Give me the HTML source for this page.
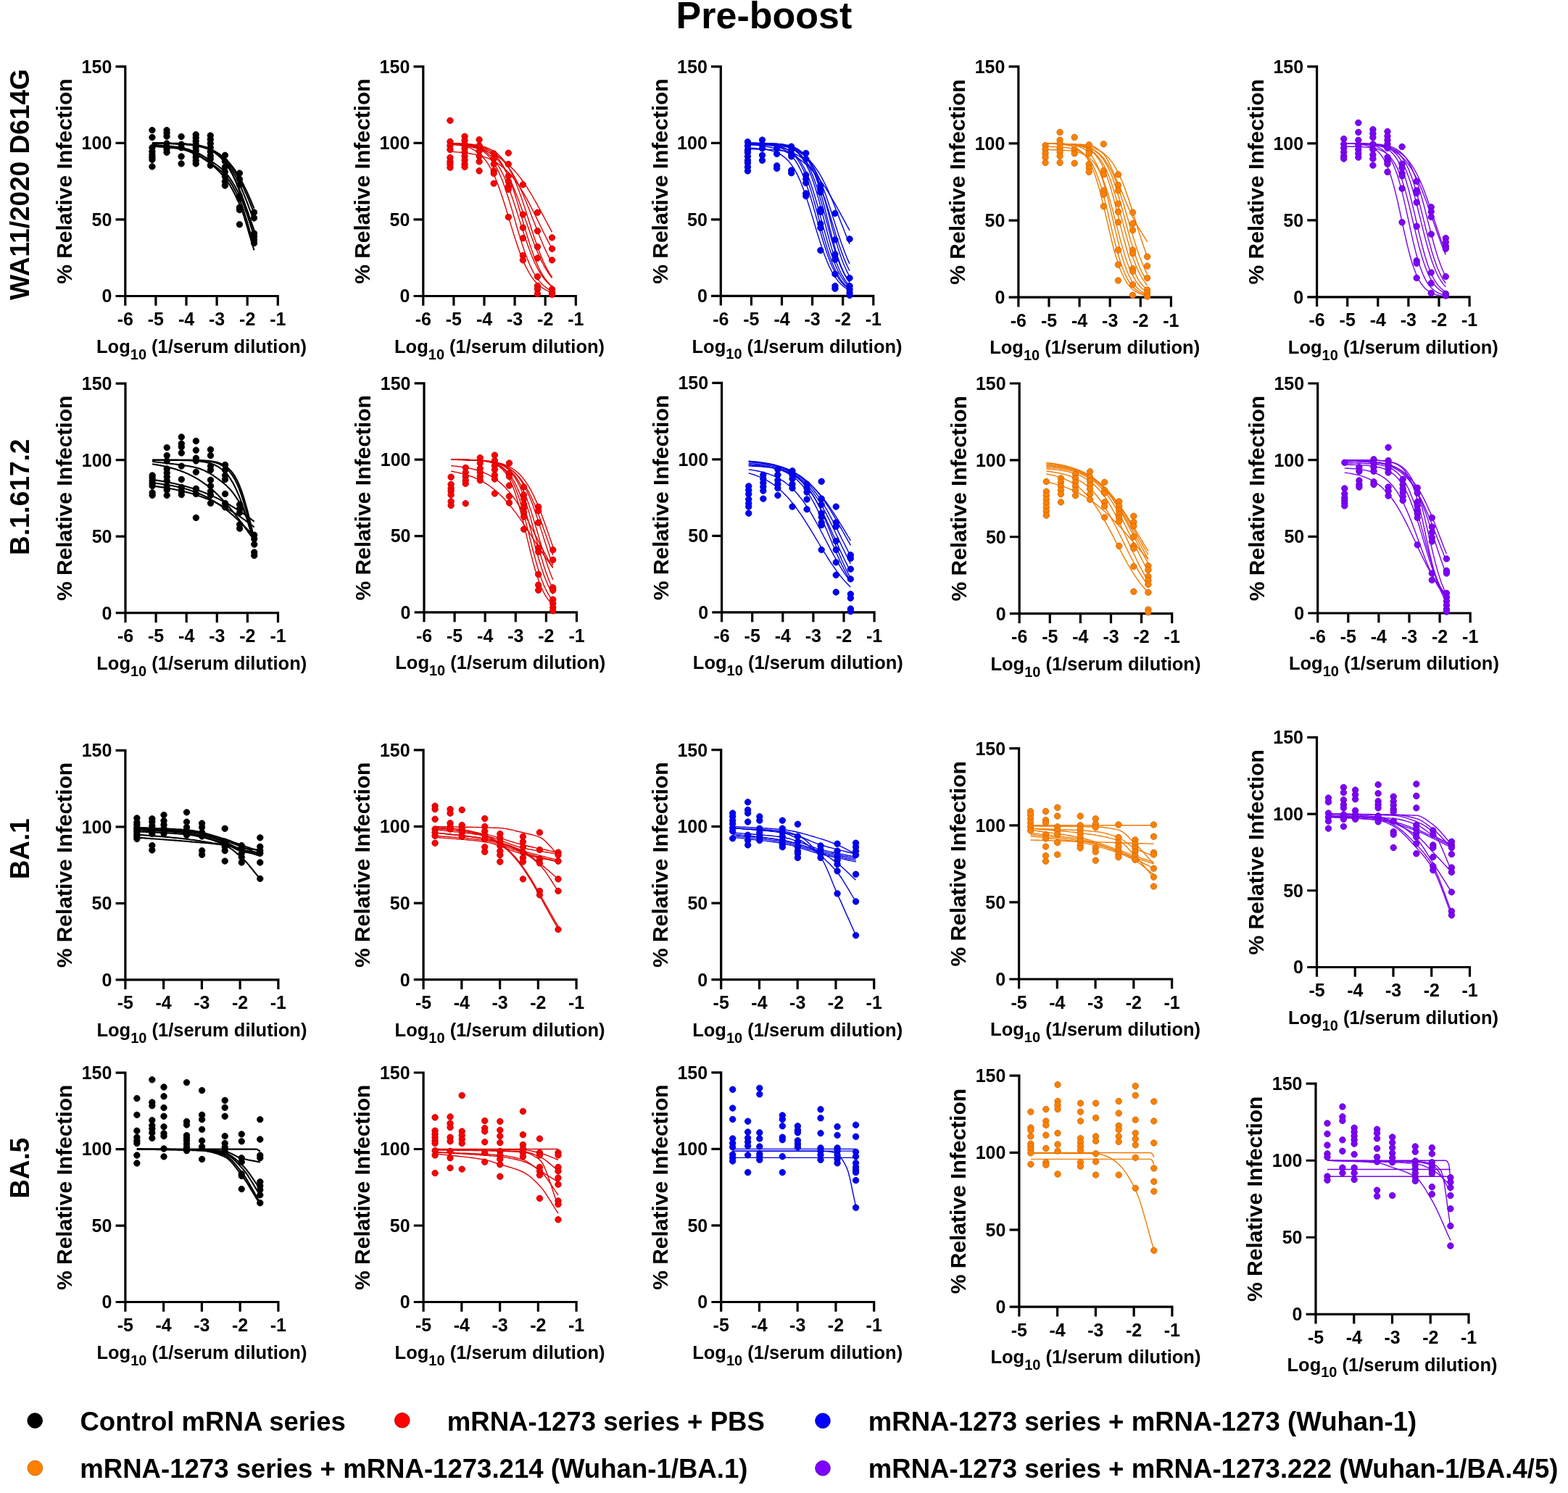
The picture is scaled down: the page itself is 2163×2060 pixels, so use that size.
<!DOCTYPE html><html><head><meta charset="utf-8"><title>Pre-boost</title><style>html,body{margin:0;padding:0;background:#fff;overflow:hidden;}svg{display:block;}text{font-family:'Liberation Sans', Arial, Helvetica, sans-serif;font-weight:bold;fill:#000;}</style></head><body>
<svg width="2163" height="2060" viewBox="0 0 2163 2060">
<rect width="2163" height="2060" fill="#fff"/>
<text x="1053.9" y="39.3" font-size="52" text-anchor="middle" fill="#1a1718">Pre-boost</text>
<text transform="translate(39.6 254.6) rotate(-90)" font-size="37" text-anchor="middle">WA11/2020 D614G</text>
<text transform="translate(39.6 685.8) rotate(-90)" font-size="37" text-anchor="middle">B.1.617.2</text>
<text transform="translate(39.6 1171.2) rotate(-90)" font-size="37" text-anchor="middle">BA.1</text>
<text transform="translate(39.6 1611.7) rotate(-90)" font-size="37" text-anchor="middle">BA.5</text>
<g><path d="M172.8 90.2V421.8M171.2 408.5H384.9M159.5 408.5H172.8M159.5 302.93H172.8M159.5 197.37H172.8M159.5 91.8H172.8M214.9 408.5V421.8M257 408.5V421.8M299.1 408.5V421.8M341.2 408.5V421.8M383.3 408.5V421.8" stroke="#000" stroke-width="3.2" fill="none"/><text x="154.3" y="417.4" font-size="25" text-anchor="end">0</text><text x="154.3" y="311.83" font-size="25" text-anchor="end">50</text><text x="154.3" y="206.27" font-size="25" text-anchor="end">100</text><text x="154.3" y="100.7" font-size="25" text-anchor="end">150</text><text x="172.8" y="449.1" font-size="25" text-anchor="middle">-6</text><text x="214.9" y="449.1" font-size="25" text-anchor="middle">-5</text><text x="257" y="449.1" font-size="25" text-anchor="middle">-4</text><text x="299.1" y="449.1" font-size="25" text-anchor="middle">-3</text><text x="341.2" y="449.1" font-size="25" text-anchor="middle">-2</text><text x="383.3" y="449.1" font-size="25" text-anchor="middle">-1</text><text x="278.05" y="486.7" font-size="25.5" text-anchor="middle">Log<tspan font-size="20" dy="8.8">10</tspan><tspan dy="-8.8"> (1/serum dilution)</tspan></text><text transform="translate(99.1 250.15) rotate(-90)" font-size="30" text-anchor="middle">% Relative Infection</text><path d="M209.9 197.6 211.7 197.6 213.5 197.6 215.2 197.6 217.0 197.7 218.7 197.7 220.5 197.7 222.2 197.7 224.0 197.8 225.8 197.8 227.5 197.8 229.3 197.9 231.0 197.9 232.8 198.0 234.5 198.0 236.3 198.1 238.1 198.2 239.8 198.2 241.6 198.3 243.3 198.4 245.1 198.5 246.8 198.6 248.6 198.7 250.4 198.8 252.1 198.9 253.9 199.0 255.6 199.2 257.4 199.3 259.2 199.5 260.9 199.7 262.7 199.9 264.4 200.1 266.2 200.3 267.9 200.6 269.7 200.8 271.5 201.1 273.2 201.4 275.0 201.8 276.7 202.1 278.5 202.5 280.2 203.0 282.0 203.5 283.8 204.0 285.5 204.5 287.3 205.1 289.0 205.7 290.8 206.4 292.5 207.2 294.3 208.0 296.1 208.8 297.8 209.8 299.6 210.8 301.3 211.9 303.1 213.0 304.8 214.3 306.6 215.6 308.4 217.0 310.1 218.5 311.9 220.2 313.6 221.9 315.4 223.7 317.2 225.7 318.9 227.8 320.7 230.0 322.4 232.4 324.2 234.9 325.9 237.5 327.7 240.2 329.5 243.1 331.2 246.1 333.0 249.3 334.7 252.6 336.5 256.1 338.2 259.6 340.0 263.3 341.8 267.1 343.5 271.0 345.3 275.1 347.0 279.2 348.8 283.3 350.5 287.6" stroke="#000000" stroke-width="2.1" fill="none" stroke-linejoin="round"/><path d="M209.9 197.5 211.7 197.6 213.5 197.6 215.2 197.6 217.0 197.6 218.7 197.6 220.5 197.7 222.2 197.7 224.0 197.7 225.8 197.8 227.5 197.8 229.3 197.8 231.0 197.9 232.8 197.9 234.5 198.0 236.3 198.0 238.1 198.1 239.8 198.1 241.6 198.2 243.3 198.3 245.1 198.4 246.8 198.5 248.6 198.5 250.4 198.7 252.1 198.8 253.9 198.9 255.6 199.0 257.4 199.2 259.2 199.3 260.9 199.5 262.7 199.7 264.4 199.9 266.2 200.2 267.9 200.4 269.7 200.7 271.5 201.0 273.2 201.3 275.0 201.6 276.7 202.0 278.5 202.4 280.2 202.9 282.0 203.3 283.8 203.9 285.5 204.4 287.3 205.1 289.0 205.7 290.8 206.4 292.5 207.2 294.3 208.1 296.1 209.0 297.8 210.0 299.6 211.0 301.3 212.2 303.1 213.4 304.8 214.8 306.6 216.2 308.4 217.7 310.1 219.4 311.9 221.1 313.6 223.0 315.4 225.0 317.2 227.2 318.9 229.5 320.7 231.9 322.4 234.5 324.2 237.2 325.9 240.0 327.7 243.1 329.5 246.2 331.2 249.6 333.0 253.0 334.7 256.7 336.5 260.4 338.2 264.3 340.0 268.3 341.8 272.5 343.5 276.7 345.3 281.0 347.0 285.4 348.8 289.9 350.5 294.4" stroke="#000000" stroke-width="2.1" fill="none" stroke-linejoin="round"/><path d="M209.9 197.5 211.7 197.5 213.5 197.5 215.2 197.6 217.0 197.6 218.7 197.6 220.5 197.6 222.2 197.6 224.0 197.7 225.8 197.7 227.5 197.7 229.3 197.8 231.0 197.8 232.8 197.9 234.5 197.9 236.3 198.0 238.1 198.0 239.8 198.1 241.6 198.1 243.3 198.2 245.1 198.3 246.8 198.4 248.6 198.5 250.4 198.6 252.1 198.7 253.9 198.8 255.6 199.0 257.4 199.1 259.2 199.3 260.9 199.4 262.7 199.6 264.4 199.9 266.2 200.1 267.9 200.4 269.7 200.6 271.5 200.9 273.2 201.3 275.0 201.6 276.7 202.0 278.5 202.5 280.2 203.0 282.0 203.5 283.8 204.0 285.5 204.7 287.3 205.3 289.0 206.1 290.8 206.9 292.5 207.7 294.3 208.7 296.1 209.7 297.8 210.8 299.6 212.0 301.3 213.3 303.1 214.6 304.8 216.2 306.6 217.8 308.4 219.5 310.1 221.4 311.9 223.4 313.6 225.6 315.4 227.9 317.2 230.3 318.9 233.0 320.7 235.7 322.4 238.7 324.2 241.8 325.9 245.1 327.7 248.6 329.5 252.2 331.2 256.0 333.0 259.9 334.7 264.0 336.5 268.2 338.2 272.6 340.0 277.1 341.8 281.7 343.5 286.3 345.3 291.1 347.0 295.8 348.8 300.7 350.5 305.5" stroke="#000000" stroke-width="2.1" fill="none" stroke-linejoin="round"/><path d="M209.9 197.5 211.7 197.5 213.5 197.5 215.2 197.5 217.0 197.6 218.7 197.6 220.5 197.6 222.2 197.6 224.0 197.6 225.8 197.7 227.5 197.7 229.3 197.7 231.0 197.8 232.8 197.8 234.5 197.9 236.3 197.9 238.1 198.0 239.8 198.0 241.6 198.1 243.3 198.2 245.1 198.2 246.8 198.3 248.6 198.4 250.4 198.5 252.1 198.6 253.9 198.8 255.6 198.9 257.4 199.1 259.2 199.2 260.9 199.4 262.7 199.6 264.4 199.9 266.2 200.1 267.9 200.4 269.7 200.7 271.5 201.0 273.2 201.4 275.0 201.8 276.7 202.2 278.5 202.7 280.2 203.2 282.0 203.8 283.8 204.4 285.5 205.1 287.3 205.8 289.0 206.6 290.8 207.5 292.5 208.5 294.3 209.5 296.1 210.7 297.8 211.9 299.6 213.3 301.3 214.8 303.1 216.4 304.8 218.1 306.6 219.9 308.4 222.0 310.1 224.1 311.9 226.5 313.6 229.0 315.4 231.6 317.2 234.5 318.9 237.5 320.7 240.7 322.4 244.1 324.2 247.7 325.9 251.5 327.7 255.5 329.5 259.6 331.2 263.9 333.0 268.3 334.7 272.9 336.5 277.7 338.2 282.5 340.0 287.4 341.8 292.4 343.5 297.5 345.3 302.5 347.0 307.6 348.8 312.7 350.5 317.7" stroke="#000000" stroke-width="2.1" fill="none" stroke-linejoin="round"/><path d="M209.9 197.4 211.7 197.4 213.5 197.5 215.2 197.5 217.0 197.5 218.7 197.5 220.5 197.5 222.2 197.5 224.0 197.5 225.8 197.5 227.5 197.6 229.3 197.6 231.0 197.6 232.8 197.6 234.5 197.7 236.3 197.7 238.1 197.7 239.8 197.8 241.6 197.8 243.3 197.9 245.1 197.9 246.8 198.0 248.6 198.1 250.4 198.2 252.1 198.2 253.9 198.3 255.6 198.4 257.4 198.6 259.2 198.7 260.9 198.8 262.7 199.0 264.4 199.2 266.2 199.4 267.9 199.6 269.7 199.9 271.5 200.1 273.2 200.4 275.0 200.8 276.7 201.1 278.5 201.6 280.2 202.0 282.0 202.5 283.8 203.1 285.5 203.7 287.3 204.4 289.0 205.1 290.8 206.0 292.5 206.9 294.3 207.9 296.1 209.0 297.8 210.2 299.6 211.6 301.3 213.0 303.1 214.6 304.8 216.4 306.6 218.3 308.4 220.4 310.1 222.6 311.9 225.1 313.6 227.7 315.4 230.6 317.2 233.6 318.9 236.9 320.7 240.4 322.4 244.2 324.2 248.1 325.9 252.3 327.7 256.7 329.5 261.3 331.2 266.1 333.0 271.1 334.7 276.3 336.5 281.6 338.2 287.0 340.0 292.5 341.8 298.0 343.5 303.6 345.3 309.2 347.0 314.7 348.8 320.2 350.5 325.6" stroke="#000000" stroke-width="2.1" fill="none" stroke-linejoin="round"/><path d="M209.9 200.5 211.7 200.7 213.5 200.9 215.2 201.0 217.0 201.2 218.7 201.4 220.5 201.5 222.2 201.6 224.0 201.8 225.8 201.9 227.5 202.1 229.3 202.2 231.0 202.4 232.8 202.5 234.5 202.7 236.3 202.9 238.1 203.1 239.8 203.3 241.6 203.5 243.3 203.7 245.1 204.0 246.8 204.2 248.6 204.5 250.4 204.8 252.1 205.2 253.9 205.6 255.6 206.1 257.4 206.7 259.2 207.3 260.9 208.0 262.7 208.7 264.4 209.5 266.2 210.3 267.9 211.1 269.7 211.9 271.5 212.7 273.2 213.7 275.0 214.6 276.7 215.6 278.5 216.7 280.2 217.8 282.0 219.0 283.8 220.2 285.5 221.4 287.3 222.7 289.0 223.9 290.8 225.2 292.5 226.4 294.3 227.7 296.1 229.0 297.8 230.3 299.6 231.7 301.3 233.1 303.1 234.6 304.8 236.1 306.6 237.8 308.4 239.5 310.1 241.4 311.9 243.5 313.6 245.7 315.4 248.1 317.2 250.7 318.9 253.4 320.7 256.3 322.4 259.4 324.2 262.7 325.9 266.1 327.7 269.6 329.5 273.3 331.2 277.2 333.0 281.6 334.7 286.4 336.5 291.7 338.2 297.2 340.0 303.0 341.8 309.0 343.5 315.1 345.3 321.2 347.0 327.3 348.8 333.1 350.5 338.8" stroke="#000000" stroke-width="2.1" fill="none" stroke-linejoin="round"/><path d="M209.9 201.6 211.7 201.8 213.5 201.9 215.2 202.1 217.0 202.3 218.7 202.4 220.5 202.6 222.2 202.7 224.0 202.8 225.8 203.0 227.5 203.1 229.3 203.3 231.0 203.4 232.8 203.6 234.5 203.8 236.3 203.9 238.1 204.1 239.8 204.3 241.6 204.5 243.3 204.8 245.1 205.0 246.8 205.3 248.6 205.6 250.4 205.9 252.1 206.2 253.9 206.7 255.6 207.2 257.4 207.8 259.2 208.4 260.9 209.1 262.7 209.8 264.4 210.6 266.2 211.4 267.9 212.2 269.7 213.0 271.5 213.8 273.2 214.7 275.0 215.6 276.7 216.6 278.5 217.7 280.2 218.8 282.0 219.9 283.8 221.1 285.5 222.3 287.3 223.6 289.0 224.9 290.8 226.3 292.5 227.7 294.3 229.1 296.1 230.6 297.8 232.2 299.6 233.9 301.3 235.6 303.1 237.4 304.8 239.3 306.6 241.3 308.4 243.4 310.1 245.6 311.9 247.9 313.6 250.4 315.4 253.0 317.2 255.8 318.9 258.7 320.7 261.8 322.4 265.1 324.2 268.5 325.9 272.0 327.7 275.7 329.5 279.6 331.2 283.6 333.0 288.1 334.7 293.0 336.5 298.2 338.2 303.8 340.0 309.6 341.8 315.6 343.5 321.6 345.3 327.6 347.0 333.6 348.8 339.5 350.5 345.2" stroke="#000000" stroke-width="2.1" fill="none" stroke-linejoin="round"/><path d="M209.9 199.5 211.7 199.7 213.5 199.8 215.2 200.0 217.0 200.2 218.7 200.3 220.5 200.5 222.2 200.6 224.0 200.8 225.8 200.9 227.5 201.1 229.3 201.2 231.0 201.4 232.8 201.5 234.5 201.7 236.3 201.9 238.1 202.1 239.8 202.3 241.6 202.5 243.3 202.7 245.1 202.9 246.8 203.2 248.6 203.5 250.4 203.7 252.1 204.1 253.9 204.5 255.6 204.9 257.4 205.4 259.2 205.9 260.9 206.5 262.7 207.1 264.4 207.8 266.2 208.4 267.9 209.1 269.7 209.8 271.5 210.6 273.2 211.4 275.0 212.2 276.7 213.2 278.5 214.2 280.2 215.2 282.0 216.3 283.8 217.4 285.5 218.5 287.3 219.6 289.0 220.8 290.8 222.0 292.5 223.2 294.3 224.3 296.1 225.5 297.8 226.8 299.6 228.0 301.3 229.4 303.1 230.8 304.8 232.2 306.6 233.8 308.4 235.4 310.1 237.2 311.9 239.1 313.6 241.2 315.4 243.5 317.2 246.0 318.9 248.6 320.7 251.3 322.4 254.2 324.2 257.3 325.9 260.5 327.7 263.8 329.5 267.2 331.2 270.7 333.0 274.6 334.7 278.9 336.5 283.5 338.2 288.3 340.0 293.3 341.8 298.4 343.5 303.7 345.3 308.9 347.0 314.1 348.8 319.1 350.5 324.0" stroke="#000000" stroke-width="2.1" fill="none" stroke-linejoin="round"/><g fill="#000000" stroke="#000000" stroke-width="0.9"><circle cx="209.94" cy="179.63" r="4.2"/><circle cx="209.94" cy="189.55" r="4.2"/><circle cx="209.94" cy="203.7" r="4.2"/><circle cx="209.94" cy="209.19" r="4.2"/><circle cx="209.94" cy="213.62" r="4.2"/><circle cx="209.94" cy="217" r="4.2"/><circle cx="209.94" cy="220.38" r="4.2"/><circle cx="209.94" cy="229.88" r="4.2"/><circle cx="230.03" cy="179.63" r="4.2"/><circle cx="230.03" cy="183.64" r="4.2"/><circle cx="230.03" cy="188.08" r="4.2"/><circle cx="230.03" cy="198" r="4.2"/><circle cx="230.03" cy="202.65" r="4.2"/><circle cx="230.03" cy="205.81" r="4.2"/><circle cx="230.03" cy="210.25" r="4.2"/><circle cx="250.11" cy="188.5" r="4.2"/><circle cx="250.11" cy="199.27" r="4.2"/><circle cx="250.11" cy="203.7" r="4.2"/><circle cx="250.11" cy="215.95" r="4.2"/><circle cx="250.11" cy="225.87" r="4.2"/><circle cx="270.2" cy="185.75" r="4.2"/><circle cx="270.2" cy="190.19" r="4.2"/><circle cx="270.2" cy="194.83" r="4.2"/><circle cx="270.2" cy="199.27" r="4.2"/><circle cx="270.2" cy="203.7" r="4.2"/><circle cx="270.2" cy="208.13" r="4.2"/><circle cx="270.2" cy="212.57" r="4.2"/><circle cx="270.2" cy="217" r="4.2"/><circle cx="270.2" cy="221.65" r="4.2"/><circle cx="270.2" cy="225.87" r="4.2"/><circle cx="290.29" cy="187.02" r="4.2"/><circle cx="290.29" cy="192.51" r="4.2"/><circle cx="290.29" cy="198" r="4.2"/><circle cx="290.29" cy="203.7" r="4.2"/><circle cx="290.29" cy="209.19" r="4.2"/><circle cx="290.29" cy="214.89" r="4.2"/><circle cx="290.29" cy="219.32" r="4.2"/><circle cx="290.29" cy="228.19" r="4.2"/><circle cx="310.37" cy="214.26" r="4.2"/><circle cx="310.37" cy="222.7" r="4.2"/><circle cx="310.37" cy="230.51" r="4.2"/><circle cx="310.37" cy="237.06" r="4.2"/><circle cx="310.37" cy="243.82" r="4.2"/><circle cx="310.37" cy="250.57" r="4.2"/><circle cx="310.37" cy="256.06" r="4.2"/><circle cx="330.46" cy="238.96" r="4.2"/><circle cx="330.46" cy="247.19" r="4.2"/><circle cx="330.46" cy="255.01" r="4.2"/><circle cx="330.46" cy="270.63" r="4.2"/><circle cx="330.46" cy="274.01" r="4.2"/><circle cx="330.46" cy="286.25" r="4.2"/><circle cx="330.46" cy="289.63" r="4.2"/><circle cx="330.46" cy="309.69" r="4.2"/><circle cx="350.55" cy="293.01" r="4.2"/><circle cx="350.55" cy="300.82" r="4.2"/><circle cx="350.55" cy="321.94" r="4.2"/><circle cx="350.55" cy="326.37" r="4.2"/><circle cx="350.55" cy="331.01" r="4.2"/><circle cx="350.55" cy="335.45" r="4.2"/></g></g>
<g><path d="M583.8 90.2V421.8M582.2 408.5H795.9M570.5 408.5H583.8M570.5 302.93H583.8M570.5 197.37H583.8M570.5 91.8H583.8M625.9 408.5V421.8M668 408.5V421.8M710.1 408.5V421.8M752.2 408.5V421.8M794.3 408.5V421.8" stroke="#000" stroke-width="3.2" fill="none"/><text x="565.3" y="417.4" font-size="25" text-anchor="end">0</text><text x="565.3" y="311.83" font-size="25" text-anchor="end">50</text><text x="565.3" y="206.27" font-size="25" text-anchor="end">100</text><text x="565.3" y="100.7" font-size="25" text-anchor="end">150</text><text x="583.8" y="449.1" font-size="25" text-anchor="middle">-6</text><text x="625.9" y="449.1" font-size="25" text-anchor="middle">-5</text><text x="668" y="449.1" font-size="25" text-anchor="middle">-4</text><text x="710.1" y="449.1" font-size="25" text-anchor="middle">-3</text><text x="752.2" y="449.1" font-size="25" text-anchor="middle">-2</text><text x="794.3" y="449.1" font-size="25" text-anchor="middle">-1</text><text x="689.05" y="486.7" font-size="25.5" text-anchor="middle">Log<tspan font-size="20" dy="8.8">10</tspan><tspan dy="-8.8"> (1/serum dilution)</tspan></text><text transform="translate(510.1 250.15) rotate(-90)" font-size="30" text-anchor="middle">% Relative Infection</text><path d="M620.9 198.6 622.7 198.8 624.5 198.9 626.2 199.1 628.0 199.3 629.7 199.5 631.5 199.8 633.2 200.0 635.0 200.3 636.8 200.7 638.5 201.1 640.3 201.5 642.0 202.0 643.8 202.5 645.5 203.1 647.3 203.7 649.1 204.4 650.8 205.2 652.6 206.1 654.3 207.1 656.1 208.2 657.8 209.4 659.6 210.7 661.4 212.1 663.1 213.7 664.9 215.5 666.6 217.4 668.4 219.5 670.2 221.7 671.9 224.2 673.7 226.9 675.4 229.9 677.2 233.0 678.9 236.4 680.7 240.1 682.5 243.9 684.2 248.1 686.0 252.5 687.7 257.1 689.5 261.9 691.2 267.0 693.0 272.2 694.8 277.7 696.5 283.2 698.3 288.9 700.0 294.7 701.8 300.5 703.5 306.3 705.3 312.1 707.1 317.9 708.8 323.6 710.6 329.1 712.3 334.5 714.1 339.7 715.8 344.8 717.6 349.6 719.4 354.1 721.1 358.5 722.9 362.6 724.6 366.4 726.4 370.0 728.2 373.4 729.9 376.5 731.7 379.4 733.4 382.1 735.2 384.5 736.9 386.8 738.7 388.8 740.5 390.7 742.2 392.4 744.0 394.0 745.7 395.4 747.5 396.7 749.2 397.9 751.0 398.9 752.8 399.9 754.5 400.8 756.3 401.6 758.0 402.3 759.8 402.9 761.5 403.5" stroke="#e00000" stroke-width="1.4" fill="none" stroke-linejoin="round"/><path d="M620.9 198.0 622.7 198.0 624.5 198.1 626.2 198.2 628.0 198.3 629.7 198.4 631.5 198.6 633.2 198.7 635.0 198.9 636.8 199.1 638.5 199.3 640.3 199.5 642.0 199.8 643.8 200.1 645.5 200.4 647.3 200.7 649.1 201.1 650.8 201.6 652.6 202.1 654.3 202.7 656.1 203.3 657.8 204.0 659.6 204.8 661.4 205.6 663.1 206.6 664.9 207.7 666.6 208.9 668.4 210.2 670.2 211.7 671.9 213.3 673.7 215.1 675.4 217.0 677.2 219.2 678.9 221.6 680.7 224.1 682.5 226.9 684.2 230.0 686.0 233.3 687.7 236.9 689.5 240.7 691.2 244.8 693.0 249.2 694.8 253.9 696.5 258.8 698.3 263.9 700.0 269.3 701.8 274.8 703.5 280.6 705.3 286.5 707.1 292.4 708.8 298.5 710.6 304.6 712.3 310.7 714.1 316.7 715.8 322.6 717.6 328.4 719.4 334.1 721.1 339.5 722.9 344.8 724.6 349.8 726.4 354.6 728.2 359.1 729.9 363.3 731.7 367.3 733.4 370.9 735.2 374.4 736.9 377.5 738.7 380.5 740.5 383.2 742.2 385.6 744.0 387.9 745.7 389.9 747.5 391.8 749.2 393.5 751.0 395.0 752.8 396.4 754.5 397.6 756.3 398.8 758.0 399.8 759.8 400.7 761.5 401.5" stroke="#e00000" stroke-width="1.4" fill="none" stroke-linejoin="round"/><path d="M620.9 198.0 622.7 198.1 624.5 198.2 626.2 198.3 628.0 198.4 629.7 198.5 631.5 198.6 633.2 198.8 635.0 198.9 636.8 199.1 638.5 199.3 640.3 199.5 642.0 199.7 643.8 200.0 645.5 200.3 647.3 200.6 649.1 201.0 650.8 201.4 652.6 201.8 654.3 202.3 656.1 202.8 657.8 203.4 659.6 204.1 661.4 204.8 663.1 205.6 664.9 206.5 666.6 207.4 668.4 208.5 670.2 209.7 671.9 210.9 673.7 212.4 675.4 213.9 677.2 215.6 678.9 217.4 680.7 219.4 682.5 221.6 684.2 224.0 686.0 226.5 687.7 229.3 689.5 232.2 691.2 235.4 693.0 238.8 694.8 242.5 696.5 246.3 698.3 250.4 700.0 254.7 701.8 259.3 703.5 264.0 705.3 268.9 707.1 274.0 708.8 279.2 710.6 284.6 712.3 290.0 714.1 295.6 715.8 301.1 717.6 306.7 719.4 312.3 721.1 317.8 722.9 323.2 724.6 328.5 726.4 333.7 728.2 338.7 729.9 343.6 731.7 348.2 733.4 352.7 735.2 356.9 736.9 360.9 738.7 364.7 740.5 368.3 742.2 371.6 744.0 374.7 745.7 377.6 747.5 380.3 749.2 382.8 751.0 385.1 752.8 387.2 754.5 389.1 756.3 390.9 758.0 392.5 759.8 394.0 761.5 395.4" stroke="#e00000" stroke-width="1.4" fill="none" stroke-linejoin="round"/><path d="M620.9 197.7 622.7 197.7 624.5 197.7 626.2 197.8 628.0 197.8 629.7 197.9 631.5 198.0 633.2 198.0 635.0 198.1 636.8 198.2 638.5 198.3 640.3 198.4 642.0 198.6 643.8 198.7 645.5 198.9 647.3 199.1 649.1 199.3 650.8 199.5 652.6 199.8 654.3 200.1 656.1 200.4 657.8 200.7 659.6 201.1 661.4 201.6 663.1 202.1 664.9 202.7 666.6 203.3 668.4 204.0 670.2 204.8 671.9 205.7 673.7 206.6 675.4 207.7 677.2 208.9 678.9 210.2 680.7 211.7 682.5 213.3 684.2 215.1 686.0 217.1 687.7 219.2 689.5 221.6 691.2 224.2 693.0 227.0 694.8 230.0 696.5 233.4 698.3 236.9 700.0 240.8 701.8 244.9 703.5 249.3 705.3 253.9 707.1 258.8 708.8 264.0 710.6 269.3 712.3 274.9 714.1 280.6 715.8 286.5 717.6 292.5 719.4 298.6 721.1 304.7 722.9 310.7 724.6 316.8 726.4 322.7 728.2 328.5 729.9 334.1 731.7 339.6 733.4 344.8 735.2 349.8 736.9 354.6 738.7 359.1 740.5 363.3 742.2 367.3 744.0 371.0 745.7 374.4 747.5 377.6 749.2 380.5 751.0 383.2 752.8 385.6 754.5 387.9 756.3 389.9 758.0 391.8 759.8 393.5 761.5 395.0" stroke="#e00000" stroke-width="1.4" fill="none" stroke-linejoin="round"/><path d="M620.9 198.1 622.7 198.2 624.5 198.2 626.2 198.3 628.0 198.4 629.7 198.5 631.5 198.6 633.2 198.8 635.0 198.9 636.8 199.1 638.5 199.2 640.3 199.4 642.0 199.6 643.8 199.8 645.5 200.1 647.3 200.4 649.1 200.7 650.8 201.0 652.6 201.3 654.3 201.7 656.1 202.2 657.8 202.6 659.6 203.2 661.4 203.7 663.1 204.3 664.9 205.0 666.6 205.8 668.4 206.6 670.2 207.5 671.9 208.4 673.7 209.5 675.4 210.6 677.2 211.9 678.9 213.2 680.7 214.7 682.5 216.3 684.2 218.0 686.0 219.9 687.7 221.9 689.5 224.0 691.2 226.4 693.0 228.9 694.8 231.5 696.5 234.4 698.3 237.4 700.0 240.6 701.8 244.0 703.5 247.6 705.3 251.4 707.1 255.3 708.8 259.4 710.6 263.7 712.3 268.2 714.1 272.8 715.8 277.5 717.6 282.3 719.4 287.3 721.1 292.2 722.9 297.3 724.6 302.4 726.4 307.4 728.2 312.5 729.9 317.5 731.7 322.4 733.4 327.3 735.2 332.0 736.9 336.7 738.7 341.1 740.5 345.5 742.2 349.6 744.0 353.6 745.7 357.4 747.5 361.1 749.2 364.5 751.0 367.8 752.8 370.8 754.5 373.7 756.3 376.4 758.0 378.9 759.8 381.3 761.5 383.5" stroke="#e00000" stroke-width="1.4" fill="none" stroke-linejoin="round"/><path d="M620.9 197.7 622.7 197.7 624.5 197.8 626.2 197.8 628.0 197.8 629.7 197.9 631.5 198.0 633.2 198.0 635.0 198.1 636.8 198.2 638.5 198.3 640.3 198.4 642.0 198.5 643.8 198.6 645.5 198.7 647.3 198.9 649.1 199.1 650.8 199.3 652.6 199.5 654.3 199.7 656.1 200.0 657.8 200.2 659.6 200.6 661.4 200.9 663.1 201.3 664.9 201.7 666.6 202.2 668.4 202.7 670.2 203.3 671.9 203.9 673.7 204.7 675.4 205.4 677.2 206.3 678.9 207.2 680.7 208.3 682.5 209.4 684.2 210.7 686.0 212.1 687.7 213.6 689.5 215.3 691.2 217.1 693.0 219.0 694.8 221.2 696.5 223.5 698.3 226.0 700.0 228.7 701.8 231.7 703.5 234.8 705.3 238.2 707.1 241.8 708.8 245.6 710.6 249.7 712.3 253.9 714.1 258.4 715.8 263.1 717.6 268.0 719.4 273.0 721.1 278.2 722.9 283.6 724.6 289.0 726.4 294.5 728.2 300.1 729.9 305.7 731.7 311.2 733.4 316.8 735.2 322.2 736.9 327.5 738.7 332.8 740.5 337.8 742.2 342.7 744.0 347.4 745.7 351.9 747.5 356.1 749.2 360.2 751.0 364.0 752.8 367.6 754.5 371.0 756.3 374.1 758.0 377.1 759.8 379.8 761.5 382.3" stroke="#e00000" stroke-width="1.4" fill="none" stroke-linejoin="round"/><path d="M620.9 198.1 622.7 198.2 624.5 198.3 626.2 198.3 628.0 198.4 629.7 198.5 631.5 198.6 633.2 198.7 635.0 198.9 636.8 199.0 638.5 199.1 640.3 199.3 642.0 199.5 643.8 199.7 645.5 199.9 647.3 200.1 649.1 200.3 650.8 200.6 652.6 200.9 654.3 201.2 656.1 201.5 657.8 201.9 659.6 202.3 661.4 202.8 663.1 203.2 664.9 203.7 666.6 204.3 668.4 204.9 670.2 205.6 671.9 206.3 673.7 207.0 675.4 207.9 677.2 208.8 678.9 209.7 680.7 210.8 682.5 211.9 684.2 213.1 686.0 214.4 687.7 215.8 689.5 217.4 691.2 219.0 693.0 220.7 694.8 222.6 696.5 224.5 698.3 226.7 700.0 228.9 701.8 231.3 703.5 233.8 705.3 236.5 707.1 239.4 708.8 242.4 710.6 245.5 712.3 248.8 714.1 252.2 715.8 255.8 717.6 259.5 719.4 263.4 721.1 267.4 722.9 271.5 724.6 275.7 726.4 280.0 728.2 284.4 729.9 288.9 731.7 293.4 733.4 297.9 735.2 302.5 736.9 307.0 738.7 311.6 740.5 316.1 742.2 320.6 744.0 325.0 745.7 329.3 747.5 333.5 749.2 337.7 751.0 341.7 752.8 345.6 754.5 349.3 756.3 352.9 758.0 356.4 759.8 359.7 761.5 362.9" stroke="#e00000" stroke-width="1.4" fill="none" stroke-linejoin="round"/><path d="M620.9 209.2 622.7 209.3 624.5 209.4 626.2 209.5 628.0 209.6 629.7 209.8 631.5 209.9 633.2 210.1 635.0 210.2 636.8 210.4 638.5 210.6 640.3 210.8 642.0 211.0 643.8 211.2 645.5 211.4 647.3 211.7 649.1 212.0 650.8 212.3 652.6 212.6 654.3 212.9 656.1 213.3 657.8 213.7 659.6 214.1 661.4 214.5 663.1 215.0 664.9 215.5 666.6 216.1 668.4 216.6 670.2 217.3 671.9 217.9 673.7 218.6 675.4 219.4 677.2 220.2 678.9 221.0 680.7 222.0 682.5 222.9 684.2 224.0 686.0 225.0 687.7 226.2 689.5 227.4 691.2 228.8 693.0 230.1 694.8 231.6 696.5 233.2 698.3 234.8 700.0 236.5 701.8 238.3 703.5 240.2 705.3 242.2 707.1 244.3 708.8 246.5 710.6 248.8 712.3 251.2 714.1 253.7 715.8 256.3 717.6 259.0 719.4 261.8 721.1 264.7 722.9 267.7 724.6 270.7 726.4 273.9 728.2 277.1 729.9 280.4 731.7 283.8 733.4 287.2 735.2 290.7 736.9 294.2 738.7 297.8 740.5 301.4 742.2 305.0 744.0 308.6 745.7 312.2 747.5 315.8 749.2 319.4 751.0 323.0 752.8 326.5 754.5 329.9 756.3 333.4 758.0 336.7 759.8 340.0 761.5 343.2" stroke="#e00000" stroke-width="1.4" fill="none" stroke-linejoin="round"/><path d="M620.9 199.3 622.7 199.5 624.5 199.6 626.2 199.7 628.0 199.9 629.7 200.0 631.5 200.2 633.2 200.4 635.0 200.6 636.8 200.8 638.5 201.0 640.3 201.2 642.0 201.5 643.8 201.7 645.5 202.0 647.3 202.3 649.1 202.6 650.8 203.0 652.6 203.3 654.3 203.7 656.1 204.1 657.8 204.5 659.6 204.9 661.4 205.4 663.1 205.9 664.9 206.4 666.6 207.0 668.4 207.6 670.2 208.2 671.9 208.9 673.7 209.6 675.4 210.3 677.2 211.1 678.9 211.9 680.7 212.8 682.5 213.7 684.2 214.7 686.0 215.7 687.7 216.7 689.5 217.9 691.2 219.1 693.0 220.3 694.8 221.6 696.5 223.0 698.3 224.4 700.0 225.9 701.8 227.5 703.5 229.2 705.3 230.9 707.1 232.7 708.8 234.6 710.6 236.5 712.3 238.6 714.1 240.7 715.8 242.9 717.6 245.1 719.4 247.5 721.1 249.9 722.9 252.4 724.6 255.0 726.4 257.6 728.2 260.4 729.9 263.2 731.7 266.0 733.4 269.0 735.2 271.9 736.9 275.0 738.7 278.1 740.5 281.2 742.2 284.4 744.0 287.6 745.7 290.8 747.5 294.1 749.2 297.4 751.0 300.7 752.8 304.0 754.5 307.3 756.3 310.6 758.0 313.8 759.8 317.1 761.5 320.3" stroke="#e00000" stroke-width="1.4" fill="none" stroke-linejoin="round"/><g fill="#ff0000" stroke="#b80008" stroke-width="0.9"><circle cx="620.94" cy="166.33" r="4.2"/><circle cx="620.94" cy="195.47" r="4.2"/><circle cx="620.94" cy="200.96" r="4.2"/><circle cx="620.94" cy="206.45" r="4.2"/><circle cx="620.94" cy="217.42" r="4.2"/><circle cx="620.94" cy="222.91" r="4.2"/><circle cx="620.94" cy="226.5" r="4.2"/><circle cx="620.94" cy="231.15" r="4.2"/><circle cx="641.03" cy="188.29" r="4.2"/><circle cx="641.03" cy="193.78" r="4.2"/><circle cx="641.03" cy="199.27" r="4.2"/><circle cx="641.03" cy="204.76" r="4.2"/><circle cx="641.03" cy="210.03" r="4.2"/><circle cx="641.03" cy="215.52" r="4.2"/><circle cx="641.03" cy="221.01" r="4.2"/><circle cx="641.03" cy="226.5" r="4.2"/><circle cx="641.03" cy="230.3" r="4.2"/><circle cx="661.11" cy="192.72" r="4.2"/><circle cx="661.11" cy="200.96" r="4.2"/><circle cx="661.11" cy="208.35" r="4.2"/><circle cx="661.11" cy="215.52" r="4.2"/><circle cx="661.11" cy="222.91" r="4.2"/><circle cx="661.11" cy="235.79" r="4.2"/><circle cx="681.2" cy="211.93" r="4.2"/><circle cx="681.2" cy="219.32" r="4.2"/><circle cx="681.2" cy="226.5" r="4.2"/><circle cx="681.2" cy="235.79" r="4.2"/><circle cx="681.2" cy="239.38" r="4.2"/><circle cx="681.2" cy="253.11" r="4.2"/><circle cx="701.29" cy="211.09" r="4.2"/><circle cx="701.29" cy="226.5" r="4.2"/><circle cx="701.29" cy="242.97" r="4.2"/><circle cx="701.29" cy="250.36" r="4.2"/><circle cx="701.29" cy="257.54" r="4.2"/><circle cx="701.29" cy="261.34" r="4.2"/><circle cx="701.29" cy="299.56" r="4.2"/><circle cx="721.37" cy="254.79" r="4.2"/><circle cx="721.37" cy="295.97" r="4.2"/><circle cx="721.37" cy="314.12" r="4.2"/><circle cx="721.37" cy="328.69" r="4.2"/><circle cx="721.37" cy="352.55" r="4.2"/><circle cx="721.37" cy="358.88" r="4.2"/><circle cx="741.46" cy="293.22" r="4.2"/><circle cx="741.46" cy="318.77" r="4.2"/><circle cx="741.46" cy="340.52" r="4.2"/><circle cx="741.46" cy="356.14" r="4.2"/><circle cx="741.46" cy="381.69" r="4.2"/><circle cx="741.46" cy="394.35" r="4.2"/><circle cx="741.46" cy="399" r="4.2"/><circle cx="741.46" cy="405.33" r="4.2"/><circle cx="761.55" cy="327.85" r="4.2"/><circle cx="761.55" cy="343.26" r="4.2"/><circle cx="761.55" cy="358.88" r="4.2"/><circle cx="761.55" cy="399" r="4.2"/><circle cx="761.55" cy="403.64" r="4.2"/><circle cx="761.55" cy="406.39" r="4.2"/></g></g>
<g><path d="M994.3 90.2V421.6M992.7 408.3H1206.4M981 408.3H994.3M981 302.8H994.3M981 197.3H994.3M981 91.8H994.3M1036.4 408.3V421.6M1078.5 408.3V421.6M1120.6 408.3V421.6M1162.7 408.3V421.6M1204.8 408.3V421.6" stroke="#000" stroke-width="3.2" fill="none"/><text x="975.8" y="417.2" font-size="25" text-anchor="end">0</text><text x="975.8" y="311.7" font-size="25" text-anchor="end">50</text><text x="975.8" y="206.2" font-size="25" text-anchor="end">100</text><text x="975.8" y="100.7" font-size="25" text-anchor="end">150</text><text x="994.3" y="448.9" font-size="25" text-anchor="middle">-6</text><text x="1036.4" y="448.9" font-size="25" text-anchor="middle">-5</text><text x="1078.5" y="448.9" font-size="25" text-anchor="middle">-4</text><text x="1120.6" y="448.9" font-size="25" text-anchor="middle">-3</text><text x="1162.7" y="448.9" font-size="25" text-anchor="middle">-2</text><text x="1204.8" y="448.9" font-size="25" text-anchor="middle">-1</text><text x="1099.55" y="486.5" font-size="25.5" text-anchor="middle">Log<tspan font-size="20" dy="8.8">10</tspan><tspan dy="-8.8"> (1/serum dilution)</tspan></text><text transform="translate(920.6 250.05) rotate(-90)" font-size="30" text-anchor="middle">% Relative Infection</text><path d="M1031.4 204.1 1033.2 204.2 1035.0 204.3 1036.7 204.4 1038.5 204.4 1040.2 204.5 1042.0 204.6 1043.7 204.8 1045.5 204.9 1047.3 205.1 1049.0 205.2 1050.8 205.4 1052.5 205.7 1054.3 205.9 1056.0 206.2 1057.8 206.5 1059.6 206.8 1061.3 207.2 1063.1 207.6 1064.8 208.1 1066.6 208.7 1068.3 209.2 1070.1 209.9 1071.9 210.7 1073.6 211.5 1075.4 212.4 1077.1 213.4 1078.9 214.6 1080.7 215.8 1082.4 217.2 1084.2 218.7 1085.9 220.4 1087.7 222.3 1089.4 224.4 1091.2 226.6 1093.0 229.1 1094.7 231.7 1096.5 234.7 1098.2 237.8 1100.0 241.2 1101.7 244.9 1103.5 248.8 1105.3 253.0 1107.0 257.5 1108.8 262.2 1110.5 267.1 1112.3 272.3 1114.0 277.6 1115.8 283.2 1117.6 288.9 1119.3 294.6 1121.1 300.5 1122.8 306.4 1124.6 312.3 1126.3 318.1 1128.1 323.9 1129.9 329.6 1131.6 335.1 1133.4 340.4 1135.1 345.5 1136.9 350.4 1138.7 355.1 1140.4 359.5 1142.2 363.7 1143.9 367.6 1145.7 371.2 1147.4 374.6 1149.2 377.7 1151.0 380.6 1152.7 383.2 1154.5 385.7 1156.2 387.9 1158.0 389.9 1159.7 391.8 1161.5 393.4 1163.3 394.9 1165.0 396.3 1166.8 397.5 1168.5 398.7 1170.3 399.7 1172.0 400.6" stroke="#0000e6" stroke-width="1.4" fill="none" stroke-linejoin="round"/><path d="M1031.4 197.6 1033.2 197.6 1035.0 197.7 1036.7 197.7 1038.5 197.8 1040.2 197.9 1042.0 197.9 1043.7 198.0 1045.5 198.1 1047.3 198.2 1049.0 198.3 1050.8 198.5 1052.5 198.6 1054.3 198.8 1056.0 198.9 1057.8 199.2 1059.6 199.4 1061.3 199.7 1063.1 200.0 1064.8 200.3 1066.6 200.7 1068.3 201.1 1070.1 201.6 1071.9 202.1 1073.6 202.7 1075.4 203.3 1077.1 204.1 1078.9 204.9 1080.7 205.9 1082.4 206.9 1084.2 208.1 1085.9 209.4 1087.7 210.8 1089.4 212.4 1091.2 214.2 1093.0 216.2 1094.7 218.3 1096.5 220.7 1098.2 223.3 1100.0 226.2 1101.7 229.3 1103.5 232.7 1105.3 236.4 1107.0 240.4 1108.8 244.6 1110.5 249.2 1112.3 254.0 1114.0 259.2 1115.8 264.5 1117.6 270.2 1119.3 276.0 1121.1 282.0 1122.8 288.2 1124.6 294.4 1126.3 300.8 1128.1 307.1 1129.9 313.4 1131.6 319.6 1133.4 325.7 1135.1 331.7 1136.9 337.5 1138.7 343.0 1140.4 348.3 1142.2 353.3 1143.9 358.1 1145.7 362.5 1147.4 366.7 1149.2 370.5 1151.0 374.1 1152.7 377.4 1154.5 380.5 1156.2 383.2 1158.0 385.8 1159.7 388.1 1161.5 390.2 1163.3 392.1 1165.0 393.8 1166.8 395.3 1168.5 396.7 1170.3 398.0 1172.0 399.1" stroke="#0000e6" stroke-width="1.4" fill="none" stroke-linejoin="round"/><path d="M1031.4 197.5 1033.2 197.5 1035.0 197.5 1036.7 197.6 1038.5 197.6 1040.2 197.7 1042.0 197.7 1043.7 197.8 1045.5 197.8 1047.3 197.9 1049.0 198.0 1050.8 198.1 1052.5 198.2 1054.3 198.3 1056.0 198.4 1057.8 198.5 1059.6 198.7 1061.3 198.9 1063.1 199.1 1064.8 199.4 1066.6 199.6 1068.3 199.9 1070.1 200.3 1071.9 200.7 1073.6 201.1 1075.4 201.6 1077.1 202.2 1078.9 202.8 1080.7 203.5 1082.4 204.3 1084.2 205.2 1085.9 206.2 1087.7 207.3 1089.4 208.6 1091.2 210.0 1093.0 211.6 1094.7 213.3 1096.5 215.3 1098.2 217.4 1100.0 219.8 1101.7 222.5 1103.5 225.4 1105.3 228.6 1107.0 232.0 1108.8 235.8 1110.5 239.9 1112.3 244.3 1114.0 249.0 1115.8 254.1 1117.6 259.4 1119.3 265.0 1121.1 270.9 1122.8 277.0 1124.6 283.3 1126.3 289.7 1128.1 296.2 1129.9 302.8 1131.6 309.4 1133.4 315.9 1135.1 322.4 1136.9 328.6 1138.7 334.7 1140.4 340.6 1142.2 346.2 1143.9 351.5 1145.7 356.6 1147.4 361.3 1149.2 365.7 1151.0 369.8 1152.7 373.6 1154.5 377.1 1156.2 380.2 1158.0 383.1 1159.7 385.8 1161.5 388.2 1163.3 390.3 1165.0 392.3 1166.8 394.0 1168.5 395.6 1170.3 397.0 1172.0 398.3" stroke="#0000e6" stroke-width="1.4" fill="none" stroke-linejoin="round"/><path d="M1031.4 199.6 1033.2 199.6 1035.0 199.6 1036.7 199.6 1038.5 199.7 1040.2 199.7 1042.0 199.7 1043.7 199.8 1045.5 199.8 1047.3 199.9 1049.0 199.9 1050.8 200.0 1052.5 200.1 1054.3 200.2 1056.0 200.3 1057.8 200.4 1059.6 200.5 1061.3 200.7 1063.1 200.8 1064.8 201.0 1066.6 201.2 1068.3 201.5 1070.1 201.7 1071.9 202.0 1073.6 202.4 1075.4 202.8 1077.1 203.2 1078.9 203.7 1080.7 204.3 1082.4 204.9 1084.2 205.6 1085.9 206.4 1087.7 207.3 1089.4 208.3 1091.2 209.4 1093.0 210.7 1094.7 212.1 1096.5 213.7 1098.2 215.4 1100.0 217.4 1101.7 219.5 1103.5 221.9 1105.3 224.6 1107.0 227.5 1108.8 230.6 1110.5 234.1 1112.3 237.9 1114.0 241.9 1115.8 246.3 1117.6 251.0 1119.3 256.0 1121.1 261.3 1122.8 266.9 1124.6 272.8 1126.3 278.8 1128.1 285.0 1129.9 291.4 1131.6 297.9 1133.4 304.4 1135.1 310.9 1136.9 317.4 1138.7 323.7 1140.4 329.9 1142.2 336.0 1143.9 341.8 1145.7 347.3 1147.4 352.5 1149.2 357.5 1151.0 362.2 1152.7 366.5 1154.5 370.5 1156.2 374.2 1158.0 377.6 1159.7 380.8 1161.5 383.6 1163.3 386.2 1165.0 388.6 1166.8 390.7 1168.5 392.6 1170.3 394.3 1172.0 395.9" stroke="#0000e6" stroke-width="1.4" fill="none" stroke-linejoin="round"/><path d="M1031.4 197.4 1033.2 197.4 1035.0 197.4 1036.7 197.4 1038.5 197.5 1040.2 197.5 1042.0 197.5 1043.7 197.5 1045.5 197.6 1047.3 197.6 1049.0 197.6 1050.8 197.7 1052.5 197.7 1054.3 197.8 1056.0 197.8 1057.8 197.9 1059.6 198.0 1061.3 198.1 1063.1 198.2 1064.8 198.3 1066.6 198.5 1068.3 198.7 1070.1 198.8 1071.9 199.1 1073.6 199.3 1075.4 199.6 1077.1 199.9 1078.9 200.2 1080.7 200.6 1082.4 201.1 1084.2 201.6 1085.9 202.2 1087.7 202.8 1089.4 203.6 1091.2 204.4 1093.0 205.4 1094.7 206.5 1096.5 207.7 1098.2 209.0 1100.0 210.5 1101.7 212.3 1103.5 214.2 1105.3 216.3 1107.0 218.6 1108.8 221.3 1110.5 224.2 1112.3 227.4 1114.0 230.9 1115.8 234.7 1117.6 238.9 1119.3 243.4 1121.1 248.2 1122.8 253.4 1124.6 258.9 1126.3 264.7 1128.1 270.8 1129.9 277.1 1131.6 283.6 1133.4 290.3 1135.1 297.1 1136.9 304.0 1138.7 310.8 1140.4 317.5 1142.2 324.2 1143.9 330.7 1145.7 336.9 1147.4 342.9 1149.2 348.6 1151.0 354.0 1152.7 359.1 1154.5 363.8 1156.2 368.2 1158.0 372.2 1159.7 376.0 1161.5 379.3 1163.3 382.4 1165.0 385.2 1166.8 387.8 1168.5 390.1 1170.3 392.1 1172.0 393.9" stroke="#0000e6" stroke-width="1.4" fill="none" stroke-linejoin="round"/><path d="M1031.4 197.4 1033.2 197.4 1035.0 197.4 1036.7 197.4 1038.5 197.5 1040.2 197.5 1042.0 197.5 1043.7 197.5 1045.5 197.6 1047.3 197.6 1049.0 197.6 1050.8 197.7 1052.5 197.7 1054.3 197.8 1056.0 197.9 1057.8 197.9 1059.6 198.0 1061.3 198.1 1063.1 198.2 1064.8 198.3 1066.6 198.5 1068.3 198.6 1070.1 198.8 1071.9 199.0 1073.6 199.2 1075.4 199.5 1077.1 199.8 1078.9 200.1 1080.7 200.5 1082.4 200.9 1084.2 201.3 1085.9 201.9 1087.7 202.5 1089.4 203.1 1091.2 203.9 1093.0 204.7 1094.7 205.7 1096.5 206.7 1098.2 207.9 1100.0 209.3 1101.7 210.7 1103.5 212.4 1105.3 214.2 1107.0 216.3 1108.8 218.6 1110.5 221.1 1112.3 223.9 1114.0 226.9 1115.8 230.2 1117.6 233.8 1119.3 237.8 1121.1 242.0 1122.8 246.6 1124.6 251.5 1126.3 256.6 1128.1 262.1 1129.9 267.9 1131.6 273.8 1133.4 280.0 1135.1 286.4 1136.9 292.9 1138.7 299.5 1140.4 306.0 1142.2 312.6 1143.9 319.1 1145.7 325.5 1147.4 331.7 1149.2 337.6 1151.0 343.4 1152.7 348.9 1154.5 354.1 1156.2 358.9 1158.0 363.5 1159.7 367.8 1161.5 371.7 1163.3 375.3 1165.0 378.7 1166.8 381.7 1168.5 384.5 1170.3 387.0 1172.0 389.3" stroke="#0000e6" stroke-width="1.4" fill="none" stroke-linejoin="round"/><path d="M1031.4 197.3 1033.2 197.4 1035.0 197.4 1036.7 197.4 1038.5 197.4 1040.2 197.4 1042.0 197.4 1043.7 197.4 1045.5 197.4 1047.3 197.5 1049.0 197.5 1050.8 197.5 1052.5 197.5 1054.3 197.6 1056.0 197.6 1057.8 197.6 1059.6 197.7 1061.3 197.7 1063.1 197.8 1064.8 197.9 1066.6 198.0 1068.3 198.1 1070.1 198.2 1071.9 198.3 1073.6 198.4 1075.4 198.6 1077.1 198.8 1078.9 199.0 1080.7 199.3 1082.4 199.5 1084.2 199.9 1085.9 200.2 1087.7 200.6 1089.4 201.1 1091.2 201.6 1093.0 202.3 1094.7 202.9 1096.5 203.7 1098.2 204.6 1100.0 205.6 1101.7 206.8 1103.5 208.1 1105.3 209.5 1107.0 211.2 1108.8 213.1 1110.5 215.1 1112.3 217.5 1114.0 220.0 1115.8 222.9 1117.6 226.1 1119.3 229.6 1121.1 233.5 1122.8 237.7 1124.6 242.3 1126.3 247.2 1128.1 252.5 1129.9 258.2 1131.6 264.2 1133.4 270.5 1135.1 277.0 1136.9 283.8 1138.7 290.7 1140.4 297.8 1142.2 304.9 1143.9 312.0 1145.7 319.0 1147.4 325.8 1149.2 332.5 1151.0 338.9 1152.7 345.0 1154.5 350.8 1156.2 356.2 1158.0 361.3 1159.7 366.1 1161.5 370.4 1163.3 374.4 1165.0 378.1 1166.8 381.4 1168.5 384.4 1170.3 387.1 1172.0 389.5" stroke="#0000e6" stroke-width="1.4" fill="none" stroke-linejoin="round"/><path d="M1031.4 197.4 1033.2 197.4 1035.0 197.4 1036.7 197.4 1038.5 197.4 1040.2 197.4 1042.0 197.4 1043.7 197.5 1045.5 197.5 1047.3 197.5 1049.0 197.5 1050.8 197.6 1052.5 197.6 1054.3 197.6 1056.0 197.7 1057.8 197.7 1059.6 197.8 1061.3 197.8 1063.1 197.9 1064.8 198.0 1066.6 198.1 1068.3 198.2 1070.1 198.3 1071.9 198.5 1073.6 198.6 1075.4 198.8 1077.1 199.0 1078.9 199.2 1080.7 199.4 1082.4 199.7 1084.2 200.1 1085.9 200.4 1087.7 200.8 1089.4 201.3 1091.2 201.8 1093.0 202.4 1094.7 203.0 1096.5 203.8 1098.2 204.6 1100.0 205.5 1101.7 206.6 1103.5 207.8 1105.3 209.1 1107.0 210.6 1108.8 212.2 1110.5 214.0 1112.3 216.1 1114.0 218.3 1115.8 220.8 1117.6 223.5 1119.3 226.5 1121.1 229.8 1122.8 233.4 1124.6 237.3 1126.3 241.5 1128.1 246.1 1129.9 250.9 1131.6 256.0 1133.4 261.5 1135.1 267.2 1136.9 273.2 1138.7 279.3 1140.4 285.7 1142.2 292.1 1143.9 298.7 1145.7 305.3 1147.4 311.9 1149.2 318.4 1151.0 324.7 1152.7 331.0 1154.5 337.0 1156.2 342.8 1158.0 348.3 1159.7 353.5 1161.5 358.4 1163.3 363.0 1165.0 367.3 1166.8 371.3 1168.5 374.9 1170.3 378.3 1172.0 381.4" stroke="#0000e6" stroke-width="1.4" fill="none" stroke-linejoin="round"/><path d="M1031.4 205.8 1033.2 205.8 1035.0 205.9 1036.7 205.9 1038.5 205.9 1040.2 205.9 1042.0 205.9 1043.7 206.0 1045.5 206.0 1047.3 206.0 1049.0 206.0 1050.8 206.1 1052.5 206.1 1054.3 206.2 1056.0 206.2 1057.8 206.3 1059.6 206.4 1061.3 206.4 1063.1 206.5 1064.8 206.6 1066.6 206.7 1068.3 206.8 1070.1 207.0 1071.9 207.1 1073.6 207.3 1075.4 207.5 1077.1 207.7 1078.9 207.9 1080.7 208.2 1082.4 208.4 1084.2 208.8 1085.9 209.1 1087.7 209.5 1089.4 210.0 1091.2 210.5 1093.0 211.1 1094.7 211.7 1096.5 212.4 1098.2 213.2 1100.0 214.1 1101.7 215.0 1103.5 216.1 1105.3 217.3 1107.0 218.6 1108.8 220.1 1110.5 221.7 1112.3 223.5 1114.0 225.5 1115.8 227.6 1117.6 230.0 1119.3 232.6 1121.1 235.4 1122.8 238.4 1124.6 241.7 1126.3 245.2 1128.1 249.0 1129.9 253.1 1131.6 257.4 1133.4 261.9 1135.1 266.7 1136.9 271.8 1138.7 277.0 1140.4 282.4 1142.2 288.0 1143.9 293.7 1145.7 299.4 1147.4 305.3 1149.2 311.1 1151.0 316.9 1152.7 322.7 1154.5 328.3 1156.2 333.8 1158.0 339.2 1159.7 344.3 1161.5 349.3 1163.3 354.0 1165.0 358.4 1166.8 362.6 1168.5 366.6 1170.3 370.3 1172.0 373.7" stroke="#0000e6" stroke-width="1.4" fill="none" stroke-linejoin="round"/><path d="M1031.4 197.5 1033.2 197.5 1035.0 197.5 1036.7 197.5 1038.5 197.6 1040.2 197.6 1042.0 197.6 1043.7 197.7 1045.5 197.7 1047.3 197.7 1049.0 197.8 1050.8 197.8 1052.5 197.9 1054.3 198.0 1056.0 198.0 1057.8 198.1 1059.6 198.2 1061.3 198.3 1063.1 198.4 1064.8 198.5 1066.6 198.7 1068.3 198.8 1070.1 199.0 1071.9 199.2 1073.6 199.4 1075.4 199.6 1077.1 199.9 1078.9 200.2 1080.7 200.5 1082.4 200.8 1084.2 201.2 1085.9 201.7 1087.7 202.1 1089.4 202.7 1091.2 203.2 1093.0 203.9 1094.7 204.6 1096.5 205.4 1098.2 206.2 1100.0 207.2 1101.7 208.2 1103.5 209.4 1105.3 210.6 1107.0 212.0 1108.8 213.5 1110.5 215.2 1112.3 217.0 1114.0 219.0 1115.8 221.1 1117.6 223.4 1119.3 226.0 1121.1 228.7 1122.8 231.6 1124.6 234.8 1126.3 238.1 1128.1 241.7 1129.9 245.6 1131.6 249.6 1133.4 253.9 1135.1 258.4 1136.9 263.0 1138.7 267.9 1140.4 273.0 1142.2 278.2 1143.9 283.5 1145.7 289.0 1147.4 294.5 1149.2 300.0 1151.0 305.6 1152.7 311.2 1154.5 316.7 1156.2 322.1 1158.0 327.5 1159.7 332.7 1161.5 337.7 1163.3 342.6 1165.0 347.3 1166.8 351.8 1168.5 356.0 1170.3 360.1 1172.0 363.9" stroke="#0000e6" stroke-width="1.4" fill="none" stroke-linejoin="round"/><path d="M1031.4 197.7 1033.2 197.7 1035.0 197.8 1036.7 197.8 1038.5 197.9 1040.2 197.9 1042.0 198.0 1043.7 198.0 1045.5 198.1 1047.3 198.2 1049.0 198.3 1050.8 198.3 1052.5 198.4 1054.3 198.5 1056.0 198.7 1057.8 198.8 1059.6 198.9 1061.3 199.1 1063.1 199.2 1064.8 199.4 1066.6 199.6 1068.3 199.8 1070.1 200.0 1071.9 200.2 1073.6 200.5 1075.4 200.8 1077.1 201.1 1078.9 201.4 1080.7 201.8 1082.4 202.2 1084.2 202.6 1085.9 203.1 1087.7 203.6 1089.4 204.1 1091.2 204.7 1093.0 205.4 1094.7 206.1 1096.5 206.8 1098.2 207.6 1100.0 208.5 1101.7 209.5 1103.5 210.5 1105.3 211.6 1107.0 212.8 1108.8 214.1 1110.5 215.5 1112.3 217.0 1114.0 218.6 1115.8 220.3 1117.6 222.1 1119.3 224.1 1121.1 226.2 1122.8 228.4 1124.6 230.8 1126.3 233.3 1128.1 235.9 1129.9 238.7 1131.6 241.7 1133.4 244.8 1135.1 248.1 1136.9 251.5 1138.7 255.0 1140.4 258.7 1142.2 262.6 1143.9 266.5 1145.7 270.6 1147.4 274.8 1149.2 279.1 1151.0 283.5 1152.7 287.9 1154.5 292.4 1156.2 296.9 1158.0 301.5 1159.7 306.1 1161.5 310.6 1163.3 315.1 1165.0 319.6 1166.8 324.0 1168.5 328.4 1170.3 332.6 1172.0 336.7" stroke="#0000e6" stroke-width="1.4" fill="none" stroke-linejoin="round"/><path d="M1031.4 199.3 1033.2 199.5 1035.0 199.6 1036.7 199.7 1038.5 199.9 1040.2 200.1 1042.0 200.2 1043.7 200.4 1045.5 200.6 1047.3 200.8 1049.0 201.0 1050.8 201.3 1052.5 201.5 1054.3 201.8 1056.0 202.1 1057.8 202.3 1059.6 202.7 1061.3 203.0 1063.1 203.3 1064.8 203.7 1066.6 204.1 1068.3 204.5 1070.1 205.0 1071.9 205.4 1073.6 205.9 1075.4 206.5 1077.1 207.0 1078.9 207.6 1080.7 208.2 1082.4 208.9 1084.2 209.6 1085.9 210.3 1087.7 211.1 1089.4 211.9 1091.2 212.7 1093.0 213.6 1094.7 214.6 1096.5 215.6 1098.2 216.6 1100.0 217.7 1101.7 218.9 1103.5 220.1 1105.3 221.4 1107.0 222.8 1108.8 224.2 1110.5 225.6 1112.3 227.2 1114.0 228.8 1115.8 230.5 1117.6 232.2 1119.3 234.1 1121.1 236.0 1122.8 238.0 1124.6 240.0 1126.3 242.2 1128.1 244.4 1129.9 246.7 1131.6 249.0 1133.4 251.5 1135.1 254.0 1136.9 256.6 1138.7 259.2 1140.4 261.9 1142.2 264.7 1143.9 267.6 1145.7 270.5 1147.4 273.5 1149.2 276.5 1151.0 279.6 1152.7 282.7 1154.5 285.8 1156.2 289.0 1158.0 292.2 1159.7 295.4 1161.5 298.6 1163.3 301.9 1165.0 305.1 1166.8 308.4 1168.5 311.6 1170.3 314.8 1172.0 318.0" stroke="#0000e6" stroke-width="1.4" fill="none" stroke-linejoin="round"/><g fill="#0000ff" stroke="#0000a8" stroke-width="0.9"><circle cx="1031.44" cy="195.82" r="4.2"/><circle cx="1031.44" cy="201.31" r="4.2"/><circle cx="1031.44" cy="206.8" r="4.2"/><circle cx="1031.44" cy="210.38" r="4.2"/><circle cx="1031.44" cy="215.87" r="4.2"/><circle cx="1031.44" cy="221.35" r="4.2"/><circle cx="1031.44" cy="224.94" r="4.2"/><circle cx="1031.44" cy="230.43" r="4.2"/><circle cx="1031.44" cy="235.91" r="4.2"/><circle cx="1051.53" cy="193.08" r="4.2"/><circle cx="1051.53" cy="199.41" r="4.2"/><circle cx="1051.53" cy="204.9" r="4.2"/><circle cx="1051.53" cy="214.18" r="4.2"/><circle cx="1051.53" cy="221.35" r="4.2"/><circle cx="1071.61" cy="204.9" r="4.2"/><circle cx="1071.61" cy="212.28" r="4.2"/><circle cx="1071.61" cy="228.74" r="4.2"/><circle cx="1071.61" cy="232.33" r="4.2"/><circle cx="1091.7" cy="202.15" r="4.2"/><circle cx="1091.7" cy="206.8" r="4.2"/><circle cx="1091.7" cy="212.28" r="4.2"/><circle cx="1091.7" cy="215.87" r="4.2"/><circle cx="1091.7" cy="235.07" r="4.2"/><circle cx="1091.7" cy="238.66" r="4.2"/><circle cx="1111.79" cy="211.44" r="4.2"/><circle cx="1111.79" cy="219.46" r="4.2"/><circle cx="1111.79" cy="241.4" r="4.2"/><circle cx="1111.79" cy="246.89" r="4.2"/><circle cx="1111.79" cy="252.37" r="4.2"/><circle cx="1111.79" cy="266.93" r="4.2"/><circle cx="1111.79" cy="270.52" r="4.2"/><circle cx="1131.87" cy="255.96" r="4.2"/><circle cx="1131.87" cy="261.44" r="4.2"/><circle cx="1131.87" cy="265.24" r="4.2"/><circle cx="1131.87" cy="288.87" r="4.2"/><circle cx="1131.87" cy="292.46" r="4.2"/><circle cx="1131.87" cy="308.92" r="4.2"/><circle cx="1131.87" cy="314.41" r="4.2"/><circle cx="1131.87" cy="345.42" r="4.2"/><circle cx="1151.96" cy="294.36" r="4.2"/><circle cx="1151.96" cy="330.86" r="4.2"/><circle cx="1151.96" cy="350.91" r="4.2"/><circle cx="1151.96" cy="358.08" r="4.2"/><circle cx="1151.96" cy="378.13" r="4.2"/><circle cx="1151.96" cy="394.59" r="4.2"/><circle cx="1151.96" cy="398.17" r="4.2"/><circle cx="1172.05" cy="329.81" r="4.2"/><circle cx="1172.05" cy="383.61" r="4.2"/><circle cx="1172.05" cy="394.59" r="4.2"/><circle cx="1172.05" cy="399.23" r="4.2"/><circle cx="1172.05" cy="403.66" r="4.2"/><circle cx="1172.05" cy="407.46" r="4.2"/></g></g>
<g><path d="M1404.9 90.2V423.5M1403.3 410.2H1617M1391.6 410.2H1404.9M1391.6 304.07H1404.9M1391.6 197.93H1404.9M1391.6 91.8H1404.9M1447 410.2V423.5M1489.1 410.2V423.5M1531.2 410.2V423.5M1573.3 410.2V423.5M1615.4 410.2V423.5" stroke="#000" stroke-width="3.2" fill="none"/><text x="1386.4" y="419.1" font-size="25" text-anchor="end">0</text><text x="1386.4" y="312.97" font-size="25" text-anchor="end">50</text><text x="1386.4" y="206.83" font-size="25" text-anchor="end">100</text><text x="1386.4" y="100.7" font-size="25" text-anchor="end">150</text><text x="1404.9" y="450.8" font-size="25" text-anchor="middle">-6</text><text x="1447" y="450.8" font-size="25" text-anchor="middle">-5</text><text x="1489.1" y="450.8" font-size="25" text-anchor="middle">-4</text><text x="1531.2" y="450.8" font-size="25" text-anchor="middle">-3</text><text x="1573.3" y="450.8" font-size="25" text-anchor="middle">-2</text><text x="1615.4" y="450.8" font-size="25" text-anchor="middle">-1</text><text x="1510.15" y="488.4" font-size="25.5" text-anchor="middle">Log<tspan font-size="20" dy="8.8">10</tspan><tspan dy="-8.8"> (1/serum dilution)</tspan></text><text transform="translate(1331.2 251) rotate(-90)" font-size="30" text-anchor="middle">% Relative Infection</text><path d="M1442.0 198.1 1443.8 198.2 1445.6 198.2 1447.3 198.2 1449.1 198.3 1450.8 198.3 1452.6 198.4 1454.3 198.5 1456.1 198.6 1457.9 198.7 1459.6 198.8 1461.4 198.9 1463.1 199.1 1464.9 199.2 1466.6 199.4 1468.4 199.7 1470.2 199.9 1471.9 200.2 1473.7 200.6 1475.4 201.0 1477.2 201.4 1478.9 202.0 1480.7 202.6 1482.5 203.3 1484.2 204.1 1486.0 205.0 1487.7 206.1 1489.5 207.3 1491.3 208.7 1493.0 210.2 1494.8 212.0 1496.5 214.0 1498.3 216.3 1500.0 218.9 1501.8 221.8 1503.6 225.0 1505.3 228.6 1507.1 232.6 1508.8 237.0 1510.6 241.8 1512.3 247.0 1514.1 252.7 1515.9 258.7 1517.6 265.2 1519.4 271.9 1521.1 279.0 1522.9 286.4 1524.6 293.9 1526.4 301.5 1528.2 309.2 1529.9 316.8 1531.7 324.2 1533.4 331.5 1535.2 338.5 1536.9 345.2 1538.7 351.5 1540.5 357.4 1542.2 362.9 1544.0 368.0 1545.7 372.7 1547.5 376.9 1549.3 380.8 1551.0 384.2 1552.8 387.3 1554.5 390.1 1556.3 392.6 1558.0 394.8 1559.8 396.7 1561.6 398.4 1563.3 399.9 1565.1 401.3 1566.8 402.4 1568.6 403.4 1570.3 404.3 1572.1 405.1 1573.9 405.8 1575.6 406.3 1577.4 406.9 1579.1 407.3 1580.9 407.7 1582.6 408.0" stroke="#f07a00" stroke-width="1.4" fill="none" stroke-linejoin="round"/><path d="M1442.0 202.3 1443.8 202.3 1445.6 202.4 1447.3 202.4 1449.1 202.4 1450.8 202.5 1452.6 202.5 1454.3 202.6 1456.1 202.6 1457.9 202.7 1459.6 202.8 1461.4 202.9 1463.1 203.0 1464.9 203.1 1466.6 203.2 1468.4 203.4 1470.2 203.6 1471.9 203.8 1473.7 204.0 1475.4 204.3 1477.2 204.6 1478.9 205.0 1480.7 205.4 1482.5 205.9 1484.2 206.5 1486.0 207.1 1487.7 207.9 1489.5 208.8 1491.3 209.7 1493.0 210.9 1494.8 212.1 1496.5 213.6 1498.3 215.3 1500.0 217.2 1501.8 219.3 1503.6 221.7 1505.3 224.4 1507.1 227.4 1508.8 230.8 1510.6 234.5 1512.3 238.7 1514.1 243.2 1515.9 248.2 1517.6 253.6 1519.4 259.3 1521.1 265.5 1522.9 272.0 1524.6 278.9 1526.4 286.0 1528.2 293.3 1529.9 300.7 1531.7 308.2 1533.4 315.7 1535.2 323.1 1536.9 330.3 1538.7 337.2 1540.5 343.9 1542.2 350.3 1544.0 356.2 1545.7 361.8 1547.5 366.9 1549.3 371.7 1551.0 376.0 1552.8 379.9 1554.5 383.5 1556.3 386.6 1558.0 389.5 1559.8 392.0 1561.6 394.3 1563.3 396.3 1565.1 398.0 1566.8 399.6 1568.6 400.9 1570.3 402.1 1572.1 403.2 1573.9 404.1 1575.6 404.9 1577.4 405.6 1579.1 406.2 1580.9 406.7 1582.6 407.2" stroke="#f07a00" stroke-width="1.4" fill="none" stroke-linejoin="round"/><path d="M1442.0 198.0 1443.8 198.0 1445.6 198.1 1447.3 198.1 1449.1 198.1 1450.8 198.1 1452.6 198.2 1454.3 198.2 1456.1 198.2 1457.9 198.3 1459.6 198.4 1461.4 198.4 1463.1 198.5 1464.9 198.6 1466.6 198.7 1468.4 198.8 1470.2 198.9 1471.9 199.1 1473.7 199.3 1475.4 199.5 1477.2 199.7 1478.9 200.0 1480.7 200.3 1482.5 200.7 1484.2 201.1 1486.0 201.5 1487.7 202.1 1489.5 202.7 1491.3 203.5 1493.0 204.3 1494.8 205.2 1496.5 206.3 1498.3 207.6 1500.0 209.0 1501.8 210.6 1503.6 212.4 1505.3 214.5 1507.1 216.8 1508.8 219.5 1510.6 222.4 1512.3 225.7 1514.1 229.4 1515.9 233.5 1517.6 237.9 1519.4 242.8 1521.1 248.2 1522.9 253.9 1524.6 260.0 1526.4 266.5 1528.2 273.4 1529.9 280.6 1531.7 287.9 1533.4 295.5 1535.2 303.1 1536.9 310.8 1538.7 318.3 1540.5 325.8 1542.2 333.0 1544.0 339.9 1545.7 346.5 1547.5 352.8 1549.3 358.6 1551.0 364.0 1552.8 369.0 1554.5 373.6 1556.3 377.8 1558.0 381.5 1559.8 384.9 1561.6 388.0 1563.3 390.7 1565.1 393.1 1566.8 395.2 1568.6 397.1 1570.3 398.8 1572.1 400.2 1573.9 401.5 1575.6 402.6 1577.4 403.6 1579.1 404.5 1580.9 405.2 1582.6 405.9" stroke="#f07a00" stroke-width="1.4" fill="none" stroke-linejoin="round"/><path d="M1442.0 206.5 1443.8 206.6 1445.6 206.6 1447.3 206.6 1449.1 206.6 1450.8 206.7 1452.6 206.7 1454.3 206.7 1456.1 206.8 1457.9 206.8 1459.6 206.9 1461.4 206.9 1463.1 207.0 1464.9 207.1 1466.6 207.2 1468.4 207.3 1470.2 207.4 1471.9 207.6 1473.7 207.7 1475.4 207.9 1477.2 208.1 1478.9 208.4 1480.7 208.6 1482.5 209.0 1484.2 209.3 1486.0 209.7 1487.7 210.2 1489.5 210.7 1491.3 211.3 1493.0 212.0 1494.8 212.8 1496.5 213.7 1498.3 214.7 1500.0 215.8 1501.8 217.1 1503.6 218.5 1505.3 220.2 1507.1 222.0 1508.8 224.0 1510.6 226.3 1512.3 228.9 1514.1 231.7 1515.9 234.8 1517.6 238.3 1519.4 242.1 1521.1 246.2 1522.9 250.7 1524.6 255.6 1526.4 260.7 1528.2 266.3 1529.9 272.1 1531.7 278.2 1533.4 284.6 1535.2 291.2 1536.9 297.9 1538.7 304.7 1540.5 311.6 1542.2 318.4 1544.0 325.2 1545.7 331.7 1547.5 338.1 1549.3 344.3 1551.0 350.1 1552.8 355.7 1554.5 360.9 1556.3 365.7 1558.0 370.2 1559.8 374.4 1561.6 378.2 1563.3 381.6 1565.1 384.8 1566.8 387.6 1568.6 390.2 1570.3 392.5 1572.1 394.6 1573.9 396.4 1575.6 398.0 1577.4 399.5 1579.1 400.8 1580.9 401.9 1582.6 402.9" stroke="#f07a00" stroke-width="1.4" fill="none" stroke-linejoin="round"/><path d="M1442.0 198.0 1443.8 198.0 1445.6 198.0 1447.3 198.1 1449.1 198.1 1450.8 198.1 1452.6 198.1 1454.3 198.2 1456.1 198.2 1457.9 198.2 1459.6 198.3 1461.4 198.3 1463.1 198.4 1464.9 198.4 1466.6 198.5 1468.4 198.6 1470.2 198.7 1471.9 198.8 1473.7 198.9 1475.4 199.1 1477.2 199.2 1478.9 199.4 1480.7 199.6 1482.5 199.8 1484.2 200.1 1486.0 200.4 1487.7 200.8 1489.5 201.2 1491.3 201.7 1493.0 202.2 1494.8 202.8 1496.5 203.5 1498.3 204.2 1500.0 205.1 1501.8 206.1 1503.6 207.2 1505.3 208.5 1507.1 209.9 1508.8 211.6 1510.6 213.4 1512.3 215.4 1514.1 217.7 1515.9 220.2 1517.6 223.1 1519.4 226.2 1521.1 229.7 1522.9 233.5 1524.6 237.6 1526.4 242.2 1528.2 247.1 1529.9 252.3 1531.7 258.0 1533.4 263.9 1535.2 270.2 1536.9 276.7 1538.7 283.5 1540.5 290.5 1542.2 297.5 1544.0 304.7 1545.7 311.8 1547.5 318.9 1549.3 325.8 1551.0 332.5 1552.8 339.0 1554.5 345.2 1556.3 351.2 1558.0 356.7 1559.8 361.9 1561.6 366.8 1563.3 371.2 1565.1 375.3 1566.8 379.1 1568.6 382.5 1570.3 385.6 1572.1 388.3 1573.9 390.8 1575.6 393.1 1577.4 395.1 1579.1 396.9 1580.9 398.5 1582.6 399.9" stroke="#f07a00" stroke-width="1.4" fill="none" stroke-linejoin="round"/><path d="M1442.0 198.0 1443.8 198.1 1445.6 198.1 1447.3 198.1 1449.1 198.1 1450.8 198.1 1452.6 198.2 1454.3 198.2 1456.1 198.2 1457.9 198.3 1459.6 198.3 1461.4 198.4 1463.1 198.4 1464.9 198.5 1466.6 198.6 1468.4 198.7 1470.2 198.8 1471.9 198.9 1473.7 199.0 1475.4 199.1 1477.2 199.3 1478.9 199.5 1480.7 199.7 1482.5 199.9 1484.2 200.2 1486.0 200.5 1487.7 200.8 1489.5 201.2 1491.3 201.6 1493.0 202.1 1494.8 202.6 1496.5 203.2 1498.3 203.9 1500.0 204.7 1501.8 205.6 1503.6 206.5 1505.3 207.6 1507.1 208.9 1508.8 210.2 1510.6 211.8 1512.3 213.5 1514.1 215.4 1515.9 217.5 1517.6 219.8 1519.4 222.4 1521.1 225.2 1522.9 228.3 1524.6 231.7 1526.4 235.5 1528.2 239.5 1529.9 243.8 1531.7 248.5 1533.4 253.4 1535.2 258.7 1536.9 264.3 1538.7 270.1 1540.5 276.2 1542.2 282.4 1544.0 288.9 1545.7 295.4 1547.5 302.0 1549.3 308.6 1551.0 315.2 1552.8 321.7 1554.5 328.1 1556.3 334.3 1558.0 340.3 1559.8 346.0 1561.6 351.5 1563.3 356.6 1565.1 361.5 1566.8 366.0 1568.6 370.2 1570.3 374.1 1572.1 377.7 1573.9 381.0 1575.6 384.0 1577.4 386.7 1579.1 389.2 1580.9 391.5 1582.6 393.5" stroke="#f07a00" stroke-width="1.4" fill="none" stroke-linejoin="round"/><path d="M1442.0 198.0 1443.8 198.0 1445.6 198.0 1447.3 198.1 1449.1 198.1 1450.8 198.1 1452.6 198.1 1454.3 198.1 1456.1 198.2 1457.9 198.2 1459.6 198.2 1461.4 198.3 1463.1 198.3 1464.9 198.4 1466.6 198.4 1468.4 198.5 1470.2 198.6 1471.9 198.6 1473.7 198.7 1475.4 198.8 1477.2 198.9 1478.9 199.1 1480.7 199.2 1482.5 199.4 1484.2 199.6 1486.0 199.8 1487.7 200.1 1489.5 200.4 1491.3 200.7 1493.0 201.0 1494.8 201.4 1496.5 201.9 1498.3 202.4 1500.0 203.0 1501.8 203.6 1503.6 204.4 1505.3 205.2 1507.1 206.1 1508.8 207.2 1510.6 208.4 1512.3 209.7 1514.1 211.1 1515.9 212.8 1517.6 214.6 1519.4 216.6 1521.1 218.9 1522.9 221.3 1524.6 224.1 1526.4 227.1 1528.2 230.4 1529.9 234.0 1531.7 237.8 1533.4 242.1 1535.2 246.6 1536.9 251.4 1538.7 256.6 1540.5 262.0 1542.2 267.8 1544.0 273.7 1545.7 279.9 1547.5 286.3 1549.3 292.8 1551.0 299.4 1552.8 306.0 1554.5 312.6 1556.3 319.2 1558.0 325.6 1559.8 331.9 1561.6 337.9 1563.3 343.8 1565.1 349.3 1566.8 354.6 1568.6 359.6 1570.3 364.3 1572.1 368.6 1573.9 372.6 1575.6 376.3 1577.4 379.7 1579.1 382.9 1580.9 385.7 1582.6 388.3" stroke="#f07a00" stroke-width="1.4" fill="none" stroke-linejoin="round"/><path d="M1442.0 198.0 1443.8 198.1 1445.6 198.1 1447.3 198.1 1449.1 198.1 1450.8 198.1 1452.6 198.2 1454.3 198.2 1456.1 198.2 1457.9 198.3 1459.6 198.3 1461.4 198.3 1463.1 198.4 1464.9 198.5 1466.6 198.5 1468.4 198.6 1470.2 198.7 1471.9 198.8 1473.7 198.9 1475.4 199.0 1477.2 199.1 1478.9 199.2 1480.7 199.4 1482.5 199.6 1484.2 199.8 1486.0 200.0 1487.7 200.2 1489.5 200.5 1491.3 200.8 1493.0 201.2 1494.8 201.6 1496.5 202.0 1498.3 202.5 1500.0 203.0 1501.8 203.6 1503.6 204.3 1505.3 205.1 1507.1 205.9 1508.8 206.9 1510.6 207.9 1512.3 209.1 1514.1 210.3 1515.9 211.7 1517.6 213.3 1519.4 215.0 1521.1 216.9 1522.9 219.0 1524.6 221.3 1526.4 223.9 1528.2 226.6 1529.9 229.6 1531.7 232.8 1533.4 236.3 1535.2 240.1 1536.9 244.1 1538.7 248.4 1540.5 253.0 1542.2 257.8 1544.0 262.9 1545.7 268.2 1547.5 273.7 1549.3 279.4 1551.0 285.3 1552.8 291.3 1554.5 297.3 1556.3 303.4 1558.0 309.6 1559.8 315.6 1561.6 321.6 1563.3 327.5 1565.1 333.3 1566.8 338.8 1568.6 344.2 1570.3 349.3 1572.1 354.2 1573.9 358.8 1575.6 363.2 1577.4 367.3 1579.1 371.1 1580.9 374.6 1582.6 377.9" stroke="#f07a00" stroke-width="1.4" fill="none" stroke-linejoin="round"/><path d="M1442.0 198.0 1443.8 198.1 1445.6 198.1 1447.3 198.1 1449.1 198.1 1450.8 198.1 1452.6 198.1 1454.3 198.2 1456.1 198.2 1457.9 198.2 1459.6 198.2 1461.4 198.3 1463.1 198.3 1464.9 198.4 1466.6 198.4 1468.4 198.5 1470.2 198.5 1471.9 198.6 1473.7 198.7 1475.4 198.7 1477.2 198.8 1478.9 198.9 1480.7 199.1 1482.5 199.2 1484.2 199.3 1486.0 199.5 1487.7 199.7 1489.5 199.9 1491.3 200.1 1493.0 200.3 1494.8 200.6 1496.5 200.9 1498.3 201.2 1500.0 201.6 1501.8 202.0 1503.6 202.4 1505.3 202.9 1507.1 203.5 1508.8 204.1 1510.6 204.8 1512.3 205.5 1514.1 206.3 1515.9 207.3 1517.6 208.3 1519.4 209.4 1521.1 210.6 1522.9 211.9 1524.6 213.4 1526.4 215.0 1528.2 216.8 1529.9 218.7 1531.7 220.9 1533.4 223.2 1535.2 225.6 1536.9 228.3 1538.7 231.3 1540.5 234.4 1542.2 237.8 1544.0 241.4 1545.7 245.2 1547.5 249.3 1549.3 253.6 1551.0 258.1 1552.8 262.9 1554.5 267.8 1556.3 273.0 1558.0 278.3 1559.8 283.7 1561.6 289.3 1563.3 294.9 1565.1 300.6 1566.8 306.3 1568.6 312.0 1570.3 317.6 1572.1 323.2 1573.9 328.7 1575.6 334.0 1577.4 339.2 1579.1 344.2 1580.9 349.0 1582.6 353.6" stroke="#f07a00" stroke-width="1.4" fill="none" stroke-linejoin="round"/><path d="M1442.0 197.9 1443.8 198.0 1445.6 198.0 1447.3 198.1 1449.1 198.1 1450.8 198.2 1452.6 198.2 1454.3 198.3 1456.1 198.3 1457.9 198.4 1459.6 198.4 1461.4 198.4 1463.1 198.5 1464.9 198.5 1466.6 198.5 1468.4 198.6 1470.2 198.6 1471.9 198.7 1473.7 198.7 1475.4 198.8 1477.2 198.8 1478.9 198.9 1480.7 198.9 1482.5 199.0 1484.2 199.0 1486.0 199.1 1487.7 199.2 1489.5 199.3 1491.3 199.3 1493.0 199.4 1494.8 199.5 1496.5 199.6 1498.3 199.8 1500.0 199.9 1501.8 200.0 1503.6 200.2 1505.3 200.6 1507.1 201.3 1508.8 202.1 1510.6 203.1 1512.3 204.2 1514.1 205.5 1515.9 206.9 1517.6 208.4 1519.4 210.0 1521.1 211.6 1522.9 213.3 1524.6 215.4 1526.4 218.1 1528.2 221.2 1529.9 224.6 1531.7 228.3 1533.4 232.2 1535.2 236.3 1536.9 240.5 1538.7 244.6 1540.5 248.7 1542.2 252.6 1544.0 256.4 1545.7 260.5 1547.5 264.7 1549.3 268.9 1551.0 273.3 1552.8 277.6 1554.5 281.9 1556.3 286.1 1558.0 290.2 1559.8 294.1 1561.6 297.8 1563.3 301.3 1565.1 304.6 1566.8 307.7 1568.6 310.8 1570.3 313.8 1572.1 316.7 1573.9 319.5 1575.6 322.3 1577.4 325.1 1579.1 328.0 1580.9 330.8 1582.6 333.8" stroke="#f07a00" stroke-width="1.4" fill="none" stroke-linejoin="round"/><g fill="#ff8000" stroke="#c86a08" stroke-width="0.9"><circle cx="1442.04" cy="200.69" r="4.2"/><circle cx="1442.04" cy="206.21" r="4.2"/><circle cx="1442.04" cy="211.73" r="4.2"/><circle cx="1442.04" cy="217.04" r="4.2"/><circle cx="1442.04" cy="224.47" r="4.2"/><circle cx="1462.13" cy="182.44" r="4.2"/><circle cx="1462.13" cy="193.26" r="4.2"/><circle cx="1462.13" cy="198.78" r="4.2"/><circle cx="1462.13" cy="204.3" r="4.2"/><circle cx="1462.13" cy="209.82" r="4.2"/><circle cx="1462.13" cy="215.34" r="4.2"/><circle cx="1462.13" cy="224.47" r="4.2"/><circle cx="1482.21" cy="189.44" r="4.2"/><circle cx="1482.21" cy="206.21" r="4.2"/><circle cx="1482.21" cy="211.73" r="4.2"/><circle cx="1482.21" cy="225.32" r="4.2"/><circle cx="1502.3" cy="199.84" r="4.2"/><circle cx="1502.3" cy="207.91" r="4.2"/><circle cx="1502.3" cy="211.73" r="4.2"/><circle cx="1502.3" cy="226.38" r="4.2"/><circle cx="1502.3" cy="231.68" r="4.2"/><circle cx="1502.3" cy="237.2" r="4.2"/><circle cx="1522.39" cy="198.78" r="4.2"/><circle cx="1522.39" cy="235.5" r="4.2"/><circle cx="1522.39" cy="240.81" r="4.2"/><circle cx="1522.39" cy="262.89" r="4.2"/><circle cx="1522.39" cy="268.41" r="4.2"/><circle cx="1522.39" cy="284.75" r="4.2"/><circle cx="1542.47" cy="240.81" r="4.2"/><circle cx="1542.47" cy="255.46" r="4.2"/><circle cx="1542.47" cy="262.89" r="4.2"/><circle cx="1542.47" cy="281.14" r="4.2"/><circle cx="1542.47" cy="292.18" r="4.2"/><circle cx="1542.47" cy="306.61" r="4.2"/><circle cx="1542.47" cy="345.03" r="4.2"/><circle cx="1542.47" cy="365.2" r="4.2"/><circle cx="1542.47" cy="387.06" r="4.2"/><circle cx="1562.56" cy="293.03" r="4.2"/><circle cx="1562.56" cy="308.52" r="4.2"/><circle cx="1562.56" cy="317.65" r="4.2"/><circle cx="1562.56" cy="345.03" r="4.2"/><circle cx="1562.56" cy="349.7" r="4.2"/><circle cx="1562.56" cy="370.72" r="4.2"/><circle cx="1562.56" cy="374.33" r="4.2"/><circle cx="1562.56" cy="392.58" r="4.2"/><circle cx="1562.56" cy="407.23" r="4.2"/><circle cx="1582.65" cy="354.16" r="4.2"/><circle cx="1582.65" cy="367.11" r="4.2"/><circle cx="1582.65" cy="383.45" r="4.2"/><circle cx="1582.65" cy="400.01" r="4.2"/><circle cx="1582.65" cy="404.47" r="4.2"/><circle cx="1582.65" cy="409.14" r="4.2"/></g></g>
<g><path d="M1816.6 90.2V423.1M1815 409.8H2028.7M1803.3 409.8H1816.6M1803.3 303.8H1816.6M1803.3 197.8H1816.6M1803.3 91.8H1816.6M1858.7 409.8V423.1M1900.8 409.8V423.1M1942.9 409.8V423.1M1985 409.8V423.1M2027.1 409.8V423.1" stroke="#000" stroke-width="3.2" fill="none"/><text x="1798.1" y="418.7" font-size="25" text-anchor="end">0</text><text x="1798.1" y="312.7" font-size="25" text-anchor="end">50</text><text x="1798.1" y="206.7" font-size="25" text-anchor="end">100</text><text x="1798.1" y="100.7" font-size="25" text-anchor="end">150</text><text x="1816.6" y="450.4" font-size="25" text-anchor="middle">-6</text><text x="1858.7" y="450.4" font-size="25" text-anchor="middle">-5</text><text x="1900.8" y="450.4" font-size="25" text-anchor="middle">-4</text><text x="1942.9" y="450.4" font-size="25" text-anchor="middle">-3</text><text x="1985" y="450.4" font-size="25" text-anchor="middle">-2</text><text x="2027.1" y="450.4" font-size="25" text-anchor="middle">-1</text><text x="1921.85" y="488" font-size="25.5" text-anchor="middle">Log<tspan font-size="20" dy="8.8">10</tspan><tspan dy="-8.8"> (1/serum dilution)</tspan></text><text transform="translate(1742.9 250.8) rotate(-90)" font-size="30" text-anchor="middle">% Relative Infection</text><path d="M1853.7 198.0 1855.5 198.0 1857.3 198.1 1859.0 198.1 1860.8 198.2 1862.5 198.2 1864.3 198.3 1866.0 198.4 1867.8 198.5 1869.6 198.6 1871.3 198.7 1873.1 198.9 1874.8 199.0 1876.6 199.2 1878.3 199.5 1880.1 199.7 1881.9 200.1 1883.6 200.4 1885.4 200.9 1887.1 201.4 1888.9 201.9 1890.6 202.6 1892.4 203.4 1894.2 204.3 1895.9 205.3 1897.7 206.5 1899.4 207.9 1901.2 209.5 1903.0 211.3 1904.7 213.4 1906.5 215.8 1908.2 218.5 1910.0 221.6 1911.7 225.0 1913.5 228.9 1915.3 233.2 1917.0 237.9 1918.8 243.2 1920.5 248.9 1922.3 255.1 1924.0 261.7 1925.8 268.8 1927.6 276.2 1929.3 284.0 1931.1 292.0 1932.8 300.1 1934.6 308.2 1936.3 316.3 1938.1 324.3 1939.9 332.0 1941.6 339.4 1943.4 346.4 1945.1 353.0 1946.9 359.2 1948.6 364.9 1950.4 370.1 1952.2 374.8 1953.9 379.1 1955.7 382.9 1957.4 386.3 1959.2 389.3 1961.0 392.0 1962.7 394.4 1964.5 396.4 1966.2 398.2 1968.0 399.8 1969.7 401.2 1971.5 402.4 1973.3 403.4 1975.0 404.3 1976.8 405.0 1978.5 405.7 1980.3 406.3 1982.0 406.8 1983.8 407.2 1985.6 407.6 1987.3 407.9 1989.1 408.2 1990.8 408.4 1992.6 408.6 1994.3 408.8" stroke="#7800f0" stroke-width="1.4" fill="none" stroke-linejoin="round"/><path d="M1853.7 197.9 1855.5 197.9 1857.3 197.9 1859.0 197.9 1860.8 198.0 1862.5 198.0 1864.3 198.0 1866.0 198.1 1867.8 198.1 1869.6 198.1 1871.3 198.2 1873.1 198.3 1874.8 198.3 1876.6 198.4 1878.3 198.5 1880.1 198.7 1881.9 198.8 1883.6 199.0 1885.4 199.2 1887.1 199.4 1888.9 199.7 1890.6 200.0 1892.4 200.3 1894.2 200.7 1895.9 201.2 1897.7 201.8 1899.4 202.4 1901.2 203.2 1903.0 204.0 1904.7 205.0 1906.5 206.2 1908.2 207.5 1910.0 209.1 1911.7 210.8 1913.5 212.8 1915.3 215.1 1917.0 217.7 1918.8 220.7 1920.5 224.0 1922.3 227.8 1924.0 231.9 1925.8 236.6 1927.6 241.7 1929.3 247.3 1931.1 253.4 1932.8 259.9 1934.6 266.9 1936.3 274.2 1938.1 281.9 1939.9 289.8 1941.6 297.9 1943.4 306.0 1945.1 314.1 1946.9 322.1 1948.6 329.9 1950.4 337.4 1952.2 344.6 1953.9 351.3 1955.7 357.6 1957.4 363.4 1959.2 368.7 1961.0 373.6 1962.7 378.0 1964.5 381.9 1966.2 385.4 1968.0 388.6 1969.7 391.3 1971.5 393.8 1973.3 395.9 1975.0 397.8 1976.8 399.4 1978.5 400.8 1980.3 402.0 1982.0 403.1 1983.8 404.0 1985.6 404.8 1987.3 405.5 1989.1 406.1 1990.8 406.7 1992.6 407.1 1994.3 407.5" stroke="#7800f0" stroke-width="1.4" fill="none" stroke-linejoin="round"/><path d="M1853.7 202.1 1855.5 202.1 1857.3 202.1 1859.0 202.2 1860.8 202.2 1862.5 202.2 1864.3 202.2 1866.0 202.3 1867.8 202.3 1869.6 202.3 1871.3 202.4 1873.1 202.4 1874.8 202.5 1876.6 202.6 1878.3 202.7 1880.1 202.8 1881.9 202.9 1883.6 203.0 1885.4 203.1 1887.1 203.3 1888.9 203.5 1890.6 203.7 1892.4 204.0 1894.2 204.3 1895.9 204.6 1897.7 205.0 1899.4 205.5 1901.2 206.0 1903.0 206.6 1904.7 207.3 1906.5 208.1 1908.2 209.0 1910.0 210.0 1911.7 211.2 1913.5 212.6 1915.3 214.1 1917.0 215.9 1918.8 217.8 1920.5 220.1 1922.3 222.6 1924.0 225.4 1925.8 228.6 1927.6 232.1 1929.3 236.0 1931.1 240.3 1932.8 245.0 1934.6 250.1 1936.3 255.7 1938.1 261.6 1939.9 267.9 1941.6 274.6 1943.4 281.5 1945.1 288.7 1946.9 296.0 1948.6 303.5 1950.4 311.0 1952.2 318.4 1953.9 325.7 1955.7 332.8 1957.4 339.7 1959.2 346.2 1961.0 352.4 1962.7 358.2 1964.5 363.6 1966.2 368.6 1968.0 373.1 1969.7 377.3 1971.5 381.0 1973.3 384.4 1975.0 387.5 1976.8 390.2 1978.5 392.6 1980.3 394.7 1982.0 396.6 1983.8 398.3 1985.6 399.8 1987.3 401.1 1989.1 402.2 1990.8 403.2 1992.6 404.0 1994.3 404.8" stroke="#7800f0" stroke-width="1.4" fill="none" stroke-linejoin="round"/><path d="M1853.7 197.9 1855.5 197.9 1857.3 197.9 1859.0 197.9 1860.8 197.9 1862.5 197.9 1864.3 197.9 1866.0 198.0 1867.8 198.0 1869.6 198.0 1871.3 198.1 1873.1 198.1 1874.8 198.1 1876.6 198.2 1878.3 198.2 1880.1 198.3 1881.9 198.4 1883.6 198.5 1885.4 198.6 1887.1 198.7 1888.9 198.9 1890.6 199.0 1892.4 199.2 1894.2 199.4 1895.9 199.7 1897.7 200.0 1899.4 200.3 1901.2 200.7 1903.0 201.1 1904.7 201.6 1906.5 202.2 1908.2 202.9 1910.0 203.6 1911.7 204.5 1913.5 205.5 1915.3 206.7 1917.0 208.0 1918.8 209.5 1920.5 211.2 1922.3 213.1 1924.0 215.3 1925.8 217.7 1927.6 220.5 1929.3 223.6 1931.1 227.0 1932.8 230.8 1934.6 235.1 1936.3 239.7 1938.1 244.8 1939.9 250.2 1941.6 256.1 1943.4 262.4 1945.1 269.1 1946.9 276.1 1948.6 283.3 1950.4 290.7 1952.2 298.3 1953.9 306.0 1955.7 313.6 1957.4 321.1 1959.2 328.4 1961.0 335.5 1962.7 342.3 1964.5 348.8 1966.2 354.8 1968.0 360.5 1969.7 365.8 1971.5 370.6 1973.3 375.0 1975.0 379.0 1976.8 382.6 1978.5 385.8 1980.3 388.7 1982.0 391.3 1983.8 393.6 1985.6 395.6 1987.3 397.4 1989.1 399.0 1990.8 400.4 1992.6 401.6 1994.3 402.7" stroke="#7800f0" stroke-width="1.4" fill="none" stroke-linejoin="round"/><path d="M1853.7 197.9 1855.5 197.9 1857.3 197.9 1859.0 197.9 1860.8 197.9 1862.5 197.9 1864.3 197.9 1866.0 198.0 1867.8 198.0 1869.6 198.0 1871.3 198.0 1873.1 198.1 1874.8 198.1 1876.6 198.2 1878.3 198.2 1880.1 198.3 1881.9 198.3 1883.6 198.4 1885.4 198.5 1887.1 198.6 1888.9 198.7 1890.6 198.9 1892.4 199.0 1894.2 199.2 1895.9 199.4 1897.7 199.6 1899.4 199.9 1901.2 200.2 1903.0 200.5 1904.7 200.9 1906.5 201.3 1908.2 201.8 1910.0 202.4 1911.7 203.0 1913.5 203.8 1915.3 204.6 1917.0 205.5 1918.8 206.6 1920.5 207.8 1922.3 209.2 1924.0 210.7 1925.8 212.5 1927.6 214.4 1929.3 216.6 1931.1 219.0 1932.8 221.8 1934.6 224.8 1936.3 228.1 1938.1 231.8 1939.9 235.8 1941.6 240.2 1943.4 244.9 1945.1 250.0 1946.9 255.5 1948.6 261.3 1950.4 267.5 1952.2 273.9 1953.9 280.6 1955.7 287.5 1957.4 294.5 1959.2 301.6 1961.0 308.7 1962.7 315.8 1964.5 322.8 1966.2 329.6 1968.0 336.2 1969.7 342.5 1971.5 348.5 1973.3 354.2 1975.0 359.6 1976.8 364.5 1978.5 369.1 1980.3 373.4 1982.0 377.3 1983.8 380.8 1985.6 384.0 1987.3 386.9 1989.1 389.5 1990.8 391.9 1992.6 393.9 1994.3 395.8" stroke="#7800f0" stroke-width="1.4" fill="none" stroke-linejoin="round"/><path d="M1853.7 197.8 1855.5 197.9 1857.3 197.9 1859.0 197.9 1860.8 197.9 1862.5 197.9 1864.3 197.9 1866.0 197.9 1867.8 197.9 1869.6 198.0 1871.3 198.0 1873.1 198.0 1874.8 198.0 1876.6 198.1 1878.3 198.1 1880.1 198.1 1881.9 198.2 1883.6 198.3 1885.4 198.3 1887.1 198.4 1888.9 198.5 1890.6 198.6 1892.4 198.7 1894.2 198.8 1895.9 199.0 1897.7 199.1 1899.4 199.3 1901.2 199.5 1903.0 199.8 1904.7 200.0 1906.5 200.4 1908.2 200.7 1910.0 201.1 1911.7 201.6 1913.5 202.2 1915.3 202.8 1917.0 203.5 1918.8 204.3 1920.5 205.2 1922.3 206.2 1924.0 207.3 1925.8 208.6 1927.6 210.1 1929.3 211.8 1931.1 213.6 1932.8 215.7 1934.6 218.0 1936.3 220.6 1938.1 223.5 1939.9 226.7 1941.6 230.3 1943.4 234.1 1945.1 238.4 1946.9 243.0 1948.6 248.0 1950.4 253.3 1952.2 259.0 1953.9 265.0 1955.7 271.3 1957.4 277.9 1959.2 284.7 1961.0 291.7 1962.7 298.8 1964.5 305.9 1966.2 313.0 1968.0 320.0 1969.7 326.9 1971.5 333.6 1973.3 340.0 1975.0 346.2 1976.8 352.0 1978.5 357.5 1980.3 362.6 1982.0 367.4 1983.8 371.8 1985.6 375.8 1987.3 379.4 1989.1 382.8 1990.8 385.8 1992.6 388.5 1994.3 391.0" stroke="#7800f0" stroke-width="1.4" fill="none" stroke-linejoin="round"/><path d="M1853.7 197.8 1855.5 197.8 1857.3 197.8 1859.0 197.9 1860.8 197.9 1862.5 197.9 1864.3 197.9 1866.0 197.9 1867.8 197.9 1869.6 197.9 1871.3 197.9 1873.1 198.0 1874.8 198.0 1876.6 198.0 1878.3 198.0 1880.1 198.1 1881.9 198.1 1883.6 198.1 1885.4 198.2 1887.1 198.2 1888.9 198.3 1890.6 198.4 1892.4 198.5 1894.2 198.6 1895.9 198.7 1897.7 198.8 1899.4 198.9 1901.2 199.1 1903.0 199.2 1904.7 199.4 1906.5 199.7 1908.2 199.9 1910.0 200.2 1911.7 200.6 1913.5 201.0 1915.3 201.4 1917.0 201.9 1918.8 202.5 1920.5 203.1 1922.3 203.8 1924.0 204.6 1925.8 205.6 1927.6 206.6 1929.3 207.8 1931.1 209.1 1932.8 210.6 1934.6 212.3 1936.3 214.2 1938.1 216.3 1939.9 218.7 1941.6 221.3 1943.4 224.2 1945.1 227.4 1946.9 230.9 1948.6 234.7 1950.4 238.9 1952.2 243.4 1953.9 248.3 1955.7 253.6 1957.4 259.2 1959.2 265.1 1961.0 271.2 1962.7 277.7 1964.5 284.3 1966.2 291.2 1968.0 298.1 1969.7 305.1 1971.5 312.0 1973.3 318.9 1975.0 325.7 1976.8 332.3 1978.5 338.6 1980.3 344.7 1982.0 350.5 1983.8 355.9 1985.6 361.1 1987.3 365.8 1989.1 370.2 1990.8 374.3 1992.6 378.0 1994.3 381.4" stroke="#7800f0" stroke-width="1.4" fill="none" stroke-linejoin="round"/><path d="M1853.7 198.1 1855.5 198.1 1857.3 198.1 1859.0 198.1 1860.8 198.2 1862.5 198.2 1864.3 198.3 1866.0 198.3 1867.8 198.4 1869.6 198.4 1871.3 198.5 1873.1 198.5 1874.8 198.6 1876.6 198.7 1878.3 198.8 1880.1 198.9 1881.9 199.0 1883.6 199.1 1885.4 199.2 1887.1 199.4 1888.9 199.5 1890.6 199.7 1892.4 199.9 1894.2 200.1 1895.9 200.3 1897.7 200.6 1899.4 200.9 1901.2 201.2 1903.0 201.5 1904.7 201.9 1906.5 202.3 1908.2 202.7 1910.0 203.2 1911.7 203.7 1913.5 204.3 1915.3 205.0 1917.0 205.7 1918.8 206.4 1920.5 207.2 1922.3 208.1 1924.0 209.1 1925.8 210.2 1927.6 211.4 1929.3 212.7 1931.1 214.0 1932.8 215.5 1934.6 217.2 1936.3 218.9 1938.1 220.8 1939.9 222.9 1941.6 225.1 1943.4 227.5 1945.1 230.0 1946.9 232.7 1948.6 235.6 1950.4 238.7 1952.2 242.0 1953.9 245.4 1955.7 249.1 1957.4 252.9 1959.2 256.9 1961.0 261.1 1962.7 265.4 1964.5 269.9 1966.2 274.6 1968.0 279.3 1969.7 284.2 1971.5 289.2 1973.3 294.2 1975.0 299.3 1976.8 304.4 1978.5 309.4 1980.3 314.5 1982.0 319.5 1983.8 324.5 1985.6 329.3 1987.3 334.1 1989.1 338.7 1990.8 343.1 1992.6 347.5 1994.3 351.6" stroke="#7800f0" stroke-width="1.4" fill="none" stroke-linejoin="round"/><path d="M1853.7 198.0 1855.5 198.0 1857.3 198.0 1859.0 198.0 1860.8 198.0 1862.5 198.1 1864.3 198.1 1866.0 198.1 1867.8 198.2 1869.6 198.2 1871.3 198.2 1873.1 198.3 1874.8 198.3 1876.6 198.4 1878.3 198.5 1880.1 198.5 1881.9 198.6 1883.6 198.7 1885.4 198.8 1887.1 198.9 1888.9 199.0 1890.6 199.1 1892.4 199.3 1894.2 199.4 1895.9 199.6 1897.7 199.8 1899.4 200.0 1901.2 200.2 1903.0 200.5 1904.7 200.8 1906.5 201.1 1908.2 201.4 1910.0 201.8 1911.7 202.2 1913.5 202.7 1915.3 203.2 1917.0 203.8 1918.8 204.4 1920.5 205.1 1922.3 205.8 1924.0 206.6 1925.8 207.5 1927.6 208.5 1929.3 209.6 1931.1 210.7 1932.8 212.0 1934.6 213.4 1936.3 214.9 1938.1 216.6 1939.9 218.4 1941.6 220.3 1943.4 222.5 1945.1 224.7 1946.9 227.2 1948.6 229.9 1950.4 232.7 1952.2 235.8 1953.9 239.0 1955.7 242.5 1957.4 246.1 1959.2 250.0 1961.0 254.1 1962.7 258.3 1964.5 262.8 1966.2 267.4 1968.0 272.2 1969.7 277.2 1971.5 282.2 1973.3 287.4 1975.0 292.7 1976.8 298.0 1978.5 303.3 1980.3 308.7 1982.0 314.0 1983.8 319.3 1985.6 324.5 1987.3 329.5 1989.1 334.5 1990.8 339.3 1992.6 344.0 1994.3 348.5" stroke="#7800f0" stroke-width="1.4" fill="none" stroke-linejoin="round"/><g fill="#8000ff" stroke="#5a00b8" stroke-width="0.9"><circle cx="1853.74" cy="191.65" r="4.2"/><circle cx="1853.74" cy="198.86" r="4.2"/><circle cx="1853.74" cy="204.37" r="4.2"/><circle cx="1853.74" cy="209.88" r="4.2"/><circle cx="1853.74" cy="215.4" r="4.2"/><circle cx="1853.74" cy="219" r="4.2"/><circle cx="1873.83" cy="169.39" r="4.2"/><circle cx="1873.83" cy="182.54" r="4.2"/><circle cx="1873.83" cy="193.35" r="4.2"/><circle cx="1873.83" cy="200.77" r="4.2"/><circle cx="1873.83" cy="206.28" r="4.2"/><circle cx="1873.83" cy="211.79" r="4.2"/><circle cx="1873.83" cy="217.09" r="4.2"/><circle cx="1893.91" cy="178.72" r="4.2"/><circle cx="1893.91" cy="184.23" r="4.2"/><circle cx="1893.91" cy="189.74" r="4.2"/><circle cx="1893.91" cy="198.86" r="4.2"/><circle cx="1893.91" cy="206.28" r="4.2"/><circle cx="1893.91" cy="213.49" r="4.2"/><circle cx="1893.91" cy="219" r="4.2"/><circle cx="1893.91" cy="228.12" r="4.2"/><circle cx="1914" cy="181.48" r="4.2"/><circle cx="1914" cy="187.84" r="4.2"/><circle cx="1914" cy="193.35" r="4.2"/><circle cx="1914" cy="198.86" r="4.2"/><circle cx="1914" cy="204.37" r="4.2"/><circle cx="1914" cy="217.09" r="4.2"/><circle cx="1914" cy="222.6" r="4.2"/><circle cx="1914" cy="226.21" r="4.2"/><circle cx="1914" cy="237.23" r="4.2"/><circle cx="1934.09" cy="202.46" r="4.2"/><circle cx="1934.09" cy="226.21" r="4.2"/><circle cx="1934.09" cy="231.72" r="4.2"/><circle cx="1934.09" cy="239.14" r="4.2"/><circle cx="1934.09" cy="242.74" r="4.2"/><circle cx="1934.09" cy="260.13" r="4.2"/><circle cx="1934.09" cy="306.77" r="4.2"/><circle cx="1954.17" cy="250.16" r="4.2"/><circle cx="1954.17" cy="262.88" r="4.2"/><circle cx="1954.17" cy="266.49" r="4.2"/><circle cx="1954.17" cy="279.21" r="4.2"/><circle cx="1954.17" cy="312.28" r="4.2"/><circle cx="1954.17" cy="359.77" r="4.2"/><circle cx="1954.17" cy="363.37" r="4.2"/><circle cx="1954.17" cy="383.51" r="4.2"/><circle cx="1974.26" cy="285.78" r="4.2"/><circle cx="1974.26" cy="292.14" r="4.2"/><circle cx="1974.26" cy="299.35" r="4.2"/><circle cx="1974.26" cy="323.09" r="4.2"/><circle cx="1974.26" cy="376.09" r="4.2"/><circle cx="1974.26" cy="390.72" r="4.2"/><circle cx="1974.26" cy="404.5" r="4.2"/><circle cx="1994.35" cy="328.6" r="4.2"/><circle cx="1994.35" cy="334.12" r="4.2"/><circle cx="1994.35" cy="339.63" r="4.2"/><circle cx="1994.35" cy="343.23" r="4.2"/><circle cx="1994.35" cy="381.6" r="4.2"/><circle cx="1994.35" cy="405.35" r="4.2"/><circle cx="1994.35" cy="408.1" r="4.2"/></g></g>
<g><path d="M173 527.6V858.9M171.4 845.6H385.1M159.7 845.6H173M159.7 740.13H173M159.7 634.67H173M159.7 529.2H173M215.1 845.6V858.9M257.2 845.6V858.9M299.3 845.6V858.9M341.4 845.6V858.9M383.5 845.6V858.9" stroke="#000" stroke-width="3.2" fill="none"/><text x="154.5" y="854.5" font-size="25" text-anchor="end">0</text><text x="154.5" y="749.03" font-size="25" text-anchor="end">50</text><text x="154.5" y="643.57" font-size="25" text-anchor="end">100</text><text x="154.5" y="538.1" font-size="25" text-anchor="end">150</text><text x="173" y="886.2" font-size="25" text-anchor="middle">-6</text><text x="215.1" y="886.2" font-size="25" text-anchor="middle">-5</text><text x="257.2" y="886.2" font-size="25" text-anchor="middle">-4</text><text x="299.3" y="886.2" font-size="25" text-anchor="middle">-3</text><text x="341.4" y="886.2" font-size="25" text-anchor="middle">-2</text><text x="383.5" y="886.2" font-size="25" text-anchor="middle">-1</text><text x="278.25" y="923.8" font-size="25.5" text-anchor="middle">Log<tspan font-size="20" dy="8.8">10</tspan><tspan dy="-8.8"> (1/serum dilution)</tspan></text><text transform="translate(99.3 687.4) rotate(-90)" font-size="30" text-anchor="middle">% Relative Infection</text><path d="M210.1 634.7 211.9 634.7 213.7 634.7 215.4 634.7 217.2 634.7 218.9 634.7 220.7 634.7 222.4 634.7 224.2 634.7 226.0 634.7 227.7 634.7 229.5 634.7 231.2 634.7 233.0 634.7 234.7 634.7 236.5 634.7 238.3 634.7 240.0 634.7 241.8 634.7 243.5 634.7 245.3 634.7 247.0 634.7 248.8 634.8 250.6 634.8 252.3 634.8 254.1 634.8 255.8 634.8 257.6 634.8 259.4 634.9 261.1 634.9 262.9 634.9 264.6 635.0 266.4 635.0 268.1 635.1 269.9 635.1 271.7 635.2 273.4 635.3 275.2 635.3 276.9 635.4 278.7 635.6 280.4 635.7 282.2 635.8 284.0 636.0 285.7 636.2 287.5 636.4 289.2 636.7 291.0 637.0 292.7 637.3 294.5 637.7 296.3 638.1 298.0 638.6 299.8 639.2 301.5 639.9 303.3 640.6 305.0 641.5 306.8 642.4 308.6 643.5 310.3 644.8 312.1 646.2 313.8 647.8 315.6 649.6 317.4 651.6 319.1 653.8 320.9 656.4 322.6 659.2 324.4 662.3 326.1 665.8 327.9 669.6 329.7 673.8 331.4 678.4 333.2 683.4 334.9 688.7 336.7 694.4 338.4 700.5 340.2 706.8 342.0 713.5 343.7 720.4 345.5 727.5 347.2 734.7 349.0 741.9 350.7 749.1" stroke="#000000" stroke-width="2.1" fill="none" stroke-linejoin="round"/><path d="M210.1 634.7 211.9 634.7 213.7 634.7 215.4 634.7 217.2 634.7 218.9 634.7 220.7 634.7 222.4 634.7 224.2 634.7 226.0 634.7 227.7 634.7 229.5 634.7 231.2 634.7 233.0 634.7 234.7 634.7 236.5 634.7 238.3 634.7 240.0 634.7 241.8 634.7 243.5 634.7 245.3 634.7 247.0 634.7 248.8 634.7 250.6 634.7 252.3 634.7 254.1 634.7 255.8 634.8 257.6 634.8 259.4 634.8 261.1 634.8 262.9 634.8 264.6 634.9 266.4 634.9 268.1 634.9 269.9 635.0 271.7 635.0 273.4 635.1 275.2 635.1 276.9 635.2 278.7 635.3 280.4 635.4 282.2 635.5 284.0 635.6 285.7 635.8 287.5 635.9 289.2 636.1 291.0 636.3 292.7 636.6 294.5 636.9 296.3 637.2 298.0 637.6 299.8 638.1 301.5 638.6 303.3 639.2 305.0 639.9 306.8 640.7 308.6 641.6 310.3 642.6 312.1 643.8 313.8 645.1 315.6 646.7 317.4 648.4 319.1 650.4 320.9 652.6 322.6 655.1 324.4 657.9 326.1 661.1 327.9 664.6 329.7 668.5 331.4 672.8 333.2 677.5 334.9 682.7 336.7 688.2 338.4 694.2 340.2 700.6 342.0 707.3 343.7 714.3 345.5 721.5 347.2 729.0 349.0 736.5 350.7 744.1" stroke="#000000" stroke-width="2.1" fill="none" stroke-linejoin="round"/><path d="M210.1 634.7 211.9 634.7 213.7 634.7 215.4 634.7 217.2 634.7 218.9 634.7 220.7 634.7 222.4 634.7 224.2 634.7 226.0 634.7 227.7 634.7 229.5 634.8 231.2 634.8 233.0 634.8 234.7 634.8 236.5 634.8 238.3 634.8 240.0 634.8 241.8 634.9 243.5 634.9 245.3 634.9 247.0 635.0 248.8 635.0 250.6 635.0 252.3 635.1 254.1 635.1 255.8 635.2 257.6 635.2 259.4 635.3 261.1 635.4 262.9 635.5 264.6 635.6 266.4 635.7 268.1 635.8 269.9 635.9 271.7 636.1 273.4 636.3 275.2 636.5 276.9 636.7 278.7 636.9 280.4 637.2 282.2 637.5 284.0 637.8 285.7 638.2 287.5 638.6 289.2 639.1 291.0 639.6 292.7 640.2 294.5 640.9 296.3 641.6 298.0 642.5 299.8 643.4 301.5 644.4 303.3 645.5 305.0 646.8 306.8 648.1 308.6 649.7 310.3 651.4 312.1 653.2 313.8 655.3 315.6 657.5 317.4 660.0 319.1 662.7 320.9 665.6 322.6 668.7 324.4 672.2 326.1 675.9 327.9 679.8 329.7 684.0 331.4 688.5 333.2 693.3 334.9 698.3 336.7 703.5 338.4 709.0 340.2 714.6 342.0 720.4 343.7 726.4 345.5 732.4 347.2 738.5 349.0 744.5 350.7 750.6" stroke="#000000" stroke-width="2.1" fill="none" stroke-linejoin="round"/><path d="M210.1 636.8 211.9 637.0 213.7 637.2 215.4 637.5 217.2 637.7 218.9 637.9 220.7 638.1 222.4 638.3 224.2 638.5 226.0 638.7 227.7 638.9 229.5 639.1 231.2 639.3 233.0 639.5 234.7 639.7 236.5 639.9 238.3 640.0 240.0 640.3 241.8 640.5 243.5 640.7 245.3 640.9 247.0 641.1 248.8 641.3 250.6 641.6 252.3 641.8 254.1 642.1 255.8 642.4 257.6 642.7 259.4 643.0 261.1 643.3 262.9 643.6 264.6 644.0 266.4 644.3 268.1 644.7 269.9 645.1 271.7 645.5 273.4 646.0 275.2 646.6 276.9 647.2 278.7 647.9 280.4 648.6 282.2 649.4 284.0 650.3 285.7 651.2 287.5 652.1 289.2 653.1 291.0 654.1 292.7 655.2 294.5 656.4 296.3 657.6 298.0 658.8 299.8 660.0 301.5 661.3 303.3 662.6 305.0 664.0 306.8 665.4 308.6 666.8 310.3 668.2 312.1 669.7 313.8 671.4 315.6 673.2 317.4 675.1 319.1 677.2 320.9 679.4 322.6 681.7 324.4 684.1 326.1 686.7 327.9 689.3 329.7 692.1 331.4 695.0 333.2 698.2 334.9 701.8 336.7 705.6 338.4 709.7 340.2 714.0 342.0 718.4 343.7 722.8 345.5 727.3 347.2 731.7 349.0 736.0 350.7 740.1" stroke="#000000" stroke-width="2.1" fill="none" stroke-linejoin="round"/><path d="M210.1 640.3 211.9 640.6 213.7 640.9 215.4 641.1 217.2 641.4 218.9 641.8 220.7 642.1 222.4 642.4 224.2 642.8 226.0 643.1 227.7 643.5 229.5 643.9 231.2 644.3 233.0 644.8 234.7 645.2 236.5 645.7 238.3 646.2 240.0 646.7 241.8 647.2 243.5 647.8 245.3 648.4 247.0 649.0 248.8 649.6 250.6 650.3 252.3 650.9 254.1 651.6 255.8 652.4 257.6 653.1 259.4 653.9 261.1 654.8 262.9 655.6 264.6 656.5 266.4 657.4 268.1 658.4 269.9 659.4 271.7 660.4 273.4 661.4 275.2 662.5 276.9 663.7 278.7 664.8 280.4 666.1 282.2 667.3 284.0 668.6 285.7 669.9 287.5 671.3 289.2 672.7 291.0 674.2 292.7 675.7 294.5 677.2 296.3 678.8 298.0 680.5 299.8 682.1 301.5 683.9 303.3 685.6 305.0 687.4 306.8 689.3 308.6 691.2 310.3 693.1 312.1 695.1 313.8 697.1 315.6 699.1 317.4 701.2 319.1 703.3 320.9 705.5 322.6 707.7 324.4 709.9 326.1 712.1 327.9 714.4 329.7 716.7 331.4 719.0 333.2 721.4 334.9 723.7 336.7 726.1 338.4 728.5 340.2 730.9 342.0 733.3 343.7 735.8 345.5 738.2 347.2 740.6 349.0 743.1 350.7 745.5" stroke="#000000" stroke-width="2.1" fill="none" stroke-linejoin="round"/><path d="M210.1 661.9 211.9 662.1 213.7 662.4 215.4 662.6 217.2 662.9 218.9 663.2 220.7 663.4 222.4 663.7 224.2 664.0 226.0 664.3 227.7 664.7 229.5 665.0 231.2 665.3 233.0 665.6 234.7 666.0 236.5 666.4 238.3 666.7 240.0 667.1 241.8 667.5 243.5 667.9 245.3 668.3 247.0 668.7 248.8 669.2 250.6 669.6 252.3 670.1 254.1 670.5 255.8 671.0 257.6 671.5 259.4 672.0 261.1 672.5 262.9 673.1 264.6 673.6 266.4 674.2 268.1 674.7 269.9 675.3 271.7 675.9 273.4 676.5 275.2 677.2 276.9 677.8 278.7 678.4 280.4 679.1 282.2 679.8 284.0 680.5 285.7 681.2 287.5 682.0 289.2 682.7 291.0 683.5 292.7 684.3 294.5 685.1 296.3 685.9 298.0 686.7 299.8 687.6 301.5 688.4 303.3 689.3 305.0 690.2 306.8 691.1 308.6 692.1 310.3 693.0 312.1 694.0 313.8 695.0 315.6 696.0 317.4 697.0 319.1 698.1 320.9 699.1 322.6 700.2 324.4 701.3 326.1 702.4 327.9 703.5 329.7 704.7 331.4 705.8 333.2 707.0 334.9 708.2 336.7 709.4 338.4 710.6 340.2 711.9 342.0 713.1 343.7 714.4 345.5 715.7 347.2 717.0 349.0 718.3 350.7 719.6" stroke="#000000" stroke-width="2.1" fill="none" stroke-linejoin="round"/><path d="M210.1 670.5 211.9 670.7 213.7 671.0 215.4 671.2 217.2 671.4 218.9 671.6 220.7 671.9 222.4 672.1 224.2 672.4 226.0 672.7 227.7 672.9 229.5 673.2 231.2 673.5 233.0 673.8 234.7 674.1 236.5 674.5 238.3 674.8 240.0 675.1 241.8 675.5 243.5 675.8 245.3 676.2 247.0 676.6 248.8 677.0 250.6 677.4 252.3 677.8 254.1 678.2 255.8 678.7 257.6 679.1 259.4 679.6 261.1 680.1 262.9 680.6 264.6 681.1 266.4 681.6 268.1 682.2 269.9 682.7 271.7 683.3 273.4 683.9 275.2 684.5 276.9 685.1 278.7 685.7 280.4 686.3 282.2 687.0 284.0 687.7 285.7 688.4 287.5 689.1 289.2 689.8 291.0 690.6 292.7 691.3 294.5 692.1 296.3 692.9 298.0 693.8 299.8 694.6 301.5 695.5 303.3 696.3 305.0 697.2 306.8 698.2 308.6 699.1 310.3 700.1 312.1 701.0 313.8 702.0 315.6 703.1 317.4 704.1 319.1 705.1 320.9 706.2 322.6 707.3 324.4 708.4 326.1 709.6 327.9 710.7 329.7 711.9 331.4 713.1 333.2 714.3 334.9 715.5 336.7 716.8 338.4 718.0 340.2 719.3 342.0 720.6 343.7 721.9 345.5 723.3 347.2 724.6 349.0 726.0 350.7 727.4" stroke="#000000" stroke-width="2.1" fill="none" stroke-linejoin="round"/><path d="M210.1 666.3 211.9 666.5 213.7 666.7 215.4 666.9 217.2 667.1 218.9 667.3 220.7 667.5 222.4 667.8 224.2 668.0 226.0 668.3 227.7 668.5 229.5 668.8 231.2 669.1 233.0 669.4 234.7 669.7 236.5 670.0 238.3 670.3 240.0 670.7 241.8 671.0 243.5 671.4 245.3 671.8 247.0 672.2 248.8 672.6 250.6 673.1 252.3 673.5 254.1 674.0 255.8 674.5 257.6 675.0 259.4 675.5 261.1 676.1 262.9 676.7 264.6 677.2 266.4 677.9 268.1 678.5 269.9 679.1 271.7 679.8 273.4 680.5 275.2 681.3 276.9 682.0 278.7 682.8 280.4 683.6 282.2 684.4 284.0 685.3 285.7 686.2 287.5 687.1 289.2 688.1 291.0 689.1 292.7 690.1 294.5 691.1 296.3 692.2 298.0 693.3 299.8 694.4 301.5 695.6 303.3 696.8 305.0 698.0 306.8 699.3 308.6 700.6 310.3 701.9 312.1 703.3 313.8 704.7 315.6 706.1 317.4 707.6 319.1 709.1 320.9 710.6 322.6 712.2 324.4 713.8 326.1 715.4 327.9 717.0 329.7 718.7 331.4 720.4 333.2 722.1 334.9 723.9 336.7 725.7 338.4 727.5 340.2 729.3 342.0 731.2 343.7 733.1 345.5 734.9 347.2 736.9 349.0 738.8 350.7 740.7" stroke="#000000" stroke-width="2.1" fill="none" stroke-linejoin="round"/><g fill="#000000" stroke="#000000" stroke-width="0.9"><circle cx="210.14" cy="655.97" r="4.2"/><circle cx="210.14" cy="659.56" r="4.2"/><circle cx="210.14" cy="663.35" r="4.2"/><circle cx="210.14" cy="666.94" r="4.2"/><circle cx="210.14" cy="670.53" r="4.2"/><circle cx="210.14" cy="679.81" r="4.2"/><circle cx="210.14" cy="683.39" r="4.2"/><circle cx="230.23" cy="617.58" r="4.2"/><circle cx="230.23" cy="628.55" r="4.2"/><circle cx="230.23" cy="635.93" r="4.2"/><circle cx="230.23" cy="646.9" r="4.2"/><circle cx="230.23" cy="652.39" r="4.2"/><circle cx="230.23" cy="657.87" r="4.2"/><circle cx="230.23" cy="663.35" r="4.2"/><circle cx="230.23" cy="670.53" r="4.2"/><circle cx="230.23" cy="676.01" r="4.2"/><circle cx="230.23" cy="683.39" r="4.2"/><circle cx="250.31" cy="603.03" r="4.2"/><circle cx="250.31" cy="612.1" r="4.2"/><circle cx="250.31" cy="616.74" r="4.2"/><circle cx="250.31" cy="624.96" r="4.2"/><circle cx="250.31" cy="643.1" r="4.2"/><circle cx="250.31" cy="661.46" r="4.2"/><circle cx="250.31" cy="672.42" r="4.2"/><circle cx="250.31" cy="677.91" r="4.2"/><circle cx="250.31" cy="682.55" r="4.2"/><circle cx="270.4" cy="608.51" r="4.2"/><circle cx="270.4" cy="621.17" r="4.2"/><circle cx="270.4" cy="632.14" r="4.2"/><circle cx="270.4" cy="635.93" r="4.2"/><circle cx="270.4" cy="651.33" r="4.2"/><circle cx="270.4" cy="674.32" r="4.2"/><circle cx="270.4" cy="681.49" r="4.2"/><circle cx="270.4" cy="714.4" r="4.2"/><circle cx="290.49" cy="620.32" r="4.2"/><circle cx="290.49" cy="628.55" r="4.2"/><circle cx="290.49" cy="643.1" r="4.2"/><circle cx="290.49" cy="648.59" r="4.2"/><circle cx="290.49" cy="662.3" r="4.2"/><circle cx="290.49" cy="670.53" r="4.2"/><circle cx="290.49" cy="677.91" r="4.2"/><circle cx="290.49" cy="683.39" r="4.2"/><circle cx="290.49" cy="694.36" r="4.2"/><circle cx="310.57" cy="641.42" r="4.2"/><circle cx="310.57" cy="648.59" r="4.2"/><circle cx="310.57" cy="655.97" r="4.2"/><circle cx="310.57" cy="661.46" r="4.2"/><circle cx="310.57" cy="681.49" r="4.2"/><circle cx="310.57" cy="694.36" r="4.2"/><circle cx="310.57" cy="699.85" r="4.2"/><circle cx="330.66" cy="696.26" r="4.2"/><circle cx="330.66" cy="701.74" r="4.2"/><circle cx="330.66" cy="707.23" r="4.2"/><circle cx="330.66" cy="723.68" r="4.2"/><circle cx="330.66" cy="729.16" r="4.2"/><circle cx="350.75" cy="738.23" r="4.2"/><circle cx="350.75" cy="743.72" r="4.2"/><circle cx="350.75" cy="751.1" r="4.2"/><circle cx="350.75" cy="762.07" r="4.2"/><circle cx="350.75" cy="766.5" r="4.2"/></g></g>
<g><path d="M585 527.2V858.2M583.4 844.9H797.1M571.7 844.9H585M571.7 739.53H585M571.7 634.17H585M571.7 528.8H585M627.1 844.9V858.2M669.2 844.9V858.2M711.3 844.9V858.2M753.4 844.9V858.2M795.5 844.9V858.2" stroke="#000" stroke-width="3.2" fill="none"/><text x="566.5" y="853.8" font-size="25" text-anchor="end">0</text><text x="566.5" y="748.43" font-size="25" text-anchor="end">50</text><text x="566.5" y="643.07" font-size="25" text-anchor="end">100</text><text x="566.5" y="537.7" font-size="25" text-anchor="end">150</text><text x="585" y="885.5" font-size="25" text-anchor="middle">-6</text><text x="627.1" y="885.5" font-size="25" text-anchor="middle">-5</text><text x="669.2" y="885.5" font-size="25" text-anchor="middle">-4</text><text x="711.3" y="885.5" font-size="25" text-anchor="middle">-3</text><text x="753.4" y="885.5" font-size="25" text-anchor="middle">-2</text><text x="795.5" y="885.5" font-size="25" text-anchor="middle">-1</text><text x="690.25" y="923.1" font-size="25.5" text-anchor="middle">Log<tspan font-size="20" dy="8.8">10</tspan><tspan dy="-8.8"> (1/serum dilution)</tspan></text><text transform="translate(511.3 686.85) rotate(-90)" font-size="30" text-anchor="middle">% Relative Infection</text><path d="M622.1 634.3 623.9 634.3 625.7 634.3 627.4 634.3 629.2 634.4 630.9 634.4 632.7 634.4 634.4 634.4 636.2 634.4 638.0 634.5 639.7 634.5 641.5 634.5 643.2 634.6 645.0 634.6 646.7 634.7 648.5 634.7 650.3 634.8 652.0 634.8 653.8 634.9 655.5 635.0 657.3 635.0 659.0 635.1 660.8 635.2 662.6 635.3 664.3 635.4 666.1 635.6 667.8 635.7 669.6 635.9 671.4 636.0 673.1 636.2 674.9 636.4 676.6 636.6 678.4 636.9 680.1 637.2 681.9 637.5 683.7 637.8 685.4 638.2 687.2 638.5 688.9 639.0 690.7 639.5 692.4 640.0 694.2 640.5 696.0 641.2 697.7 641.8 699.5 642.6 701.2 643.4 703.0 644.3 704.7 645.2 706.5 646.3 708.3 647.4 710.0 648.7 711.8 650.1 713.5 651.5 715.3 653.1 717.0 654.8 718.8 656.7 720.6 658.7 722.3 660.9 724.1 663.2 725.8 665.7 727.6 668.4 729.4 671.2 731.1 674.2 732.9 677.4 734.6 680.8 736.4 684.4 738.1 688.2 739.9 692.1 741.7 696.3 743.4 700.6 745.2 705.0 746.9 709.6 748.7 714.3 750.4 719.1 752.2 724.1 754.0 729.0 755.7 734.1 757.5 739.1 759.2 744.2 761.0 749.2 762.7 754.2" stroke="#e00000" stroke-width="1.4" fill="none" stroke-linejoin="round"/><path d="M622.1 634.3 623.9 634.3 625.7 634.4 627.4 634.4 629.2 634.4 630.9 634.4 632.7 634.5 634.4 634.5 636.2 634.5 638.0 634.5 639.7 634.6 641.5 634.6 643.2 634.7 645.0 634.7 646.7 634.8 648.5 634.8 650.3 634.9 652.0 635.0 653.8 635.1 655.5 635.2 657.3 635.3 659.0 635.4 660.8 635.5 662.6 635.6 664.3 635.8 666.1 635.9 667.8 636.1 669.6 636.3 671.4 636.5 673.1 636.7 674.9 637.0 676.6 637.3 678.4 637.6 680.1 637.9 681.9 638.3 683.7 638.7 685.4 639.2 687.2 639.7 688.9 640.2 690.7 640.8 692.4 641.4 694.2 642.1 696.0 642.9 697.7 643.7 699.5 644.7 701.2 645.7 703.0 646.7 704.7 647.9 706.5 649.2 708.3 650.6 710.0 652.1 711.8 653.8 713.5 655.6 715.3 657.5 717.0 659.5 718.8 661.8 720.6 664.2 722.3 666.7 724.1 669.5 725.8 672.4 727.6 675.5 729.4 678.8 731.1 682.2 732.9 685.9 734.6 689.7 736.4 693.8 738.1 697.9 739.9 702.3 741.7 706.8 743.4 711.5 745.2 716.2 746.9 721.1 748.7 726.0 750.4 731.0 752.2 736.1 754.0 741.1 755.7 746.2 757.5 751.2 759.2 756.2 761.0 761.1 762.7 765.9" stroke="#e00000" stroke-width="1.4" fill="none" stroke-linejoin="round"/><path d="M622.1 634.3 623.9 634.3 625.7 634.3 627.4 634.3 629.2 634.3 630.9 634.3 632.7 634.4 634.4 634.4 636.2 634.4 638.0 634.4 639.7 634.5 641.5 634.5 643.2 634.5 645.0 634.6 646.7 634.6 648.5 634.7 650.3 634.7 652.0 634.8 653.8 634.8 655.5 634.9 657.3 635.0 659.0 635.1 660.8 635.2 662.6 635.3 664.3 635.4 666.1 635.6 667.8 635.7 669.6 635.9 671.4 636.1 673.1 636.3 674.9 636.5 676.6 636.8 678.4 637.1 680.1 637.4 681.9 637.8 683.7 638.2 685.4 638.6 687.2 639.1 688.9 639.6 690.7 640.2 692.4 640.9 694.2 641.6 696.0 642.4 697.7 643.3 699.5 644.2 701.2 645.3 703.0 646.5 704.7 647.8 706.5 649.2 708.3 650.7 710.0 652.4 711.8 654.2 713.5 656.2 715.3 658.4 717.0 660.8 718.8 663.3 720.6 666.1 722.3 669.1 724.1 672.3 725.8 675.7 727.6 679.3 729.4 683.2 731.1 687.3 732.9 691.6 734.6 696.1 736.4 700.8 738.1 705.7 739.9 710.8 741.7 716.1 743.4 721.4 745.2 726.9 746.9 732.4 748.7 737.9 750.4 743.5 752.2 749.0 754.0 754.5 755.7 760.0 757.5 765.3 759.2 770.4 761.0 775.4 762.7 780.3" stroke="#e00000" stroke-width="1.4" fill="none" stroke-linejoin="round"/><path d="M622.1 634.2 623.9 634.3 625.7 634.3 627.4 634.3 629.2 634.3 630.9 634.3 632.7 634.3 634.4 634.3 636.2 634.4 638.0 634.4 639.7 634.4 641.5 634.4 643.2 634.5 645.0 634.5 646.7 634.5 648.5 634.6 650.3 634.6 652.0 634.7 653.8 634.8 655.5 634.8 657.3 634.9 659.0 635.0 660.8 635.1 662.6 635.2 664.3 635.4 666.1 635.5 667.8 635.7 669.6 635.9 671.4 636.1 673.1 636.3 674.9 636.6 676.6 636.9 678.4 637.2 680.1 637.5 681.9 637.9 683.7 638.4 685.4 638.9 687.2 639.5 688.9 640.1 690.7 640.8 692.4 641.6 694.2 642.5 696.0 643.4 697.7 644.5 699.5 645.7 701.2 647.0 703.0 648.5 704.7 650.1 706.5 651.9 708.3 653.9 710.0 656.0 711.8 658.4 713.5 661.0 715.3 663.8 717.0 666.9 718.8 670.2 720.6 673.7 722.3 677.6 724.1 681.7 725.8 686.1 727.6 690.7 729.4 695.6 731.1 700.8 732.9 706.1 734.6 711.7 736.4 717.4 738.1 723.3 739.9 729.3 741.7 735.3 743.4 741.4 745.2 747.5 746.9 753.5 748.7 759.4 750.4 765.2 752.2 770.8 754.0 776.3 755.7 781.5 757.5 786.5 759.2 791.2 761.0 795.7 762.7 799.9" stroke="#e00000" stroke-width="1.4" fill="none" stroke-linejoin="round"/><path d="M622.1 634.2 623.9 634.2 625.7 634.2 627.4 634.2 629.2 634.3 630.9 634.3 632.7 634.3 634.4 634.3 636.2 634.3 638.0 634.3 639.7 634.4 641.5 634.4 643.2 634.4 645.0 634.4 646.7 634.5 648.5 634.5 650.3 634.6 652.0 634.6 653.8 634.7 655.5 634.7 657.3 634.8 659.0 634.9 660.8 635.0 662.6 635.1 664.3 635.2 666.1 635.4 667.8 635.5 669.6 635.7 671.4 635.9 673.1 636.1 674.9 636.4 676.6 636.7 678.4 637.0 680.1 637.4 681.9 637.8 683.7 638.3 685.4 638.8 687.2 639.4 688.9 640.1 690.7 640.9 692.4 641.8 694.2 642.7 696.0 643.8 697.7 645.0 699.5 646.4 701.2 647.9 703.0 649.6 704.7 651.5 706.5 653.6 708.3 655.9 710.0 658.5 711.8 661.3 713.5 664.4 715.3 667.8 717.0 671.5 718.8 675.5 720.6 679.8 722.3 684.4 724.1 689.3 725.8 694.6 727.6 700.1 729.4 705.9 731.1 711.9 732.9 718.1 734.6 724.5 736.4 731.0 738.1 737.6 739.9 744.1 741.7 750.7 743.4 757.2 745.2 763.5 746.9 769.6 748.7 775.6 750.4 781.2 752.2 786.7 754.0 791.8 755.7 796.6 757.5 801.1 759.2 805.3 761.0 809.1 762.7 812.7" stroke="#e00000" stroke-width="1.4" fill="none" stroke-linejoin="round"/><path d="M622.1 634.2 623.9 634.2 625.7 634.3 627.4 634.3 629.2 634.3 630.9 634.3 632.7 634.3 634.4 634.3 636.2 634.4 638.0 634.4 639.7 634.4 641.5 634.4 643.2 634.5 645.0 634.5 646.7 634.6 648.5 634.6 650.3 634.7 652.0 634.8 653.8 634.8 655.5 634.9 657.3 635.0 659.0 635.2 660.8 635.3 662.6 635.4 664.3 635.6 666.1 635.8 667.8 636.0 669.6 636.2 671.4 636.5 673.1 636.8 674.9 637.2 676.6 637.6 678.4 638.0 680.1 638.5 681.9 639.1 683.7 639.7 685.4 640.4 687.2 641.2 688.9 642.1 690.7 643.1 692.4 644.3 694.2 645.6 696.0 647.0 697.7 648.6 699.5 650.3 701.2 652.3 703.0 654.5 704.7 656.9 706.5 659.6 708.3 662.5 710.0 665.7 711.8 669.2 713.5 673.0 715.3 677.1 717.0 681.6 718.8 686.3 720.6 691.4 722.3 696.7 724.1 702.3 725.8 708.2 727.6 714.3 729.4 720.6 731.1 727.1 732.9 733.6 734.6 740.2 736.4 746.7 738.1 753.3 739.9 759.7 741.7 765.9 743.4 772.0 745.2 777.8 746.9 783.4 748.7 788.7 750.4 793.7 752.2 798.4 754.0 802.8 755.7 806.8 757.5 810.6 759.2 814.0 761.0 817.2 762.7 820.0" stroke="#e00000" stroke-width="1.4" fill="none" stroke-linejoin="round"/><path d="M622.1 634.2 623.9 634.2 625.7 634.2 627.4 634.2 629.2 634.3 630.9 634.3 632.7 634.3 634.4 634.3 636.2 634.3 638.0 634.3 639.7 634.4 641.5 634.4 643.2 634.4 645.0 634.5 646.7 634.5 648.5 634.6 650.3 634.6 652.0 634.7 653.8 634.8 655.5 634.9 657.3 635.0 659.0 635.1 660.8 635.2 662.6 635.3 664.3 635.5 666.1 635.7 667.8 635.9 669.6 636.2 671.4 636.5 673.1 636.8 674.9 637.2 676.6 637.6 678.4 638.1 680.1 638.6 681.9 639.2 683.7 640.0 685.4 640.8 687.2 641.7 688.9 642.7 690.7 643.9 692.4 645.2 694.2 646.7 696.0 648.4 697.7 650.3 699.5 652.4 701.2 654.8 703.0 657.4 704.7 660.4 706.5 663.6 708.3 667.2 710.0 671.1 711.8 675.4 713.5 680.0 715.3 685.0 717.0 690.4 718.8 696.1 720.6 702.2 722.3 708.5 724.1 715.1 725.8 721.9 727.6 728.9 729.4 735.9 731.1 743.0 732.9 750.1 734.6 757.0 736.4 763.8 738.1 770.4 739.9 776.8 741.7 782.8 743.4 788.6 745.2 793.9 746.9 799.0 748.7 803.6 750.4 807.9 752.2 811.8 754.0 815.4 755.7 818.7 757.5 821.6 759.2 824.2 761.0 826.6 762.7 828.7" stroke="#e00000" stroke-width="1.4" fill="none" stroke-linejoin="round"/><path d="M622.1 634.2 623.9 634.2 625.7 634.2 627.4 634.2 629.2 634.3 630.9 634.3 632.7 634.3 634.4 634.3 636.2 634.3 638.0 634.3 639.7 634.4 641.5 634.4 643.2 634.4 645.0 634.5 646.7 634.5 648.5 634.6 650.3 634.6 652.0 634.7 653.8 634.8 655.5 634.9 657.3 635.0 659.0 635.1 660.8 635.2 662.6 635.4 664.3 635.6 666.1 635.8 667.8 636.0 669.6 636.3 671.4 636.6 673.1 637.0 674.9 637.4 676.6 637.9 678.4 638.5 680.1 639.1 681.9 639.9 683.7 640.7 685.4 641.7 687.2 642.8 688.9 644.0 690.7 645.4 692.4 647.0 694.2 648.8 696.0 650.9 697.7 653.2 699.5 655.8 701.2 658.7 703.0 661.9 704.7 665.5 706.5 669.4 708.3 673.8 710.0 678.5 711.8 683.7 713.5 689.2 715.3 695.2 717.0 701.5 718.8 708.1 720.6 715.0 722.3 722.2 724.1 729.5 725.8 736.9 727.6 744.4 729.4 751.7 731.1 759.0 732.9 766.1 734.6 772.9 736.4 779.5 738.1 785.7 739.9 791.5 741.7 796.9 743.4 802.0 745.2 806.6 746.9 810.8 748.7 814.7 750.4 818.2 752.2 821.3 754.0 824.1 755.7 826.6 757.5 828.8 759.2 830.8 761.0 832.5 762.7 834.1" stroke="#e00000" stroke-width="1.4" fill="none" stroke-linejoin="round"/><path d="M622.1 642.6 623.9 642.8 625.7 643.0 627.4 643.1 629.2 643.3 630.9 643.5 632.7 643.7 634.4 643.9 636.2 644.2 638.0 644.4 639.7 644.7 641.5 645.0 643.2 645.3 645.0 645.6 646.7 645.9 648.5 646.3 650.3 646.7 652.0 647.1 653.8 647.5 655.5 648.0 657.3 648.5 659.0 649.1 660.8 649.6 662.6 650.2 664.3 650.9 666.1 651.6 667.8 652.3 669.6 653.1 671.4 653.9 673.1 654.7 674.9 655.7 676.6 656.6 678.4 657.7 680.1 658.8 681.9 659.9 683.7 661.1 685.4 662.4 687.2 663.8 688.9 665.2 690.7 666.7 692.4 668.3 694.2 669.9 696.0 671.6 697.7 673.5 699.5 675.4 701.2 677.4 703.0 679.4 704.7 681.6 706.5 683.9 708.3 686.2 710.0 688.6 711.8 691.2 713.5 693.8 715.3 696.5 717.0 699.2 718.8 702.1 720.6 705.0 722.3 708.0 724.1 711.1 725.8 714.2 727.6 717.4 729.4 720.7 731.1 724.0 732.9 727.3 734.6 730.7 736.4 734.1 738.1 737.6 739.9 741.0 741.7 744.4 743.4 747.9 745.2 751.3 746.9 754.7 748.7 758.1 750.4 761.4 752.2 764.7 754.0 768.0 755.7 771.2 757.5 774.3 759.2 777.4 761.0 780.4 762.7 783.3" stroke="#e00000" stroke-width="1.4" fill="none" stroke-linejoin="round"/><path d="M622.1 650.2 623.9 650.5 625.7 650.8 627.4 651.2 629.2 651.5 630.9 651.9 632.7 652.3 634.4 652.7 636.2 653.1 638.0 653.6 639.7 654.0 641.5 654.5 643.2 655.0 645.0 655.6 646.7 656.2 648.5 656.8 650.3 657.4 652.0 658.1 653.8 658.8 655.5 659.5 657.3 660.3 659.0 661.1 660.8 661.9 662.6 662.8 664.3 663.8 666.1 664.7 667.8 665.7 669.6 666.8 671.4 667.9 673.1 669.0 674.9 670.2 676.6 671.5 678.4 672.8 680.1 674.1 681.9 675.5 683.7 677.0 685.4 678.5 687.2 680.1 688.9 681.7 690.7 683.4 692.4 685.1 694.2 686.9 696.0 688.7 697.7 690.7 699.5 692.6 701.2 694.6 703.0 696.7 704.7 698.9 706.5 701.1 708.3 703.3 710.0 705.6 711.8 707.9 713.5 710.3 715.3 712.8 717.0 715.3 718.8 717.8 720.6 720.3 722.3 722.9 724.1 725.6 725.8 728.2 727.6 730.9 729.4 733.6 731.1 736.3 732.9 739.0 734.6 741.8 736.4 744.5 738.1 747.3 739.9 750.0 741.7 752.7 743.4 755.5 745.2 758.2 746.9 760.8 748.7 763.5 750.4 766.1 752.2 768.7 754.0 771.3 755.7 773.8 757.5 776.3 759.2 778.8 761.0 781.2 762.7 783.5" stroke="#e00000" stroke-width="1.4" fill="none" stroke-linejoin="round"/><g fill="#ff0000" stroke="#b80008" stroke-width="0.9"><circle cx="622.14" cy="658.19" r="4.2"/><circle cx="622.14" cy="668.31" r="4.2"/><circle cx="622.14" cy="673.78" r="4.2"/><circle cx="622.14" cy="677.37" r="4.2"/><circle cx="622.14" cy="682.85" r="4.2"/><circle cx="622.14" cy="691.91" r="4.2"/><circle cx="622.14" cy="697.39" r="4.2"/><circle cx="642.23" cy="645.34" r="4.2"/><circle cx="642.23" cy="651.87" r="4.2"/><circle cx="642.23" cy="657.35" r="4.2"/><circle cx="642.23" cy="662.83" r="4.2"/><circle cx="642.23" cy="667.25" r="4.2"/><circle cx="642.23" cy="694.65" r="4.2"/><circle cx="662.31" cy="631.64" r="4.2"/><circle cx="662.31" cy="639.01" r="4.2"/><circle cx="662.31" cy="646.39" r="4.2"/><circle cx="662.31" cy="651.87" r="4.2"/><circle cx="662.31" cy="657.35" r="4.2"/><circle cx="662.31" cy="662.83" r="4.2"/><circle cx="682.4" cy="628.06" r="4.2"/><circle cx="682.4" cy="635.43" r="4.2"/><circle cx="682.4" cy="642.6" r="4.2"/><circle cx="682.4" cy="648.08" r="4.2"/><circle cx="682.4" cy="655.45" r="4.2"/><circle cx="682.4" cy="660.93" r="4.2"/><circle cx="682.4" cy="680.95" r="4.2"/><circle cx="702.49" cy="639.01" r="4.2"/><circle cx="702.49" cy="653.55" r="4.2"/><circle cx="702.49" cy="657.35" r="4.2"/><circle cx="702.49" cy="669.99" r="4.2"/><circle cx="702.49" cy="684.74" r="4.2"/><circle cx="702.49" cy="693.8" r="4.2"/><circle cx="722.57" cy="671.89" r="4.2"/><circle cx="722.57" cy="682.85" r="4.2"/><circle cx="722.57" cy="688.33" r="4.2"/><circle cx="722.57" cy="695.7" r="4.2"/><circle cx="722.57" cy="701.18" r="4.2"/><circle cx="722.57" cy="706.66" r="4.2"/><circle cx="722.57" cy="712.98" r="4.2"/><circle cx="722.57" cy="730.26" r="4.2"/><circle cx="742.66" cy="699.28" r="4.2"/><circle cx="742.66" cy="704.76" r="4.2"/><circle cx="742.66" cy="721.2" r="4.2"/><circle cx="742.66" cy="755.97" r="4.2"/><circle cx="742.66" cy="761.45" r="4.2"/><circle cx="742.66" cy="792.43" r="4.2"/><circle cx="742.66" cy="807.18" r="4.2"/><circle cx="742.66" cy="814.34" r="4.2"/><circle cx="762.75" cy="758.71" r="4.2"/><circle cx="762.75" cy="772.41" r="4.2"/><circle cx="762.75" cy="810.76" r="4.2"/><circle cx="762.75" cy="814.34" r="4.2"/><circle cx="762.75" cy="827.2" r="4.2"/><circle cx="762.75" cy="832.68" r="4.2"/><circle cx="762.75" cy="838.16" r="4.2"/><circle cx="762.75" cy="842.79" r="4.2"/></g></g>
<g><path d="M995.6 526.8V858.2M994 844.9H1207.7M982.3 844.9H995.6M982.3 739.4H995.6M982.3 633.9H995.6M982.3 528.4H995.6M1037.7 844.9V858.2M1079.8 844.9V858.2M1121.9 844.9V858.2M1164 844.9V858.2M1206.1 844.9V858.2" stroke="#000" stroke-width="3.2" fill="none"/><text x="977.1" y="853.8" font-size="25" text-anchor="end">0</text><text x="977.1" y="748.3" font-size="25" text-anchor="end">50</text><text x="977.1" y="642.8" font-size="25" text-anchor="end">100</text><text x="977.1" y="537.3" font-size="25" text-anchor="end">150</text><text x="995.6" y="885.5" font-size="25" text-anchor="middle">-6</text><text x="1037.7" y="885.5" font-size="25" text-anchor="middle">-5</text><text x="1079.8" y="885.5" font-size="25" text-anchor="middle">-4</text><text x="1121.9" y="885.5" font-size="25" text-anchor="middle">-3</text><text x="1164" y="885.5" font-size="25" text-anchor="middle">-2</text><text x="1206.1" y="885.5" font-size="25" text-anchor="middle">-1</text><text x="1100.85" y="923.1" font-size="25.5" text-anchor="middle">Log<tspan font-size="20" dy="8.8">10</tspan><tspan dy="-8.8"> (1/serum dilution)</tspan></text><text transform="translate(921.9 686.65) rotate(-90)" font-size="30" text-anchor="middle">% Relative Infection</text><path d="M1032.7 636.6 1034.5 636.8 1036.3 636.9 1038.0 637.1 1039.8 637.3 1041.5 637.5 1043.3 637.7 1045.0 637.9 1046.8 638.1 1048.6 638.4 1050.3 638.6 1052.1 638.9 1053.8 639.1 1055.6 639.4 1057.3 639.8 1059.1 640.1 1060.9 640.4 1062.6 640.8 1064.4 641.2 1066.1 641.6 1067.9 642.0 1069.6 642.4 1071.4 642.9 1073.2 643.4 1074.9 643.9 1076.7 644.5 1078.4 645.0 1080.2 645.6 1082.0 646.3 1083.7 646.9 1085.5 647.6 1087.2 648.4 1089.0 649.1 1090.7 649.9 1092.5 650.8 1094.3 651.7 1096.0 652.6 1097.8 653.6 1099.5 654.6 1101.3 655.7 1103.0 656.8 1104.8 657.9 1106.6 659.1 1108.3 660.4 1110.1 661.7 1111.8 663.1 1113.6 664.5 1115.3 666.0 1117.1 667.6 1118.9 669.2 1120.6 670.9 1122.4 672.6 1124.1 674.4 1125.9 676.2 1127.6 678.1 1129.4 680.1 1131.2 682.2 1132.9 684.3 1134.7 686.4 1136.4 688.7 1138.2 691.0 1140.0 693.3 1141.7 695.7 1143.5 698.2 1145.2 700.7 1147.0 703.3 1148.7 705.9 1150.5 708.6 1152.3 711.3 1154.0 714.0 1155.8 716.8 1157.5 719.6 1159.3 722.5 1161.0 725.4 1162.8 728.3 1164.6 731.2 1166.3 734.1 1168.1 737.1 1169.8 740.0 1171.6 742.9 1173.3 745.9" stroke="#0000e6" stroke-width="1.4" fill="none" stroke-linejoin="round"/><path d="M1032.7 636.2 1034.5 636.3 1036.3 636.5 1038.0 636.6 1039.8 636.8 1041.5 636.9 1043.3 637.1 1045.0 637.3 1046.8 637.5 1048.6 637.7 1050.3 638.0 1052.1 638.2 1053.8 638.5 1055.6 638.8 1057.3 639.1 1059.1 639.4 1060.9 639.7 1062.6 640.0 1064.4 640.4 1066.1 640.8 1067.9 641.2 1069.6 641.6 1071.4 642.1 1073.2 642.6 1074.9 643.1 1076.7 643.6 1078.4 644.2 1080.2 644.8 1082.0 645.4 1083.7 646.1 1085.5 646.8 1087.2 647.5 1089.0 648.3 1090.7 649.1 1092.5 650.0 1094.3 650.9 1096.0 651.8 1097.8 652.8 1099.5 653.9 1101.3 655.0 1103.0 656.1 1104.8 657.4 1106.6 658.6 1108.3 660.0 1110.1 661.4 1111.8 662.8 1113.6 664.3 1115.3 665.9 1117.1 667.6 1118.9 669.3 1120.6 671.1 1122.4 672.9 1124.1 674.9 1125.9 676.9 1127.6 678.9 1129.4 681.1 1131.2 683.3 1132.9 685.6 1134.7 688.0 1136.4 690.4 1138.2 692.9 1140.0 695.5 1141.7 698.1 1143.5 700.8 1145.2 703.5 1147.0 706.3 1148.7 709.2 1150.5 712.1 1152.3 715.1 1154.0 718.1 1155.8 721.1 1157.5 724.2 1159.3 727.3 1161.0 730.4 1162.8 733.5 1164.6 736.6 1166.3 739.8 1168.1 742.9 1169.8 746.1 1171.6 749.2 1173.3 752.3" stroke="#0000e6" stroke-width="1.4" fill="none" stroke-linejoin="round"/><path d="M1032.7 637.6 1034.5 637.7 1036.3 637.8 1038.0 638.0 1039.8 638.1 1041.5 638.2 1043.3 638.4 1045.0 638.6 1046.8 638.7 1048.6 638.9 1050.3 639.1 1052.1 639.3 1053.8 639.6 1055.6 639.8 1057.3 640.1 1059.1 640.3 1060.9 640.6 1062.6 641.0 1064.4 641.3 1066.1 641.6 1067.9 642.0 1069.6 642.4 1071.4 642.9 1073.2 643.3 1074.9 643.8 1076.7 644.3 1078.4 644.9 1080.2 645.5 1082.0 646.1 1083.7 646.8 1085.5 647.5 1087.2 648.2 1089.0 649.0 1090.7 649.9 1092.5 650.8 1094.3 651.7 1096.0 652.7 1097.8 653.8 1099.5 654.9 1101.3 656.1 1103.0 657.4 1104.8 658.7 1106.6 660.1 1108.3 661.6 1110.1 663.1 1111.8 664.7 1113.6 666.4 1115.3 668.2 1117.1 670.1 1118.9 672.1 1120.6 674.1 1122.4 676.3 1124.1 678.5 1125.9 680.8 1127.6 683.2 1129.4 685.7 1131.2 688.3 1132.9 691.0 1134.7 693.8 1136.4 696.6 1138.2 699.6 1140.0 702.6 1141.7 705.7 1143.5 708.8 1145.2 712.1 1147.0 715.3 1148.7 718.7 1150.5 722.1 1152.3 725.5 1154.0 729.0 1155.8 732.4 1157.5 735.9 1159.3 739.4 1161.0 743.0 1162.8 746.5 1164.6 750.0 1166.3 753.4 1168.1 756.9 1169.8 760.3 1171.6 763.7 1173.3 767.0" stroke="#0000e6" stroke-width="1.4" fill="none" stroke-linejoin="round"/><path d="M1032.7 639.5 1034.5 639.6 1036.3 639.7 1038.0 639.8 1039.8 639.9 1041.5 640.0 1043.3 640.2 1045.0 640.3 1046.8 640.5 1048.6 640.7 1050.3 640.8 1052.1 641.0 1053.8 641.3 1055.6 641.5 1057.3 641.7 1059.1 642.0 1060.9 642.3 1062.6 642.6 1064.4 642.9 1066.1 643.3 1067.9 643.6 1069.6 644.0 1071.4 644.5 1073.2 644.9 1074.9 645.4 1076.7 645.9 1078.4 646.5 1080.2 647.1 1082.0 647.7 1083.7 648.4 1085.5 649.2 1087.2 649.9 1089.0 650.8 1090.7 651.6 1092.5 652.6 1094.3 653.6 1096.0 654.6 1097.8 655.8 1099.5 657.0 1101.3 658.2 1103.0 659.6 1104.8 661.0 1106.6 662.5 1108.3 664.1 1110.1 665.8 1111.8 667.6 1113.6 669.5 1115.3 671.4 1117.1 673.5 1118.9 675.7 1120.6 677.9 1122.4 680.3 1124.1 682.8 1125.9 685.3 1127.6 688.0 1129.4 690.8 1131.2 693.7 1132.9 696.6 1134.7 699.7 1136.4 702.9 1138.2 706.1 1140.0 709.5 1141.7 712.9 1143.5 716.3 1145.2 719.9 1147.0 723.5 1148.7 727.1 1150.5 730.8 1152.3 734.5 1154.0 738.2 1155.8 741.9 1157.5 745.6 1159.3 749.4 1161.0 753.0 1162.8 756.7 1164.6 760.3 1166.3 763.9 1168.1 767.4 1169.8 770.9 1171.6 774.3 1173.3 777.6" stroke="#0000e6" stroke-width="1.4" fill="none" stroke-linejoin="round"/><path d="M1032.7 641.4 1034.5 641.5 1036.3 641.6 1038.0 641.7 1039.8 641.8 1041.5 641.9 1043.3 642.0 1045.0 642.2 1046.8 642.3 1048.6 642.5 1050.3 642.7 1052.1 642.9 1053.8 643.1 1055.6 643.3 1057.3 643.5 1059.1 643.8 1060.9 644.1 1062.6 644.4 1064.4 644.7 1066.1 645.0 1067.9 645.4 1069.6 645.8 1071.4 646.2 1073.2 646.7 1074.9 647.2 1076.7 647.7 1078.4 648.3 1080.2 648.9 1082.0 649.6 1083.7 650.3 1085.5 651.1 1087.2 651.9 1089.0 652.8 1090.7 653.7 1092.5 654.7 1094.3 655.8 1096.0 656.9 1097.8 658.1 1099.5 659.4 1101.3 660.8 1103.0 662.3 1104.8 663.8 1106.6 665.5 1108.3 667.2 1110.1 669.1 1111.8 671.0 1113.6 673.1 1115.3 675.3 1117.1 677.6 1118.9 680.0 1120.6 682.5 1122.4 685.2 1124.1 687.9 1125.9 690.8 1127.6 693.8 1129.4 696.9 1131.2 700.1 1132.9 703.4 1134.7 706.8 1136.4 710.3 1138.2 713.9 1140.0 717.5 1141.7 721.3 1143.5 725.0 1145.2 728.9 1147.0 732.8 1148.7 736.7 1150.5 740.6 1152.3 744.5 1154.0 748.5 1155.8 752.4 1157.5 756.3 1159.3 760.1 1161.0 763.9 1162.8 767.6 1164.6 771.3 1166.3 774.9 1168.1 778.4 1169.8 781.8 1171.6 785.1 1173.3 788.3" stroke="#0000e6" stroke-width="1.4" fill="none" stroke-linejoin="round"/><path d="M1032.7 643.0 1034.5 643.1 1036.3 643.1 1038.0 643.2 1039.8 643.3 1041.5 643.3 1043.3 643.4 1045.0 643.5 1046.8 643.6 1048.6 643.8 1050.3 643.9 1052.1 644.0 1053.8 644.2 1055.6 644.3 1057.3 644.5 1059.1 644.7 1060.9 644.9 1062.6 645.1 1064.4 645.4 1066.1 645.7 1067.9 646.0 1069.6 646.3 1071.4 646.6 1073.2 647.0 1074.9 647.4 1076.7 647.9 1078.4 648.4 1080.2 648.9 1082.0 649.5 1083.7 650.1 1085.5 650.7 1087.2 651.5 1089.0 652.2 1090.7 653.1 1092.5 654.0 1094.3 655.0 1096.0 656.1 1097.8 657.2 1099.5 658.5 1101.3 659.8 1103.0 661.2 1104.8 662.8 1106.6 664.4 1108.3 666.2 1110.1 668.0 1111.8 670.0 1113.6 672.2 1115.3 674.4 1117.1 676.8 1118.9 679.4 1120.6 682.1 1122.4 684.9 1124.1 687.9 1125.9 691.0 1127.6 694.3 1129.4 697.7 1131.2 701.3 1132.9 704.9 1134.7 708.7 1136.4 712.7 1138.2 716.7 1140.0 720.8 1141.7 725.0 1143.5 729.3 1145.2 733.6 1147.0 737.9 1148.7 742.3 1150.5 746.7 1152.3 751.1 1154.0 755.4 1155.8 759.7 1157.5 763.9 1159.3 768.1 1161.0 772.2 1162.8 776.2 1164.6 780.0 1166.3 783.8 1168.1 787.4 1169.8 790.9 1171.6 794.3 1173.3 797.5" stroke="#0000e6" stroke-width="1.4" fill="none" stroke-linejoin="round"/><path d="M1032.7 641.3 1034.5 641.4 1036.3 641.5 1038.0 641.6 1039.8 641.8 1041.5 641.9 1043.3 642.0 1045.0 642.2 1046.8 642.3 1048.6 642.5 1050.3 642.7 1052.1 642.9 1053.8 643.1 1055.6 643.4 1057.3 643.6 1059.1 643.9 1060.9 644.2 1062.6 644.6 1064.4 644.9 1066.1 645.3 1067.9 645.7 1069.6 646.2 1071.4 646.7 1073.2 647.2 1074.9 647.8 1076.7 648.4 1078.4 649.1 1080.2 649.8 1082.0 650.6 1083.7 651.4 1085.5 652.3 1087.2 653.3 1089.0 654.3 1090.7 655.4 1092.5 656.6 1094.3 657.9 1096.0 659.2 1097.8 660.7 1099.5 662.2 1101.3 663.9 1103.0 665.7 1104.8 667.5 1106.6 669.5 1108.3 671.6 1110.1 673.9 1111.8 676.2 1113.6 678.7 1115.3 681.3 1117.1 684.1 1118.9 687.0 1120.6 690.0 1122.4 693.1 1124.1 696.4 1125.9 699.8 1127.6 703.3 1129.4 706.9 1131.2 710.6 1132.9 714.4 1134.7 718.4 1136.4 722.3 1138.2 726.4 1140.0 730.5 1141.7 734.6 1143.5 738.8 1145.2 743.0 1147.0 747.1 1148.7 751.3 1150.5 755.4 1152.3 759.5 1154.0 763.6 1155.8 767.5 1157.5 771.4 1159.3 775.2 1161.0 778.9 1162.8 782.5 1164.6 786.0 1166.3 789.4 1168.1 792.6 1169.8 795.7 1171.6 798.7 1173.3 801.6" stroke="#0000e6" stroke-width="1.4" fill="none" stroke-linejoin="round"/><path d="M1032.7 647.9 1034.5 648.1 1036.3 648.3 1038.0 648.6 1039.8 648.9 1041.5 649.2 1043.3 649.5 1045.0 649.8 1046.8 650.2 1048.6 650.6 1050.3 651.0 1052.1 651.5 1053.8 651.9 1055.6 652.4 1057.3 653.0 1059.1 653.5 1060.9 654.1 1062.6 654.8 1064.4 655.4 1066.1 656.2 1067.9 656.9 1069.6 657.7 1071.4 658.6 1073.2 659.5 1074.9 660.5 1076.7 661.5 1078.4 662.6 1080.2 663.7 1082.0 664.9 1083.7 666.2 1085.5 667.5 1087.2 668.9 1089.0 670.4 1090.7 672.0 1092.5 673.6 1094.3 675.3 1096.0 677.1 1097.8 679.0 1099.5 681.0 1101.3 683.0 1103.0 685.2 1104.8 687.4 1106.6 689.7 1108.3 692.1 1110.1 694.6 1111.8 697.2 1113.6 699.8 1115.3 702.6 1117.1 705.4 1118.9 708.3 1120.6 711.2 1122.4 714.3 1124.1 717.4 1125.9 720.5 1127.6 723.7 1129.4 727.0 1131.2 730.2 1132.9 733.6 1134.7 736.9 1136.4 740.3 1138.2 743.6 1140.0 747.0 1141.7 750.4 1143.5 753.7 1145.2 757.1 1147.0 760.4 1148.7 763.6 1150.5 766.9 1152.3 770.0 1154.0 773.2 1155.8 776.2 1157.5 779.2 1159.3 782.2 1161.0 785.0 1162.8 787.8 1164.6 790.5 1166.3 793.2 1168.1 795.7 1169.8 798.2 1171.6 800.5 1173.3 802.8" stroke="#0000e6" stroke-width="1.4" fill="none" stroke-linejoin="round"/><path d="M1032.7 652.9 1034.5 653.3 1036.3 653.8 1038.0 654.4 1039.8 655.0 1041.5 655.6 1043.3 656.2 1045.0 656.9 1046.8 657.6 1048.6 658.3 1050.3 659.1 1052.1 659.9 1053.8 660.7 1055.6 661.6 1057.3 662.6 1059.1 663.6 1060.9 664.6 1062.6 665.7 1064.4 666.8 1066.1 668.0 1067.9 669.3 1069.6 670.6 1071.4 671.9 1073.2 673.4 1074.9 674.8 1076.7 676.4 1078.4 678.0 1080.2 679.7 1082.0 681.4 1083.7 683.2 1085.5 685.1 1087.2 687.0 1089.0 689.0 1090.7 691.1 1092.5 693.2 1094.3 695.4 1096.0 697.6 1097.8 700.0 1099.5 702.4 1101.3 704.8 1103.0 707.3 1104.8 709.9 1106.6 712.5 1108.3 715.1 1110.1 717.8 1111.8 720.6 1113.6 723.4 1115.3 726.2 1117.1 729.0 1118.9 731.9 1120.6 734.8 1122.4 737.7 1124.1 740.7 1125.9 743.6 1127.6 746.5 1129.4 749.5 1131.2 752.4 1132.9 755.3 1134.7 758.2 1136.4 761.1 1138.2 763.9 1140.0 766.7 1141.7 769.5 1143.5 772.3 1145.2 775.0 1147.0 777.6 1148.7 780.2 1150.5 782.7 1152.3 785.2 1154.0 787.7 1155.8 790.0 1157.5 792.3 1159.3 794.6 1161.0 796.7 1162.8 798.9 1164.6 800.9 1166.3 802.9 1168.1 804.8 1169.8 806.6 1171.6 808.4 1173.3 810.1" stroke="#0000e6" stroke-width="1.4" fill="none" stroke-linejoin="round"/><g fill="#0000ff" stroke="#0000a8" stroke-width="0.9"><circle cx="1032.74" cy="670.83" r="4.2"/><circle cx="1032.74" cy="676.31" r="4.2"/><circle cx="1032.74" cy="681.8" r="4.2"/><circle cx="1032.74" cy="688.97" r="4.2"/><circle cx="1032.74" cy="694.46" r="4.2"/><circle cx="1032.74" cy="699.1" r="4.2"/><circle cx="1032.74" cy="708.17" r="4.2"/><circle cx="1052.83" cy="655.21" r="4.2"/><circle cx="1052.83" cy="660.7" r="4.2"/><circle cx="1052.83" cy="666.18" r="4.2"/><circle cx="1052.83" cy="671.67" r="4.2"/><circle cx="1052.83" cy="677.15" r="4.2"/><circle cx="1052.83" cy="688.13" r="4.2"/><circle cx="1072.91" cy="647.83" r="4.2"/><circle cx="1072.91" cy="655.21" r="4.2"/><circle cx="1072.91" cy="662.6" r="4.2"/><circle cx="1072.91" cy="668.08" r="4.2"/><circle cx="1072.91" cy="673.57" r="4.2"/><circle cx="1072.91" cy="683.49" r="4.2"/><circle cx="1093" cy="649.73" r="4.2"/><circle cx="1093" cy="655.21" r="4.2"/><circle cx="1093" cy="660.7" r="4.2"/><circle cx="1093" cy="668.08" r="4.2"/><circle cx="1093" cy="673.57" r="4.2"/><circle cx="1093" cy="699.1" r="4.2"/><circle cx="1113.09" cy="668.08" r="4.2"/><circle cx="1113.09" cy="673.57" r="4.2"/><circle cx="1113.09" cy="679.05" r="4.2"/><circle cx="1113.09" cy="688.97" r="4.2"/><circle cx="1113.09" cy="702.69" r="4.2"/><circle cx="1133.17" cy="664.28" r="4.2"/><circle cx="1133.17" cy="688.13" r="4.2"/><circle cx="1133.17" cy="696.36" r="4.2"/><circle cx="1133.17" cy="708.17" r="4.2"/><circle cx="1133.17" cy="713.66" r="4.2"/><circle cx="1133.17" cy="721.04" r="4.2"/><circle cx="1133.17" cy="724.63" r="4.2"/><circle cx="1133.17" cy="758.6" r="4.2"/><circle cx="1153.26" cy="699.1" r="4.2"/><circle cx="1153.26" cy="721.04" r="4.2"/><circle cx="1153.26" cy="726.53" r="4.2"/><circle cx="1153.26" cy="746.57" r="4.2"/><circle cx="1153.26" cy="758.6" r="4.2"/><circle cx="1153.26" cy="775.9" r="4.2"/><circle cx="1153.26" cy="793.42" r="4.2"/><circle cx="1153.26" cy="817.05" r="4.2"/><circle cx="1173.35" cy="765.77" r="4.2"/><circle cx="1173.35" cy="770.42" r="4.2"/><circle cx="1173.35" cy="785.19" r="4.2"/><circle cx="1173.35" cy="798.9" r="4.2"/><circle cx="1173.35" cy="819.79" r="4.2"/><circle cx="1173.35" cy="825.28" r="4.2"/><circle cx="1173.35" cy="840.05" r="4.2"/><circle cx="1173.35" cy="843.63" r="4.2"/></g></g>
<g><path d="M1406.2 527.4V859.9M1404.6 846.6H1618.3M1392.9 846.6H1406.2M1392.9 740.73H1406.2M1392.9 634.87H1406.2M1392.9 529H1406.2M1448.3 846.6V859.9M1490.4 846.6V859.9M1532.5 846.6V859.9M1574.6 846.6V859.9M1616.7 846.6V859.9" stroke="#000" stroke-width="3.2" fill="none"/><text x="1387.7" y="855.5" font-size="25" text-anchor="end">0</text><text x="1387.7" y="749.63" font-size="25" text-anchor="end">50</text><text x="1387.7" y="643.77" font-size="25" text-anchor="end">100</text><text x="1387.7" y="537.9" font-size="25" text-anchor="end">150</text><text x="1406.2" y="887.2" font-size="25" text-anchor="middle">-6</text><text x="1448.3" y="887.2" font-size="25" text-anchor="middle">-5</text><text x="1490.4" y="887.2" font-size="25" text-anchor="middle">-4</text><text x="1532.5" y="887.2" font-size="25" text-anchor="middle">-3</text><text x="1574.6" y="887.2" font-size="25" text-anchor="middle">-2</text><text x="1616.7" y="887.2" font-size="25" text-anchor="middle">-1</text><text x="1511.45" y="924.8" font-size="25.5" text-anchor="middle">Log<tspan font-size="20" dy="8.8">10</tspan><tspan dy="-8.8"> (1/serum dilution)</tspan></text><text transform="translate(1332.5 687.8) rotate(-90)" font-size="30" text-anchor="middle">% Relative Infection</text><path d="M1443.3 638.4 1445.1 638.6 1446.9 638.8 1448.6 639.0 1450.4 639.2 1452.1 639.5 1453.9 639.7 1455.6 640.0 1457.4 640.3 1459.2 640.6 1460.9 640.9 1462.7 641.3 1464.4 641.6 1466.2 642.0 1467.9 642.4 1469.7 642.8 1471.5 643.2 1473.2 643.7 1475.0 644.2 1476.7 644.7 1478.5 645.2 1480.2 645.8 1482.0 646.4 1483.8 647.0 1485.5 647.6 1487.3 648.3 1489.0 649.0 1490.8 649.8 1492.6 650.6 1494.3 651.4 1496.1 652.3 1497.8 653.2 1499.6 654.2 1501.3 655.2 1503.1 656.2 1504.9 657.3 1506.6 658.5 1508.4 659.6 1510.1 660.9 1511.9 662.2 1513.6 663.5 1515.4 665.0 1517.2 666.4 1518.9 668.0 1520.7 669.5 1522.4 671.2 1524.2 672.9 1525.9 674.7 1527.7 676.5 1529.5 678.4 1531.2 680.4 1533.0 682.4 1534.7 684.5 1536.5 686.6 1538.2 688.8 1540.0 691.1 1541.8 693.4 1543.5 695.8 1545.3 698.3 1547.0 700.8 1548.8 703.3 1550.6 705.9 1552.3 708.6 1554.1 711.3 1555.8 714.0 1557.6 716.8 1559.3 719.6 1561.1 722.5 1562.9 725.4 1564.6 728.3 1566.4 731.2 1568.1 734.1 1569.9 737.1 1571.6 740.0 1573.4 743.0 1575.2 745.9 1576.9 748.8 1578.7 751.8 1580.4 754.7 1582.2 757.6 1583.9 760.4" stroke="#f07a00" stroke-width="1.4" fill="none" stroke-linejoin="round"/><path d="M1443.3 639.8 1445.1 639.9 1446.9 640.1 1448.6 640.3 1450.4 640.5 1452.1 640.7 1453.9 640.9 1455.6 641.2 1457.4 641.4 1459.2 641.7 1460.9 642.0 1462.7 642.3 1464.4 642.6 1466.2 642.9 1467.9 643.3 1469.7 643.7 1471.5 644.1 1473.2 644.5 1475.0 644.9 1476.7 645.4 1478.5 645.9 1480.2 646.4 1482.0 647.0 1483.8 647.5 1485.5 648.1 1487.3 648.8 1489.0 649.5 1490.8 650.2 1492.6 651.0 1494.3 651.8 1496.1 652.6 1497.8 653.5 1499.6 654.4 1501.3 655.4 1503.1 656.4 1504.9 657.5 1506.6 658.6 1508.4 659.8 1510.1 661.0 1511.9 662.3 1513.6 663.7 1515.4 665.1 1517.2 666.6 1518.9 668.1 1520.7 669.8 1522.4 671.4 1524.2 673.2 1525.9 675.0 1527.7 676.9 1529.5 678.9 1531.2 680.9 1533.0 683.0 1534.7 685.2 1536.5 687.4 1538.2 689.7 1540.0 692.1 1541.8 694.6 1543.5 697.1 1545.3 699.7 1547.0 702.3 1548.8 705.0 1550.6 707.8 1552.3 710.6 1554.1 713.5 1555.8 716.4 1557.6 719.4 1559.3 722.4 1561.1 725.4 1562.9 728.5 1564.6 731.6 1566.4 734.7 1568.1 737.8 1569.9 740.9 1571.6 744.0 1573.4 747.1 1575.2 750.2 1576.9 753.3 1578.7 756.4 1580.4 759.5 1582.2 762.5 1583.9 765.5" stroke="#f07a00" stroke-width="1.4" fill="none" stroke-linejoin="round"/><path d="M1443.3 641.5 1445.1 641.7 1446.9 641.8 1448.6 642.0 1450.4 642.2 1452.1 642.4 1453.9 642.6 1455.6 642.8 1457.4 643.1 1459.2 643.3 1460.9 643.6 1462.7 643.8 1464.4 644.1 1466.2 644.5 1467.9 644.8 1469.7 645.2 1471.5 645.5 1473.2 645.9 1475.0 646.4 1476.7 646.8 1478.5 647.3 1480.2 647.8 1482.0 648.3 1483.8 648.9 1485.5 649.5 1487.3 650.1 1489.0 650.8 1490.8 651.5 1492.6 652.3 1494.3 653.1 1496.1 653.9 1497.8 654.8 1499.6 655.7 1501.3 656.7 1503.1 657.7 1504.9 658.8 1506.6 659.9 1508.4 661.1 1510.1 662.4 1511.9 663.7 1513.6 665.1 1515.4 666.6 1517.2 668.1 1518.9 669.7 1520.7 671.4 1522.4 673.1 1524.2 674.9 1525.9 676.8 1527.7 678.8 1529.5 680.8 1531.2 682.9 1533.0 685.1 1534.7 687.4 1536.5 689.8 1538.2 692.2 1540.0 694.7 1541.8 697.3 1543.5 699.9 1545.3 702.6 1547.0 705.4 1548.8 708.3 1550.6 711.2 1552.3 714.2 1554.1 717.2 1555.8 720.2 1557.6 723.3 1559.3 726.5 1561.1 729.7 1562.9 732.9 1564.6 736.1 1566.4 739.3 1568.1 742.6 1569.9 745.8 1571.6 749.0 1573.4 752.3 1575.2 755.5 1576.9 758.6 1578.7 761.8 1580.4 764.9 1582.2 768.0 1583.9 771.0" stroke="#f07a00" stroke-width="1.4" fill="none" stroke-linejoin="round"/><path d="M1443.3 643.1 1445.1 643.2 1446.9 643.3 1448.6 643.5 1450.4 643.6 1452.1 643.8 1453.9 644.0 1455.6 644.2 1457.4 644.4 1459.2 644.6 1460.9 644.8 1462.7 645.1 1464.4 645.3 1466.2 645.6 1467.9 645.9 1469.7 646.2 1471.5 646.5 1473.2 646.9 1475.0 647.3 1476.7 647.7 1478.5 648.1 1480.2 648.6 1482.0 649.1 1483.8 649.6 1485.5 650.2 1487.3 650.8 1489.0 651.4 1490.8 652.1 1492.6 652.8 1494.3 653.5 1496.1 654.3 1497.8 655.2 1499.6 656.1 1501.3 657.1 1503.1 658.1 1504.9 659.1 1506.6 660.3 1508.4 661.5 1510.1 662.7 1511.9 664.1 1513.6 665.5 1515.4 666.9 1517.2 668.5 1518.9 670.1 1520.7 671.8 1522.4 673.6 1524.2 675.5 1525.9 677.5 1527.7 679.5 1529.5 681.7 1531.2 683.9 1533.0 686.2 1534.7 688.6 1536.5 691.1 1538.2 693.7 1540.0 696.4 1541.8 699.1 1543.5 702.0 1545.3 704.9 1547.0 707.9 1548.8 710.9 1550.6 714.1 1552.3 717.3 1554.1 720.5 1555.8 723.8 1557.6 727.2 1559.3 730.5 1561.1 733.9 1562.9 737.4 1564.6 740.8 1566.4 744.3 1568.1 747.7 1569.9 751.2 1571.6 754.6 1573.4 758.0 1575.2 761.4 1576.9 764.7 1578.7 768.0 1580.4 771.2 1582.2 774.4 1583.9 777.5" stroke="#f07a00" stroke-width="1.4" fill="none" stroke-linejoin="round"/><path d="M1443.3 644.9 1445.1 645.0 1446.9 645.1 1448.6 645.3 1450.4 645.4 1452.1 645.6 1453.9 645.7 1455.6 645.9 1457.4 646.1 1459.2 646.3 1460.9 646.5 1462.7 646.7 1464.4 647.0 1466.2 647.3 1467.9 647.5 1469.7 647.9 1471.5 648.2 1473.2 648.5 1475.0 648.9 1476.7 649.3 1478.5 649.7 1480.2 650.2 1482.0 650.7 1483.8 651.2 1485.5 651.8 1487.3 652.4 1489.0 653.1 1490.8 653.7 1492.6 654.5 1494.3 655.3 1496.1 656.1 1497.8 657.0 1499.6 657.9 1501.3 658.9 1503.1 660.0 1504.9 661.1 1506.6 662.4 1508.4 663.6 1510.1 665.0 1511.9 666.4 1513.6 667.9 1515.4 669.5 1517.2 671.2 1518.9 673.0 1520.7 674.9 1522.4 676.9 1524.2 678.9 1525.9 681.1 1527.7 683.4 1529.5 685.7 1531.2 688.2 1533.0 690.8 1534.7 693.4 1536.5 696.2 1538.2 699.1 1540.0 702.1 1541.8 705.1 1543.5 708.2 1545.3 711.5 1547.0 714.8 1548.8 718.2 1550.6 721.6 1552.3 725.1 1554.1 728.6 1555.8 732.2 1557.6 735.8 1559.3 739.5 1561.1 743.1 1562.9 746.8 1564.6 750.5 1566.4 754.1 1568.1 757.7 1569.9 761.3 1571.6 764.9 1573.4 768.4 1575.2 771.8 1576.9 775.2 1578.7 778.5 1580.4 781.7 1582.2 784.9 1583.9 787.9" stroke="#f07a00" stroke-width="1.4" fill="none" stroke-linejoin="round"/><path d="M1443.3 646.9 1445.1 647.0 1446.9 647.2 1448.6 647.3 1450.4 647.4 1452.1 647.6 1453.9 647.8 1455.6 648.0 1457.4 648.1 1459.2 648.4 1460.9 648.6 1462.7 648.8 1464.4 649.1 1466.2 649.4 1467.9 649.7 1469.7 650.0 1471.5 650.4 1473.2 650.8 1475.0 651.2 1476.7 651.6 1478.5 652.1 1480.2 652.6 1482.0 653.2 1483.8 653.8 1485.5 654.4 1487.3 655.1 1489.0 655.8 1490.8 656.6 1492.6 657.4 1494.3 658.3 1496.1 659.3 1497.8 660.3 1499.6 661.4 1501.3 662.5 1503.1 663.8 1504.9 665.1 1506.6 666.5 1508.4 668.0 1510.1 669.6 1511.9 671.3 1513.6 673.1 1515.4 674.9 1517.2 676.9 1518.9 679.0 1520.7 681.2 1522.4 683.6 1524.2 686.0 1525.9 688.5 1527.7 691.2 1529.5 694.0 1531.2 696.9 1533.0 699.9 1534.7 703.0 1536.5 706.2 1538.2 709.5 1540.0 712.9 1541.8 716.4 1543.5 719.9 1545.3 723.6 1547.0 727.3 1548.8 731.0 1550.6 734.8 1552.3 738.7 1554.1 742.5 1555.8 746.4 1557.6 750.3 1559.3 754.1 1561.1 757.9 1562.9 761.7 1564.6 765.5 1566.4 769.2 1568.1 772.8 1569.9 776.4 1571.6 779.8 1573.4 783.2 1575.2 786.5 1576.9 789.7 1578.7 792.8 1580.4 795.8 1582.2 798.6 1583.9 801.4" stroke="#f07a00" stroke-width="1.4" fill="none" stroke-linejoin="round"/><path d="M1443.3 650.1 1445.1 650.3 1446.9 650.5 1448.6 650.7 1450.4 650.9 1452.1 651.2 1453.9 651.5 1455.6 651.7 1457.4 652.0 1459.2 652.4 1460.9 652.7 1462.7 653.1 1464.4 653.5 1466.2 653.9 1467.9 654.4 1469.7 654.9 1471.5 655.4 1473.2 656.0 1475.0 656.6 1476.7 657.2 1478.5 657.9 1480.2 658.6 1482.0 659.4 1483.8 660.2 1485.5 661.1 1487.3 662.0 1489.0 663.0 1490.8 664.1 1492.6 665.2 1494.3 666.4 1496.1 667.7 1497.8 669.0 1499.6 670.5 1501.3 672.0 1503.1 673.5 1504.9 675.2 1506.6 677.0 1508.4 678.8 1510.1 680.8 1511.9 682.8 1513.6 685.0 1515.4 687.2 1517.2 689.5 1518.9 692.0 1520.7 694.5 1522.4 697.1 1524.2 699.9 1525.9 702.7 1527.7 705.6 1529.5 708.6 1531.2 711.7 1533.0 714.9 1534.7 718.1 1536.5 721.5 1538.2 724.8 1540.0 728.3 1541.8 731.7 1543.5 735.3 1545.3 738.8 1547.0 742.4 1548.8 746.0 1550.6 749.6 1552.3 753.1 1554.1 756.7 1555.8 760.2 1557.6 763.7 1559.3 767.2 1561.1 770.6 1562.9 774.0 1564.6 777.3 1566.4 780.5 1568.1 783.6 1569.9 786.7 1571.6 789.7 1573.4 792.6 1575.2 795.4 1576.9 798.0 1578.7 800.6 1580.4 803.1 1582.2 805.5 1583.9 807.8" stroke="#f07a00" stroke-width="1.4" fill="none" stroke-linejoin="round"/><path d="M1443.3 654.0 1445.1 654.3 1446.9 654.7 1448.6 655.0 1450.4 655.4 1452.1 655.8 1453.9 656.2 1455.6 656.6 1457.4 657.1 1459.2 657.6 1460.9 658.2 1462.7 658.7 1464.4 659.4 1466.2 660.0 1467.9 660.7 1469.7 661.5 1471.5 662.3 1473.2 663.1 1475.0 664.0 1476.7 664.9 1478.5 665.9 1480.2 667.0 1482.0 668.1 1483.8 669.3 1485.5 670.6 1487.3 671.9 1489.0 673.3 1490.8 674.8 1492.6 676.3 1494.3 678.0 1496.1 679.7 1497.8 681.5 1499.6 683.4 1501.3 685.3 1503.1 687.4 1504.9 689.6 1506.6 691.8 1508.4 694.2 1510.1 696.6 1511.9 699.1 1513.6 701.7 1515.4 704.4 1517.2 707.2 1518.9 710.0 1520.7 713.0 1522.4 716.0 1524.2 719.1 1525.9 722.2 1527.7 725.4 1529.5 728.6 1531.2 731.9 1533.0 735.3 1534.7 738.6 1536.5 742.0 1538.2 745.4 1540.0 748.8 1541.8 752.2 1543.5 755.6 1545.3 759.0 1547.0 762.4 1548.8 765.7 1550.6 768.9 1552.3 772.2 1554.1 775.4 1555.8 778.5 1557.6 781.5 1559.3 784.5 1561.1 787.4 1562.9 790.2 1564.6 793.0 1566.4 795.6 1568.1 798.2 1569.9 800.7 1571.6 803.1 1573.4 805.4 1575.2 807.6 1576.9 809.7 1578.7 811.7 1580.4 813.7 1582.2 815.5 1583.9 817.3" stroke="#f07a00" stroke-width="1.4" fill="none" stroke-linejoin="round"/><path d="M1443.3 664.9 1445.1 665.3 1446.9 665.6 1448.6 666.0 1450.4 666.5 1452.1 666.9 1453.9 667.3 1455.6 667.8 1457.4 668.3 1459.2 668.8 1460.9 669.3 1462.7 669.9 1464.4 670.4 1466.2 671.0 1467.9 671.6 1469.7 672.3 1471.5 672.9 1473.2 673.6 1475.0 674.3 1476.7 675.0 1478.5 675.8 1480.2 676.6 1482.0 677.4 1483.8 678.2 1485.5 679.1 1487.3 679.9 1489.0 680.9 1490.8 681.8 1492.6 682.8 1494.3 683.8 1496.1 684.8 1497.8 685.9 1499.6 687.0 1501.3 688.2 1503.1 689.3 1504.9 690.5 1506.6 691.8 1508.4 693.1 1510.1 694.4 1511.9 695.7 1513.6 697.1 1515.4 698.5 1517.2 699.9 1518.9 701.4 1520.7 702.9 1522.4 704.5 1524.2 706.0 1525.9 707.7 1527.7 709.3 1529.5 711.0 1531.2 712.7 1533.0 714.4 1534.7 716.2 1536.5 718.0 1538.2 719.8 1540.0 721.7 1541.8 723.5 1543.5 725.4 1545.3 727.3 1547.0 729.3 1548.8 731.2 1550.6 733.2 1552.3 735.2 1554.1 737.2 1555.8 739.2 1557.6 741.3 1559.3 743.3 1561.1 745.4 1562.9 747.4 1564.6 749.5 1566.4 751.5 1568.1 753.6 1569.9 755.7 1571.6 757.7 1573.4 759.8 1575.2 761.8 1576.9 763.8 1578.7 765.9 1580.4 767.9 1582.2 769.9 1583.9 771.8" stroke="#f07a00" stroke-width="1.4" fill="none" stroke-linejoin="round"/><g fill="#ff8000" stroke="#c86a08" stroke-width="0.9"><circle cx="1443.34" cy="664.51" r="4.2"/><circle cx="1443.34" cy="678.27" r="4.2"/><circle cx="1443.34" cy="683.78" r="4.2"/><circle cx="1443.34" cy="689.28" r="4.2"/><circle cx="1443.34" cy="694.79" r="4.2"/><circle cx="1443.34" cy="700.29" r="4.2"/><circle cx="1443.34" cy="705.59" r="4.2"/><circle cx="1443.34" cy="711.09" r="4.2"/><circle cx="1463.43" cy="659.85" r="4.2"/><circle cx="1463.43" cy="665.36" r="4.2"/><circle cx="1463.43" cy="670.86" r="4.2"/><circle cx="1463.43" cy="676.37" r="4.2"/><circle cx="1463.43" cy="681.87" r="4.2"/><circle cx="1463.43" cy="692.88" r="4.2"/><circle cx="1483.51" cy="654.35" r="4.2"/><circle cx="1483.51" cy="659.85" r="4.2"/><circle cx="1483.51" cy="665.36" r="4.2"/><circle cx="1483.51" cy="670.86" r="4.2"/><circle cx="1483.51" cy="676.37" r="4.2"/><circle cx="1483.51" cy="683.78" r="4.2"/><circle cx="1503.6" cy="650.75" r="4.2"/><circle cx="1503.6" cy="658.16" r="4.2"/><circle cx="1503.6" cy="663.66" r="4.2"/><circle cx="1503.6" cy="669.17" r="4.2"/><circle cx="1503.6" cy="674.67" r="4.2"/><circle cx="1503.6" cy="681.87" r="4.2"/><circle cx="1503.6" cy="689.28" r="4.2"/><circle cx="1523.69" cy="665.36" r="4.2"/><circle cx="1523.69" cy="676.37" r="4.2"/><circle cx="1523.69" cy="680.18" r="4.2"/><circle cx="1523.69" cy="692.88" r="4.2"/><circle cx="1523.69" cy="698.39" r="4.2"/><circle cx="1523.69" cy="713.84" r="4.2"/><circle cx="1543.77" cy="692.03" r="4.2"/><circle cx="1543.77" cy="698.39" r="4.2"/><circle cx="1543.77" cy="703.89" r="4.2"/><circle cx="1543.77" cy="709.4" r="4.2"/><circle cx="1543.77" cy="714.9" r="4.2"/><circle cx="1543.77" cy="719.35" r="4.2"/><circle cx="1543.77" cy="753.23" r="4.2"/><circle cx="1563.86" cy="712.15" r="4.2"/><circle cx="1563.86" cy="720.41" r="4.2"/><circle cx="1563.86" cy="725.91" r="4.2"/><circle cx="1563.86" cy="740.52" r="4.2"/><circle cx="1563.86" cy="753.23" r="4.2"/><circle cx="1563.86" cy="756.83" r="4.2"/><circle cx="1563.86" cy="781.6" r="4.2"/><circle cx="1563.86" cy="816.32" r="4.2"/><circle cx="1583.95" cy="780.75" r="4.2"/><circle cx="1583.95" cy="786.26" r="4.2"/><circle cx="1583.95" cy="795.36" r="4.2"/><circle cx="1583.95" cy="800.87" r="4.2"/><circle cx="1583.95" cy="806.37" r="4.2"/><circle cx="1583.95" cy="817.38" r="4.2"/><circle cx="1583.95" cy="841.09" r="4.2"/><circle cx="1583.95" cy="844.69" r="4.2"/></g></g>
<g><path d="M1817.7 527.4V859.3M1816.1 846H2029.8M1804.4 846H1817.7M1804.4 740.33H1817.7M1804.4 634.67H1817.7M1804.4 529H1817.7M1859.8 846V859.3M1901.9 846V859.3M1944 846V859.3M1986.1 846V859.3M2028.2 846V859.3" stroke="#000" stroke-width="3.2" fill="none"/><text x="1799.2" y="854.9" font-size="25" text-anchor="end">0</text><text x="1799.2" y="749.23" font-size="25" text-anchor="end">50</text><text x="1799.2" y="643.57" font-size="25" text-anchor="end">100</text><text x="1799.2" y="537.9" font-size="25" text-anchor="end">150</text><text x="1817.7" y="886.6" font-size="25" text-anchor="middle">-6</text><text x="1859.8" y="886.6" font-size="25" text-anchor="middle">-5</text><text x="1901.9" y="886.6" font-size="25" text-anchor="middle">-4</text><text x="1944" y="886.6" font-size="25" text-anchor="middle">-3</text><text x="1986.1" y="886.6" font-size="25" text-anchor="middle">-2</text><text x="2028.2" y="886.6" font-size="25" text-anchor="middle">-1</text><text x="1922.95" y="924.2" font-size="25.5" text-anchor="middle">Log<tspan font-size="20" dy="8.8">10</tspan><tspan dy="-8.8"> (1/serum dilution)</tspan></text><text transform="translate(1744 687.5) rotate(-90)" font-size="30" text-anchor="middle">% Relative Infection</text><path d="M1854.8 635.0 1856.6 635.0 1858.4 635.1 1860.1 635.1 1861.9 635.1 1863.6 635.2 1865.4 635.2 1867.1 635.3 1868.9 635.3 1870.7 635.4 1872.4 635.4 1874.2 635.5 1875.9 635.6 1877.7 635.7 1879.4 635.8 1881.2 635.9 1883.0 636.0 1884.7 636.1 1886.5 636.2 1888.2 636.4 1890.0 636.5 1891.7 636.7 1893.5 636.9 1895.3 637.1 1897.0 637.3 1898.8 637.5 1900.5 637.8 1902.3 638.0 1904.1 638.3 1905.8 638.7 1907.6 639.0 1909.3 639.4 1911.1 639.8 1912.8 640.3 1914.6 640.7 1916.4 641.3 1918.1 641.9 1919.9 642.5 1921.6 643.2 1923.4 643.9 1925.1 644.7 1926.9 645.5 1928.7 646.5 1930.4 647.5 1932.2 648.6 1933.9 649.7 1935.7 651.0 1937.4 652.3 1939.2 653.8 1941.0 655.3 1942.7 657.0 1944.5 658.8 1946.2 660.7 1948.0 662.7 1949.7 664.9 1951.5 667.2 1953.3 669.7 1955.0 672.3 1956.8 675.0 1958.5 677.9 1960.3 681.0 1962.1 684.2 1963.8 687.6 1965.6 691.1 1967.3 694.7 1969.1 698.5 1970.8 702.4 1972.6 706.5 1974.4 710.6 1976.1 714.9 1977.9 719.2 1979.6 723.6 1981.4 728.1 1983.1 732.7 1984.9 737.2 1986.7 741.8 1988.4 746.3 1990.2 750.9 1991.9 755.4 1993.7 759.8 1995.4 764.2" stroke="#7800f0" stroke-width="1.4" fill="none" stroke-linejoin="round"/><path d="M1854.8 635.1 1856.6 635.1 1858.4 635.1 1860.1 635.2 1861.9 635.2 1863.6 635.3 1865.4 635.3 1867.1 635.4 1868.9 635.5 1870.7 635.5 1872.4 635.6 1874.2 635.7 1875.9 635.8 1877.7 635.9 1879.4 636.0 1881.2 636.1 1883.0 636.3 1884.7 636.4 1886.5 636.6 1888.2 636.7 1890.0 636.9 1891.7 637.1 1893.5 637.4 1895.3 637.6 1897.0 637.9 1898.8 638.1 1900.5 638.5 1902.3 638.8 1904.1 639.2 1905.8 639.5 1907.6 640.0 1909.3 640.4 1911.1 640.9 1912.8 641.5 1914.6 642.1 1916.4 642.7 1918.1 643.4 1919.9 644.2 1921.6 645.0 1923.4 645.9 1925.1 646.9 1926.9 647.9 1928.7 649.0 1930.4 650.2 1932.2 651.5 1933.9 652.9 1935.7 654.4 1937.4 656.0 1939.2 657.7 1941.0 659.5 1942.7 661.5 1944.5 663.6 1946.2 665.8 1948.0 668.2 1949.7 670.7 1951.5 673.4 1953.3 676.2 1955.0 679.1 1956.8 682.2 1958.5 685.5 1960.3 688.9 1962.1 692.5 1963.8 696.2 1965.6 700.0 1967.3 704.0 1969.1 708.1 1970.8 712.3 1972.6 716.6 1974.4 721.0 1976.1 725.4 1977.9 729.9 1979.6 734.5 1981.4 739.0 1983.1 743.6 1984.9 748.1 1986.7 752.7 1988.4 757.2 1990.2 761.6 1991.9 765.9 1993.7 770.2 1995.4 774.3" stroke="#7800f0" stroke-width="1.4" fill="none" stroke-linejoin="round"/><path d="M1854.8 636.9 1856.6 636.9 1858.4 636.9 1860.1 637.0 1861.9 637.0 1863.6 637.0 1865.4 637.0 1867.1 637.1 1868.9 637.1 1870.7 637.1 1872.4 637.2 1874.2 637.2 1875.9 637.2 1877.7 637.3 1879.4 637.3 1881.2 637.4 1883.0 637.5 1884.7 637.6 1886.5 637.6 1888.2 637.7 1890.0 637.8 1891.7 638.0 1893.5 638.1 1895.3 638.2 1897.0 638.4 1898.8 638.6 1900.5 638.8 1902.3 639.0 1904.1 639.2 1905.8 639.5 1907.6 639.8 1909.3 640.1 1911.1 640.5 1912.8 640.9 1914.6 641.4 1916.4 641.9 1918.1 642.4 1919.9 643.0 1921.6 643.7 1923.4 644.5 1925.1 645.3 1926.9 646.2 1928.7 647.2 1930.4 648.3 1932.2 649.5 1933.9 650.8 1935.7 652.3 1937.4 653.9 1939.2 655.6 1941.0 657.5 1942.7 659.5 1944.5 661.8 1946.2 664.2 1948.0 666.8 1949.7 669.6 1951.5 672.7 1953.3 675.9 1955.0 679.4 1956.8 683.1 1958.5 687.0 1960.3 691.2 1962.1 695.5 1963.8 700.1 1965.6 704.9 1967.3 709.8 1969.1 714.9 1970.8 720.2 1972.6 725.5 1974.4 731.0 1976.1 736.5 1977.9 742.0 1979.6 747.5 1981.4 753.0 1983.1 758.4 1984.9 763.8 1986.7 769.0 1988.4 774.0 1990.2 779.0 1991.9 783.7 1993.7 788.2 1995.4 792.5" stroke="#7800f0" stroke-width="1.4" fill="none" stroke-linejoin="round"/><path d="M1854.8 634.7 1856.6 634.7 1858.4 634.7 1860.1 634.7 1861.9 634.7 1863.6 634.7 1865.4 634.7 1867.1 634.7 1868.9 634.7 1870.7 634.7 1872.4 634.7 1874.2 634.7 1875.9 634.8 1877.7 634.8 1879.4 634.8 1881.2 634.8 1883.0 634.8 1884.7 634.8 1886.5 634.9 1888.2 634.9 1890.0 634.9 1891.7 635.0 1893.5 635.0 1895.3 635.1 1897.0 635.1 1898.8 635.2 1900.5 635.3 1902.3 635.4 1904.1 635.5 1905.8 635.6 1907.6 635.8 1909.3 636.0 1911.1 636.2 1912.8 636.4 1914.6 636.7 1916.4 637.0 1918.1 637.3 1919.9 637.7 1921.6 638.2 1923.4 638.7 1925.1 639.3 1926.9 640.0 1928.7 640.8 1930.4 641.8 1932.2 642.8 1933.9 644.0 1935.7 645.4 1937.4 647.0 1939.2 648.8 1941.0 650.8 1942.7 653.1 1944.5 655.6 1946.2 658.5 1948.0 661.7 1949.7 665.3 1951.5 669.3 1953.3 673.7 1955.0 678.5 1956.8 683.7 1958.5 689.4 1960.3 695.4 1962.1 701.8 1963.8 708.6 1965.6 715.7 1967.3 723.0 1969.1 730.5 1970.8 738.1 1972.6 745.7 1974.4 753.2 1976.1 760.7 1977.9 767.9 1979.6 774.8 1981.4 781.5 1983.1 787.8 1984.9 793.6 1986.7 799.1 1988.4 804.2 1990.2 808.8 1991.9 813.0 1993.7 816.8 1995.4 820.3" stroke="#7800f0" stroke-width="1.4" fill="none" stroke-linejoin="round"/><path d="M1854.8 634.7 1856.6 634.7 1858.4 634.7 1860.1 634.7 1861.9 634.7 1863.6 634.7 1865.4 634.7 1867.1 634.7 1868.9 634.7 1870.7 634.7 1872.4 634.7 1874.2 634.7 1875.9 634.7 1877.7 634.8 1879.4 634.8 1881.2 634.8 1883.0 634.8 1884.7 634.8 1886.5 634.8 1888.2 634.9 1890.0 634.9 1891.7 635.0 1893.5 635.0 1895.3 635.1 1897.0 635.1 1898.8 635.2 1900.5 635.3 1902.3 635.4 1904.1 635.5 1905.8 635.6 1907.6 635.8 1909.3 636.0 1911.1 636.2 1912.8 636.5 1914.6 636.8 1916.4 637.1 1918.1 637.5 1919.9 638.0 1921.6 638.5 1923.4 639.2 1925.1 639.9 1926.9 640.7 1928.7 641.7 1930.4 642.8 1932.2 644.1 1933.9 645.6 1935.7 647.3 1937.4 649.3 1939.2 651.5 1941.0 654.1 1942.7 656.9 1944.5 660.2 1946.2 663.9 1948.0 668.0 1949.7 672.5 1951.5 677.5 1953.3 683.0 1955.0 689.0 1956.8 695.4 1958.5 702.3 1960.3 709.5 1962.1 717.1 1963.8 725.0 1965.6 733.0 1967.3 741.1 1969.1 749.2 1970.8 757.2 1972.6 765.0 1974.4 772.6 1976.1 779.8 1977.9 786.5 1979.6 792.9 1981.4 798.8 1983.1 804.2 1984.9 809.1 1986.7 813.5 1988.4 817.5 1990.2 821.1 1991.9 824.3 1993.7 827.1 1995.4 829.6" stroke="#7800f0" stroke-width="1.4" fill="none" stroke-linejoin="round"/><path d="M1854.8 639.0 1856.6 639.0 1858.4 639.0 1860.1 639.0 1861.9 639.0 1863.6 639.0 1865.4 639.1 1867.1 639.1 1868.9 639.1 1870.7 639.1 1872.4 639.2 1874.2 639.2 1875.9 639.3 1877.7 639.3 1879.4 639.4 1881.2 639.4 1883.0 639.5 1884.7 639.6 1886.5 639.7 1888.2 639.8 1890.0 639.9 1891.7 640.0 1893.5 640.2 1895.3 640.3 1897.0 640.5 1898.8 640.7 1900.5 641.0 1902.3 641.3 1904.1 641.6 1905.8 641.9 1907.6 642.3 1909.3 642.8 1911.1 643.3 1912.8 643.8 1914.6 644.5 1916.4 645.2 1918.1 646.0 1919.9 646.9 1921.6 647.9 1923.4 649.1 1925.1 650.4 1926.9 651.8 1928.7 653.4 1930.4 655.2 1932.2 657.1 1933.9 659.3 1935.7 661.7 1937.4 664.4 1939.2 667.3 1941.0 670.5 1942.7 674.0 1944.5 677.8 1946.2 681.9 1948.0 686.4 1949.7 691.1 1951.5 696.1 1953.3 701.4 1955.0 707.0 1956.8 712.8 1958.5 718.9 1960.3 725.1 1962.1 731.5 1963.8 737.9 1965.6 744.4 1967.3 750.8 1969.1 757.2 1970.8 763.5 1972.6 769.6 1974.4 775.5 1976.1 781.2 1977.9 786.6 1979.6 791.8 1981.4 796.6 1983.1 801.2 1984.9 805.4 1986.7 809.3 1988.4 812.9 1990.2 816.3 1991.9 819.3 1993.7 822.1 1995.4 824.6" stroke="#7800f0" stroke-width="1.4" fill="none" stroke-linejoin="round"/><path d="M1854.8 641.2 1856.6 641.2 1858.4 641.2 1860.1 641.2 1861.9 641.3 1863.6 641.3 1865.4 641.3 1867.1 641.4 1868.9 641.4 1870.7 641.5 1872.4 641.5 1874.2 641.6 1875.9 641.7 1877.7 641.8 1879.4 641.9 1881.2 642.0 1883.0 642.1 1884.7 642.2 1886.5 642.4 1888.2 642.5 1890.0 642.7 1891.7 642.9 1893.5 643.1 1895.3 643.4 1897.0 643.7 1898.8 644.0 1900.5 644.4 1902.3 644.8 1904.1 645.2 1905.8 645.7 1907.6 646.3 1909.3 646.9 1911.1 647.6 1912.8 648.4 1914.6 649.2 1916.4 650.2 1918.1 651.3 1919.9 652.5 1921.6 653.8 1923.4 655.2 1925.1 656.8 1926.9 658.6 1928.7 660.5 1930.4 662.7 1932.2 665.0 1933.9 667.6 1935.7 670.4 1937.4 673.4 1939.2 676.7 1941.0 680.2 1942.7 684.0 1944.5 688.0 1946.2 692.3 1948.0 696.9 1949.7 701.7 1951.5 706.7 1953.3 712.0 1955.0 717.4 1956.8 723.0 1958.5 728.8 1960.3 734.6 1962.1 740.5 1963.8 746.4 1965.6 752.3 1967.3 758.1 1969.1 763.9 1970.8 769.5 1972.6 774.9 1974.4 780.2 1976.1 785.2 1977.9 790.0 1979.6 794.6 1981.4 798.9 1983.1 803.0 1984.9 806.8 1986.7 810.3 1988.4 813.6 1990.2 816.6 1991.9 819.4 1993.7 821.9 1995.4 824.3" stroke="#7800f0" stroke-width="1.4" fill="none" stroke-linejoin="round"/><path d="M1854.8 646.0 1856.6 646.1 1858.4 646.2 1860.1 646.3 1861.9 646.4 1863.6 646.5 1865.4 646.6 1867.1 646.7 1868.9 646.9 1870.7 647.0 1872.4 647.2 1874.2 647.4 1875.9 647.6 1877.7 647.9 1879.4 648.1 1881.2 648.4 1883.0 648.7 1884.7 649.1 1886.5 649.5 1888.2 649.9 1890.0 650.3 1891.7 650.8 1893.5 651.4 1895.3 652.0 1897.0 652.7 1898.8 653.4 1900.5 654.2 1902.3 655.0 1904.1 655.9 1905.8 657.0 1907.6 658.1 1909.3 659.3 1911.1 660.6 1912.8 662.0 1914.6 663.5 1916.4 665.2 1918.1 667.0 1919.9 668.9 1921.6 671.0 1923.4 673.3 1925.1 675.7 1926.9 678.2 1928.7 681.0 1930.4 683.9 1932.2 687.0 1933.9 690.2 1935.7 693.7 1937.4 697.3 1939.2 701.1 1941.0 705.1 1942.7 709.2 1944.5 713.4 1946.2 717.8 1948.0 722.3 1949.7 726.9 1951.5 731.6 1953.3 736.4 1955.0 741.2 1956.8 746.0 1958.5 750.8 1960.3 755.6 1962.1 760.4 1963.8 765.1 1965.6 769.7 1967.3 774.2 1969.1 778.5 1970.8 782.8 1972.6 786.9 1974.4 790.8 1976.1 794.6 1977.9 798.1 1979.6 801.6 1981.4 804.8 1983.1 807.9 1984.9 810.7 1986.7 813.4 1988.4 816.0 1990.2 818.4 1991.9 820.6 1993.7 822.6 1995.4 824.5" stroke="#7800f0" stroke-width="1.4" fill="none" stroke-linejoin="round"/><path d="M1854.8 652.2 1856.6 652.4 1858.4 652.6 1860.1 652.9 1861.9 653.1 1863.6 653.4 1865.4 653.7 1867.1 654.1 1868.9 654.4 1870.7 654.8 1872.4 655.2 1874.2 655.7 1875.9 656.1 1877.7 656.7 1879.4 657.2 1881.2 657.8 1883.0 658.4 1884.7 659.1 1886.5 659.9 1888.2 660.6 1890.0 661.5 1891.7 662.4 1893.5 663.3 1895.3 664.4 1897.0 665.5 1898.8 666.6 1900.5 667.9 1902.3 669.2 1904.1 670.6 1905.8 672.1 1907.6 673.7 1909.3 675.4 1911.1 677.1 1912.8 679.0 1914.6 681.0 1916.4 683.1 1918.1 685.3 1919.9 687.6 1921.6 690.0 1923.4 692.5 1925.1 695.2 1926.9 697.9 1928.7 700.8 1930.4 703.8 1932.2 706.8 1933.9 710.0 1935.7 713.3 1937.4 716.6 1939.2 720.1 1941.0 723.6 1942.7 727.2 1944.5 730.8 1946.2 734.5 1948.0 738.2 1949.7 742.0 1951.5 745.8 1953.3 749.5 1955.0 753.3 1956.8 757.1 1958.5 760.8 1960.3 764.5 1962.1 768.1 1963.8 771.7 1965.6 775.2 1967.3 778.7 1969.1 782.0 1970.8 785.3 1972.6 788.5 1974.4 791.6 1976.1 794.5 1977.9 797.4 1979.6 800.2 1981.4 802.8 1983.1 805.4 1984.9 807.8 1986.7 810.1 1988.4 812.3 1990.2 814.4 1991.9 816.4 1993.7 818.3 1995.4 820.0" stroke="#7800f0" stroke-width="1.4" fill="none" stroke-linejoin="round"/><g fill="#8000ff" stroke="#5a00b8" stroke-width="0.9"><circle cx="1854.84" cy="638.26" r="4.2"/><circle cx="1854.84" cy="673.97" r="4.2"/><circle cx="1854.84" cy="681.37" r="4.2"/><circle cx="1854.84" cy="686.87" r="4.2"/><circle cx="1854.84" cy="690.46" r="4.2"/><circle cx="1854.84" cy="694.05" r="4.2"/><circle cx="1854.84" cy="697.86" r="4.2"/><circle cx="1874.93" cy="644.81" r="4.2"/><circle cx="1874.93" cy="650.31" r="4.2"/><circle cx="1874.93" cy="662.99" r="4.2"/><circle cx="1874.93" cy="668.48" r="4.2"/><circle cx="1874.93" cy="672.07" r="4.2"/><circle cx="1895.01" cy="633.82" r="4.2"/><circle cx="1895.01" cy="639.32" r="4.2"/><circle cx="1895.01" cy="644.81" r="4.2"/><circle cx="1895.01" cy="650.31" r="4.2"/><circle cx="1895.01" cy="664.89" r="4.2"/><circle cx="1895.01" cy="668.48" r="4.2"/><circle cx="1915.1" cy="617.34" r="4.2"/><circle cx="1915.1" cy="635.51" r="4.2"/><circle cx="1915.1" cy="641.01" r="4.2"/><circle cx="1915.1" cy="646.5" r="4.2"/><circle cx="1915.1" cy="652" r="4.2"/><circle cx="1915.1" cy="672.07" r="4.2"/><circle cx="1915.1" cy="677.57" r="4.2"/><circle cx="1915.1" cy="684.12" r="4.2"/><circle cx="1935.19" cy="661.29" r="4.2"/><circle cx="1935.19" cy="668.48" r="4.2"/><circle cx="1935.19" cy="673.97" r="4.2"/><circle cx="1935.19" cy="679.47" r="4.2"/><circle cx="1935.19" cy="684.96" r="4.2"/><circle cx="1935.19" cy="690.46" r="4.2"/><circle cx="1955.27" cy="673.13" r="4.2"/><circle cx="1955.27" cy="680.31" r="4.2"/><circle cx="1955.27" cy="692.36" r="4.2"/><circle cx="1955.27" cy="697.86" r="4.2"/><circle cx="1955.27" cy="703.35" r="4.2"/><circle cx="1955.27" cy="708.84" r="4.2"/><circle cx="1955.27" cy="714.34" r="4.2"/><circle cx="1955.27" cy="751.75" r="4.2"/><circle cx="1975.36" cy="714.34" r="4.2"/><circle cx="1975.36" cy="727.02" r="4.2"/><circle cx="1975.36" cy="734.42" r="4.2"/><circle cx="1975.36" cy="741.6" r="4.2"/><circle cx="1975.36" cy="747.1" r="4.2"/><circle cx="1975.36" cy="791.05" r="4.2"/><circle cx="1975.36" cy="800.35" r="4.2"/><circle cx="1995.45" cy="770.98" r="4.2"/><circle cx="1995.45" cy="787.46" r="4.2"/><circle cx="1995.45" cy="791.05" r="4.2"/><circle cx="1995.45" cy="818.53" r="4.2"/><circle cx="1995.45" cy="824.02" r="4.2"/><circle cx="1995.45" cy="829.52" r="4.2"/><circle cx="1995.45" cy="835.01" r="4.2"/><circle cx="1995.45" cy="840.51" r="4.2"/><circle cx="1995.45" cy="844.1" r="4.2"/></g></g>
<g><path d="M172.9 1033.8V1365.1M171.3 1351.8H385.5M159.6 1351.8H172.9M159.6 1246.33H172.9M159.6 1140.87H172.9M159.6 1035.4H172.9M225.65 1351.8V1365.1M278.4 1351.8V1365.1M331.15 1351.8V1365.1M383.9 1351.8V1365.1" stroke="#000" stroke-width="3.2" fill="none"/><text x="154.4" y="1360.7" font-size="25" text-anchor="end">0</text><text x="154.4" y="1255.23" font-size="25" text-anchor="end">50</text><text x="154.4" y="1149.77" font-size="25" text-anchor="end">100</text><text x="154.4" y="1044.3" font-size="25" text-anchor="end">150</text><text x="172.9" y="1392.4" font-size="25" text-anchor="middle">-5</text><text x="225.65" y="1392.4" font-size="25" text-anchor="middle">-4</text><text x="278.4" y="1392.4" font-size="25" text-anchor="middle">-3</text><text x="331.15" y="1392.4" font-size="25" text-anchor="middle">-2</text><text x="383.9" y="1392.4" font-size="25" text-anchor="middle">-1</text><text x="278.4" y="1430" font-size="25.5" text-anchor="middle">Log<tspan font-size="20" dy="8.8">10</tspan><tspan dy="-8.8"> (1/serum dilution)</tspan></text><text transform="translate(99.2 1193.6) rotate(-90)" font-size="30" text-anchor="middle">% Relative Infection</text><path d="M188.9 1141.9 191.0 1142.0 193.1 1142.1 195.3 1142.2 197.4 1142.3 199.5 1142.4 201.6 1142.4 203.8 1142.5 205.9 1142.6 208.0 1142.7 210.1 1142.7 212.2 1142.8 214.4 1142.9 216.5 1143.0 218.6 1143.0 220.7 1143.1 222.9 1143.2 225.0 1143.3 227.1 1143.4 229.2 1143.5 231.4 1143.5 233.5 1143.6 235.6 1143.7 237.7 1143.8 239.9 1143.9 242.0 1144.1 244.1 1144.2 246.2 1144.3 248.4 1144.4 250.5 1144.6 252.6 1144.7 254.7 1144.9 256.8 1145.0 259.0 1145.2 261.1 1145.4 263.2 1145.7 265.3 1146.0 267.5 1146.3 269.6 1146.7 271.7 1147.1 273.8 1147.6 276.0 1148.0 278.1 1148.5 280.2 1149.0 282.3 1149.6 284.5 1150.1 286.6 1150.7 288.7 1151.3 290.8 1151.9 293.0 1152.5 295.1 1153.2 297.2 1153.8 299.3 1154.4 301.4 1155.1 303.6 1155.7 305.7 1156.4 307.8 1157.0 309.9 1157.7 312.1 1158.3 314.2 1159.0 316.3 1159.8 318.4 1160.6 320.6 1161.4 322.7 1162.2 324.8 1163.0 326.9 1163.8 329.1 1164.6 331.2 1165.4 333.3 1166.2 335.4 1166.9 337.6 1167.6 339.7 1168.4 341.8 1169.1 343.9 1169.8 346.0 1170.5 348.2 1171.2 350.3 1171.8 352.4 1172.5 354.5 1173.2 356.7 1173.9 358.8 1174.6" stroke="#000000" stroke-width="2.1" fill="none" stroke-linejoin="round"/><path d="M188.9 1141.9 191.0 1142.0 193.1 1142.2 195.3 1142.3 197.4 1142.4 199.5 1142.5 201.6 1142.6 203.8 1142.7 205.9 1142.8 208.0 1142.9 210.1 1143.0 212.2 1143.1 214.4 1143.2 216.5 1143.3 218.6 1143.5 220.7 1143.6 222.9 1143.7 225.0 1143.8 227.1 1143.9 229.2 1144.0 231.4 1144.1 233.5 1144.2 235.6 1144.4 237.7 1144.5 239.9 1144.7 242.0 1144.8 244.1 1145.0 246.2 1145.1 248.4 1145.3 250.5 1145.5 252.6 1145.7 254.7 1145.9 256.8 1146.1 259.0 1146.3 261.1 1146.6 263.2 1146.9 265.3 1147.2 267.5 1147.6 269.6 1148.0 271.7 1148.5 273.8 1149.0 276.0 1149.5 278.1 1150.0 280.2 1150.6 282.3 1151.2 284.5 1151.8 286.6 1152.4 288.7 1153.1 290.8 1153.7 293.0 1154.4 295.1 1155.0 297.2 1155.7 299.3 1156.4 301.4 1157.1 303.6 1157.8 305.7 1158.4 307.8 1159.1 309.9 1159.8 312.1 1160.4 314.2 1161.1 316.3 1161.9 318.4 1162.6 320.6 1163.4 322.7 1164.2 324.8 1165.0 326.9 1165.8 329.1 1166.7 331.2 1167.5 333.3 1168.3 335.4 1169.1 337.6 1170.0 339.7 1170.8 341.8 1171.7 343.9 1172.6 346.0 1173.5 348.2 1174.4 350.3 1175.3 352.4 1176.2 354.5 1177.1 356.7 1178.0 358.8 1178.8" stroke="#000000" stroke-width="2.1" fill="none" stroke-linejoin="round"/><path d="M188.9 1143.0 191.0 1143.1 193.1 1143.2 195.3 1143.3 197.4 1143.5 199.5 1143.6 201.6 1143.7 203.8 1143.8 205.9 1143.9 208.0 1144.0 210.1 1144.1 212.2 1144.2 214.4 1144.3 216.5 1144.4 218.6 1144.5 220.7 1144.6 222.9 1144.7 225.0 1144.8 227.1 1144.9 229.2 1145.0 231.4 1145.2 233.5 1145.3 235.6 1145.4 237.7 1145.6 239.9 1145.7 242.0 1145.8 244.1 1146.0 246.2 1146.2 248.4 1146.3 250.5 1146.5 252.6 1146.7 254.7 1146.9 256.8 1147.1 259.0 1147.4 261.1 1147.6 263.2 1147.9 265.3 1148.3 267.5 1148.7 269.6 1149.1 271.7 1149.6 273.8 1150.1 276.0 1150.7 278.1 1151.2 280.2 1151.8 282.3 1152.4 284.5 1153.1 286.6 1153.7 288.7 1154.4 290.8 1155.1 293.0 1155.8 295.1 1156.6 297.2 1157.3 299.3 1158.1 301.4 1158.8 303.6 1159.6 305.7 1160.3 307.8 1161.1 309.9 1161.9 312.1 1162.7 314.2 1163.6 316.3 1164.5 318.4 1165.5 320.6 1166.6 322.7 1167.6 324.8 1168.7 326.9 1169.7 329.1 1170.7 331.2 1171.7 333.3 1172.5 335.4 1173.3 337.6 1174.1 339.7 1174.8 341.8 1175.5 343.9 1176.2 346.0 1176.9 348.2 1177.6 350.3 1178.2 352.4 1178.9 354.5 1179.6 356.7 1180.3 358.8 1180.9" stroke="#000000" stroke-width="2.1" fill="none" stroke-linejoin="round"/><path d="M188.9 1145.1 191.0 1145.2 193.1 1145.3 195.3 1145.5 197.4 1145.6 199.5 1145.7 201.6 1145.8 203.8 1145.9 205.9 1146.0 208.0 1146.1 210.1 1146.2 212.2 1146.3 214.4 1146.4 216.5 1146.5 218.6 1146.6 220.7 1146.7 222.9 1146.8 225.0 1146.9 227.1 1147.0 229.2 1147.2 231.4 1147.3 233.5 1147.4 235.6 1147.5 237.7 1147.7 239.9 1147.8 242.0 1148.0 244.1 1148.1 246.2 1148.3 248.4 1148.5 250.5 1148.6 252.6 1148.8 254.7 1149.0 256.8 1149.2 259.0 1149.5 261.1 1149.7 263.2 1150.1 265.3 1150.4 267.5 1150.8 269.6 1151.3 271.7 1151.7 273.8 1152.2 276.0 1152.8 278.1 1153.3 280.2 1153.9 282.3 1154.5 284.5 1155.2 286.6 1155.9 288.7 1156.5 290.8 1157.2 293.0 1158.0 295.1 1158.7 297.2 1159.4 299.3 1160.2 301.4 1160.9 303.6 1161.7 305.7 1162.4 307.8 1163.2 309.9 1164.0 312.1 1164.8 314.2 1165.7 316.3 1166.8 318.4 1167.9 320.6 1169.0 322.7 1170.2 324.8 1171.3 326.9 1172.3 329.1 1173.2 331.2 1174.0 333.3 1174.6 335.4 1175.1 337.6 1175.6 339.7 1176.0 341.8 1176.3 343.9 1176.7 346.0 1177.0 348.2 1177.3 350.3 1177.6 352.4 1177.9 354.5 1178.2 356.7 1178.5 358.8 1178.8" stroke="#000000" stroke-width="2.1" fill="none" stroke-linejoin="round"/><path d="M188.9 1147.2 191.0 1147.3 193.1 1147.4 195.3 1147.6 197.4 1147.7 199.5 1147.8 201.6 1147.9 203.8 1148.0 205.9 1148.1 208.0 1148.2 210.1 1148.3 212.2 1148.4 214.4 1148.5 216.5 1148.6 218.6 1148.7 220.7 1148.8 222.9 1149.0 225.0 1149.1 227.1 1149.2 229.2 1149.3 231.4 1149.4 233.5 1149.5 235.6 1149.7 237.7 1149.8 239.9 1149.9 242.0 1150.1 244.1 1150.3 246.2 1150.4 248.4 1150.6 250.5 1150.8 252.6 1150.9 254.7 1151.1 256.8 1151.3 259.0 1151.6 261.1 1151.8 263.2 1152.1 265.3 1152.4 267.5 1152.8 269.6 1153.2 271.7 1153.6 273.8 1154.0 276.0 1154.5 278.1 1155.0 280.2 1155.5 282.3 1156.0 284.5 1156.6 286.6 1157.2 288.7 1157.7 290.8 1158.3 293.0 1158.9 295.1 1159.6 297.2 1160.2 299.3 1160.8 301.4 1161.4 303.6 1162.1 305.7 1162.7 307.8 1163.4 309.9 1164.0 312.1 1164.7 314.2 1165.4 316.3 1166.2 318.4 1167.1 320.6 1168.0 322.7 1168.9 324.8 1169.7 326.9 1170.6 329.1 1171.3 331.2 1172.0 333.3 1172.5 335.4 1173.0 337.6 1173.4 339.7 1173.8 341.8 1174.2 343.9 1174.5 346.0 1174.8 348.2 1175.1 350.3 1175.4 352.4 1175.7 354.5 1176.1 356.7 1176.4 358.8 1176.7" stroke="#000000" stroke-width="2.1" fill="none" stroke-linejoin="round"/><path d="M188.9 1151.4 191.0 1151.6 193.1 1151.8 195.3 1152.0 197.4 1152.2 199.5 1152.4 201.6 1152.5 203.8 1152.7 205.9 1152.9 208.0 1153.1 210.1 1153.3 212.2 1153.4 214.4 1153.6 216.5 1153.8 218.6 1154.0 220.7 1154.1 222.9 1154.3 225.0 1154.5 227.1 1154.7 229.2 1154.9 231.4 1155.1 233.5 1155.3 235.6 1155.5 237.7 1155.7 239.9 1155.9 242.0 1156.1 244.1 1156.3 246.2 1156.5 248.4 1156.7 250.5 1156.9 252.6 1157.2 254.7 1157.4 256.8 1157.7 259.0 1157.9 261.1 1158.2 263.2 1158.5 265.3 1158.7 267.5 1159.0 269.6 1159.4 271.7 1159.7 273.8 1160.0 276.0 1160.3 278.1 1160.7 280.2 1161.0 282.3 1161.4 284.5 1161.7 286.6 1162.1 288.7 1162.4 290.8 1162.8 293.0 1163.2 295.1 1163.5 297.2 1163.9 299.3 1164.3 301.4 1164.7 303.6 1165.0 305.7 1165.4 307.8 1165.8 309.9 1166.1 312.1 1166.5 314.2 1166.9 316.3 1167.3 318.4 1167.8 320.6 1168.2 322.7 1168.6 324.8 1169.1 326.9 1169.5 329.1 1169.8 331.2 1170.1 333.3 1170.4 335.4 1170.6 337.6 1170.8 339.7 1171.0 341.8 1171.2 343.9 1171.4 346.0 1171.6 348.2 1171.7 350.3 1171.9 352.4 1172.0 354.5 1172.2 356.7 1172.3 358.8 1172.5" stroke="#000000" stroke-width="2.1" fill="none" stroke-linejoin="round"/><path d="M188.9 1155.6 191.0 1155.8 193.1 1156.0 195.3 1156.1 197.4 1156.3 199.5 1156.4 201.6 1156.6 203.8 1156.7 205.9 1156.9 208.0 1157.1 210.1 1157.2 212.2 1157.4 214.4 1157.5 216.5 1157.7 218.6 1157.8 220.7 1158.0 222.9 1158.2 225.0 1158.3 227.1 1158.5 229.2 1158.6 231.4 1158.8 233.5 1159.0 235.6 1159.1 237.7 1159.3 239.9 1159.4 242.0 1159.6 244.1 1159.8 246.2 1160.0 248.4 1160.1 250.5 1160.3 252.6 1160.5 254.7 1160.7 256.8 1160.8 259.0 1161.0 261.1 1161.2 263.2 1161.4 265.3 1161.6 267.5 1161.7 269.6 1161.9 271.7 1162.1 273.8 1162.2 276.0 1162.4 278.1 1162.6 280.2 1162.8 282.3 1163.0 284.5 1163.1 286.6 1163.3 288.7 1163.5 290.8 1163.7 293.0 1164.0 295.1 1164.2 297.2 1164.4 299.3 1164.7 301.4 1164.9 303.6 1165.2 305.7 1165.5 307.8 1165.8 309.9 1166.1 312.1 1166.5 314.2 1166.9 316.3 1167.4 318.4 1168.0 320.6 1168.6 322.7 1169.2 324.8 1169.9 326.9 1170.5 329.1 1171.2 331.2 1171.9 333.3 1172.5 335.4 1173.2 337.6 1173.8 339.7 1174.5 341.8 1175.2 343.9 1175.9 346.0 1176.6 348.2 1177.4 350.3 1178.1 352.4 1178.8 354.5 1179.5 356.7 1180.2 358.8 1180.9" stroke="#000000" stroke-width="2.1" fill="none" stroke-linejoin="round"/><path d="M188.9 1143.0 191.0 1143.2 193.1 1143.4 195.3 1143.5 197.4 1143.7 199.5 1143.9 201.6 1144.0 203.8 1144.2 205.9 1144.4 208.0 1144.5 210.1 1144.7 212.2 1144.8 214.4 1145.0 216.5 1145.2 218.6 1145.3 220.7 1145.5 222.9 1145.6 225.0 1145.8 227.1 1146.0 229.2 1146.2 231.4 1146.3 233.5 1146.5 235.6 1146.7 237.7 1146.9 239.9 1147.1 242.0 1147.4 244.1 1147.6 246.2 1147.8 248.4 1148.1 250.5 1148.3 252.6 1148.6 254.7 1148.9 256.8 1149.2 259.0 1149.5 261.1 1149.9 263.2 1150.3 265.3 1150.7 267.5 1151.1 269.6 1151.6 271.7 1152.1 273.8 1152.7 276.0 1153.2 278.1 1153.8 280.2 1154.5 282.3 1155.1 284.5 1155.8 286.6 1156.5 288.7 1157.3 290.8 1158.0 293.0 1158.8 295.1 1159.6 297.2 1160.5 299.3 1161.4 301.4 1162.3 303.6 1163.2 305.7 1164.1 307.8 1165.1 309.9 1166.1 312.1 1167.1 314.2 1168.3 316.3 1169.6 318.4 1171.0 320.6 1172.5 322.7 1174.1 324.8 1175.8 326.9 1177.6 329.1 1179.4 331.2 1181.2 333.3 1183.1 335.4 1185.1 337.6 1187.2 339.7 1189.5 341.8 1191.9 343.9 1194.4 346.0 1197.0 348.2 1199.6 350.3 1202.3 352.4 1204.9 354.5 1207.5 356.7 1210.1 358.8 1212.6" stroke="#000000" stroke-width="2.1" fill="none" stroke-linejoin="round"/><g fill="#000000" stroke="#000000" stroke-width="0.9"><circle cx="188.88" cy="1128.84" r="4.2"/><circle cx="188.88" cy="1134.54" r="4.2"/><circle cx="188.88" cy="1137.91" r="4.2"/><circle cx="188.88" cy="1141.92" r="4.2"/><circle cx="188.88" cy="1143.19" r="4.2"/><circle cx="188.88" cy="1146.14" r="4.2"/><circle cx="188.88" cy="1148.67" r="4.2"/><circle cx="188.88" cy="1152.26" r="4.2"/><circle cx="188.88" cy="1154.58" r="4.2"/><circle cx="188.88" cy="1157.53" r="4.2"/><circle cx="209.83" cy="1129.69" r="4.2"/><circle cx="209.83" cy="1134.12" r="4.2"/><circle cx="209.83" cy="1139.6" r="4.2"/><circle cx="209.83" cy="1145.09" r="4.2"/><circle cx="209.83" cy="1150.36" r="4.2"/><circle cx="209.83" cy="1166.6" r="4.2"/><circle cx="209.83" cy="1172.93" r="4.2"/><circle cx="226.02" cy="1124.41" r="4.2"/><circle cx="226.02" cy="1132.43" r="4.2"/><circle cx="226.02" cy="1137.91" r="4.2"/><circle cx="226.02" cy="1143.19" r="4.2"/><circle cx="226.02" cy="1150.36" r="4.2"/><circle cx="257.51" cy="1120.83" r="4.2"/><circle cx="257.51" cy="1134.12" r="4.2"/><circle cx="257.51" cy="1141.5" r="4.2"/><circle cx="257.51" cy="1148.67" r="4.2"/><circle cx="257.51" cy="1152.26" r="4.2"/><circle cx="278.61" cy="1136.02" r="4.2"/><circle cx="278.61" cy="1141.5" r="4.2"/><circle cx="278.61" cy="1148.67" r="4.2"/><circle cx="278.61" cy="1153.94" r="4.2"/><circle cx="278.61" cy="1173.77" r="4.2"/><circle cx="278.61" cy="1179.26" r="4.2"/><circle cx="310.21" cy="1143.19" r="4.2"/><circle cx="310.21" cy="1161.12" r="4.2"/><circle cx="310.21" cy="1168.29" r="4.2"/><circle cx="310.21" cy="1173.77" r="4.2"/><circle cx="310.21" cy="1188.12" r="4.2"/><circle cx="333.26" cy="1166.6" r="4.2"/><circle cx="333.26" cy="1171.87" r="4.2"/><circle cx="333.26" cy="1177.36" r="4.2"/><circle cx="333.26" cy="1182.84" r="4.2"/><circle cx="333.26" cy="1190.01" r="4.2"/><circle cx="358.79" cy="1155.84" r="4.2"/><circle cx="358.79" cy="1168.29" r="4.2"/><circle cx="358.79" cy="1173.77" r="4.2"/><circle cx="358.79" cy="1177.36" r="4.2"/><circle cx="358.79" cy="1190.01" r="4.2"/><circle cx="358.79" cy="1212.37" r="4.2"/></g></g>
<g><path d="M584.1 1033.2V1365M582.5 1351.7H796.7M570.8 1351.7H584.1M570.8 1246.07H584.1M570.8 1140.43H584.1M570.8 1034.8H584.1M636.85 1351.7V1365M689.6 1351.7V1365M742.35 1351.7V1365M795.1 1351.7V1365" stroke="#000" stroke-width="3.2" fill="none"/><text x="565.6" y="1360.6" font-size="25" text-anchor="end">0</text><text x="565.6" y="1254.97" font-size="25" text-anchor="end">50</text><text x="565.6" y="1149.33" font-size="25" text-anchor="end">100</text><text x="565.6" y="1043.7" font-size="25" text-anchor="end">150</text><text x="584.1" y="1392.3" font-size="25" text-anchor="middle">-5</text><text x="636.85" y="1392.3" font-size="25" text-anchor="middle">-4</text><text x="689.6" y="1392.3" font-size="25" text-anchor="middle">-3</text><text x="742.35" y="1392.3" font-size="25" text-anchor="middle">-2</text><text x="795.1" y="1392.3" font-size="25" text-anchor="middle">-1</text><text x="689.6" y="1429.9" font-size="25.5" text-anchor="middle">Log<tspan font-size="20" dy="8.8">10</tspan><tspan dy="-8.8"> (1/serum dilution)</tspan></text><text transform="translate(510.4 1193.25) rotate(-90)" font-size="30" text-anchor="middle">% Relative Infection</text><path d="M600.1 1140.4 602.2 1140.5 604.3 1140.5 606.5 1140.6 608.6 1140.6 610.7 1140.7 612.8 1140.7 615.0 1140.7 617.1 1140.8 619.2 1140.8 621.3 1140.8 623.4 1140.9 625.6 1140.9 627.7 1140.9 629.8 1141.0 631.9 1141.0 634.1 1141.0 636.2 1141.1 638.3 1141.1 640.4 1141.1 642.6 1141.2 644.7 1141.2 646.8 1141.2 648.9 1141.3 651.1 1141.3 653.2 1141.4 655.3 1141.4 657.4 1141.5 659.6 1141.5 661.7 1141.6 663.8 1141.6 665.9 1141.7 668.0 1141.7 670.2 1141.8 672.3 1141.9 674.4 1141.9 676.5 1142.0 678.7 1142.1 680.8 1142.2 682.9 1142.2 685.0 1142.3 687.2 1142.4 689.3 1142.5 691.4 1142.6 693.5 1142.8 695.7 1143.1 697.8 1143.4 699.9 1143.8 702.0 1144.2 704.2 1144.7 706.3 1145.1 708.4 1145.6 710.5 1146.2 712.6 1146.7 714.8 1147.2 716.9 1147.8 719.0 1148.3 721.1 1148.8 723.3 1149.3 725.4 1149.8 727.5 1150.3 729.6 1150.7 731.8 1151.2 733.9 1151.7 736.0 1152.3 738.1 1152.9 740.3 1153.6 742.4 1154.4 744.5 1155.2 746.6 1156.3 748.8 1157.7 750.9 1159.4 753.0 1161.3 755.1 1163.5 757.2 1165.7 759.4 1168.0 761.5 1170.4 763.6 1172.8 765.7 1175.2 767.9 1177.4 770.0 1179.5" stroke="#e00000" stroke-width="1.4" fill="none" stroke-linejoin="round"/><path d="M600.1 1142.5 602.2 1142.8 604.3 1143.1 606.5 1143.3 608.6 1143.5 610.7 1143.8 612.8 1144.0 615.0 1144.2 617.1 1144.5 619.2 1144.7 621.3 1144.9 623.4 1145.2 625.6 1145.4 627.7 1145.6 629.8 1145.8 631.9 1146.1 634.1 1146.3 636.2 1146.5 638.3 1146.8 640.4 1147.0 642.6 1147.3 644.7 1147.5 646.8 1147.8 648.9 1148.0 651.1 1148.3 653.2 1148.6 655.3 1148.9 657.4 1149.2 659.6 1149.5 661.7 1149.8 663.8 1150.2 665.9 1150.5 668.0 1150.9 670.2 1151.3 672.3 1151.7 674.4 1152.1 676.5 1152.6 678.7 1153.1 680.8 1153.7 682.9 1154.3 685.0 1154.9 687.2 1155.5 689.3 1156.1 691.4 1156.8 693.5 1157.4 695.7 1158.1 697.8 1158.8 699.9 1159.5 702.0 1160.1 704.2 1160.8 706.3 1161.5 708.4 1162.1 710.5 1162.8 712.6 1163.4 714.8 1164.0 716.9 1164.6 719.0 1165.2 721.1 1165.7 723.3 1166.2 725.4 1166.7 727.5 1167.2 729.6 1167.7 731.8 1168.2 733.9 1168.7 736.0 1169.2 738.1 1169.6 740.3 1170.1 742.4 1170.5 744.5 1171.0 746.6 1171.4 748.8 1171.9 750.9 1172.3 753.0 1172.8 755.1 1173.2 757.2 1173.6 759.4 1174.1 761.5 1174.5 763.6 1175.0 765.7 1175.4 767.9 1175.9 770.0 1176.3" stroke="#e00000" stroke-width="1.4" fill="none" stroke-linejoin="round"/><path d="M600.1 1144.7 602.2 1144.9 604.3 1145.2 606.5 1145.4 608.6 1145.7 610.7 1145.9 612.8 1146.1 615.0 1146.3 617.1 1146.6 619.2 1146.8 621.3 1147.0 623.4 1147.2 625.6 1147.4 627.7 1147.7 629.8 1147.9 631.9 1148.1 634.1 1148.3 636.2 1148.6 638.3 1148.8 640.4 1149.1 642.6 1149.3 644.7 1149.6 646.8 1149.8 648.9 1150.1 651.1 1150.4 653.2 1150.7 655.3 1151.0 657.4 1151.3 659.6 1151.6 661.7 1151.9 663.8 1152.3 665.9 1152.6 668.0 1153.0 670.2 1153.4 672.3 1153.8 674.4 1154.4 676.5 1154.9 678.7 1155.5 680.8 1156.2 682.9 1156.9 685.0 1157.6 687.2 1158.3 689.3 1159.1 691.4 1159.9 693.5 1160.7 695.7 1161.5 697.8 1162.3 699.9 1163.1 702.0 1163.9 704.2 1164.7 706.3 1165.5 708.4 1166.2 710.5 1166.9 712.6 1167.6 714.8 1168.3 716.9 1168.9 719.0 1169.4 721.1 1170.0 723.3 1170.4 725.4 1170.9 727.5 1171.3 729.6 1171.7 731.8 1172.1 733.9 1172.5 736.0 1172.9 738.1 1173.3 740.3 1173.6 742.4 1174.0 744.5 1174.4 746.6 1174.7 748.8 1175.0 750.9 1175.4 753.0 1175.7 755.1 1176.0 757.2 1176.4 759.4 1176.7 761.5 1177.0 763.6 1177.4 765.7 1177.7 767.9 1178.1 770.0 1178.5" stroke="#e00000" stroke-width="1.4" fill="none" stroke-linejoin="round"/><path d="M600.1 1148.9 602.2 1149.1 604.3 1149.4 606.5 1149.6 608.6 1149.9 610.7 1150.1 612.8 1150.3 615.0 1150.6 617.1 1150.8 619.2 1151.0 621.3 1151.2 623.4 1151.5 625.6 1151.7 627.7 1151.9 629.8 1152.1 631.9 1152.3 634.1 1152.6 636.2 1152.8 638.3 1153.0 640.4 1153.3 642.6 1153.5 644.7 1153.8 646.8 1154.0 648.9 1154.3 651.1 1154.6 653.2 1154.9 655.3 1155.2 657.4 1155.5 659.6 1155.8 661.7 1156.1 663.8 1156.5 665.9 1156.8 668.0 1157.2 670.2 1157.6 672.3 1158.1 674.4 1158.6 676.5 1159.1 678.7 1159.7 680.8 1160.3 682.9 1160.9 685.0 1161.6 687.2 1162.3 689.3 1163.0 691.4 1163.8 693.5 1164.5 695.7 1165.3 697.8 1166.1 699.9 1166.9 702.0 1167.7 704.2 1168.4 706.3 1169.2 708.4 1170.0 710.5 1170.7 712.6 1171.5 714.8 1172.2 716.9 1172.9 719.0 1173.5 721.1 1174.2 723.3 1174.8 725.4 1175.4 727.5 1176.0 729.6 1176.5 731.8 1177.1 733.9 1177.7 736.0 1178.2 738.1 1178.8 740.3 1179.3 742.4 1179.9 744.5 1180.4 746.6 1181.0 748.8 1181.5 750.9 1182.0 753.0 1182.6 755.1 1183.1 757.2 1183.7 759.4 1184.2 761.5 1184.7 763.6 1185.3 765.7 1185.8 767.9 1186.4 770.0 1186.9" stroke="#e00000" stroke-width="1.4" fill="none" stroke-linejoin="round"/><path d="M600.1 1153.1 602.2 1153.3 604.3 1153.5 606.5 1153.7 608.6 1153.8 610.7 1154.0 612.8 1154.2 615.0 1154.3 617.1 1154.5 619.2 1154.7 621.3 1154.8 623.4 1155.0 625.6 1155.1 627.7 1155.3 629.8 1155.5 631.9 1155.6 634.1 1155.8 636.2 1156.0 638.3 1156.1 640.4 1156.3 642.6 1156.5 644.7 1156.7 646.8 1156.9 648.9 1157.1 651.1 1157.3 653.2 1157.5 655.3 1157.7 657.4 1158.0 659.6 1158.2 661.7 1158.5 663.8 1158.8 665.9 1159.0 668.0 1159.4 670.2 1159.7 672.3 1160.1 674.4 1160.5 676.5 1161.0 678.7 1161.6 680.8 1162.1 682.9 1162.8 685.0 1163.4 687.2 1164.2 689.3 1164.9 691.4 1165.6 693.5 1166.4 695.7 1167.2 697.8 1168.0 699.9 1168.8 702.0 1169.6 704.2 1170.4 706.3 1171.2 708.4 1172.0 710.5 1172.8 712.6 1173.5 714.8 1174.3 716.9 1175.0 719.0 1175.6 721.1 1176.3 723.3 1176.9 725.4 1177.5 727.5 1178.1 729.6 1178.6 731.8 1179.2 733.9 1179.8 736.0 1180.3 738.1 1180.9 740.3 1181.5 742.4 1182.0 744.5 1182.5 746.6 1183.1 748.8 1183.6 750.9 1184.2 753.0 1184.7 755.1 1185.2 757.2 1185.8 759.4 1186.3 761.5 1186.8 763.6 1187.4 765.7 1187.9 767.9 1188.5 770.0 1189.0" stroke="#e00000" stroke-width="1.4" fill="none" stroke-linejoin="round"/><path d="M600.1 1155.2 602.2 1155.4 604.3 1155.6 606.5 1155.8 608.6 1156.0 610.7 1156.1 612.8 1156.3 615.0 1156.5 617.1 1156.6 619.2 1156.8 621.3 1156.9 623.4 1157.1 625.6 1157.3 627.7 1157.4 629.8 1157.6 631.9 1157.7 634.1 1157.9 636.2 1158.1 638.3 1158.2 640.4 1158.4 642.6 1158.6 644.7 1158.8 646.8 1159.0 648.9 1159.2 651.1 1159.4 653.2 1159.6 655.3 1159.8 657.4 1160.1 659.6 1160.3 661.7 1160.6 663.8 1160.9 665.9 1161.2 668.0 1161.5 670.2 1161.8 672.3 1162.2 674.4 1162.6 676.5 1163.1 678.7 1163.7 680.8 1164.3 682.9 1165.0 685.0 1165.7 687.2 1166.4 689.3 1167.1 691.4 1167.9 693.5 1168.7 695.7 1169.5 697.8 1170.3 699.9 1171.1 702.0 1171.9 704.2 1172.8 706.3 1173.5 708.4 1174.3 710.5 1175.1 712.6 1175.8 714.8 1176.5 716.9 1177.2 719.0 1177.8 721.1 1178.4 723.3 1178.9 725.4 1179.5 727.5 1180.0 729.6 1180.5 731.8 1181.0 733.9 1181.5 736.0 1181.9 738.1 1182.4 740.3 1182.8 742.4 1183.3 744.5 1183.7 746.6 1184.2 748.8 1184.6 750.9 1185.1 753.0 1185.5 755.1 1185.9 757.2 1186.4 759.4 1186.8 761.5 1187.2 763.6 1187.7 765.7 1188.1 767.9 1188.6 770.0 1189.0" stroke="#e00000" stroke-width="1.4" fill="none" stroke-linejoin="round"/><path d="M600.1 1148.9 602.2 1149.1 604.3 1149.4 606.5 1149.6 608.6 1149.9 610.7 1150.1 612.8 1150.3 615.0 1150.6 617.1 1150.8 619.2 1151.0 621.3 1151.2 623.4 1151.5 625.6 1151.7 627.7 1151.9 629.8 1152.1 631.9 1152.3 634.1 1152.6 636.2 1152.8 638.3 1153.0 640.4 1153.3 642.6 1153.5 644.7 1153.8 646.8 1154.0 648.9 1154.3 651.1 1154.6 653.2 1154.9 655.3 1155.2 657.4 1155.5 659.6 1155.8 661.7 1156.1 663.8 1156.5 665.9 1156.8 668.0 1157.2 670.2 1157.6 672.3 1158.0 674.4 1158.5 676.5 1158.9 678.7 1159.4 680.8 1159.9 682.9 1160.4 685.0 1161.0 687.2 1161.5 689.3 1162.1 691.4 1162.8 693.5 1163.4 695.7 1164.1 697.8 1164.8 699.9 1165.5 702.0 1166.2 704.2 1167.0 706.3 1167.8 708.4 1168.6 710.5 1169.5 712.6 1170.3 714.8 1171.2 716.9 1172.2 719.0 1173.1 721.1 1174.1 723.3 1175.2 725.4 1176.4 727.5 1177.8 729.6 1179.3 731.8 1180.9 733.9 1182.5 736.0 1184.2 738.1 1186.0 740.3 1187.7 742.4 1189.5 744.5 1191.2 746.6 1192.9 748.8 1194.6 750.9 1196.4 753.0 1198.2 755.1 1200.0 757.2 1201.8 759.4 1203.7 761.5 1205.5 763.6 1207.4 765.7 1209.2 767.9 1211.1 770.0 1212.9" stroke="#e00000" stroke-width="1.4" fill="none" stroke-linejoin="round"/><path d="M600.1 1148.9 602.2 1149.1 604.3 1149.4 606.5 1149.6 608.6 1149.9 610.7 1150.1 612.8 1150.3 615.0 1150.6 617.1 1150.8 619.2 1151.0 621.3 1151.2 623.4 1151.4 625.6 1151.6 627.7 1151.9 629.8 1152.1 631.9 1152.3 634.1 1152.5 636.2 1152.7 638.3 1153.0 640.4 1153.2 642.6 1153.5 644.7 1153.7 646.8 1154.0 648.9 1154.3 651.1 1154.5 653.2 1154.8 655.3 1155.1 657.4 1155.4 659.6 1155.8 661.7 1156.1 663.8 1156.5 665.9 1156.8 668.0 1157.2 670.2 1157.6 672.3 1158.1 674.4 1158.5 676.5 1159.0 678.7 1159.6 680.8 1160.1 682.9 1160.7 685.0 1161.4 687.2 1162.0 689.3 1162.7 691.4 1163.4 693.5 1164.2 695.7 1165.0 697.8 1165.8 699.9 1166.6 702.0 1167.5 704.2 1168.3 706.3 1169.2 708.4 1170.2 710.5 1171.1 712.6 1172.1 714.8 1173.1 716.9 1174.1 719.0 1175.2 721.1 1176.2 723.3 1177.3 725.4 1178.5 727.5 1179.8 729.6 1181.2 731.8 1182.6 733.9 1184.2 736.0 1185.8 738.1 1187.6 740.3 1189.4 742.4 1191.3 744.5 1193.3 746.6 1195.5 748.8 1198.0 750.9 1200.7 753.0 1203.6 755.1 1206.7 757.2 1209.9 759.4 1213.2 761.5 1216.5 763.6 1219.8 765.7 1223.1 767.9 1226.3 770.0 1229.4" stroke="#e00000" stroke-width="1.4" fill="none" stroke-linejoin="round"/><path d="M600.1 1141.6 602.2 1141.7 604.3 1141.8 606.5 1141.9 608.6 1142.0 610.7 1142.2 612.8 1142.3 615.0 1142.4 617.1 1142.6 619.2 1142.7 621.3 1142.9 623.4 1143.1 625.6 1143.3 627.7 1143.5 629.8 1143.7 631.9 1144.0 634.1 1144.2 636.2 1144.5 638.3 1144.8 640.4 1145.1 642.6 1145.5 644.7 1145.8 646.8 1146.2 648.9 1146.7 651.1 1147.1 653.2 1147.6 655.3 1148.1 657.4 1148.7 659.6 1149.3 661.7 1149.9 663.8 1150.6 665.9 1151.3 668.0 1152.0 670.2 1152.9 672.3 1153.7 674.4 1154.7 676.5 1155.7 678.7 1156.7 680.8 1157.8 682.9 1159.0 685.0 1160.3 687.2 1161.6 689.3 1163.1 691.4 1164.6 693.5 1166.1 695.7 1167.8 697.8 1169.6 699.9 1171.5 702.0 1173.4 704.2 1175.5 706.3 1177.7 708.4 1179.9 710.5 1182.3 712.6 1184.8 714.8 1187.4 716.9 1190.1 719.0 1192.9 721.1 1195.8 723.3 1198.8 725.4 1201.9 727.5 1205.1 729.6 1208.3 731.8 1211.7 733.9 1215.2 736.0 1218.7 738.1 1222.3 740.3 1226.0 742.4 1229.7 744.5 1233.4 746.6 1237.2 748.8 1241.0 750.9 1244.8 753.0 1248.6 755.1 1252.4 757.2 1256.2 759.4 1260.0 761.5 1263.7 763.6 1267.4 765.7 1271.1 767.9 1274.6 770.0 1278.1" stroke="#e00000" stroke-width="1.4" fill="none" stroke-linejoin="round"/><path d="M600.1 1143.6 602.2 1143.7 604.3 1143.8 606.5 1143.9 608.6 1144.0 610.7 1144.1 612.8 1144.2 615.0 1144.4 617.1 1144.5 619.2 1144.7 621.3 1144.8 623.4 1145.0 625.6 1145.2 627.7 1145.4 629.8 1145.6 631.9 1145.8 634.1 1146.1 636.2 1146.3 638.3 1146.6 640.4 1146.9 642.6 1147.3 644.7 1147.6 646.8 1148.0 648.9 1148.4 651.1 1148.8 653.2 1149.3 655.3 1149.8 657.4 1150.3 659.6 1150.9 661.7 1151.5 663.8 1152.2 665.9 1152.9 668.0 1153.7 670.2 1154.5 672.3 1155.3 674.4 1156.2 676.5 1157.2 678.7 1158.3 680.8 1159.4 682.9 1160.6 685.0 1161.8 687.2 1163.2 689.3 1164.6 691.4 1166.1 693.5 1167.7 695.7 1169.4 697.8 1171.2 699.9 1173.0 702.0 1175.0 704.2 1177.1 706.3 1179.3 708.4 1181.6 710.5 1184.0 712.6 1186.5 714.8 1189.2 716.9 1191.9 719.0 1194.8 721.1 1197.7 723.3 1200.8 725.4 1204.0 727.5 1207.2 729.6 1210.6 731.8 1214.0 733.9 1217.6 736.0 1221.2 738.1 1224.8 740.3 1228.6 742.4 1232.3 744.5 1236.2 746.6 1240.0 748.8 1243.9 750.9 1247.8 753.0 1251.6 755.1 1255.5 757.2 1259.3 759.4 1263.1 761.5 1266.9 763.6 1270.6 765.7 1274.3 767.9 1277.9 770.0 1281.4" stroke="#e00000" stroke-width="1.4" fill="none" stroke-linejoin="round"/><g fill="#ff0000" stroke="#b80008" stroke-width="0.9"><circle cx="600.08" cy="1112.12" r="4.2"/><circle cx="600.08" cy="1116.56" r="4.2"/><circle cx="600.08" cy="1130.29" r="4.2"/><circle cx="600.08" cy="1144.02" r="4.2"/><circle cx="600.08" cy="1148.67" r="4.2"/><circle cx="600.08" cy="1153.32" r="4.2"/><circle cx="600.08" cy="1163.25" r="4.2"/><circle cx="621.03" cy="1116.56" r="4.2"/><circle cx="621.03" cy="1122.05" r="4.2"/><circle cx="621.03" cy="1135.79" r="4.2"/><circle cx="621.03" cy="1140.43" r="4.2"/><circle cx="621.03" cy="1144.02" r="4.2"/><circle cx="637.22" cy="1117.41" r="4.2"/><circle cx="637.22" cy="1138.53" r="4.2"/><circle cx="637.22" cy="1143.18" r="4.2"/><circle cx="637.22" cy="1148.67" r="4.2"/><circle cx="637.22" cy="1154.17" r="4.2"/><circle cx="668.71" cy="1129.45" r="4.2"/><circle cx="668.71" cy="1140.43" r="4.2"/><circle cx="668.71" cy="1146.77" r="4.2"/><circle cx="668.71" cy="1152.26" r="4.2"/><circle cx="668.71" cy="1157.76" r="4.2"/><circle cx="668.71" cy="1168.74" r="4.2"/><circle cx="668.71" cy="1175.29" r="4.2"/><circle cx="689.81" cy="1150.57" r="4.2"/><circle cx="689.81" cy="1156.07" r="4.2"/><circle cx="689.81" cy="1161.56" r="4.2"/><circle cx="689.81" cy="1167.05" r="4.2"/><circle cx="689.81" cy="1174.24" r="4.2"/><circle cx="689.81" cy="1179.73" r="4.2"/><circle cx="689.81" cy="1189.02" r="4.2"/><circle cx="721.41" cy="1154.17" r="4.2"/><circle cx="721.41" cy="1161.56" r="4.2"/><circle cx="721.41" cy="1168.74" r="4.2"/><circle cx="721.41" cy="1176.14" r="4.2"/><circle cx="721.41" cy="1183.53" r="4.2"/><circle cx="721.41" cy="1189.02" r="4.2"/><circle cx="721.41" cy="1212.9" r="4.2"/><circle cx="744.46" cy="1148.67" r="4.2"/><circle cx="744.46" cy="1172.55" r="4.2"/><circle cx="744.46" cy="1185.43" r="4.2"/><circle cx="744.46" cy="1190.93" r="4.2"/><circle cx="744.46" cy="1229.38" r="4.2"/><circle cx="744.46" cy="1234.87" r="4.2"/><circle cx="769.99" cy="1176.14" r="4.2"/><circle cx="769.99" cy="1179.73" r="4.2"/><circle cx="769.99" cy="1188.18" r="4.2"/><circle cx="769.99" cy="1212.9" r="4.2"/><circle cx="769.99" cy="1229.38" r="4.2"/><circle cx="769.99" cy="1282.4" r="4.2"/></g></g>
<g><path d="M994.7 1033.1V1365M993.1 1351.7H1207.3M981.4 1351.7H994.7M981.4 1246.03H994.7M981.4 1140.37H994.7M981.4 1034.7H994.7M1047.45 1351.7V1365M1100.2 1351.7V1365M1152.95 1351.7V1365M1205.7 1351.7V1365" stroke="#000" stroke-width="3.2" fill="none"/><text x="976.2" y="1360.6" font-size="25" text-anchor="end">0</text><text x="976.2" y="1254.93" font-size="25" text-anchor="end">50</text><text x="976.2" y="1149.27" font-size="25" text-anchor="end">100</text><text x="976.2" y="1043.6" font-size="25" text-anchor="end">150</text><text x="994.7" y="1392.3" font-size="25" text-anchor="middle">-5</text><text x="1047.45" y="1392.3" font-size="25" text-anchor="middle">-4</text><text x="1100.2" y="1392.3" font-size="25" text-anchor="middle">-3</text><text x="1152.95" y="1392.3" font-size="25" text-anchor="middle">-2</text><text x="1205.7" y="1392.3" font-size="25" text-anchor="middle">-1</text><text x="1100.2" y="1429.9" font-size="25.5" text-anchor="middle">Log<tspan font-size="20" dy="8.8">10</tspan><tspan dy="-8.8"> (1/serum dilution)</tspan></text><text transform="translate(921 1193.2) rotate(-90)" font-size="30" text-anchor="middle">% Relative Infection</text><path d="M1010.7 1140.4 1012.8 1140.5 1014.9 1140.6 1017.1 1140.7 1019.2 1140.9 1021.3 1141.0 1023.4 1141.1 1025.6 1141.2 1027.7 1141.3 1029.8 1141.4 1031.9 1141.5 1034.0 1141.6 1036.2 1141.7 1038.3 1141.8 1040.4 1141.9 1042.5 1142.0 1044.7 1142.1 1046.8 1142.2 1048.9 1142.4 1051.0 1142.5 1053.2 1142.6 1055.3 1142.7 1057.4 1142.8 1059.5 1143.0 1061.7 1143.1 1063.8 1143.3 1065.9 1143.4 1068.0 1143.6 1070.2 1143.8 1072.3 1143.9 1074.4 1144.1 1076.5 1144.3 1078.6 1144.5 1080.8 1144.7 1082.9 1145.0 1085.0 1145.3 1087.1 1145.6 1089.3 1146.0 1091.4 1146.4 1093.5 1146.8 1095.6 1147.2 1097.8 1147.7 1099.9 1148.2 1102.0 1148.7 1104.1 1149.2 1106.3 1149.8 1108.4 1150.4 1110.5 1150.9 1112.6 1151.5 1114.8 1152.1 1116.9 1152.8 1119.0 1153.4 1121.1 1154.0 1123.2 1154.6 1125.4 1155.3 1127.5 1155.9 1129.6 1156.6 1131.7 1157.2 1133.9 1157.8 1136.0 1158.5 1138.1 1159.2 1140.2 1160.0 1142.4 1160.7 1144.5 1161.5 1146.6 1162.3 1148.7 1163.1 1150.9 1164.0 1153.0 1164.9 1155.1 1165.7 1157.2 1166.7 1159.4 1167.6 1161.5 1168.6 1163.6 1169.7 1165.7 1170.7 1167.8 1171.8 1170.0 1172.9 1172.1 1174.0 1174.2 1175.2 1176.3 1176.3 1178.5 1177.3 1180.6 1178.4" stroke="#0000e6" stroke-width="1.4" fill="none" stroke-linejoin="round"/><path d="M1010.7 1142.5 1012.8 1142.6 1014.9 1142.7 1017.1 1142.8 1019.2 1143.0 1021.3 1143.1 1023.4 1143.2 1025.6 1143.3 1027.7 1143.4 1029.8 1143.5 1031.9 1143.6 1034.0 1143.7 1036.2 1143.8 1038.3 1143.9 1040.4 1144.0 1042.5 1144.1 1044.7 1144.2 1046.8 1144.3 1048.9 1144.4 1051.0 1144.5 1053.2 1144.6 1055.3 1144.7 1057.4 1144.9 1059.5 1145.0 1061.7 1145.2 1063.8 1145.3 1065.9 1145.5 1068.0 1145.6 1070.2 1145.8 1072.3 1146.0 1074.4 1146.2 1076.5 1146.4 1078.6 1146.6 1080.8 1146.9 1082.9 1147.2 1085.0 1147.7 1087.1 1148.2 1089.3 1148.7 1091.4 1149.4 1093.5 1150.1 1095.6 1150.8 1097.8 1151.6 1099.9 1152.5 1102.0 1153.4 1104.1 1154.3 1106.3 1155.2 1108.4 1156.1 1110.5 1157.1 1112.6 1158.0 1114.8 1159.0 1116.9 1159.9 1119.0 1160.9 1121.1 1161.7 1123.2 1162.6 1125.4 1163.4 1127.5 1164.2 1129.6 1165.0 1131.7 1165.6 1133.9 1166.3 1136.0 1166.9 1138.1 1167.5 1140.2 1168.1 1142.4 1168.7 1144.5 1169.3 1146.6 1169.8 1148.7 1170.4 1150.9 1170.9 1153.0 1171.5 1155.1 1172.0 1157.2 1172.5 1159.4 1173.1 1161.5 1173.6 1163.6 1174.1 1165.7 1174.7 1167.8 1175.2 1170.0 1175.7 1172.1 1176.2 1174.2 1176.8 1176.3 1177.3 1178.5 1177.9 1180.6 1178.4" stroke="#0000e6" stroke-width="1.4" fill="none" stroke-linejoin="round"/><path d="M1010.7 1148.8 1012.8 1149.0 1014.9 1149.2 1017.1 1149.4 1019.2 1149.6 1021.3 1149.7 1023.4 1149.9 1025.6 1150.1 1027.7 1150.2 1029.8 1150.4 1031.9 1150.5 1034.0 1150.7 1036.2 1150.8 1038.3 1151.0 1040.4 1151.2 1042.5 1151.3 1044.7 1151.5 1046.8 1151.7 1048.9 1151.8 1051.0 1152.0 1053.2 1152.2 1055.3 1152.4 1057.4 1152.6 1059.5 1152.8 1061.7 1153.0 1063.8 1153.2 1065.9 1153.4 1068.0 1153.7 1070.2 1153.9 1072.3 1154.2 1074.4 1154.5 1076.5 1154.8 1078.6 1155.1 1080.8 1155.4 1082.9 1155.8 1085.0 1156.2 1087.1 1156.7 1089.3 1157.3 1091.4 1157.9 1093.5 1158.6 1095.6 1159.3 1097.8 1160.0 1099.9 1160.7 1102.0 1161.5 1104.1 1162.3 1106.3 1163.1 1108.4 1163.9 1110.5 1164.7 1112.6 1165.5 1114.8 1166.4 1116.9 1167.2 1119.0 1167.9 1121.1 1168.7 1123.2 1169.4 1125.4 1170.1 1127.5 1170.8 1129.6 1171.4 1131.7 1172.0 1133.9 1172.5 1136.0 1173.1 1138.1 1173.6 1140.2 1174.1 1142.4 1174.6 1144.5 1175.1 1146.6 1175.5 1148.7 1176.0 1150.9 1176.5 1153.0 1176.9 1155.1 1177.4 1157.2 1177.8 1159.4 1178.2 1161.5 1178.7 1163.6 1179.1 1165.7 1179.5 1167.8 1180.0 1170.0 1180.4 1172.1 1180.8 1174.2 1181.3 1176.3 1181.7 1178.5 1182.2 1180.6 1182.6" stroke="#0000e6" stroke-width="1.4" fill="none" stroke-linejoin="round"/><path d="M1010.7 1150.9 1012.8 1151.2 1014.9 1151.4 1017.1 1151.7 1019.2 1151.9 1021.3 1152.2 1023.4 1152.4 1025.6 1152.6 1027.7 1152.9 1029.8 1153.1 1031.9 1153.3 1034.0 1153.5 1036.2 1153.8 1038.3 1154.0 1040.4 1154.2 1042.5 1154.5 1044.7 1154.7 1046.8 1154.9 1048.9 1155.2 1051.0 1155.4 1053.2 1155.7 1055.3 1155.9 1057.4 1156.2 1059.5 1156.4 1061.7 1156.7 1063.8 1157.0 1065.9 1157.3 1068.0 1157.6 1070.2 1157.9 1072.3 1158.2 1074.4 1158.6 1076.5 1158.9 1078.6 1159.3 1080.8 1159.7 1082.9 1160.1 1085.0 1160.5 1087.1 1161.0 1089.3 1161.5 1091.4 1162.1 1093.5 1162.7 1095.6 1163.3 1097.8 1163.9 1099.9 1164.5 1102.0 1165.2 1104.1 1165.8 1106.3 1166.5 1108.4 1167.2 1110.5 1167.9 1112.6 1168.5 1114.8 1169.2 1116.9 1169.9 1119.0 1170.5 1121.1 1171.2 1123.2 1171.8 1125.4 1172.4 1127.5 1173.0 1129.6 1173.6 1131.7 1174.1 1133.9 1174.6 1136.0 1175.1 1138.1 1175.6 1140.2 1176.1 1142.4 1176.6 1144.5 1177.1 1146.6 1177.5 1148.7 1178.0 1150.9 1178.5 1153.0 1178.9 1155.1 1179.4 1157.2 1179.8 1159.4 1180.3 1161.5 1180.7 1163.6 1181.2 1165.7 1181.6 1167.8 1182.0 1170.0 1182.5 1172.1 1182.9 1174.2 1183.4 1176.3 1183.8 1178.5 1184.3 1180.6 1184.7" stroke="#0000e6" stroke-width="1.4" fill="none" stroke-linejoin="round"/><path d="M1010.7 1153.0 1012.8 1153.3 1014.9 1153.6 1017.1 1153.8 1019.2 1154.0 1021.3 1154.3 1023.4 1154.5 1025.6 1154.7 1027.7 1155.0 1029.8 1155.2 1031.9 1155.4 1034.0 1155.7 1036.2 1155.9 1038.3 1156.1 1040.4 1156.3 1042.5 1156.6 1044.7 1156.8 1046.8 1157.0 1048.9 1157.3 1051.0 1157.5 1053.2 1157.8 1055.3 1158.0 1057.4 1158.3 1059.5 1158.6 1061.7 1158.8 1063.8 1159.1 1065.9 1159.4 1068.0 1159.7 1070.2 1160.0 1072.3 1160.3 1074.4 1160.7 1076.5 1161.0 1078.6 1161.4 1080.8 1161.8 1082.9 1162.2 1085.0 1162.6 1087.1 1163.1 1089.3 1163.7 1091.4 1164.2 1093.5 1164.8 1095.6 1165.4 1097.8 1166.0 1099.9 1166.6 1102.0 1167.3 1104.1 1168.0 1106.3 1168.6 1108.4 1169.3 1110.5 1170.0 1112.6 1170.7 1114.8 1171.3 1116.9 1172.0 1119.0 1172.6 1121.1 1173.3 1123.2 1173.9 1125.4 1174.5 1127.5 1175.1 1129.6 1175.7 1131.7 1176.2 1133.9 1176.7 1136.0 1177.3 1138.1 1177.7 1140.2 1178.2 1142.4 1178.7 1144.5 1179.2 1146.6 1179.7 1148.7 1180.1 1150.9 1180.6 1153.0 1181.0 1155.1 1181.5 1157.2 1181.9 1159.4 1182.4 1161.5 1182.8 1163.6 1183.3 1165.7 1183.7 1167.8 1184.2 1170.0 1184.6 1172.1 1185.0 1174.2 1185.5 1176.3 1185.9 1178.5 1186.4 1180.6 1186.9" stroke="#0000e6" stroke-width="1.4" fill="none" stroke-linejoin="round"/><path d="M1010.7 1155.2 1012.8 1155.4 1014.9 1155.7 1017.1 1155.9 1019.2 1156.2 1021.3 1156.4 1023.4 1156.6 1025.6 1156.9 1027.7 1157.1 1029.8 1157.3 1031.9 1157.5 1034.0 1157.8 1036.2 1158.0 1038.3 1158.2 1040.4 1158.5 1042.5 1158.7 1044.7 1158.9 1046.8 1159.1 1048.9 1159.4 1051.0 1159.6 1053.2 1159.9 1055.3 1160.1 1057.4 1160.4 1059.5 1160.7 1061.7 1160.9 1063.8 1161.2 1065.9 1161.5 1068.0 1161.8 1070.2 1162.1 1072.3 1162.5 1074.4 1162.8 1076.5 1163.1 1078.6 1163.5 1080.8 1163.9 1082.9 1164.3 1085.0 1164.8 1087.1 1165.2 1089.3 1165.8 1091.4 1166.3 1093.5 1166.9 1095.6 1167.5 1097.8 1168.1 1099.9 1168.8 1102.0 1169.4 1104.1 1170.1 1106.3 1170.7 1108.4 1171.4 1110.5 1172.1 1112.6 1172.8 1114.8 1173.4 1116.9 1174.1 1119.0 1174.8 1121.1 1175.4 1123.2 1176.0 1125.4 1176.6 1127.5 1177.2 1129.6 1177.8 1131.7 1178.3 1133.9 1178.9 1136.0 1179.4 1138.1 1179.9 1140.2 1180.4 1142.4 1180.8 1144.5 1181.3 1146.6 1181.8 1148.7 1182.2 1150.9 1182.7 1153.0 1183.2 1155.1 1183.6 1157.2 1184.1 1159.4 1184.5 1161.5 1184.9 1163.6 1185.4 1165.7 1185.8 1167.8 1186.3 1170.0 1186.7 1172.1 1187.2 1174.2 1187.6 1176.3 1188.1 1178.5 1188.5 1180.6 1189.0" stroke="#0000e6" stroke-width="1.4" fill="none" stroke-linejoin="round"/><path d="M1010.7 1150.9 1012.8 1151.2 1014.9 1151.4 1017.1 1151.7 1019.2 1151.9 1021.3 1152.2 1023.4 1152.4 1025.6 1152.6 1027.7 1152.8 1029.8 1153.1 1031.9 1153.3 1034.0 1153.5 1036.2 1153.7 1038.3 1153.9 1040.4 1154.2 1042.5 1154.4 1044.7 1154.6 1046.8 1154.9 1048.9 1155.1 1051.0 1155.3 1053.2 1155.6 1055.3 1155.8 1057.4 1156.1 1059.5 1156.4 1061.7 1156.6 1063.8 1156.9 1065.9 1157.2 1068.0 1157.5 1070.2 1157.9 1072.3 1158.2 1074.4 1158.5 1076.5 1158.9 1078.6 1159.3 1080.8 1159.7 1082.9 1160.1 1085.0 1160.5 1087.1 1161.0 1089.3 1161.5 1091.4 1162.0 1093.5 1162.5 1095.6 1163.1 1097.8 1163.7 1099.9 1164.3 1102.0 1164.9 1104.1 1165.6 1106.3 1166.3 1108.4 1167.0 1110.5 1167.7 1112.6 1168.5 1114.8 1169.2 1116.9 1170.0 1119.0 1170.9 1121.1 1171.7 1123.2 1172.5 1125.4 1173.4 1127.5 1174.3 1129.6 1175.2 1131.7 1176.2 1133.9 1177.2 1136.0 1178.3 1138.1 1179.4 1140.2 1180.7 1142.4 1182.0 1144.5 1183.5 1146.6 1184.9 1148.7 1186.4 1150.9 1188.0 1153.0 1189.5 1155.1 1191.1 1157.2 1192.8 1159.4 1194.5 1161.5 1196.4 1163.6 1198.3 1165.7 1200.2 1167.8 1202.2 1170.0 1204.3 1172.1 1206.3 1174.2 1208.3 1176.3 1210.4 1178.5 1212.4 1180.6 1214.3" stroke="#0000e6" stroke-width="1.4" fill="none" stroke-linejoin="round"/><path d="M1010.7 1142.5 1012.8 1142.7 1014.9 1142.9 1017.1 1143.0 1019.2 1143.2 1021.3 1143.4 1023.4 1143.5 1025.6 1143.7 1027.7 1143.8 1029.8 1144.0 1031.9 1144.1 1034.0 1144.2 1036.2 1144.4 1038.3 1144.5 1040.4 1144.7 1042.5 1144.8 1044.7 1145.0 1046.8 1145.1 1048.9 1145.3 1051.0 1145.5 1053.2 1145.6 1055.3 1145.8 1057.4 1146.0 1059.5 1146.2 1061.7 1146.4 1063.8 1146.7 1065.9 1146.9 1068.0 1147.2 1070.2 1147.4 1072.3 1147.7 1074.4 1148.0 1076.5 1148.4 1078.6 1148.7 1080.8 1149.1 1082.9 1149.6 1085.0 1150.3 1087.1 1151.0 1089.3 1151.9 1091.4 1152.8 1093.5 1153.8 1095.6 1154.9 1097.8 1155.9 1099.9 1157.0 1102.0 1158.1 1104.1 1159.3 1106.3 1160.6 1108.4 1161.9 1110.5 1163.4 1112.6 1164.9 1114.8 1166.4 1116.9 1168.0 1119.0 1169.7 1121.1 1171.4 1123.2 1173.1 1125.4 1174.9 1127.5 1176.7 1129.6 1178.5 1131.7 1180.3 1133.9 1182.1 1136.0 1184.0 1138.1 1185.9 1140.2 1187.9 1142.4 1189.9 1144.5 1192.0 1146.6 1194.2 1148.7 1196.5 1150.9 1198.8 1153.0 1201.3 1155.1 1203.8 1157.2 1206.5 1159.4 1209.5 1161.5 1212.6 1163.6 1215.9 1165.7 1219.3 1167.8 1222.8 1170.0 1226.3 1172.1 1229.9 1174.2 1233.5 1176.3 1237.0 1178.5 1240.5 1180.6 1243.9" stroke="#0000e6" stroke-width="1.4" fill="none" stroke-linejoin="round"/><path d="M1010.7 1142.5 1012.8 1142.7 1014.9 1142.9 1017.1 1143.0 1019.2 1143.2 1021.3 1143.4 1023.4 1143.6 1025.6 1143.7 1027.7 1143.9 1029.8 1144.1 1031.9 1144.2 1034.0 1144.4 1036.2 1144.6 1038.3 1144.7 1040.4 1144.9 1042.5 1145.1 1044.7 1145.3 1046.8 1145.4 1048.9 1145.6 1051.0 1145.8 1053.2 1146.0 1055.3 1146.2 1057.4 1146.4 1059.5 1146.6 1061.7 1146.8 1063.8 1147.0 1065.9 1147.2 1068.0 1147.4 1070.2 1147.7 1072.3 1147.9 1074.4 1148.2 1076.5 1148.5 1078.6 1148.7 1080.8 1149.0 1082.9 1149.3 1085.0 1149.6 1087.1 1150.0 1089.3 1150.3 1091.4 1150.8 1093.5 1151.2 1095.6 1151.7 1097.8 1152.3 1099.9 1152.9 1102.0 1153.6 1104.1 1154.6 1106.3 1155.8 1108.4 1157.1 1110.5 1158.7 1112.6 1160.5 1114.8 1162.4 1116.9 1164.5 1119.0 1166.7 1121.1 1169.0 1123.2 1171.5 1125.4 1174.1 1127.5 1176.7 1129.6 1179.5 1131.7 1182.3 1133.9 1185.4 1136.0 1189.0 1138.1 1193.2 1140.2 1197.8 1142.4 1202.7 1144.5 1207.8 1146.6 1213.0 1148.7 1218.3 1150.9 1223.5 1153.0 1228.6 1155.1 1233.5 1157.2 1238.2 1159.4 1242.9 1161.5 1247.6 1163.6 1252.4 1165.7 1257.1 1167.8 1261.9 1170.0 1266.6 1172.1 1271.4 1174.2 1276.2 1176.3 1280.9 1178.5 1285.7 1180.6 1290.4" stroke="#0000e6" stroke-width="1.4" fill="none" stroke-linejoin="round"/><g fill="#0000ff" stroke="#0000a8" stroke-width="0.9"><circle cx="1010.68" cy="1121.98" r="4.2"/><circle cx="1010.68" cy="1126.63" r="4.2"/><circle cx="1010.68" cy="1132.12" r="4.2"/><circle cx="1010.68" cy="1136.77" r="4.2"/><circle cx="1010.68" cy="1142.27" r="4.2"/><circle cx="1010.68" cy="1146.71" r="4.2"/><circle cx="1010.68" cy="1156.85" r="4.2"/><circle cx="1031.62" cy="1106.76" r="4.2"/><circle cx="1031.62" cy="1117.54" r="4.2"/><circle cx="1031.62" cy="1121.98" r="4.2"/><circle cx="1031.62" cy="1134.03" r="4.2"/><circle cx="1031.62" cy="1152.2" r="4.2"/><circle cx="1031.62" cy="1159.6" r="4.2"/><circle cx="1031.62" cy="1165.94" r="4.2"/><circle cx="1047.82" cy="1126.63" r="4.2"/><circle cx="1047.82" cy="1132.12" r="4.2"/><circle cx="1047.82" cy="1143.11" r="4.2"/><circle cx="1047.82" cy="1148.61" r="4.2"/><circle cx="1047.82" cy="1154.1" r="4.2"/><circle cx="1047.82" cy="1159.6" r="4.2"/><circle cx="1079.31" cy="1132.12" r="4.2"/><circle cx="1079.31" cy="1143.11" r="4.2"/><circle cx="1079.31" cy="1148.61" r="4.2"/><circle cx="1079.31" cy="1154.1" r="4.2"/><circle cx="1079.31" cy="1159.6" r="4.2"/><circle cx="1079.31" cy="1165.09" r="4.2"/><circle cx="1079.31" cy="1168.69" r="4.2"/><circle cx="1100.41" cy="1137.2" r="4.2"/><circle cx="1100.41" cy="1154.1" r="4.2"/><circle cx="1100.41" cy="1161.5" r="4.2"/><circle cx="1100.41" cy="1168.69" r="4.2"/><circle cx="1100.41" cy="1174.18" r="4.2"/><circle cx="1100.41" cy="1177.98" r="4.2"/><circle cx="1100.41" cy="1183.48" r="4.2"/><circle cx="1132.01" cy="1166.99" r="4.2"/><circle cx="1132.01" cy="1172.49" r="4.2"/><circle cx="1132.01" cy="1177.98" r="4.2"/><circle cx="1132.01" cy="1183.48" r="4.2"/><circle cx="1155.06" cy="1164.25" r="4.2"/><circle cx="1155.06" cy="1174.18" r="4.2"/><circle cx="1155.06" cy="1181.58" r="4.2"/><circle cx="1155.06" cy="1187.07" r="4.2"/><circle cx="1155.06" cy="1192.57" r="4.2"/><circle cx="1155.06" cy="1201.86" r="4.2"/><circle cx="1155.06" cy="1232.93" r="4.2"/><circle cx="1180.59" cy="1163.19" r="4.2"/><circle cx="1180.59" cy="1168.69" r="4.2"/><circle cx="1180.59" cy="1174.18" r="4.2"/><circle cx="1180.59" cy="1179.67" r="4.2"/><circle cx="1180.59" cy="1206.3" r="4.2"/><circle cx="1180.59" cy="1243.92" r="4.2"/><circle cx="1180.59" cy="1290.62" r="4.2"/></g></g>
<g><path d="M1405.6 1031.1V1364.3M1404 1351H1618.2M1392.3 1351H1405.6M1392.3 1244.9H1405.6M1392.3 1138.8H1405.6M1392.3 1032.7H1405.6M1458.35 1351V1364.3M1511.1 1351V1364.3M1563.85 1351V1364.3M1616.6 1351V1364.3" stroke="#000" stroke-width="3.2" fill="none"/><text x="1387.1" y="1359.9" font-size="25" text-anchor="end">0</text><text x="1387.1" y="1253.8" font-size="25" text-anchor="end">50</text><text x="1387.1" y="1147.7" font-size="25" text-anchor="end">100</text><text x="1387.1" y="1041.6" font-size="25" text-anchor="end">150</text><text x="1405.6" y="1391.6" font-size="25" text-anchor="middle">-5</text><text x="1458.35" y="1391.6" font-size="25" text-anchor="middle">-4</text><text x="1511.1" y="1391.6" font-size="25" text-anchor="middle">-3</text><text x="1563.85" y="1391.6" font-size="25" text-anchor="middle">-2</text><text x="1616.6" y="1391.6" font-size="25" text-anchor="middle">-1</text><text x="1511.1" y="1429.2" font-size="25.5" text-anchor="middle">Log<tspan font-size="20" dy="8.8">10</tspan><tspan dy="-8.8"> (1/serum dilution)</tspan></text><text transform="translate(1331.9 1191.85) rotate(-90)" font-size="30" text-anchor="middle">% Relative Infection</text><path d="M1421.6 1138.8 1423.7 1138.8 1425.8 1138.8 1428.0 1138.8 1430.1 1138.8 1432.2 1138.8 1434.3 1138.8 1436.5 1138.8 1438.6 1138.8 1440.7 1138.8 1442.8 1138.8 1444.9 1138.8 1447.1 1138.8 1449.2 1138.8 1451.3 1138.8 1453.4 1138.8 1455.6 1138.8 1457.7 1138.8 1459.8 1138.8 1461.9 1138.8 1464.1 1138.8 1466.2 1138.8 1468.3 1138.8 1470.4 1138.8 1472.6 1138.8 1474.7 1138.8 1476.8 1138.8 1478.9 1138.8 1481.1 1138.8 1483.2 1138.8 1485.3 1138.8 1487.4 1138.8 1489.5 1138.8 1491.7 1138.8 1493.8 1138.8 1495.9 1138.8 1498.0 1138.8 1500.2 1138.8 1502.3 1138.8 1504.4 1138.8 1506.5 1138.8 1508.7 1138.8 1510.8 1138.8 1512.9 1138.8 1515.0 1138.8 1517.2 1138.8 1519.3 1138.8 1521.4 1138.8 1523.5 1138.8 1525.7 1138.8 1527.8 1138.8 1529.9 1138.8 1532.0 1138.8 1534.1 1138.8 1536.3 1138.8 1538.4 1138.8 1540.5 1138.8 1542.6 1138.8 1544.8 1138.8 1546.9 1138.8 1549.0 1138.8 1551.1 1138.8 1553.3 1138.8 1555.4 1138.8 1557.5 1138.8 1559.6 1138.8 1561.8 1138.8 1563.9 1138.8 1566.0 1138.8 1568.1 1138.8 1570.3 1138.8 1572.4 1138.8 1574.5 1138.8 1576.6 1138.8 1578.7 1138.8 1580.9 1138.8 1583.0 1138.8 1585.1 1138.8 1587.2 1138.8 1589.4 1138.8 1591.5 1138.8" stroke="#f07a00" stroke-width="1.4" fill="none" stroke-linejoin="round"/><path d="M1421.6 1139.9 1423.7 1139.9 1425.8 1139.9 1428.0 1139.9 1430.1 1140.0 1432.2 1140.0 1434.3 1140.0 1436.5 1140.0 1438.6 1140.0 1440.7 1140.0 1442.8 1140.1 1444.9 1140.1 1447.1 1140.1 1449.2 1140.1 1451.3 1140.1 1453.4 1140.1 1455.6 1140.2 1457.7 1140.2 1459.8 1140.2 1461.9 1140.2 1464.1 1140.2 1466.2 1140.2 1468.3 1140.3 1470.4 1140.3 1472.6 1140.3 1474.7 1140.3 1476.8 1140.3 1478.9 1140.4 1481.1 1140.4 1483.2 1140.4 1485.3 1140.4 1487.4 1140.5 1489.5 1140.5 1491.7 1140.5 1493.8 1140.6 1495.9 1140.6 1498.0 1140.6 1500.2 1140.7 1502.3 1140.7 1504.4 1140.8 1506.5 1140.8 1508.7 1140.9 1510.8 1140.9 1512.9 1141.0 1515.0 1141.1 1517.2 1141.2 1519.3 1141.3 1521.4 1141.5 1523.5 1141.8 1525.7 1142.0 1527.8 1142.3 1529.9 1142.6 1532.0 1142.9 1534.1 1143.3 1536.3 1143.7 1538.4 1144.1 1540.5 1144.6 1542.6 1145.1 1544.8 1145.8 1546.9 1146.8 1549.0 1148.2 1551.1 1149.8 1553.3 1151.6 1555.4 1153.6 1557.5 1155.7 1559.6 1157.9 1561.8 1160.1 1563.9 1162.3 1566.0 1164.3 1568.1 1166.3 1570.3 1168.5 1572.4 1170.7 1574.5 1172.9 1576.6 1175.3 1578.7 1177.6 1580.9 1180.0 1583.0 1182.4 1585.1 1184.8 1587.2 1187.2 1589.4 1189.5 1591.5 1191.8" stroke="#f07a00" stroke-width="1.4" fill="none" stroke-linejoin="round"/><path d="M1421.6 1159.0 1423.7 1159.0 1425.8 1159.1 1428.0 1159.2 1430.1 1159.2 1432.2 1159.3 1434.3 1159.4 1436.5 1159.4 1438.6 1159.5 1440.7 1159.6 1442.8 1159.6 1444.9 1159.7 1447.1 1159.8 1449.2 1159.8 1451.3 1159.9 1453.4 1160.0 1455.6 1160.0 1457.7 1160.1 1459.8 1160.2 1461.9 1160.2 1464.1 1160.3 1466.2 1160.4 1468.3 1160.4 1470.4 1160.5 1472.6 1160.6 1474.7 1160.6 1476.8 1160.7 1478.9 1160.7 1481.1 1160.8 1483.2 1160.9 1485.3 1160.9 1487.4 1161.0 1489.5 1161.1 1491.7 1161.1 1493.8 1161.2 1495.9 1161.3 1498.0 1161.3 1500.2 1161.4 1502.3 1161.5 1504.4 1161.5 1506.5 1161.6 1508.7 1161.7 1510.8 1161.7 1512.9 1161.8 1515.0 1161.9 1517.2 1161.9 1519.3 1162.0 1521.4 1162.1 1523.5 1162.1 1525.7 1162.2 1527.8 1162.3 1529.9 1162.3 1532.0 1162.4 1534.1 1162.5 1536.3 1162.5 1538.4 1162.6 1540.5 1162.7 1542.6 1162.7 1544.8 1162.8 1546.9 1162.9 1549.0 1162.9 1551.1 1163.0 1553.3 1163.1 1555.4 1163.1 1557.5 1163.2 1559.6 1163.3 1561.8 1163.3 1563.9 1163.4 1566.0 1163.5 1568.1 1163.5 1570.3 1163.6 1572.4 1163.7 1574.5 1163.7 1576.6 1163.8 1578.7 1163.9 1580.9 1163.9 1583.0 1164.0 1585.1 1164.1 1587.2 1164.1 1589.4 1164.2 1591.5 1164.3" stroke="#f07a00" stroke-width="1.4" fill="none" stroke-linejoin="round"/><path d="M1421.6 1143.0 1423.7 1143.1 1425.8 1143.2 1428.0 1143.3 1430.1 1143.4 1432.2 1143.5 1434.3 1143.6 1436.5 1143.7 1438.6 1143.7 1440.7 1143.8 1442.8 1143.9 1444.9 1144.0 1447.1 1144.0 1449.2 1144.1 1451.3 1144.2 1453.4 1144.2 1455.6 1144.3 1457.7 1144.4 1459.8 1144.4 1461.9 1144.5 1464.1 1144.6 1466.2 1144.7 1468.3 1144.7 1470.4 1144.8 1472.6 1144.9 1474.7 1145.0 1476.8 1145.1 1478.9 1145.2 1481.1 1145.3 1483.2 1145.4 1485.3 1145.5 1487.4 1145.6 1489.5 1145.7 1491.7 1145.8 1493.8 1146.0 1495.9 1146.1 1498.0 1146.2 1500.2 1146.4 1502.3 1146.5 1504.4 1146.7 1506.5 1146.9 1508.7 1147.1 1510.8 1147.2 1512.9 1147.5 1515.0 1147.7 1517.2 1148.1 1519.3 1148.5 1521.4 1148.9 1523.5 1149.4 1525.7 1150.0 1527.8 1150.6 1529.9 1151.2 1532.0 1151.9 1534.1 1152.6 1536.3 1153.3 1538.4 1154.1 1540.5 1154.9 1542.6 1155.7 1544.8 1156.6 1546.9 1157.7 1549.0 1159.0 1551.1 1160.5 1553.3 1162.0 1555.4 1163.6 1557.5 1165.1 1559.6 1166.7 1561.8 1168.1 1563.9 1169.5 1566.0 1170.7 1568.1 1171.7 1570.3 1172.7 1572.4 1173.6 1574.5 1174.5 1576.6 1175.4 1578.7 1176.2 1580.9 1177.1 1583.0 1177.9 1585.1 1178.7 1587.2 1179.5 1589.4 1180.4 1591.5 1181.2" stroke="#f07a00" stroke-width="1.4" fill="none" stroke-linejoin="round"/><path d="M1421.6 1145.2 1423.7 1145.5 1425.8 1145.8 1428.0 1146.1 1430.1 1146.4 1432.2 1146.7 1434.3 1147.0 1436.5 1147.3 1438.6 1147.6 1440.7 1147.9 1442.8 1148.2 1444.9 1148.5 1447.1 1148.8 1449.2 1149.1 1451.3 1149.3 1453.4 1149.6 1455.6 1149.9 1457.7 1150.2 1459.8 1150.5 1461.9 1150.8 1464.1 1151.2 1466.2 1151.5 1468.3 1151.8 1470.4 1152.1 1472.6 1152.5 1474.7 1152.8 1476.8 1153.2 1478.9 1153.6 1481.1 1154.0 1483.2 1154.4 1485.3 1154.8 1487.4 1155.2 1489.5 1155.6 1491.7 1156.1 1493.8 1156.6 1495.9 1157.1 1498.0 1157.7 1500.2 1158.2 1502.3 1158.8 1504.4 1159.4 1506.5 1160.1 1508.7 1160.8 1510.8 1161.4 1512.9 1162.1 1515.0 1162.9 1517.2 1163.6 1519.3 1164.3 1521.4 1165.1 1523.5 1165.8 1525.7 1166.6 1527.8 1167.3 1529.9 1168.1 1532.0 1168.9 1534.1 1169.6 1536.3 1170.4 1538.4 1171.2 1540.5 1171.9 1542.6 1172.7 1544.8 1173.4 1546.9 1174.2 1549.0 1175.0 1551.1 1175.7 1553.3 1176.5 1555.4 1177.3 1557.5 1178.1 1559.6 1178.9 1561.8 1179.7 1563.9 1180.5 1566.0 1181.3 1568.1 1182.0 1570.3 1182.7 1572.4 1183.4 1574.5 1184.1 1576.6 1184.8 1578.7 1185.5 1580.9 1186.2 1583.0 1186.9 1585.1 1187.6 1587.2 1188.3 1589.4 1189.0 1591.5 1189.7" stroke="#f07a00" stroke-width="1.4" fill="none" stroke-linejoin="round"/><path d="M1421.6 1149.4 1423.7 1149.7 1425.8 1149.9 1428.0 1150.2 1430.1 1150.4 1432.2 1150.6 1434.3 1150.9 1436.5 1151.1 1438.6 1151.3 1440.7 1151.5 1442.8 1151.8 1444.9 1152.0 1447.1 1152.2 1449.2 1152.4 1451.3 1152.7 1453.4 1152.9 1455.6 1153.1 1457.7 1153.3 1459.8 1153.6 1461.9 1153.8 1464.1 1154.1 1466.2 1154.3 1468.3 1154.6 1470.4 1154.9 1472.6 1155.1 1474.7 1155.4 1476.8 1155.7 1478.9 1156.0 1481.1 1156.4 1483.2 1156.7 1485.3 1157.0 1487.4 1157.4 1489.5 1157.8 1491.7 1158.2 1493.8 1158.6 1495.9 1159.1 1498.0 1159.6 1500.2 1160.2 1502.3 1160.7 1504.4 1161.3 1506.5 1162.0 1508.7 1162.6 1510.8 1163.3 1512.9 1164.0 1515.0 1164.8 1517.2 1165.5 1519.3 1166.3 1521.4 1167.0 1523.5 1167.8 1525.7 1168.6 1527.8 1169.4 1529.9 1170.2 1532.0 1171.0 1534.1 1171.7 1536.3 1172.5 1538.4 1173.3 1540.5 1174.0 1542.6 1174.8 1544.8 1175.5 1546.9 1176.3 1549.0 1177.1 1551.1 1177.9 1553.3 1178.7 1555.4 1179.5 1557.5 1180.3 1559.6 1181.1 1561.8 1181.9 1563.9 1182.6 1566.0 1183.4 1568.1 1184.1 1570.3 1184.8 1572.4 1185.6 1574.5 1186.3 1576.6 1187.0 1578.7 1187.7 1580.9 1188.4 1583.0 1189.1 1585.1 1189.8 1587.2 1190.4 1589.4 1191.1 1591.5 1191.8" stroke="#f07a00" stroke-width="1.4" fill="none" stroke-linejoin="round"/><path d="M1421.6 1151.5 1423.7 1151.8 1425.8 1152.0 1428.0 1152.3 1430.1 1152.5 1432.2 1152.8 1434.3 1153.0 1436.5 1153.2 1438.6 1153.5 1440.7 1153.7 1442.8 1153.9 1444.9 1154.2 1447.1 1154.4 1449.2 1154.6 1451.3 1154.8 1453.4 1155.1 1455.6 1155.3 1457.7 1155.5 1459.8 1155.8 1461.9 1156.0 1464.1 1156.3 1466.2 1156.5 1468.3 1156.8 1470.4 1157.1 1472.6 1157.3 1474.7 1157.6 1476.8 1157.9 1478.9 1158.2 1481.1 1158.5 1483.2 1158.9 1485.3 1159.2 1487.4 1159.5 1489.5 1159.9 1491.7 1160.3 1493.8 1160.7 1495.9 1161.1 1498.0 1161.5 1500.2 1162.0 1502.3 1162.5 1504.4 1163.0 1506.5 1163.5 1508.7 1164.1 1510.8 1164.6 1512.9 1165.2 1515.0 1165.8 1517.2 1166.4 1519.3 1167.0 1521.4 1167.7 1523.5 1168.3 1525.7 1169.0 1527.8 1169.7 1529.9 1170.4 1532.0 1171.1 1534.1 1171.8 1536.3 1172.5 1538.4 1173.3 1540.5 1174.0 1542.6 1174.8 1544.8 1175.6 1546.9 1176.4 1549.0 1177.3 1551.1 1178.3 1553.3 1179.3 1555.4 1180.3 1557.5 1181.3 1559.6 1182.4 1561.8 1183.4 1563.9 1184.5 1566.0 1185.5 1568.1 1186.5 1570.3 1187.6 1572.4 1188.6 1574.5 1189.7 1576.6 1190.7 1578.7 1191.8 1580.9 1192.9 1583.0 1193.9 1585.1 1195.0 1587.2 1196.1 1589.4 1197.2 1591.5 1198.2" stroke="#f07a00" stroke-width="1.4" fill="none" stroke-linejoin="round"/><path d="M1421.6 1153.7 1423.7 1153.9 1425.8 1154.2 1428.0 1154.4 1430.1 1154.7 1432.2 1154.9 1434.3 1155.1 1436.5 1155.4 1438.6 1155.6 1440.7 1155.8 1442.8 1156.0 1444.9 1156.3 1447.1 1156.5 1449.2 1156.7 1451.3 1157.0 1453.4 1157.2 1455.6 1157.4 1457.7 1157.7 1459.8 1157.9 1461.9 1158.1 1464.1 1158.4 1466.2 1158.7 1468.3 1158.9 1470.4 1159.2 1472.6 1159.5 1474.7 1159.7 1476.8 1160.0 1478.9 1160.3 1481.1 1160.7 1483.2 1161.0 1485.3 1161.3 1487.4 1161.7 1489.5 1162.0 1491.7 1162.4 1493.8 1162.8 1495.9 1163.2 1498.0 1163.7 1500.2 1164.1 1502.3 1164.6 1504.4 1165.1 1506.5 1165.6 1508.7 1166.2 1510.8 1166.7 1512.9 1167.3 1515.0 1167.9 1517.2 1168.5 1519.3 1169.1 1521.4 1169.8 1523.5 1170.4 1525.7 1171.1 1527.8 1171.8 1529.9 1172.5 1532.0 1173.2 1534.1 1173.9 1536.3 1174.6 1538.4 1175.4 1540.5 1176.1 1542.6 1176.9 1544.8 1177.7 1546.9 1178.5 1549.0 1179.4 1551.1 1180.2 1553.3 1181.2 1555.4 1182.1 1557.5 1183.2 1559.6 1184.2 1561.8 1185.3 1563.9 1186.4 1566.0 1187.6 1568.1 1188.9 1570.3 1190.3 1572.4 1191.8 1574.5 1193.3 1576.6 1194.9 1578.7 1196.6 1580.9 1198.3 1583.0 1200.0 1585.1 1201.7 1587.2 1203.4 1589.4 1205.1 1591.5 1206.7" stroke="#f07a00" stroke-width="1.4" fill="none" stroke-linejoin="round"/><path d="M1421.6 1143.0 1423.7 1143.2 1425.8 1143.4 1428.0 1143.6 1430.1 1143.8 1432.2 1144.0 1434.3 1144.2 1436.5 1144.3 1438.6 1144.5 1440.7 1144.7 1442.8 1144.8 1444.9 1145.0 1447.1 1145.2 1449.2 1145.4 1451.3 1145.5 1453.4 1145.7 1455.6 1145.9 1457.7 1146.1 1459.8 1146.2 1461.9 1146.4 1464.1 1146.6 1466.2 1146.8 1468.3 1147.0 1470.4 1147.2 1472.6 1147.4 1474.7 1147.6 1476.8 1147.9 1478.9 1148.1 1481.1 1148.3 1483.2 1148.6 1485.3 1148.8 1487.4 1149.1 1489.5 1149.3 1491.7 1149.6 1493.8 1149.9 1495.9 1150.1 1498.0 1150.4 1500.2 1150.7 1502.3 1151.0 1504.4 1151.3 1506.5 1151.6 1508.7 1151.9 1510.8 1152.2 1512.9 1152.6 1515.0 1152.9 1517.2 1153.3 1519.3 1153.7 1521.4 1154.1 1523.5 1154.6 1525.7 1155.0 1527.8 1155.5 1529.9 1156.1 1532.0 1156.6 1534.1 1157.2 1536.3 1157.8 1538.4 1158.5 1540.5 1159.2 1542.6 1159.9 1544.8 1160.8 1546.9 1162.1 1549.0 1163.7 1551.1 1165.5 1553.3 1167.5 1555.4 1169.7 1557.5 1172.0 1559.6 1174.4 1561.8 1176.7 1563.9 1179.0 1566.0 1181.3 1568.1 1183.5 1570.3 1185.8 1572.4 1188.2 1574.5 1190.7 1576.6 1193.2 1578.7 1195.7 1580.9 1198.2 1583.0 1200.8 1585.1 1203.4 1587.2 1205.9 1589.4 1208.5 1591.5 1210.9" stroke="#f07a00" stroke-width="1.4" fill="none" stroke-linejoin="round"/><g fill="#ff8000" stroke="#c86a08" stroke-width="0.9"><circle cx="1421.58" cy="1119.49" r="4.2"/><circle cx="1421.58" cy="1124.16" r="4.2"/><circle cx="1421.58" cy="1129.68" r="4.2"/><circle cx="1421.58" cy="1135.19" r="4.2"/><circle cx="1421.58" cy="1140.71" r="4.2"/><circle cx="1421.58" cy="1146.01" r="4.2"/><circle cx="1442.52" cy="1119.49" r="4.2"/><circle cx="1442.52" cy="1131.59" r="4.2"/><circle cx="1442.52" cy="1135.19" r="4.2"/><circle cx="1442.52" cy="1151.53" r="4.2"/><circle cx="1442.52" cy="1157.05" r="4.2"/><circle cx="1442.52" cy="1168.08" r="4.2"/><circle cx="1442.52" cy="1180.82" r="4.2"/><circle cx="1442.52" cy="1188.24" r="4.2"/><circle cx="1458.72" cy="1114.18" r="4.2"/><circle cx="1458.72" cy="1126.07" r="4.2"/><circle cx="1458.72" cy="1140.71" r="4.2"/><circle cx="1458.72" cy="1146.01" r="4.2"/><circle cx="1458.72" cy="1151.53" r="4.2"/><circle cx="1458.72" cy="1162.57" r="4.2"/><circle cx="1458.72" cy="1179.12" r="4.2"/><circle cx="1490.21" cy="1126.07" r="4.2"/><circle cx="1490.21" cy="1138.8" r="4.2"/><circle cx="1490.21" cy="1144.32" r="4.2"/><circle cx="1490.21" cy="1149.83" r="4.2"/><circle cx="1490.21" cy="1155.35" r="4.2"/><circle cx="1490.21" cy="1160.66" r="4.2"/><circle cx="1490.21" cy="1166.17" r="4.2"/><circle cx="1490.21" cy="1169.99" r="4.2"/><circle cx="1511.31" cy="1129.68" r="4.2"/><circle cx="1511.31" cy="1136.89" r="4.2"/><circle cx="1511.31" cy="1141.56" r="4.2"/><circle cx="1511.31" cy="1169.99" r="4.2"/><circle cx="1511.31" cy="1175.3" r="4.2"/><circle cx="1511.31" cy="1187.18" r="4.2"/><circle cx="1542.91" cy="1137.95" r="4.2"/><circle cx="1542.91" cy="1155.35" r="4.2"/><circle cx="1542.91" cy="1162.57" r="4.2"/><circle cx="1542.91" cy="1168.08" r="4.2"/><circle cx="1542.91" cy="1173.6" r="4.2"/><circle cx="1542.91" cy="1179.12" r="4.2"/><circle cx="1542.91" cy="1182.73" r="4.2"/><circle cx="1565.96" cy="1158.96" r="4.2"/><circle cx="1565.96" cy="1164.48" r="4.2"/><circle cx="1565.96" cy="1169.99" r="4.2"/><circle cx="1565.96" cy="1175.3" r="4.2"/><circle cx="1565.96" cy="1180.82" r="4.2"/><circle cx="1565.96" cy="1186.33" r="4.2"/><circle cx="1591.49" cy="1137.95" r="4.2"/><circle cx="1591.49" cy="1154.29" r="4.2"/><circle cx="1591.49" cy="1176.36" r="4.2"/><circle cx="1591.49" cy="1179.12" r="4.2"/><circle cx="1591.49" cy="1198.22" r="4.2"/><circle cx="1591.49" cy="1210.1" r="4.2"/><circle cx="1591.49" cy="1223.04" r="4.2"/></g></g>
<g><path d="M1816.5 1015.7V1347.8M1814.9 1334.5H2029.1M1803.2 1334.5H1816.5M1803.2 1228.77H1816.5M1803.2 1123.03H1816.5M1803.2 1017.3H1816.5M1869.25 1334.5V1347.8M1922 1334.5V1347.8M1974.75 1334.5V1347.8M2027.5 1334.5V1347.8" stroke="#000" stroke-width="3.2" fill="none"/><text x="1798" y="1343.4" font-size="25" text-anchor="end">0</text><text x="1798" y="1237.67" font-size="25" text-anchor="end">50</text><text x="1798" y="1131.93" font-size="25" text-anchor="end">100</text><text x="1798" y="1026.2" font-size="25" text-anchor="end">150</text><text x="1816.5" y="1375.1" font-size="25" text-anchor="middle">-5</text><text x="1869.25" y="1375.1" font-size="25" text-anchor="middle">-4</text><text x="1922" y="1375.1" font-size="25" text-anchor="middle">-3</text><text x="1974.75" y="1375.1" font-size="25" text-anchor="middle">-2</text><text x="2027.5" y="1375.1" font-size="25" text-anchor="middle">-1</text><text x="1922" y="1412.7" font-size="25.5" text-anchor="middle">Log<tspan font-size="20" dy="8.8">10</tspan><tspan dy="-8.8"> (1/serum dilution)</tspan></text><text transform="translate(1742.8 1175.9) rotate(-90)" font-size="30" text-anchor="middle">% Relative Infection</text><path d="M1832.5 1123.0 1834.6 1123.1 1836.7 1123.1 1838.9 1123.1 1841.0 1123.2 1843.1 1123.2 1845.2 1123.2 1847.4 1123.3 1849.5 1123.3 1851.6 1123.3 1853.7 1123.3 1855.8 1123.3 1858.0 1123.4 1860.1 1123.4 1862.2 1123.4 1864.3 1123.4 1866.5 1123.5 1868.6 1123.5 1870.7 1123.5 1872.8 1123.5 1875.0 1123.5 1877.1 1123.5 1879.2 1123.6 1881.3 1123.6 1883.5 1123.6 1885.6 1123.6 1887.7 1123.6 1889.8 1123.7 1892.0 1123.7 1894.1 1123.7 1896.2 1123.7 1898.3 1123.8 1900.4 1123.8 1902.6 1123.8 1904.7 1123.8 1906.8 1123.9 1908.9 1123.9 1911.1 1123.9 1913.2 1124.0 1915.3 1124.0 1917.4 1124.1 1919.6 1124.1 1921.7 1124.1 1923.8 1124.2 1925.9 1124.2 1928.1 1124.3 1930.2 1124.3 1932.3 1124.4 1934.4 1124.5 1936.6 1124.5 1938.7 1124.6 1940.8 1124.7 1942.9 1124.7 1945.0 1124.8 1947.2 1124.9 1949.3 1125.0 1951.4 1125.0 1953.5 1125.1 1955.7 1125.3 1957.8 1125.9 1959.9 1126.6 1962.0 1127.6 1964.2 1128.8 1966.3 1130.1 1968.4 1131.6 1970.5 1133.1 1972.7 1134.7 1974.8 1136.3 1976.9 1137.9 1979.0 1139.5 1981.2 1141.4 1983.3 1143.5 1985.4 1145.7 1987.5 1148.0 1989.6 1150.5 1991.8 1153.0 1993.9 1155.5 1996.0 1158.0 1998.1 1160.5 2000.3 1163.0 2002.4 1165.3" stroke="#7800f0" stroke-width="1.4" fill="none" stroke-linejoin="round"/><path d="M1832.5 1123.0 1834.6 1123.1 1836.7 1123.1 1838.9 1123.1 1841.0 1123.1 1843.1 1123.1 1845.2 1123.2 1847.4 1123.2 1849.5 1123.2 1851.6 1123.2 1853.7 1123.2 1855.8 1123.2 1858.0 1123.3 1860.1 1123.3 1862.2 1123.3 1864.3 1123.3 1866.5 1123.3 1868.6 1123.3 1870.7 1123.4 1872.8 1123.4 1875.0 1123.4 1877.1 1123.4 1879.2 1123.4 1881.3 1123.4 1883.5 1123.5 1885.6 1123.5 1887.7 1123.5 1889.8 1123.5 1892.0 1123.6 1894.1 1123.6 1896.2 1123.6 1898.3 1123.6 1900.4 1123.7 1902.6 1123.7 1904.7 1123.7 1906.8 1123.8 1908.9 1123.8 1911.1 1123.8 1913.2 1123.9 1915.3 1123.9 1917.4 1124.0 1919.6 1124.0 1921.7 1124.1 1923.8 1124.1 1925.9 1124.3 1928.1 1124.4 1930.2 1124.6 1932.3 1124.9 1934.4 1125.2 1936.6 1125.5 1938.7 1125.9 1940.8 1126.3 1942.9 1126.7 1945.0 1127.2 1947.2 1127.7 1949.3 1128.2 1951.4 1128.7 1953.5 1129.3 1955.7 1130.0 1957.8 1130.9 1959.9 1131.9 1962.0 1133.2 1964.2 1134.5 1966.3 1136.0 1968.4 1137.6 1970.5 1139.2 1972.7 1140.9 1974.8 1142.5 1976.9 1144.2 1979.0 1145.9 1981.2 1147.8 1983.3 1149.8 1985.4 1151.8 1987.5 1154.0 1989.6 1156.2 1991.8 1158.4 1993.9 1160.7 1996.0 1163.0 1998.1 1165.2 2000.3 1167.4 2002.4 1169.6" stroke="#7800f0" stroke-width="1.4" fill="none" stroke-linejoin="round"/><path d="M1832.5 1123.0 1834.6 1123.1 1836.7 1123.1 1838.9 1123.2 1841.0 1123.2 1843.1 1123.3 1845.2 1123.3 1847.4 1123.3 1849.5 1123.4 1851.6 1123.4 1853.7 1123.4 1855.8 1123.5 1858.0 1123.5 1860.1 1123.5 1862.2 1123.6 1864.3 1123.6 1866.5 1123.6 1868.6 1123.7 1870.7 1123.7 1872.8 1123.7 1875.0 1123.8 1877.1 1123.8 1879.2 1123.8 1881.3 1123.9 1883.5 1123.9 1885.6 1123.9 1887.7 1124.0 1889.8 1124.0 1892.0 1124.1 1894.1 1124.1 1896.2 1124.2 1898.3 1124.2 1900.4 1124.3 1902.6 1124.4 1904.7 1124.4 1906.8 1124.5 1908.9 1124.6 1911.1 1124.7 1913.2 1124.7 1915.3 1124.8 1917.4 1124.9 1919.6 1125.0 1921.7 1125.1 1923.8 1125.3 1925.9 1125.5 1928.1 1125.8 1930.2 1126.1 1932.3 1126.6 1934.4 1127.1 1936.6 1127.6 1938.7 1128.2 1940.8 1128.9 1942.9 1129.6 1945.0 1130.3 1947.2 1131.1 1949.3 1131.9 1951.4 1132.7 1953.5 1133.5 1955.7 1134.4 1957.8 1135.3 1959.9 1136.3 1962.0 1137.4 1964.2 1138.6 1966.3 1139.9 1968.4 1141.4 1970.5 1142.9 1972.7 1144.6 1974.8 1146.5 1976.9 1148.5 1979.0 1150.9 1981.2 1154.0 1983.3 1157.7 1985.4 1161.9 1987.5 1166.5 1989.6 1171.4 1991.8 1176.5 1993.9 1181.6 1996.0 1186.8 1998.1 1191.8 2000.3 1196.7 2002.4 1201.3" stroke="#7800f0" stroke-width="1.4" fill="none" stroke-linejoin="round"/><path d="M1832.5 1125.1 1834.6 1125.2 1836.7 1125.3 1838.9 1125.4 1841.0 1125.5 1843.1 1125.6 1845.2 1125.7 1847.4 1125.8 1849.5 1125.8 1851.6 1125.9 1853.7 1126.0 1855.8 1126.1 1858.0 1126.1 1860.1 1126.2 1862.2 1126.3 1864.3 1126.3 1866.5 1126.4 1868.6 1126.5 1870.7 1126.5 1872.8 1126.6 1875.0 1126.7 1877.1 1126.8 1879.2 1126.8 1881.3 1126.9 1883.5 1127.0 1885.6 1127.1 1887.7 1127.2 1889.8 1127.3 1892.0 1127.4 1894.1 1127.5 1896.2 1127.6 1898.3 1127.7 1900.4 1127.8 1902.6 1127.9 1904.7 1128.1 1906.8 1128.2 1908.9 1128.3 1911.1 1128.5 1913.2 1128.6 1915.3 1128.8 1917.4 1129.0 1919.6 1129.1 1921.7 1129.3 1923.8 1129.5 1925.9 1129.8 1928.1 1130.1 1930.2 1130.5 1932.3 1131.0 1934.4 1131.5 1936.6 1132.0 1938.7 1132.6 1940.8 1133.3 1942.9 1133.9 1945.0 1134.6 1947.2 1135.4 1949.3 1136.1 1951.4 1136.9 1953.5 1137.7 1955.7 1138.6 1957.8 1139.7 1959.9 1141.0 1962.0 1142.4 1964.2 1143.9 1966.3 1145.4 1968.4 1147.0 1970.5 1148.5 1972.7 1150.0 1974.8 1151.4 1976.9 1152.7 1979.0 1153.8 1981.2 1155.0 1983.3 1156.1 1985.4 1157.1 1987.5 1158.2 1989.6 1159.2 1991.8 1160.2 1993.9 1161.2 1996.0 1162.2 1998.1 1163.3 2000.3 1164.3 2002.4 1165.3" stroke="#7800f0" stroke-width="1.4" fill="none" stroke-linejoin="round"/><path d="M1832.5 1126.2 1834.6 1126.3 1836.7 1126.4 1838.9 1126.5 1841.0 1126.6 1843.1 1126.6 1845.2 1126.7 1847.4 1126.8 1849.5 1126.9 1851.6 1127.0 1853.7 1127.0 1855.8 1127.1 1858.0 1127.2 1860.1 1127.2 1862.2 1127.3 1864.3 1127.4 1866.5 1127.5 1868.6 1127.6 1870.7 1127.6 1872.8 1127.7 1875.0 1127.8 1877.1 1127.9 1879.2 1128.0 1881.3 1128.1 1883.5 1128.2 1885.6 1128.3 1887.7 1128.4 1889.8 1128.6 1892.0 1128.7 1894.1 1128.8 1896.2 1129.0 1898.3 1129.2 1900.4 1129.3 1902.6 1129.5 1904.7 1129.7 1906.8 1130.0 1908.9 1130.4 1911.1 1130.8 1913.2 1131.2 1915.3 1131.6 1917.4 1132.1 1919.6 1132.7 1921.7 1133.2 1923.8 1133.9 1925.9 1134.5 1928.1 1135.1 1930.2 1135.8 1932.3 1136.5 1934.4 1137.2 1936.6 1138.0 1938.7 1138.7 1940.8 1139.5 1942.9 1140.2 1945.0 1141.0 1947.2 1141.8 1949.3 1142.5 1951.4 1143.3 1953.5 1144.1 1955.7 1144.9 1957.8 1145.7 1959.9 1146.6 1962.0 1147.6 1964.2 1148.6 1966.3 1149.6 1968.4 1150.6 1970.5 1151.7 1972.7 1152.7 1974.8 1153.8 1976.9 1154.8 1979.0 1155.8 1981.2 1156.8 1983.3 1157.9 1985.4 1158.9 1987.5 1160.0 1989.6 1161.0 1991.8 1162.1 1993.9 1163.2 1996.0 1164.3 1998.1 1165.3 2000.3 1166.4 2002.4 1167.4" stroke="#7800f0" stroke-width="1.4" fill="none" stroke-linejoin="round"/><path d="M1832.5 1127.3 1834.6 1127.4 1836.7 1127.5 1838.9 1127.6 1841.0 1127.7 1843.1 1127.9 1845.2 1128.0 1847.4 1128.1 1849.5 1128.2 1851.6 1128.3 1853.7 1128.4 1855.8 1128.5 1858.0 1128.6 1860.1 1128.7 1862.2 1128.8 1864.3 1128.9 1866.5 1129.0 1868.6 1129.1 1870.7 1129.2 1872.8 1129.3 1875.0 1129.5 1877.1 1129.6 1879.2 1129.7 1881.3 1129.8 1883.5 1130.0 1885.6 1130.1 1887.7 1130.3 1889.8 1130.5 1892.0 1130.6 1894.1 1130.8 1896.2 1131.0 1898.3 1131.2 1900.4 1131.4 1902.6 1131.7 1904.7 1131.9 1906.8 1132.2 1908.9 1132.6 1911.1 1133.0 1913.2 1133.4 1915.3 1133.9 1917.4 1134.4 1919.6 1135.0 1921.7 1135.5 1923.8 1136.1 1925.9 1136.7 1928.1 1137.4 1930.2 1138.1 1932.3 1138.7 1934.4 1139.4 1936.6 1140.2 1938.7 1140.9 1940.8 1141.6 1942.9 1142.4 1945.0 1143.1 1947.2 1143.9 1949.3 1144.7 1951.4 1145.4 1953.5 1146.2 1955.7 1147.0 1957.8 1147.8 1959.9 1148.7 1962.0 1149.7 1964.2 1150.7 1966.3 1151.7 1968.4 1152.7 1970.5 1153.8 1972.7 1154.8 1974.8 1155.9 1976.9 1156.9 1979.0 1157.9 1981.2 1158.9 1983.3 1160.0 1985.4 1161.0 1987.5 1162.1 1989.6 1163.2 1991.8 1164.2 1993.9 1165.3 1996.0 1166.4 1998.1 1167.4 2000.3 1168.5 2002.4 1169.6" stroke="#7800f0" stroke-width="1.4" fill="none" stroke-linejoin="round"/><path d="M1832.5 1125.1 1834.6 1125.3 1836.7 1125.4 1838.9 1125.5 1841.0 1125.6 1843.1 1125.7 1845.2 1125.8 1847.4 1125.9 1849.5 1126.0 1851.6 1126.1 1853.7 1126.2 1855.8 1126.3 1858.0 1126.4 1860.1 1126.5 1862.2 1126.6 1864.3 1126.7 1866.5 1126.8 1868.6 1126.9 1870.7 1127.0 1872.8 1127.1 1875.0 1127.2 1877.1 1127.3 1879.2 1127.5 1881.3 1127.6 1883.5 1127.8 1885.6 1127.9 1887.7 1128.1 1889.8 1128.3 1892.0 1128.4 1894.1 1128.6 1896.2 1128.8 1898.3 1129.1 1900.4 1129.3 1902.6 1129.6 1904.7 1130.0 1906.8 1130.4 1908.9 1131.0 1911.1 1131.7 1913.2 1132.4 1915.3 1133.1 1917.4 1133.9 1919.6 1134.7 1921.7 1135.5 1923.8 1136.3 1925.9 1137.2 1928.1 1138.1 1930.2 1139.0 1932.3 1140.0 1934.4 1141.0 1936.6 1142.1 1938.7 1143.2 1940.8 1144.4 1942.9 1145.6 1945.0 1146.9 1947.2 1148.2 1949.3 1149.6 1951.4 1151.0 1953.5 1152.5 1955.7 1154.0 1957.8 1155.8 1959.9 1157.8 1962.0 1159.9 1964.2 1162.1 1966.3 1164.3 1968.4 1166.7 1970.5 1169.0 1972.7 1171.4 1974.8 1173.7 1976.9 1175.9 1979.0 1178.2 1981.2 1180.4 1983.3 1182.7 1985.4 1185.0 1987.5 1187.3 1989.6 1189.6 1991.8 1191.9 1993.9 1194.2 1996.0 1196.5 1998.1 1198.8 2000.3 1201.1 2002.4 1203.4" stroke="#7800f0" stroke-width="1.4" fill="none" stroke-linejoin="round"/><path d="M1832.5 1123.0 1834.6 1123.2 1836.7 1123.3 1838.9 1123.4 1841.0 1123.5 1843.1 1123.6 1845.2 1123.7 1847.4 1123.8 1849.5 1123.9 1851.6 1124.0 1853.7 1124.1 1855.8 1124.2 1858.0 1124.3 1860.1 1124.4 1862.2 1124.5 1864.3 1124.6 1866.5 1124.7 1868.6 1124.8 1870.7 1124.9 1872.8 1125.0 1875.0 1125.1 1877.1 1125.2 1879.2 1125.4 1881.3 1125.5 1883.5 1125.6 1885.6 1125.8 1887.7 1126.0 1889.8 1126.1 1892.0 1126.3 1894.1 1126.5 1896.2 1126.7 1898.3 1127.0 1900.4 1127.2 1902.6 1127.5 1904.7 1127.8 1906.8 1128.3 1908.9 1128.8 1911.1 1129.5 1913.2 1130.1 1915.3 1130.9 1917.4 1131.7 1919.6 1132.5 1921.7 1133.4 1923.8 1134.3 1925.9 1135.3 1928.1 1136.4 1930.2 1137.7 1932.3 1139.0 1934.4 1140.4 1936.6 1141.9 1938.7 1143.4 1940.8 1145.1 1942.9 1146.8 1945.0 1148.7 1947.2 1150.5 1949.3 1152.5 1951.4 1154.5 1953.5 1156.6 1955.7 1158.9 1957.8 1161.4 1959.9 1164.2 1962.0 1167.3 1964.2 1170.5 1966.3 1173.8 1968.4 1177.2 1970.5 1180.7 1972.7 1184.1 1974.8 1187.5 1976.9 1190.8 1979.0 1194.0 1981.2 1197.3 1983.3 1200.6 1985.4 1203.9 1987.5 1207.3 1989.6 1210.6 1991.8 1214.0 1993.9 1217.4 1996.0 1220.8 1998.1 1224.2 2000.3 1227.5 2002.4 1230.9" stroke="#7800f0" stroke-width="1.4" fill="none" stroke-linejoin="round"/><path d="M1832.5 1125.1 1834.6 1125.3 1836.7 1125.4 1838.9 1125.5 1841.0 1125.6 1843.1 1125.7 1845.2 1125.8 1847.4 1125.9 1849.5 1126.0 1851.6 1126.1 1853.7 1126.2 1855.8 1126.3 1858.0 1126.4 1860.1 1126.4 1862.2 1126.5 1864.3 1126.6 1866.5 1126.7 1868.6 1126.8 1870.7 1126.9 1872.8 1127.0 1875.0 1127.2 1877.1 1127.3 1879.2 1127.4 1881.3 1127.5 1883.5 1127.7 1885.6 1127.9 1887.7 1128.0 1889.8 1128.2 1892.0 1128.4 1894.1 1128.6 1896.2 1128.8 1898.3 1129.0 1900.4 1129.3 1902.6 1129.6 1904.7 1130.1 1906.8 1130.7 1908.9 1131.4 1911.1 1132.3 1913.2 1133.2 1915.3 1134.2 1917.4 1135.3 1919.6 1136.4 1921.7 1137.6 1923.8 1138.7 1925.9 1140.0 1928.1 1141.5 1930.2 1143.0 1932.3 1144.7 1934.4 1146.4 1936.6 1148.3 1938.7 1150.2 1940.8 1152.2 1942.9 1154.2 1945.0 1156.3 1947.2 1158.4 1949.3 1160.6 1951.4 1162.8 1953.5 1165.0 1955.7 1167.3 1957.8 1169.6 1959.9 1171.9 1962.0 1174.3 1964.2 1176.9 1966.3 1179.5 1968.4 1182.3 1970.5 1185.2 1972.7 1188.3 1974.8 1191.5 1976.9 1195.0 1979.0 1198.9 1981.2 1203.2 1983.3 1208.0 1985.4 1213.1 1987.5 1218.5 1989.6 1224.2 1991.8 1229.9 1993.9 1235.8 1996.0 1241.6 1998.1 1247.3 2000.3 1253.0 2002.4 1258.4" stroke="#7800f0" stroke-width="1.4" fill="none" stroke-linejoin="round"/><path d="M1832.5 1127.3 1834.6 1127.4 1836.7 1127.5 1838.9 1127.6 1841.0 1127.7 1843.1 1127.8 1845.2 1127.9 1847.4 1128.0 1849.5 1128.1 1851.6 1128.2 1853.7 1128.3 1855.8 1128.4 1858.0 1128.5 1860.1 1128.6 1862.2 1128.6 1864.3 1128.7 1866.5 1128.8 1868.6 1128.9 1870.7 1129.0 1872.8 1129.2 1875.0 1129.3 1877.1 1129.4 1879.2 1129.5 1881.3 1129.7 1883.5 1129.8 1885.6 1130.0 1887.7 1130.1 1889.8 1130.3 1892.0 1130.5 1894.1 1130.7 1896.2 1130.9 1898.3 1131.2 1900.4 1131.4 1902.6 1131.7 1904.7 1132.2 1906.8 1132.8 1908.9 1133.5 1911.1 1134.3 1913.2 1135.3 1915.3 1136.3 1917.4 1137.4 1919.6 1138.5 1921.7 1139.7 1923.8 1140.9 1925.9 1142.2 1928.1 1143.8 1930.2 1145.4 1932.3 1147.2 1934.4 1149.2 1936.6 1151.2 1938.7 1153.3 1940.8 1155.4 1942.9 1157.7 1945.0 1160.0 1947.2 1162.3 1949.3 1164.6 1951.4 1166.9 1953.5 1169.3 1955.7 1171.6 1957.8 1173.9 1959.9 1176.3 1962.0 1178.7 1964.2 1181.2 1966.3 1183.8 1968.4 1186.6 1970.5 1189.5 1972.7 1192.5 1974.8 1195.8 1976.9 1199.2 1979.0 1203.1 1981.2 1207.4 1983.3 1212.2 1985.4 1217.4 1987.5 1222.8 1989.6 1228.4 1991.8 1234.1 1993.9 1240.0 1996.0 1245.8 1998.1 1251.6 2000.3 1257.2 2002.4 1262.6" stroke="#7800f0" stroke-width="1.4" fill="none" stroke-linejoin="round"/><g fill="#8000ff" stroke="#5a00b8" stroke-width="0.9"><circle cx="1832.48" cy="1101.04" r="4.2"/><circle cx="1832.48" cy="1106.54" r="4.2"/><circle cx="1832.48" cy="1121.98" r="4.2"/><circle cx="1832.48" cy="1127.47" r="4.2"/><circle cx="1832.48" cy="1132.97" r="4.2"/><circle cx="1832.48" cy="1143.12" r="4.2"/><circle cx="1853.42" cy="1086.45" r="4.2"/><circle cx="1853.42" cy="1093.64" r="4.2"/><circle cx="1853.42" cy="1103.79" r="4.2"/><circle cx="1853.42" cy="1110.13" r="4.2"/><circle cx="1853.42" cy="1114.79" r="4.2"/><circle cx="1853.42" cy="1123.88" r="4.2"/><circle cx="1853.42" cy="1130.22" r="4.2"/><circle cx="1853.42" cy="1140.37" r="4.2"/><circle cx="1869.62" cy="1090.04" r="4.2"/><circle cx="1869.62" cy="1096.39" r="4.2"/><circle cx="1869.62" cy="1102.73" r="4.2"/><circle cx="1869.62" cy="1118.38" r="4.2"/><circle cx="1869.62" cy="1123.88" r="4.2"/><circle cx="1869.62" cy="1130.22" r="4.2"/><circle cx="1901.11" cy="1082.64" r="4.2"/><circle cx="1901.11" cy="1094.7" r="4.2"/><circle cx="1901.11" cy="1105.48" r="4.2"/><circle cx="1901.11" cy="1110.13" r="4.2"/><circle cx="1901.11" cy="1114.79" r="4.2"/><circle cx="1901.11" cy="1125.78" r="4.2"/><circle cx="1901.11" cy="1133.82" r="4.2"/><circle cx="1922.21" cy="1099.14" r="4.2"/><circle cx="1922.21" cy="1105.48" r="4.2"/><circle cx="1922.21" cy="1110.98" r="4.2"/><circle cx="1922.21" cy="1116.48" r="4.2"/><circle cx="1922.21" cy="1120.28" r="4.2"/><circle cx="1922.21" cy="1132.97" r="4.2"/><circle cx="1922.21" cy="1147.56" r="4.2"/><circle cx="1922.21" cy="1151.37" r="4.2"/><circle cx="1922.21" cy="1169.56" r="4.2"/><circle cx="1953.81" cy="1081.8" r="4.2"/><circle cx="1953.81" cy="1098.29" r="4.2"/><circle cx="1953.81" cy="1114.79" r="4.2"/><circle cx="1953.81" cy="1138.47" r="4.2"/><circle cx="1953.81" cy="1143.97" r="4.2"/><circle cx="1953.81" cy="1149.47" r="4.2"/><circle cx="1953.81" cy="1154.96" r="4.2"/><circle cx="1953.81" cy="1164.06" r="4.2"/><circle cx="1953.81" cy="1177.8" r="4.2"/><circle cx="1976.86" cy="1145.87" r="4.2"/><circle cx="1976.86" cy="1151.37" r="4.2"/><circle cx="1976.86" cy="1165.96" r="4.2"/><circle cx="1976.86" cy="1169.56" r="4.2"/><circle cx="1976.86" cy="1182.46" r="4.2"/><circle cx="1976.86" cy="1195.14" r="4.2"/><circle cx="1976.86" cy="1200.64" r="4.2"/><circle cx="2002.39" cy="1161.31" r="4.2"/><circle cx="2002.39" cy="1165.96" r="4.2"/><circle cx="2002.39" cy="1169.56" r="4.2"/><circle cx="2002.39" cy="1178.65" r="4.2"/><circle cx="2002.39" cy="1197.05" r="4.2"/><circle cx="2002.39" cy="1203.39" r="4.2"/><circle cx="2002.39" cy="1230.88" r="4.2"/><circle cx="2002.39" cy="1257.31" r="4.2"/><circle cx="2002.39" cy="1262.81" r="4.2"/></g></g>
<g><path d="M172.9 1478.5V1809.8M171.3 1796.5H385.5M159.6 1796.5H172.9M159.6 1691.03H172.9M159.6 1585.57H172.9M159.6 1480.1H172.9M225.65 1796.5V1809.8M278.4 1796.5V1809.8M331.15 1796.5V1809.8M383.9 1796.5V1809.8" stroke="#000" stroke-width="3.2" fill="none"/><text x="154.4" y="1805.4" font-size="25" text-anchor="end">0</text><text x="154.4" y="1699.93" font-size="25" text-anchor="end">50</text><text x="154.4" y="1594.47" font-size="25" text-anchor="end">100</text><text x="154.4" y="1489" font-size="25" text-anchor="end">150</text><text x="172.9" y="1837.1" font-size="25" text-anchor="middle">-5</text><text x="225.65" y="1837.1" font-size="25" text-anchor="middle">-4</text><text x="278.4" y="1837.1" font-size="25" text-anchor="middle">-3</text><text x="331.15" y="1837.1" font-size="25" text-anchor="middle">-2</text><text x="383.9" y="1837.1" font-size="25" text-anchor="middle">-1</text><text x="278.4" y="1874.7" font-size="25.5" text-anchor="middle">Log<tspan font-size="20" dy="8.8">10</tspan><tspan dy="-8.8"> (1/serum dilution)</tspan></text><text transform="translate(99.2 1638.3) rotate(-90)" font-size="30" text-anchor="middle">% Relative Infection</text><path d="M188.9 1585.6 191.0 1585.6 193.1 1585.6 195.3 1585.6 197.4 1585.6 199.5 1585.6 201.6 1585.6 203.8 1585.6 205.9 1585.6 208.0 1585.6 210.1 1585.6 212.2 1585.6 214.4 1585.6 216.5 1585.6 218.6 1585.6 220.7 1585.6 222.9 1585.6 225.0 1585.6 227.1 1585.6 229.2 1585.6 231.4 1585.6 233.5 1585.6 235.6 1585.6 237.7 1585.6 239.9 1585.6 242.0 1585.6 244.1 1585.6 246.2 1585.6 248.4 1585.6 250.5 1585.6 252.6 1585.6 254.7 1585.6 256.8 1585.6 259.0 1585.6 261.1 1585.6 263.2 1585.6 265.3 1585.6 267.5 1585.6 269.6 1585.6 271.7 1585.6 273.8 1585.6 276.0 1585.6 278.1 1585.6 280.2 1585.6 282.3 1585.6 284.5 1585.6 286.6 1585.6 288.7 1585.6 290.8 1585.6 293.0 1585.6 295.1 1585.6 297.2 1585.6 299.3 1585.6 301.4 1585.6 303.6 1585.6 305.7 1585.6 307.8 1585.6 309.9 1585.6 312.1 1585.6 314.2 1585.6 316.3 1585.6 318.4 1585.6 320.6 1585.6 322.7 1585.6 324.8 1585.6 326.9 1585.6 329.1 1585.6 331.2 1585.6 333.3 1585.6 335.4 1585.6 337.6 1585.6 339.7 1585.6 341.8 1585.6 343.9 1585.6 346.0 1585.6 348.2 1585.6 350.3 1585.6 352.4 1585.6 354.5 1585.7 356.7 1587.1 358.8 1588.7" stroke="#000000" stroke-width="2.1" fill="none" stroke-linejoin="round"/><path d="M188.9 1585.6 191.0 1585.6 193.1 1585.6 195.3 1585.6 197.4 1585.6 199.5 1585.7 201.6 1585.7 203.8 1585.7 205.9 1585.7 208.0 1585.7 210.1 1585.7 212.2 1585.7 214.4 1585.8 216.5 1585.8 218.6 1585.8 220.7 1585.8 222.9 1585.8 225.0 1585.8 227.1 1585.8 229.2 1585.9 231.4 1585.9 233.5 1585.9 235.6 1585.9 237.7 1585.9 239.9 1585.9 242.0 1585.9 244.1 1586.0 246.2 1586.0 248.4 1586.0 250.5 1586.0 252.6 1586.0 254.7 1586.1 256.8 1586.1 259.0 1586.1 261.1 1586.1 263.2 1586.2 265.3 1586.2 267.5 1586.2 269.6 1586.3 271.7 1586.3 273.8 1586.3 276.0 1586.4 278.1 1586.4 280.2 1586.4 282.3 1586.5 284.5 1586.6 286.6 1586.7 288.7 1586.8 290.8 1586.9 293.0 1587.0 295.1 1587.2 297.2 1587.4 299.3 1587.5 301.4 1587.7 303.6 1588.0 305.7 1588.2 307.8 1588.4 309.9 1588.7 312.1 1589.1 314.2 1589.7 316.3 1590.5 318.4 1591.4 320.6 1592.5 322.7 1593.5 324.8 1594.6 326.9 1595.7 329.1 1596.7 331.2 1597.6 333.3 1598.2 335.4 1598.8 337.6 1599.3 339.7 1599.8 341.8 1600.3 343.9 1600.7 346.0 1601.1 348.2 1601.5 350.3 1601.9 352.4 1602.3 354.5 1602.7 356.7 1603.1 358.8 1603.5" stroke="#000000" stroke-width="2.1" fill="none" stroke-linejoin="round"/><path d="M188.9 1585.6 191.0 1585.6 193.1 1585.6 195.3 1585.6 197.4 1585.7 199.5 1585.7 201.6 1585.7 203.8 1585.7 205.9 1585.7 208.0 1585.7 210.1 1585.8 212.2 1585.8 214.4 1585.8 216.5 1585.8 218.6 1585.8 220.7 1585.8 222.9 1585.9 225.0 1585.9 227.1 1585.9 229.2 1585.9 231.4 1585.9 233.5 1585.9 235.6 1586.0 237.7 1586.0 239.9 1586.0 242.0 1586.0 244.1 1586.0 246.2 1586.1 248.4 1586.1 250.5 1586.1 252.6 1586.1 254.7 1586.2 256.8 1586.2 259.0 1586.2 261.1 1586.3 263.2 1586.3 265.3 1586.3 267.5 1586.4 269.6 1586.4 271.7 1586.5 273.8 1586.5 276.0 1586.6 278.1 1586.6 280.2 1586.7 282.3 1586.8 284.5 1586.9 286.6 1587.1 288.7 1587.2 290.8 1587.5 293.0 1587.7 295.1 1588.0 297.2 1588.3 299.3 1588.7 301.4 1589.0 303.6 1589.4 305.7 1589.9 307.8 1590.3 309.9 1590.8 312.1 1591.4 314.2 1592.2 316.3 1593.3 318.4 1594.5 320.6 1596.0 322.7 1597.6 324.8 1599.2 326.9 1601.0 329.1 1602.9 331.2 1604.8 333.3 1606.7 335.4 1608.8 337.6 1611.1 339.7 1613.6 341.8 1616.3 343.9 1619.2 346.0 1622.2 348.2 1625.3 350.3 1628.4 352.4 1631.5 354.5 1634.5 356.7 1637.5 358.8 1640.4" stroke="#000000" stroke-width="2.1" fill="none" stroke-linejoin="round"/><path d="M188.9 1585.6 191.0 1585.6 193.1 1585.6 195.3 1585.6 197.4 1585.7 199.5 1585.7 201.6 1585.7 203.8 1585.7 205.9 1585.7 208.0 1585.7 210.1 1585.8 212.2 1585.8 214.4 1585.8 216.5 1585.8 218.6 1585.8 220.7 1585.8 222.9 1585.9 225.0 1585.9 227.1 1585.9 229.2 1585.9 231.4 1585.9 233.5 1585.9 235.6 1586.0 237.7 1586.0 239.9 1586.0 242.0 1586.0 244.1 1586.0 246.2 1586.1 248.4 1586.1 250.5 1586.1 252.6 1586.1 254.7 1586.2 256.8 1586.2 259.0 1586.2 261.1 1586.3 263.2 1586.3 265.3 1586.3 267.5 1586.4 269.6 1586.4 271.7 1586.5 273.8 1586.5 276.0 1586.6 278.1 1586.6 280.2 1586.7 282.3 1586.8 284.5 1586.9 286.6 1587.1 288.7 1587.4 290.8 1587.7 293.0 1588.0 295.1 1588.3 297.2 1588.7 299.3 1589.2 301.4 1589.6 303.6 1590.1 305.7 1590.7 307.8 1591.2 309.9 1591.8 312.1 1592.6 314.2 1593.6 316.3 1594.9 318.4 1596.4 320.6 1598.1 322.7 1600.0 324.8 1602.1 326.9 1604.2 329.1 1606.4 331.2 1608.7 333.3 1610.9 335.4 1613.3 337.6 1616.0 339.7 1618.9 341.8 1621.9 343.9 1625.2 346.0 1628.5 348.2 1631.9 350.3 1635.4 352.4 1638.9 354.5 1642.3 356.7 1645.6 358.8 1648.8" stroke="#000000" stroke-width="2.1" fill="none" stroke-linejoin="round"/><path d="M188.9 1585.6 191.0 1585.6 193.1 1585.6 195.3 1585.7 197.4 1585.7 199.5 1585.7 201.6 1585.8 203.8 1585.8 205.9 1585.8 208.0 1585.9 210.1 1585.9 212.2 1585.9 214.4 1585.9 216.5 1586.0 218.6 1586.0 220.7 1586.0 222.9 1586.0 225.0 1586.1 227.1 1586.1 229.2 1586.1 231.4 1586.1 233.5 1586.2 235.6 1586.2 237.7 1586.2 239.9 1586.3 242.0 1586.3 244.1 1586.3 246.2 1586.4 248.4 1586.4 250.5 1586.4 252.6 1586.5 254.7 1586.5 256.8 1586.6 259.0 1586.6 261.1 1586.7 263.2 1586.7 265.3 1586.8 267.5 1586.9 269.6 1586.9 271.7 1587.0 273.8 1587.1 276.0 1587.2 278.1 1587.2 280.2 1587.3 282.3 1587.5 284.5 1587.7 286.6 1588.0 288.7 1588.3 290.8 1588.6 293.0 1589.0 295.1 1589.5 297.2 1590.0 299.3 1590.5 301.4 1591.1 303.6 1591.8 305.7 1592.4 307.8 1593.2 309.9 1593.9 312.1 1594.8 314.2 1596.1 316.3 1597.7 318.4 1599.7 320.6 1601.8 322.7 1604.1 324.8 1606.6 326.9 1609.2 329.1 1611.9 331.2 1614.6 333.3 1617.3 335.4 1620.1 337.6 1623.1 339.7 1626.3 341.8 1629.8 343.9 1633.4 346.0 1637.0 348.2 1640.8 350.3 1644.6 352.4 1648.4 354.5 1652.1 356.7 1655.8 358.8 1659.4" stroke="#000000" stroke-width="2.1" fill="none" stroke-linejoin="round"/><path d="M188.9 1585.6 191.0 1585.6 193.1 1585.7 195.3 1585.7 197.4 1585.7 199.5 1585.8 201.6 1585.8 203.8 1585.9 205.9 1585.9 208.0 1585.9 210.1 1586.0 212.2 1586.0 214.4 1586.0 216.5 1586.1 218.6 1586.1 220.7 1586.1 222.9 1586.2 225.0 1586.2 227.1 1586.2 229.2 1586.3 231.4 1586.3 233.5 1586.3 235.6 1586.4 237.7 1586.4 239.9 1586.4 242.0 1586.5 244.1 1586.5 246.2 1586.6 248.4 1586.6 250.5 1586.7 252.6 1586.7 254.7 1586.8 256.8 1586.8 259.0 1586.9 261.1 1587.0 263.2 1587.0 265.3 1587.1 267.5 1587.2 269.6 1587.3 271.7 1587.4 273.8 1587.5 276.0 1587.5 278.1 1587.6 280.2 1587.8 282.3 1588.0 284.5 1588.2 286.6 1588.6 288.7 1589.0 290.8 1589.4 293.0 1589.9 295.1 1590.5 297.2 1591.2 299.3 1591.8 301.4 1592.6 303.6 1593.4 305.7 1594.2 307.8 1595.1 309.9 1596.0 312.1 1597.1 314.2 1598.6 316.3 1600.4 318.4 1602.6 320.6 1604.9 322.7 1607.5 324.8 1610.2 326.9 1613.0 329.1 1615.9 331.2 1618.7 333.3 1621.5 335.4 1624.3 337.6 1627.3 339.7 1630.5 341.8 1633.8 343.9 1637.1 346.0 1640.6 348.2 1644.1 350.3 1647.6 352.4 1651.2 354.5 1654.7 356.7 1658.1 358.8 1661.5" stroke="#000000" stroke-width="2.1" fill="none" stroke-linejoin="round"/><g fill="#000000" stroke="#000000" stroke-width="0.9"><circle cx="188.88" cy="1515.54" r="4.2"/><circle cx="188.88" cy="1538.32" r="4.2"/><circle cx="188.88" cy="1560.25" r="4.2"/><circle cx="188.88" cy="1569.32" r="4.2"/><circle cx="188.88" cy="1573.97" r="4.2"/><circle cx="188.88" cy="1577.55" r="4.2"/><circle cx="188.88" cy="1594" r="4.2"/><circle cx="188.88" cy="1604.97" r="4.2"/><circle cx="209.83" cy="1489.8" r="4.2"/><circle cx="209.83" cy="1521.02" r="4.2"/><circle cx="209.83" cy="1525.66" r="4.2"/><circle cx="209.83" cy="1545.7" r="4.2"/><circle cx="209.83" cy="1552.87" r="4.2"/><circle cx="209.83" cy="1557.51" r="4.2"/><circle cx="209.83" cy="1563" r="4.2"/><circle cx="209.83" cy="1570.38" r="4.2"/><circle cx="226.02" cy="1499.93" r="4.2"/><circle cx="226.02" cy="1512.79" r="4.2"/><circle cx="226.02" cy="1528.4" r="4.2"/><circle cx="226.02" cy="1540.22" r="4.2"/><circle cx="226.02" cy="1554.77" r="4.2"/><circle cx="226.02" cy="1563.84" r="4.2"/><circle cx="226.02" cy="1567.64" r="4.2"/><circle cx="226.02" cy="1584.93" r="4.2"/><circle cx="226.02" cy="1595.9" r="4.2"/><circle cx="257.51" cy="1493.6" r="4.2"/><circle cx="257.51" cy="1547.39" r="4.2"/><circle cx="257.51" cy="1552.03" r="4.2"/><circle cx="257.51" cy="1566.58" r="4.2"/><circle cx="257.51" cy="1570.38" r="4.2"/><circle cx="257.51" cy="1573.97" r="4.2"/><circle cx="257.51" cy="1578.61" r="4.2"/><circle cx="257.51" cy="1583.25" r="4.2"/><circle cx="257.51" cy="1587.68" r="4.2"/><circle cx="278.61" cy="1504.57" r="4.2"/><circle cx="278.61" cy="1538.32" r="4.2"/><circle cx="278.61" cy="1544.65" r="4.2"/><circle cx="278.61" cy="1558.36" r="4.2"/><circle cx="278.61" cy="1573.97" r="4.2"/><circle cx="278.61" cy="1582.19" r="4.2"/><circle cx="278.61" cy="1599.49" r="4.2"/><circle cx="310.21" cy="1518.28" r="4.2"/><circle cx="310.21" cy="1528.19" r="4.2"/><circle cx="310.21" cy="1540.22" r="4.2"/><circle cx="310.21" cy="1567.64" r="4.2"/><circle cx="310.21" cy="1577.55" r="4.2"/><circle cx="310.21" cy="1583.04" r="4.2"/><circle cx="310.21" cy="1588.52" r="4.2"/><circle cx="333.26" cy="1564.9" r="4.2"/><circle cx="333.26" cy="1574.81" r="4.2"/><circle cx="333.26" cy="1597.8" r="4.2"/><circle cx="333.26" cy="1603.29" r="4.2"/><circle cx="333.26" cy="1619.74" r="4.2"/><circle cx="333.26" cy="1622.48" r="4.2"/><circle cx="333.26" cy="1640.62" r="4.2"/><circle cx="358.79" cy="1544.65" r="4.2"/><circle cx="358.79" cy="1572.07" r="4.2"/><circle cx="358.79" cy="1594" r="4.2"/><circle cx="358.79" cy="1597.8" r="4.2"/><circle cx="358.79" cy="1630.71" r="4.2"/><circle cx="358.79" cy="1636.19" r="4.2"/><circle cx="358.79" cy="1641.67" r="4.2"/><circle cx="358.79" cy="1648.85" r="4.2"/><circle cx="358.79" cy="1659.82" r="4.2"/></g></g>
<g><path d="M584.1 1478.4V1809.8M582.5 1796.5H796.7M570.8 1796.5H584.1M570.8 1691H584.1M570.8 1585.5H584.1M570.8 1480H584.1M636.85 1796.5V1809.8M689.6 1796.5V1809.8M742.35 1796.5V1809.8M795.1 1796.5V1809.8" stroke="#000" stroke-width="3.2" fill="none"/><text x="565.6" y="1805.4" font-size="25" text-anchor="end">0</text><text x="565.6" y="1699.9" font-size="25" text-anchor="end">50</text><text x="565.6" y="1594.4" font-size="25" text-anchor="end">100</text><text x="565.6" y="1488.9" font-size="25" text-anchor="end">150</text><text x="584.1" y="1837.1" font-size="25" text-anchor="middle">-5</text><text x="636.85" y="1837.1" font-size="25" text-anchor="middle">-4</text><text x="689.6" y="1837.1" font-size="25" text-anchor="middle">-3</text><text x="742.35" y="1837.1" font-size="25" text-anchor="middle">-2</text><text x="795.1" y="1837.1" font-size="25" text-anchor="middle">-1</text><text x="689.6" y="1874.7" font-size="25.5" text-anchor="middle">Log<tspan font-size="20" dy="8.8">10</tspan><tspan dy="-8.8"> (1/serum dilution)</tspan></text><text transform="translate(510.4 1638.25) rotate(-90)" font-size="30" text-anchor="middle">% Relative Infection</text><path d="M600.1 1585.5 602.2 1585.5 604.3 1585.5 606.5 1585.5 608.6 1585.5 610.7 1585.5 612.8 1585.5 615.0 1585.5 617.1 1585.5 619.2 1585.5 621.3 1585.5 623.4 1585.5 625.6 1585.5 627.7 1585.5 629.8 1585.5 631.9 1585.5 634.1 1585.5 636.2 1585.5 638.3 1585.5 640.4 1585.5 642.6 1585.5 644.7 1585.5 646.8 1585.5 648.9 1585.5 651.1 1585.5 653.2 1585.5 655.3 1585.5 657.4 1585.5 659.6 1585.5 661.7 1585.5 663.8 1585.5 665.9 1585.5 668.0 1585.5 670.2 1585.5 672.3 1585.5 674.4 1585.5 676.5 1585.5 678.7 1585.5 680.8 1585.5 682.9 1585.5 685.0 1585.5 687.2 1585.5 689.3 1585.5 691.4 1585.5 693.5 1585.5 695.7 1585.5 697.8 1585.5 699.9 1585.5 702.0 1585.5 704.2 1585.5 706.3 1585.5 708.4 1585.5 710.5 1585.5 712.6 1585.5 714.8 1585.5 716.9 1585.5 719.0 1585.5 721.1 1585.5 723.3 1585.5 725.4 1585.5 727.5 1585.5 729.6 1585.5 731.8 1585.5 733.9 1585.5 736.0 1585.5 738.1 1585.5 740.3 1585.5 742.4 1585.5 744.5 1585.5 746.6 1585.5 748.8 1585.5 750.9 1585.5 753.0 1585.5 755.1 1585.5 757.2 1585.5 759.4 1585.5 761.5 1585.5 763.6 1585.5 765.7 1585.5 767.9 1585.5 770.0 1585.5" stroke="#e00000" stroke-width="1.4" fill="none" stroke-linejoin="round"/><path d="M600.1 1585.5 602.2 1585.5 604.3 1585.5 606.5 1585.6 608.6 1585.6 610.7 1585.6 612.8 1585.6 615.0 1585.6 617.1 1585.6 619.2 1585.6 621.3 1585.6 623.4 1585.7 625.6 1585.7 627.7 1585.7 629.8 1585.7 631.9 1585.7 634.1 1585.7 636.2 1585.7 638.3 1585.7 640.4 1585.7 642.6 1585.8 644.7 1585.8 646.8 1585.8 648.9 1585.8 651.1 1585.8 653.2 1585.8 655.3 1585.8 657.4 1585.8 659.6 1585.8 661.7 1585.8 663.8 1585.9 665.9 1585.9 668.0 1585.9 670.2 1585.9 672.3 1585.9 674.4 1585.9 676.5 1585.9 678.7 1586.0 680.8 1586.0 682.9 1586.0 685.0 1586.0 687.2 1586.0 689.3 1586.1 691.4 1586.1 693.5 1586.1 695.7 1586.1 697.8 1586.2 699.9 1586.2 702.0 1586.2 704.2 1586.2 706.3 1586.3 708.4 1586.3 710.5 1586.4 712.6 1586.4 714.8 1586.4 716.9 1586.5 719.0 1586.5 721.1 1586.5 723.3 1586.6 725.4 1586.8 727.5 1587.1 729.6 1587.4 731.8 1587.8 733.9 1588.2 736.0 1588.7 738.1 1589.2 740.3 1589.7 742.4 1590.3 744.5 1590.8 746.6 1591.3 748.8 1592.0 750.9 1592.7 753.0 1593.5 755.1 1594.3 757.2 1595.1 759.4 1596.0 761.5 1596.9 763.6 1597.7 765.7 1598.6 767.9 1599.5 770.0 1600.3" stroke="#e00000" stroke-width="1.4" fill="none" stroke-linejoin="round"/><path d="M600.1 1586.6 602.2 1586.6 604.3 1586.6 606.5 1586.7 608.6 1586.7 610.7 1586.7 612.8 1586.7 615.0 1586.8 617.1 1586.8 619.2 1586.8 621.3 1586.9 623.4 1586.9 625.6 1586.9 627.7 1586.9 629.8 1586.9 631.9 1587.0 634.1 1587.0 636.2 1587.0 638.3 1587.0 640.4 1587.0 642.6 1587.1 644.7 1587.1 646.8 1587.1 648.9 1587.1 651.1 1587.1 653.2 1587.2 655.3 1587.2 657.4 1587.2 659.6 1587.2 661.7 1587.3 663.8 1587.3 665.9 1587.3 668.0 1587.3 670.2 1587.4 672.3 1587.4 674.4 1587.4 676.5 1587.5 678.7 1587.5 680.8 1587.5 682.9 1587.6 685.0 1587.6 687.2 1587.6 689.3 1587.7 691.4 1587.7 693.5 1587.8 695.7 1587.8 697.8 1587.9 699.9 1587.9 702.0 1588.0 704.2 1588.1 706.3 1588.1 708.4 1588.2 710.5 1588.3 712.6 1588.3 714.8 1588.4 716.9 1588.5 719.0 1588.6 721.1 1588.7 723.3 1588.8 725.4 1589.1 727.5 1589.6 729.6 1590.1 731.8 1590.8 733.9 1591.5 736.0 1592.4 738.1 1593.3 740.3 1594.2 742.4 1595.1 744.5 1596.1 746.6 1597.1 748.8 1598.4 750.9 1599.7 753.0 1601.3 755.1 1602.9 757.2 1604.6 759.4 1606.4 761.5 1608.2 763.6 1609.9 765.7 1611.7 767.9 1613.4 770.0 1615.0" stroke="#e00000" stroke-width="1.4" fill="none" stroke-linejoin="round"/><path d="M600.1 1586.6 602.2 1586.6 604.3 1586.7 606.5 1586.7 608.6 1586.8 610.7 1586.8 612.8 1586.8 615.0 1586.9 617.1 1586.9 619.2 1587.0 621.3 1587.0 623.4 1587.0 625.6 1587.1 627.7 1587.1 629.8 1587.1 631.9 1587.2 634.1 1587.2 636.2 1587.2 638.3 1587.3 640.4 1587.3 642.6 1587.3 644.7 1587.3 646.8 1587.4 648.9 1587.4 651.1 1587.4 653.2 1587.5 655.3 1587.5 657.4 1587.5 659.6 1587.6 661.7 1587.6 663.8 1587.6 665.9 1587.7 668.0 1587.7 670.2 1587.8 672.3 1587.8 674.4 1587.9 676.5 1587.9 678.7 1588.0 680.8 1588.0 682.9 1588.1 685.0 1588.1 687.2 1588.2 689.3 1588.3 691.4 1588.3 693.5 1588.4 695.7 1588.5 697.8 1588.6 699.9 1588.6 702.0 1588.7 704.2 1588.8 706.3 1588.9 708.4 1589.0 710.5 1589.1 712.6 1589.2 714.8 1589.3 716.9 1589.5 719.0 1589.6 721.1 1589.7 723.3 1589.9 725.4 1590.3 727.5 1590.8 729.6 1591.6 731.8 1592.4 733.9 1593.4 736.0 1594.6 738.1 1595.9 740.3 1597.2 742.4 1598.7 744.5 1600.3 746.6 1602.5 748.8 1605.8 750.9 1610.0 753.0 1615.0 755.1 1620.5 757.2 1626.5 759.4 1632.8 761.5 1639.3 763.6 1645.7 765.7 1652.0 767.9 1658.0 770.0 1663.6" stroke="#e00000" stroke-width="1.4" fill="none" stroke-linejoin="round"/><path d="M600.1 1589.7 602.2 1589.8 604.3 1589.9 606.5 1590.0 608.6 1590.1 610.7 1590.2 612.8 1590.3 615.0 1590.3 617.1 1590.4 619.2 1590.5 621.3 1590.6 623.4 1590.6 625.6 1590.7 627.7 1590.8 629.8 1590.9 631.9 1590.9 634.1 1591.0 636.2 1591.1 638.3 1591.2 640.4 1591.2 642.6 1591.3 644.7 1591.4 646.8 1591.5 648.9 1591.6 651.1 1591.6 653.2 1591.7 655.3 1591.8 657.4 1591.9 659.6 1592.0 661.7 1592.1 663.8 1592.2 665.9 1592.3 668.0 1592.4 670.2 1592.6 672.3 1592.7 674.4 1592.8 676.5 1593.0 678.7 1593.1 680.8 1593.2 682.9 1593.4 685.0 1593.6 687.2 1593.7 689.3 1593.9 691.4 1594.1 693.5 1594.3 695.7 1594.6 697.8 1594.8 699.9 1595.2 702.0 1595.5 704.2 1595.9 706.3 1596.3 708.4 1596.8 710.5 1597.3 712.6 1597.8 714.8 1598.3 716.9 1598.9 719.0 1599.5 721.1 1600.2 723.3 1600.9 725.4 1601.9 727.5 1603.1 729.6 1604.5 731.8 1605.9 733.9 1607.4 736.0 1609.0 738.1 1610.6 740.3 1612.2 742.4 1613.7 744.5 1615.1 746.6 1616.4 748.8 1617.7 750.9 1619.1 753.0 1620.4 755.1 1621.7 757.2 1623.0 759.4 1624.3 761.5 1625.6 763.6 1626.9 765.7 1628.2 767.9 1629.6 770.0 1630.9" stroke="#e00000" stroke-width="1.4" fill="none" stroke-linejoin="round"/><path d="M600.1 1589.7 602.2 1589.9 604.3 1590.0 606.5 1590.2 608.6 1590.3 610.7 1590.4 612.8 1590.6 615.0 1590.7 617.1 1590.8 619.2 1590.9 621.3 1591.1 623.4 1591.2 625.6 1591.3 627.7 1591.4 629.8 1591.5 631.9 1591.7 634.1 1591.8 636.2 1591.9 638.3 1592.0 640.4 1592.1 642.6 1592.3 644.7 1592.4 646.8 1592.5 648.9 1592.7 651.1 1592.8 653.2 1592.9 655.3 1593.1 657.4 1593.2 659.6 1593.4 661.7 1593.5 663.8 1593.7 665.9 1593.8 668.0 1594.0 670.2 1594.2 672.3 1594.3 674.4 1594.5 676.5 1594.7 678.7 1594.9 680.8 1595.1 682.9 1595.3 685.0 1595.5 687.2 1595.8 689.3 1596.0 691.4 1596.2 693.5 1596.5 695.7 1596.8 697.8 1597.1 699.9 1597.4 702.0 1597.8 704.2 1598.2 706.3 1598.6 708.4 1599.0 710.5 1599.5 712.6 1600.0 714.8 1600.5 716.9 1601.1 719.0 1601.7 721.1 1602.3 723.3 1603.0 725.4 1603.8 727.5 1604.7 729.6 1605.6 731.8 1606.7 733.9 1607.9 736.0 1609.2 738.1 1610.5 740.3 1612.0 742.4 1613.5 744.5 1615.1 746.6 1616.9 748.8 1619.1 750.9 1621.5 753.0 1624.2 755.1 1627.1 757.2 1630.2 759.4 1633.3 761.5 1636.5 763.6 1639.7 765.7 1642.9 767.9 1645.9 770.0 1648.8" stroke="#e00000" stroke-width="1.4" fill="none" stroke-linejoin="round"/><path d="M600.1 1591.8 602.2 1592.1 604.3 1592.3 606.5 1592.6 608.6 1592.8 610.7 1593.0 612.8 1593.3 615.0 1593.5 617.1 1593.7 619.2 1593.9 621.3 1594.1 623.4 1594.4 625.6 1594.6 627.7 1594.8 629.8 1595.0 631.9 1595.2 634.1 1595.5 636.2 1595.7 638.3 1595.9 640.4 1596.2 642.6 1596.4 644.7 1596.7 646.8 1596.9 648.9 1597.2 651.1 1597.5 653.2 1597.8 655.3 1598.1 657.4 1598.4 659.6 1598.7 661.7 1599.0 663.8 1599.4 665.9 1599.8 668.0 1600.1 670.2 1600.6 672.3 1601.1 674.4 1601.6 676.5 1602.2 678.7 1602.9 680.8 1603.6 682.9 1604.3 685.0 1605.0 687.2 1605.7 689.3 1606.4 691.4 1607.1 693.5 1607.7 695.7 1608.3 697.8 1608.9 699.9 1609.5 702.0 1610.2 704.2 1610.8 706.3 1611.4 708.4 1612.1 710.5 1612.8 712.6 1613.5 714.8 1614.3 716.9 1615.1 719.0 1616.0 721.1 1617.0 723.3 1618.1 725.4 1619.4 727.5 1620.8 729.6 1622.3 731.8 1624.0 733.9 1625.8 736.0 1627.7 738.1 1629.7 740.3 1631.8 742.4 1634.0 744.5 1636.2 746.6 1638.6 748.8 1641.2 750.9 1644.1 753.0 1647.2 755.1 1650.4 757.2 1653.8 759.4 1657.2 761.5 1660.7 763.6 1664.1 765.7 1667.5 767.9 1670.9 770.0 1674.1" stroke="#e00000" stroke-width="1.4" fill="none" stroke-linejoin="round"/><g fill="#ff0000" stroke="#b80008" stroke-width="0.9"><circle cx="600.08" cy="1541.82" r="4.2"/><circle cx="600.08" cy="1560.18" r="4.2"/><circle cx="600.08" cy="1564.82" r="4.2"/><circle cx="600.08" cy="1569.25" r="4.2"/><circle cx="600.08" cy="1573.89" r="4.2"/><circle cx="600.08" cy="1577.48" r="4.2"/><circle cx="600.08" cy="1587.61" r="4.2"/><circle cx="600.08" cy="1593.94" r="4.2"/><circle cx="600.08" cy="1618.63" r="4.2"/><circle cx="621.03" cy="1540.98" r="4.2"/><circle cx="621.03" cy="1550.05" r="4.2"/><circle cx="621.03" cy="1555.54" r="4.2"/><circle cx="621.03" cy="1569.25" r="4.2"/><circle cx="621.03" cy="1574.74" r="4.2"/><circle cx="621.03" cy="1588.45" r="4.2"/><circle cx="621.03" cy="1597.74" r="4.2"/><circle cx="621.03" cy="1611.45" r="4.2"/><circle cx="637.22" cy="1511.44" r="4.2"/><circle cx="637.22" cy="1561.02" r="4.2"/><circle cx="637.22" cy="1566.51" r="4.2"/><circle cx="637.22" cy="1572" r="4.2"/><circle cx="637.22" cy="1577.48" r="4.2"/><circle cx="637.22" cy="1613.14" r="4.2"/><circle cx="668.71" cy="1546.46" r="4.2"/><circle cx="668.71" cy="1556.59" r="4.2"/><circle cx="668.71" cy="1561.02" r="4.2"/><circle cx="668.71" cy="1575.79" r="4.2"/><circle cx="668.71" cy="1590.35" r="4.2"/><circle cx="668.71" cy="1603.22" r="4.2"/><circle cx="689.81" cy="1547.31" r="4.2"/><circle cx="689.81" cy="1559.34" r="4.2"/><circle cx="689.81" cy="1567.57" r="4.2"/><circle cx="689.81" cy="1576.64" r="4.2"/><circle cx="689.81" cy="1588.45" r="4.2"/><circle cx="689.81" cy="1593.94" r="4.2"/><circle cx="689.81" cy="1599.43" r="4.2"/><circle cx="689.81" cy="1606.81" r="4.2"/><circle cx="689.81" cy="1623.27" r="4.2"/><circle cx="721.41" cy="1533.38" r="4.2"/><circle cx="721.41" cy="1565.67" r="4.2"/><circle cx="721.41" cy="1579.38" r="4.2"/><circle cx="721.41" cy="1584.87" r="4.2"/><circle cx="721.41" cy="1590.35" r="4.2"/><circle cx="721.41" cy="1595.84" r="4.2"/><circle cx="744.46" cy="1571.15" r="4.2"/><circle cx="744.46" cy="1590.35" r="4.2"/><circle cx="744.46" cy="1593.94" r="4.2"/><circle cx="744.46" cy="1610.4" r="4.2"/><circle cx="744.46" cy="1615.88" r="4.2"/><circle cx="744.46" cy="1621.37" r="4.2"/><circle cx="744.46" cy="1653.44" r="4.2"/><circle cx="769.99" cy="1590.35" r="4.2"/><circle cx="769.99" cy="1593.94" r="4.2"/><circle cx="769.99" cy="1610.4" r="4.2"/><circle cx="769.99" cy="1615.88" r="4.2"/><circle cx="769.99" cy="1625.17" r="4.2"/><circle cx="769.99" cy="1634.24" r="4.2"/><circle cx="769.99" cy="1657.03" r="4.2"/><circle cx="769.99" cy="1661.67" r="4.2"/><circle cx="769.99" cy="1682.77" r="4.2"/></g></g>
<g><path d="M994.7 1478.2V1809.8M993.1 1796.5H1207.3M981.4 1796.5H994.7M981.4 1690.93H994.7M981.4 1585.37H994.7M981.4 1479.8H994.7M1047.45 1796.5V1809.8M1100.2 1796.5V1809.8M1152.95 1796.5V1809.8M1205.7 1796.5V1809.8" stroke="#000" stroke-width="3.2" fill="none"/><text x="976.2" y="1805.4" font-size="25" text-anchor="end">0</text><text x="976.2" y="1699.83" font-size="25" text-anchor="end">50</text><text x="976.2" y="1594.27" font-size="25" text-anchor="end">100</text><text x="976.2" y="1488.7" font-size="25" text-anchor="end">150</text><text x="994.7" y="1837.1" font-size="25" text-anchor="middle">-5</text><text x="1047.45" y="1837.1" font-size="25" text-anchor="middle">-4</text><text x="1100.2" y="1837.1" font-size="25" text-anchor="middle">-3</text><text x="1152.95" y="1837.1" font-size="25" text-anchor="middle">-2</text><text x="1205.7" y="1837.1" font-size="25" text-anchor="middle">-1</text><text x="1100.2" y="1874.7" font-size="25.5" text-anchor="middle">Log<tspan font-size="20" dy="8.8">10</tspan><tspan dy="-8.8"> (1/serum dilution)</tspan></text><text transform="translate(921 1638.15) rotate(-90)" font-size="30" text-anchor="middle">% Relative Infection</text><path d="M1010.7 1585.4 1012.8 1585.4 1014.9 1585.4 1017.1 1585.4 1019.2 1585.4 1021.3 1585.4 1023.4 1585.4 1025.6 1585.4 1027.7 1585.4 1029.8 1585.4 1031.9 1585.4 1034.0 1585.4 1036.2 1585.4 1038.3 1585.4 1040.4 1585.4 1042.5 1585.4 1044.7 1585.4 1046.8 1585.4 1048.9 1585.4 1051.0 1585.4 1053.2 1585.4 1055.3 1585.4 1057.4 1585.4 1059.5 1585.4 1061.7 1585.4 1063.8 1585.4 1065.9 1585.4 1068.0 1585.4 1070.2 1585.4 1072.3 1585.4 1074.4 1585.4 1076.5 1585.4 1078.6 1585.4 1080.8 1585.4 1082.9 1585.4 1085.0 1585.4 1087.1 1585.4 1089.3 1585.4 1091.4 1585.4 1093.5 1585.4 1095.6 1585.4 1097.8 1585.4 1099.9 1585.4 1102.0 1585.4 1104.1 1585.4 1106.3 1585.4 1108.4 1585.4 1110.5 1585.4 1112.6 1585.4 1114.8 1585.4 1116.9 1585.4 1119.0 1585.4 1121.1 1585.4 1123.2 1585.4 1125.4 1585.4 1127.5 1585.4 1129.6 1585.4 1131.7 1585.4 1133.9 1585.4 1136.0 1585.4 1138.1 1585.4 1140.2 1585.4 1142.4 1585.4 1144.5 1585.4 1146.6 1585.4 1148.7 1585.4 1150.9 1585.4 1153.0 1585.4 1155.1 1585.4 1157.2 1585.4 1159.4 1585.4 1161.5 1585.4 1163.6 1585.4 1165.7 1585.4 1167.8 1585.4 1170.0 1585.4 1172.1 1585.4 1174.2 1585.4 1176.3 1585.4 1178.5 1585.4 1180.6 1585.4" stroke="#0000e6" stroke-width="1.4" fill="none" stroke-linejoin="round"/><path d="M1010.7 1588.1 1012.8 1588.1 1014.9 1588.1 1017.1 1588.1 1019.2 1588.1 1021.3 1588.1 1023.4 1588.1 1025.6 1588.1 1027.7 1588.1 1029.8 1588.1 1031.9 1588.1 1034.0 1588.1 1036.2 1588.1 1038.3 1588.1 1040.4 1588.1 1042.5 1588.1 1044.7 1588.1 1046.8 1588.1 1048.9 1588.1 1051.0 1588.1 1053.2 1588.1 1055.3 1588.1 1057.4 1588.1 1059.5 1588.1 1061.7 1588.1 1063.8 1588.1 1065.9 1588.1 1068.0 1588.1 1070.2 1588.1 1072.3 1588.1 1074.4 1588.1 1076.5 1588.1 1078.6 1588.1 1080.8 1588.1 1082.9 1588.1 1085.0 1588.1 1087.1 1588.1 1089.3 1588.1 1091.4 1588.1 1093.5 1588.1 1095.6 1588.1 1097.8 1588.1 1099.9 1588.1 1102.0 1588.1 1104.1 1588.1 1106.3 1588.1 1108.4 1588.1 1110.5 1588.1 1112.6 1588.1 1114.8 1588.1 1116.9 1588.1 1119.0 1588.1 1121.1 1588.1 1123.2 1588.1 1125.4 1588.1 1127.5 1588.1 1129.6 1588.1 1131.7 1588.1 1133.9 1588.1 1136.0 1588.1 1138.1 1588.1 1140.2 1588.1 1142.4 1588.1 1144.5 1588.1 1146.6 1588.1 1148.7 1588.1 1150.9 1588.1 1153.0 1588.1 1155.1 1588.1 1157.2 1588.1 1159.4 1588.1 1161.5 1588.1 1163.6 1588.1 1165.7 1588.1 1167.8 1588.1 1170.0 1588.1 1172.1 1588.1 1174.2 1588.1 1176.3 1588.1 1178.5 1588.1 1180.6 1588.1" stroke="#0000e6" stroke-width="1.4" fill="none" stroke-linejoin="round"/><path d="M1010.7 1597.4 1012.8 1597.4 1014.9 1597.4 1017.1 1597.4 1019.2 1597.4 1021.3 1597.4 1023.4 1597.4 1025.6 1597.4 1027.7 1597.4 1029.8 1597.4 1031.9 1597.4 1034.0 1597.4 1036.2 1597.4 1038.3 1597.4 1040.4 1597.4 1042.5 1597.4 1044.7 1597.4 1046.8 1597.4 1048.9 1597.4 1051.0 1597.4 1053.2 1597.4 1055.3 1597.4 1057.4 1597.4 1059.5 1597.4 1061.7 1597.4 1063.8 1597.4 1065.9 1597.4 1068.0 1597.4 1070.2 1597.4 1072.3 1597.4 1074.4 1597.4 1076.5 1597.4 1078.6 1597.4 1080.8 1597.4 1082.9 1597.4 1085.0 1597.4 1087.1 1597.4 1089.3 1597.4 1091.4 1597.4 1093.5 1597.4 1095.6 1597.4 1097.8 1597.4 1099.9 1597.4 1102.0 1597.4 1104.1 1597.4 1106.3 1597.4 1108.4 1597.4 1110.5 1597.4 1112.6 1597.4 1114.8 1597.4 1116.9 1597.4 1119.0 1597.4 1121.1 1597.4 1123.2 1597.4 1125.4 1597.4 1127.5 1597.4 1129.6 1597.4 1131.7 1597.4 1133.9 1597.4 1136.0 1597.4 1138.1 1597.4 1140.2 1597.4 1142.4 1597.4 1144.5 1597.4 1146.6 1597.4 1148.7 1597.4 1150.9 1597.4 1153.0 1597.4 1155.1 1597.4 1157.2 1597.4 1159.4 1597.4 1161.5 1597.4 1163.6 1597.4 1165.7 1597.4 1167.8 1597.4 1170.0 1597.4 1172.1 1597.4 1174.2 1597.4 1176.3 1597.4 1178.5 1597.4 1180.6 1597.4" stroke="#0000e6" stroke-width="1.4" fill="none" stroke-linejoin="round"/><path d="M1010.7 1588.1 1012.8 1588.1 1014.9 1588.1 1017.1 1588.1 1019.2 1588.1 1021.3 1588.1 1023.4 1588.1 1025.6 1588.1 1027.7 1588.1 1029.8 1588.1 1031.9 1588.1 1034.0 1588.1 1036.2 1588.1 1038.3 1588.1 1040.4 1588.1 1042.5 1588.1 1044.7 1588.2 1046.8 1588.2 1048.9 1588.2 1051.0 1588.2 1053.2 1588.2 1055.3 1588.2 1057.4 1588.2 1059.5 1588.2 1061.7 1588.2 1063.8 1588.2 1065.9 1588.2 1068.0 1588.2 1070.2 1588.2 1072.3 1588.2 1074.4 1588.2 1076.5 1588.2 1078.6 1588.2 1080.8 1588.2 1082.9 1588.2 1085.0 1588.2 1087.1 1588.2 1089.3 1588.2 1091.4 1588.2 1093.5 1588.2 1095.6 1588.2 1097.8 1588.2 1099.9 1588.2 1102.0 1588.2 1104.1 1588.2 1106.3 1588.2 1108.4 1588.2 1110.5 1588.2 1112.6 1588.3 1114.8 1588.3 1116.9 1588.3 1119.0 1588.3 1121.1 1588.3 1123.2 1588.3 1125.4 1588.3 1127.5 1588.3 1129.6 1588.3 1131.7 1588.3 1133.9 1588.3 1136.0 1588.4 1138.1 1588.5 1140.2 1588.6 1142.4 1588.8 1144.5 1589.0 1146.6 1589.3 1148.7 1589.8 1150.9 1590.6 1153.0 1591.6 1155.1 1592.8 1157.2 1594.4 1159.4 1596.6 1161.5 1599.4 1163.6 1602.7 1165.7 1606.5 1167.8 1610.8 1170.0 1616.6 1172.1 1624.7 1174.2 1634.2 1176.3 1644.5 1178.5 1654.8 1180.6 1664.3" stroke="#0000e6" stroke-width="1.4" fill="none" stroke-linejoin="round"/><g fill="#0000ff" stroke="#0000a8" stroke-width="0.9"><circle cx="1010.68" cy="1503.24" r="4.2"/><circle cx="1010.68" cy="1528.99" r="4.2"/><circle cx="1010.68" cy="1544.41" r="4.2"/><circle cx="1010.68" cy="1571.01" r="4.2"/><circle cx="1010.68" cy="1577.34" r="4.2"/><circle cx="1010.68" cy="1582.83" r="4.2"/><circle cx="1010.68" cy="1592.97" r="4.2"/><circle cx="1010.68" cy="1597.61" r="4.2"/><circle cx="1010.68" cy="1602.05" r="4.2"/><circle cx="1031.62" cy="1547.15" r="4.2"/><circle cx="1031.62" cy="1561.93" r="4.2"/><circle cx="1031.62" cy="1570.17" r="4.2"/><circle cx="1031.62" cy="1575.65" r="4.2"/><circle cx="1031.62" cy="1581.14" r="4.2"/><circle cx="1031.62" cy="1593.81" r="4.2"/><circle cx="1031.62" cy="1617.67" r="4.2"/><circle cx="1047.82" cy="1501.34" r="4.2"/><circle cx="1047.82" cy="1509.78" r="4.2"/><circle cx="1047.82" cy="1562.78" r="4.2"/><circle cx="1047.82" cy="1571.01" r="4.2"/><circle cx="1047.82" cy="1581.99" r="4.2"/><circle cx="1047.82" cy="1592.12" r="4.2"/><circle cx="1047.82" cy="1595.71" r="4.2"/><circle cx="1047.82" cy="1600.36" r="4.2"/><circle cx="1079.31" cy="1538.92" r="4.2"/><circle cx="1079.31" cy="1544.41" r="4.2"/><circle cx="1079.31" cy="1553.7" r="4.2"/><circle cx="1079.31" cy="1569.11" r="4.2"/><circle cx="1079.31" cy="1572.7" r="4.2"/><circle cx="1079.31" cy="1595.71" r="4.2"/><circle cx="1079.31" cy="1617.67" r="4.2"/><circle cx="1100.41" cy="1553.7" r="4.2"/><circle cx="1100.41" cy="1559.19" r="4.2"/><circle cx="1100.41" cy="1562.78" r="4.2"/><circle cx="1100.41" cy="1573.75" r="4.2"/><circle cx="1100.41" cy="1578.4" r="4.2"/><circle cx="1100.41" cy="1582.83" r="4.2"/><circle cx="1132.01" cy="1530.68" r="4.2"/><circle cx="1132.01" cy="1542.72" r="4.2"/><circle cx="1132.01" cy="1563.62" r="4.2"/><circle cx="1132.01" cy="1583.89" r="4.2"/><circle cx="1132.01" cy="1588.32" r="4.2"/><circle cx="1132.01" cy="1593.81" r="4.2"/><circle cx="1132.01" cy="1600.36" r="4.2"/><circle cx="1155.06" cy="1554.54" r="4.2"/><circle cx="1155.06" cy="1566.36" r="4.2"/><circle cx="1155.06" cy="1583.89" r="4.2"/><circle cx="1155.06" cy="1588.32" r="4.2"/><circle cx="1155.06" cy="1593.81" r="4.2"/><circle cx="1155.06" cy="1599.3" r="4.2"/><circle cx="1155.06" cy="1604.79" r="4.2"/><circle cx="1180.59" cy="1552.22" r="4.2"/><circle cx="1180.59" cy="1568.26" r="4.2"/><circle cx="1180.59" cy="1589.38" r="4.2"/><circle cx="1180.59" cy="1595.71" r="4.2"/><circle cx="1180.59" cy="1604.79" r="4.2"/><circle cx="1180.59" cy="1610.28" r="4.2"/><circle cx="1180.59" cy="1614.08" r="4.2"/><circle cx="1180.59" cy="1617.67" r="4.2"/><circle cx="1180.59" cy="1628.65" r="4.2"/><circle cx="1180.59" cy="1666.23" r="4.2"/></g></g>
<g><path d="M1405.9 1482.5V1816.5M1404.3 1803.2H1618.5M1392.6 1803.2H1405.9M1392.6 1696.83H1405.9M1392.6 1590.47H1405.9M1392.6 1484.1H1405.9M1458.65 1803.2V1816.5M1511.4 1803.2V1816.5M1564.15 1803.2V1816.5M1616.9 1803.2V1816.5" stroke="#000" stroke-width="3.2" fill="none"/><text x="1387.4" y="1812.1" font-size="25" text-anchor="end">0</text><text x="1387.4" y="1705.73" font-size="25" text-anchor="end">50</text><text x="1387.4" y="1599.37" font-size="25" text-anchor="end">100</text><text x="1387.4" y="1493" font-size="25" text-anchor="end">150</text><text x="1405.9" y="1843.8" font-size="25" text-anchor="middle">-5</text><text x="1458.65" y="1843.8" font-size="25" text-anchor="middle">-4</text><text x="1511.4" y="1843.8" font-size="25" text-anchor="middle">-3</text><text x="1564.15" y="1843.8" font-size="25" text-anchor="middle">-2</text><text x="1616.9" y="1843.8" font-size="25" text-anchor="middle">-1</text><text x="1511.4" y="1881.4" font-size="25.5" text-anchor="middle">Log<tspan font-size="20" dy="8.8">10</tspan><tspan dy="-8.8"> (1/serum dilution)</tspan></text><text transform="translate(1332.2 1643.65) rotate(-90)" font-size="30" text-anchor="middle">% Relative Infection</text><path d="M1421.9 1590.5 1424.0 1590.5 1426.1 1590.5 1428.3 1590.5 1430.4 1590.5 1432.5 1590.5 1434.6 1590.5 1436.8 1590.5 1438.9 1590.5 1441.0 1590.5 1443.1 1590.5 1445.2 1590.5 1447.4 1590.5 1449.5 1590.5 1451.6 1590.5 1453.7 1590.5 1455.9 1590.5 1458.0 1590.5 1460.1 1590.5 1462.2 1590.5 1464.4 1590.5 1466.5 1590.5 1468.6 1590.5 1470.7 1590.5 1472.9 1590.5 1475.0 1590.5 1477.1 1590.5 1479.2 1590.5 1481.4 1590.5 1483.5 1590.5 1485.6 1590.5 1487.7 1590.5 1489.8 1590.5 1492.0 1590.5 1494.1 1590.5 1496.2 1590.5 1498.3 1590.5 1500.5 1590.5 1502.6 1590.5 1504.7 1590.5 1506.8 1590.5 1509.0 1590.5 1511.1 1590.5 1513.2 1590.5 1515.3 1590.5 1517.5 1590.5 1519.6 1590.5 1521.7 1590.5 1523.8 1590.5 1526.0 1590.5 1528.1 1590.5 1530.2 1590.5 1532.3 1590.5 1534.4 1590.5 1536.6 1590.5 1538.7 1590.5 1540.8 1590.5 1542.9 1590.5 1545.1 1590.5 1547.2 1590.5 1549.3 1590.5 1551.4 1590.5 1553.6 1590.5 1555.7 1590.5 1557.8 1590.5 1559.9 1590.5 1562.1 1590.5 1564.2 1590.5 1566.3 1590.5 1568.4 1590.5 1570.6 1590.5 1572.7 1590.5 1574.8 1590.5 1576.9 1590.5 1579.0 1590.5 1581.2 1590.5 1583.3 1590.5 1585.4 1590.5 1587.5 1590.5 1589.7 1592.4 1591.8 1596.8" stroke="#f07a00" stroke-width="1.4" fill="none" stroke-linejoin="round"/><path d="M1421.9 1599.4 1424.0 1599.4 1426.1 1599.4 1428.3 1599.4 1430.4 1599.4 1432.5 1599.4 1434.6 1599.4 1436.8 1599.4 1438.9 1599.4 1441.0 1599.4 1443.1 1599.4 1445.2 1599.4 1447.4 1599.4 1449.5 1599.4 1451.6 1599.4 1453.7 1599.4 1455.9 1599.4 1458.0 1599.4 1460.1 1599.4 1462.2 1599.4 1464.4 1599.4 1466.5 1599.4 1468.6 1599.4 1470.7 1599.4 1472.9 1599.4 1475.0 1599.4 1477.1 1599.4 1479.2 1599.4 1481.4 1599.4 1483.5 1599.4 1485.6 1599.4 1487.7 1599.4 1489.8 1599.4 1492.0 1599.4 1494.1 1599.4 1496.2 1599.4 1498.3 1599.4 1500.5 1599.4 1502.6 1599.4 1504.7 1599.4 1506.8 1599.4 1509.0 1599.4 1511.1 1599.4 1513.2 1599.4 1515.3 1599.4 1517.5 1599.4 1519.6 1599.4 1521.7 1599.4 1523.8 1599.4 1526.0 1599.4 1528.1 1599.4 1530.2 1599.4 1532.3 1599.4 1534.4 1599.4 1536.6 1599.4 1538.7 1599.4 1540.8 1599.4 1542.9 1599.4 1545.1 1599.4 1547.2 1599.4 1549.3 1599.4 1551.4 1599.4 1553.6 1599.4 1555.7 1599.4 1557.8 1599.4 1559.9 1599.4 1562.1 1599.4 1564.2 1599.4 1566.3 1599.4 1568.4 1599.4 1570.6 1599.4 1572.7 1599.4 1574.8 1599.4 1576.9 1599.4 1579.0 1599.4 1581.2 1599.4 1583.3 1599.4 1585.4 1599.4 1587.5 1599.4 1589.7 1601.6 1591.8 1606.4" stroke="#f07a00" stroke-width="1.4" fill="none" stroke-linejoin="round"/><path d="M1421.9 1591.3 1424.0 1591.3 1426.1 1591.3 1428.3 1591.3 1430.4 1591.4 1432.5 1591.4 1434.6 1591.4 1436.8 1591.4 1438.9 1591.4 1441.0 1591.4 1443.1 1591.4 1445.2 1591.4 1447.4 1591.4 1449.5 1591.4 1451.6 1591.4 1453.7 1591.4 1455.9 1591.4 1458.0 1591.4 1460.1 1591.4 1462.2 1591.4 1464.4 1591.4 1466.5 1591.4 1468.6 1591.5 1470.7 1591.5 1472.9 1591.5 1475.0 1591.5 1477.1 1591.5 1479.2 1591.5 1481.4 1591.5 1483.5 1591.5 1485.6 1591.5 1487.7 1591.5 1489.8 1591.5 1492.0 1591.6 1494.1 1591.6 1496.2 1591.6 1498.3 1591.6 1500.5 1591.6 1502.6 1591.6 1504.7 1591.7 1506.8 1591.7 1509.0 1591.7 1511.1 1591.7 1513.2 1591.8 1515.3 1592.1 1517.5 1592.5 1519.6 1593.1 1521.7 1593.7 1523.8 1594.5 1526.0 1595.2 1528.1 1596.0 1530.2 1597.0 1532.3 1598.1 1534.4 1599.5 1536.6 1600.9 1538.7 1602.6 1540.8 1604.3 1542.9 1606.2 1545.1 1608.2 1547.2 1610.5 1549.3 1613.1 1551.4 1615.9 1553.6 1618.9 1555.7 1622.1 1557.8 1625.6 1559.9 1629.3 1562.1 1633.2 1564.2 1637.3 1566.3 1641.6 1568.4 1646.4 1570.6 1651.9 1572.7 1658.1 1574.8 1664.8 1576.9 1671.9 1579.0 1679.3 1581.2 1686.9 1583.3 1694.6 1585.4 1702.4 1587.5 1710.0 1589.7 1717.4 1591.8 1724.5" stroke="#f07a00" stroke-width="1.4" fill="none" stroke-linejoin="round"/><g fill="#ff8000" stroke="#c86a08" stroke-width="0.9"><circle cx="1421.88" cy="1534.09" r="4.2"/><circle cx="1421.88" cy="1556" r="4.2"/><circle cx="1421.88" cy="1559.62" r="4.2"/><circle cx="1421.88" cy="1567.92" r="4.2"/><circle cx="1421.88" cy="1578.13" r="4.2"/><circle cx="1421.88" cy="1581.74" r="4.2"/><circle cx="1421.88" cy="1586.21" r="4.2"/><circle cx="1421.88" cy="1590.89" r="4.2"/><circle cx="1421.88" cy="1606.42" r="4.2"/><circle cx="1442.83" cy="1530.48" r="4.2"/><circle cx="1442.83" cy="1546.86" r="4.2"/><circle cx="1442.83" cy="1552.39" r="4.2"/><circle cx="1442.83" cy="1566.22" r="4.2"/><circle cx="1442.83" cy="1584.51" r="4.2"/><circle cx="1442.83" cy="1603.66" r="4.2"/><circle cx="1442.83" cy="1607.27" r="4.2"/><circle cx="1459.02" cy="1496.65" r="4.2"/><circle cx="1459.02" cy="1519.41" r="4.2"/><circle cx="1459.02" cy="1524.94" r="4.2"/><circle cx="1459.02" cy="1530.48" r="4.2"/><circle cx="1459.02" cy="1563.45" r="4.2"/><circle cx="1459.02" cy="1578.98" r="4.2"/><circle cx="1459.02" cy="1588.13" r="4.2"/><circle cx="1459.02" cy="1620.04" r="4.2"/><circle cx="1490.51" cy="1522.18" r="4.2"/><circle cx="1490.51" cy="1534.09" r="4.2"/><circle cx="1490.51" cy="1546.86" r="4.2"/><circle cx="1490.51" cy="1570.68" r="4.2"/><circle cx="1490.51" cy="1576.21" r="4.2"/><circle cx="1490.51" cy="1581.74" r="4.2"/><circle cx="1490.51" cy="1587.28" r="4.2"/><circle cx="1490.51" cy="1603.66" r="4.2"/><circle cx="1490.51" cy="1609.19" r="4.2"/><circle cx="1511.61" cy="1522.18" r="4.2"/><circle cx="1511.61" cy="1542.39" r="4.2"/><circle cx="1511.61" cy="1567.92" r="4.2"/><circle cx="1511.61" cy="1574.3" r="4.2"/><circle cx="1511.61" cy="1591.74" r="4.2"/><circle cx="1511.61" cy="1602.81" r="4.2"/><circle cx="1511.61" cy="1621.1" r="4.2"/><circle cx="1543.21" cy="1519.41" r="4.2"/><circle cx="1543.21" cy="1536.01" r="4.2"/><circle cx="1543.21" cy="1553.24" r="4.2"/><circle cx="1543.21" cy="1558.77" r="4.2"/><circle cx="1543.21" cy="1567.92" r="4.2"/><circle cx="1543.21" cy="1575.36" r="4.2"/><circle cx="1543.21" cy="1621.1" r="4.2"/><circle cx="1566.26" cy="1498.57" r="4.2"/><circle cx="1566.26" cy="1511.33" r="4.2"/><circle cx="1566.26" cy="1545.15" r="4.2"/><circle cx="1566.26" cy="1563.45" r="4.2"/><circle cx="1566.26" cy="1571.53" r="4.2"/><circle cx="1566.26" cy="1579.83" r="4.2"/><circle cx="1566.26" cy="1597.27" r="4.2"/><circle cx="1566.26" cy="1639.4" r="4.2"/><circle cx="1591.79" cy="1519.84" r="4.2"/><circle cx="1591.79" cy="1546.86" r="4.2"/><circle cx="1591.79" cy="1577.06" r="4.2"/><circle cx="1591.79" cy="1611.95" r="4.2"/><circle cx="1591.79" cy="1630.25" r="4.2"/><circle cx="1591.79" cy="1643.86" r="4.2"/><circle cx="1591.79" cy="1725.34" r="4.2"/></g></g>
<g><path d="M1815 1493.6V1826.6M1813.4 1813.3H2027.6M1801.7 1813.3H1815M1801.7 1707.27H1815M1801.7 1601.23H1815M1801.7 1495.2H1815M1867.75 1813.3V1826.6M1920.5 1813.3V1826.6M1973.25 1813.3V1826.6M2026 1813.3V1826.6" stroke="#000" stroke-width="3.2" fill="none"/><text x="1796.5" y="1822.2" font-size="25" text-anchor="end">0</text><text x="1796.5" y="1716.17" font-size="25" text-anchor="end">50</text><text x="1796.5" y="1610.13" font-size="25" text-anchor="end">100</text><text x="1796.5" y="1504.1" font-size="25" text-anchor="end">150</text><text x="1815" y="1853.9" font-size="25" text-anchor="middle">-5</text><text x="1867.75" y="1853.9" font-size="25" text-anchor="middle">-4</text><text x="1920.5" y="1853.9" font-size="25" text-anchor="middle">-3</text><text x="1973.25" y="1853.9" font-size="25" text-anchor="middle">-2</text><text x="2026" y="1853.9" font-size="25" text-anchor="middle">-1</text><text x="1920.5" y="1891.5" font-size="25.5" text-anchor="middle">Log<tspan font-size="20" dy="8.8">10</tspan><tspan dy="-8.8"> (1/serum dilution)</tspan></text><text transform="translate(1741.3 1654.25) rotate(-90)" font-size="30" text-anchor="middle">% Relative Infection</text><path d="M1831.0 1601.2 1833.1 1601.2 1835.2 1601.2 1837.4 1601.2 1839.5 1601.2 1841.6 1601.2 1843.7 1601.2 1845.9 1601.2 1848.0 1601.2 1850.1 1601.2 1852.2 1601.2 1854.3 1601.2 1856.5 1601.2 1858.6 1601.2 1860.7 1601.2 1862.8 1601.2 1865.0 1601.2 1867.1 1601.2 1869.2 1601.2 1871.3 1601.2 1873.5 1601.2 1875.6 1601.2 1877.7 1601.2 1879.8 1601.2 1882.0 1601.2 1884.1 1601.2 1886.2 1601.2 1888.3 1601.2 1890.5 1601.2 1892.6 1601.2 1894.7 1601.2 1896.8 1601.2 1898.9 1601.2 1901.1 1601.2 1903.2 1601.2 1905.3 1601.2 1907.4 1601.2 1909.6 1601.2 1911.7 1601.2 1913.8 1601.2 1915.9 1601.2 1918.1 1601.2 1920.2 1601.2 1922.3 1601.2 1924.4 1601.2 1926.6 1601.2 1928.7 1601.2 1930.8 1601.2 1932.9 1601.2 1935.1 1601.2 1937.2 1601.2 1939.3 1601.2 1941.4 1601.2 1943.5 1601.2 1945.7 1601.2 1947.8 1601.2 1949.9 1601.2 1952.0 1601.2 1954.2 1601.2 1956.3 1601.2 1958.4 1601.2 1960.5 1601.2 1962.7 1601.2 1964.8 1601.2 1966.9 1601.2 1969.0 1601.2 1971.2 1601.2 1973.3 1601.2 1975.4 1601.2 1977.5 1601.2 1979.7 1601.2 1981.8 1601.2 1983.9 1601.2 1986.0 1601.2 1988.1 1601.2 1990.3 1601.2 1992.4 1601.2 1994.5 1601.2 1996.6 1602.6 1998.8 1607.2 2000.9 1626.7" stroke="#7800f0" stroke-width="1.4" fill="none" stroke-linejoin="round"/><path d="M1831.0 1613.5 1833.1 1613.5 1835.2 1613.5 1837.4 1613.5 1839.5 1613.5 1841.6 1613.5 1843.7 1613.5 1845.9 1613.5 1848.0 1613.5 1850.1 1613.5 1852.2 1613.5 1854.3 1613.5 1856.5 1613.5 1858.6 1613.5 1860.7 1613.5 1862.8 1613.5 1865.0 1613.5 1867.1 1613.5 1869.2 1613.5 1871.3 1613.5 1873.5 1613.5 1875.6 1613.5 1877.7 1613.5 1879.8 1613.5 1882.0 1613.5 1884.1 1613.5 1886.2 1613.5 1888.3 1613.5 1890.5 1613.5 1892.6 1613.5 1894.7 1613.5 1896.8 1613.5 1898.9 1613.5 1901.1 1613.5 1903.2 1613.5 1905.3 1613.5 1907.4 1613.5 1909.6 1613.5 1911.7 1613.5 1913.8 1613.5 1915.9 1613.5 1918.1 1613.5 1920.2 1613.5 1922.3 1613.5 1924.4 1613.5 1926.6 1613.5 1928.7 1613.5 1930.8 1613.5 1932.9 1613.5 1935.1 1613.5 1937.2 1613.5 1939.3 1613.5 1941.4 1613.5 1943.5 1613.5 1945.7 1613.5 1947.8 1613.5 1949.9 1613.5 1952.0 1613.5 1954.2 1613.5 1956.3 1613.5 1958.4 1613.5 1960.5 1613.5 1962.7 1613.5 1964.8 1613.5 1966.9 1613.5 1969.0 1613.5 1971.2 1613.5 1973.3 1613.5 1975.4 1613.5 1977.5 1613.5 1979.7 1613.5 1981.8 1613.5 1983.9 1613.5 1986.0 1613.5 1988.1 1613.5 1990.3 1613.5 1992.4 1613.5 1994.5 1613.5 1996.6 1613.5 1998.8 1613.5 2000.9 1613.5" stroke="#7800f0" stroke-width="1.4" fill="none" stroke-linejoin="round"/><path d="M1831.0 1623.3 1833.1 1623.3 1835.2 1623.3 1837.4 1623.3 1839.5 1623.3 1841.6 1623.3 1843.7 1623.3 1845.9 1623.3 1848.0 1623.3 1850.1 1623.3 1852.2 1623.3 1854.3 1623.3 1856.5 1623.3 1858.6 1623.3 1860.7 1623.3 1862.8 1623.3 1865.0 1623.3 1867.1 1623.3 1869.2 1623.3 1871.3 1623.3 1873.5 1623.3 1875.6 1623.3 1877.7 1623.3 1879.8 1623.3 1882.0 1623.3 1884.1 1623.3 1886.2 1623.3 1888.3 1623.3 1890.5 1623.3 1892.6 1623.3 1894.7 1623.3 1896.8 1623.3 1898.9 1623.3 1901.1 1623.3 1903.2 1623.3 1905.3 1623.3 1907.4 1623.3 1909.6 1623.3 1911.7 1623.3 1913.8 1623.3 1915.9 1623.3 1918.1 1623.3 1920.2 1623.3 1922.3 1623.3 1924.4 1623.3 1926.6 1623.3 1928.7 1623.3 1930.8 1623.3 1932.9 1623.3 1935.1 1623.3 1937.2 1623.3 1939.3 1623.3 1941.4 1623.3 1943.5 1623.3 1945.7 1623.3 1947.8 1623.3 1949.9 1623.3 1952.0 1623.3 1954.2 1623.3 1956.3 1623.3 1958.4 1623.3 1960.5 1623.3 1962.7 1623.3 1964.8 1623.3 1966.9 1623.3 1969.0 1623.3 1971.2 1623.3 1973.3 1623.3 1975.4 1623.3 1977.5 1623.3 1979.7 1623.3 1981.8 1623.3 1983.9 1623.3 1986.0 1623.3 1988.1 1623.3 1990.3 1623.3 1992.4 1623.3 1994.5 1623.3 1996.6 1623.3 1998.8 1623.3 2000.9 1623.3" stroke="#7800f0" stroke-width="1.4" fill="none" stroke-linejoin="round"/><path d="M1831.0 1601.2 1833.1 1601.3 1835.2 1601.4 1837.4 1601.5 1839.5 1601.6 1841.6 1601.7 1843.7 1601.7 1845.9 1601.8 1848.0 1601.9 1850.1 1601.9 1852.2 1602.0 1854.3 1602.1 1856.5 1602.1 1858.6 1602.2 1860.7 1602.3 1862.8 1602.3 1865.0 1602.4 1867.1 1602.5 1869.2 1602.6 1871.3 1602.7 1873.5 1602.7 1875.6 1602.8 1877.7 1602.9 1879.8 1603.0 1882.0 1603.1 1884.1 1603.3 1886.2 1603.4 1888.3 1603.5 1890.5 1603.7 1892.6 1603.8 1894.7 1604.0 1896.8 1604.2 1898.9 1604.4 1901.1 1604.6 1903.2 1605.0 1905.3 1605.4 1907.4 1606.0 1909.6 1606.7 1911.7 1607.5 1913.8 1608.2 1915.9 1609.0 1918.1 1609.8 1920.2 1610.6 1922.3 1611.3 1924.4 1612.0 1926.6 1612.7 1928.7 1613.4 1930.8 1614.1 1932.9 1614.8 1935.1 1615.6 1937.2 1616.4 1939.3 1617.2 1941.4 1618.1 1943.5 1619.0 1945.7 1620.1 1947.8 1621.2 1949.9 1622.4 1952.0 1623.7 1954.2 1625.3 1956.3 1627.3 1958.4 1629.7 1960.5 1632.4 1962.7 1635.4 1964.8 1638.6 1966.9 1642.0 1969.0 1645.6 1971.2 1649.2 1973.3 1652.8 1975.4 1656.4 1977.5 1660.2 1979.7 1664.3 1981.8 1668.6 1983.9 1673.1 1986.0 1677.7 1988.1 1682.5 1990.3 1687.4 1992.4 1692.3 1994.5 1697.2 1996.6 1702.1 1998.8 1706.8 2000.9 1711.5" stroke="#7800f0" stroke-width="1.4" fill="none" stroke-linejoin="round"/><path d="M1831.0 1601.2 1833.1 1601.3 1835.2 1601.3 1837.4 1601.3 1839.5 1601.4 1841.6 1601.4 1843.7 1601.4 1845.9 1601.5 1848.0 1601.5 1850.1 1601.5 1852.2 1601.5 1854.3 1601.6 1856.5 1601.6 1858.6 1601.6 1860.7 1601.6 1862.8 1601.7 1865.0 1601.7 1867.1 1601.7 1869.2 1601.7 1871.3 1601.7 1873.5 1601.8 1875.6 1601.8 1877.7 1601.8 1879.8 1601.8 1882.0 1601.9 1884.1 1601.9 1886.2 1601.9 1888.3 1601.9 1890.5 1601.9 1892.6 1602.0 1894.7 1602.0 1896.8 1602.0 1898.9 1602.1 1901.1 1602.1 1903.2 1602.1 1905.3 1602.1 1907.4 1602.2 1909.6 1602.2 1911.7 1602.3 1913.8 1602.3 1915.9 1602.3 1918.1 1602.4 1920.2 1602.4 1922.3 1602.5 1924.4 1602.5 1926.6 1602.6 1928.7 1602.6 1930.8 1602.7 1932.9 1602.7 1935.1 1602.8 1937.2 1602.8 1939.3 1602.9 1941.4 1603.0 1943.5 1603.0 1945.7 1603.1 1947.8 1603.2 1949.9 1603.3 1952.0 1603.3 1954.2 1603.4 1956.3 1603.6 1958.4 1603.8 1960.5 1604.1 1962.7 1604.5 1964.8 1604.8 1966.9 1605.3 1969.0 1605.8 1971.2 1606.3 1973.3 1607.0 1975.4 1607.6 1977.5 1608.7 1979.7 1610.4 1981.8 1612.7 1983.9 1615.5 1986.0 1618.7 1988.1 1622.2 1990.3 1625.8 1992.4 1629.6 1994.5 1633.3 1996.6 1637.0 1998.8 1640.5 2000.9 1643.6" stroke="#7800f0" stroke-width="1.4" fill="none" stroke-linejoin="round"/><path d="M1831.0 1601.2 1833.1 1601.3 1835.2 1601.4 1837.4 1601.4 1839.5 1601.5 1841.6 1601.6 1843.7 1601.6 1845.9 1601.7 1848.0 1601.7 1850.1 1601.8 1852.2 1601.8 1854.3 1601.9 1856.5 1601.9 1858.6 1602.0 1860.7 1602.0 1862.8 1602.1 1865.0 1602.1 1867.1 1602.2 1869.2 1602.2 1871.3 1602.3 1873.5 1602.3 1875.6 1602.3 1877.7 1602.4 1879.8 1602.4 1882.0 1602.5 1884.1 1602.5 1886.2 1602.6 1888.3 1602.6 1890.5 1602.7 1892.6 1602.7 1894.7 1602.8 1896.8 1602.8 1898.9 1602.9 1901.1 1602.9 1903.2 1603.0 1905.3 1603.1 1907.4 1603.1 1909.6 1603.2 1911.7 1603.3 1913.8 1603.3 1915.9 1603.4 1918.1 1603.5 1920.2 1603.6 1922.3 1603.7 1924.4 1603.8 1926.6 1603.9 1928.7 1604.0 1930.8 1604.1 1932.9 1604.2 1935.1 1604.3 1937.2 1604.4 1939.3 1604.6 1941.4 1604.7 1943.5 1604.8 1945.7 1605.0 1947.8 1605.1 1949.9 1605.3 1952.0 1605.5 1954.2 1605.7 1956.3 1606.1 1958.4 1606.6 1960.5 1607.3 1962.7 1608.0 1964.8 1608.9 1966.9 1609.8 1969.0 1610.8 1971.2 1611.8 1973.3 1612.9 1975.4 1614.0 1977.5 1615.2 1979.7 1616.6 1981.8 1618.1 1983.9 1619.8 1986.0 1621.6 1988.1 1623.5 1990.3 1625.5 1992.4 1627.5 1994.5 1629.5 1996.6 1631.4 1998.8 1633.3 2000.9 1635.2" stroke="#7800f0" stroke-width="1.4" fill="none" stroke-linejoin="round"/><path d="M1831.0 1601.2 1833.1 1601.3 1835.2 1601.3 1837.4 1601.3 1839.5 1601.3 1841.6 1601.3 1843.7 1601.3 1845.9 1601.3 1848.0 1601.4 1850.1 1601.4 1852.2 1601.4 1854.3 1601.4 1856.5 1601.4 1858.6 1601.4 1860.7 1601.4 1862.8 1601.4 1865.0 1601.4 1867.1 1601.5 1869.2 1601.5 1871.3 1601.5 1873.5 1601.5 1875.6 1601.5 1877.7 1601.5 1879.8 1601.5 1882.0 1601.5 1884.1 1601.5 1886.2 1601.6 1888.3 1601.6 1890.5 1601.6 1892.6 1601.6 1894.7 1601.6 1896.8 1601.6 1898.9 1601.6 1901.1 1601.6 1903.2 1601.7 1905.3 1601.7 1907.4 1601.7 1909.6 1601.7 1911.7 1601.7 1913.8 1601.7 1915.9 1601.8 1918.1 1601.8 1920.2 1601.8 1922.3 1601.8 1924.4 1601.9 1926.6 1601.9 1928.7 1601.9 1930.8 1601.9 1932.9 1602.0 1935.1 1602.0 1937.2 1602.0 1939.3 1602.1 1941.4 1602.1 1943.5 1602.1 1945.7 1602.2 1947.8 1602.2 1949.9 1602.2 1952.0 1602.3 1954.2 1602.3 1956.3 1602.5 1958.4 1602.6 1960.5 1602.8 1962.7 1603.1 1964.8 1603.3 1966.9 1603.7 1969.0 1604.1 1971.2 1604.5 1973.3 1605.0 1975.4 1605.5 1977.5 1606.2 1979.7 1607.3 1981.8 1608.9 1983.9 1610.8 1986.0 1613.2 1988.1 1616.1 1990.3 1622.2 1992.4 1633.1 1994.5 1647.1 1996.6 1662.8 1998.8 1678.4 2000.9 1692.4" stroke="#7800f0" stroke-width="1.4" fill="none" stroke-linejoin="round"/><g fill="#8000ff" stroke="#5a00b8" stroke-width="0.9"><circle cx="1830.98" cy="1549.91" r="4.2"/><circle cx="1830.98" cy="1564.55" r="4.2"/><circle cx="1830.98" cy="1580.03" r="4.2"/><circle cx="1830.98" cy="1591.9" r="4.2"/><circle cx="1830.98" cy="1596.57" r="4.2"/><circle cx="1830.98" cy="1623.08" r="4.2"/><circle cx="1830.98" cy="1628.38" r="4.2"/><circle cx="1851.92" cy="1527.01" r="4.2"/><circle cx="1851.92" cy="1540.79" r="4.2"/><circle cx="1851.92" cy="1546.31" r="4.2"/><circle cx="1851.92" cy="1572.82" r="4.2"/><circle cx="1851.92" cy="1588.3" r="4.2"/><circle cx="1851.92" cy="1611.2" r="4.2"/><circle cx="1851.92" cy="1618.41" r="4.2"/><circle cx="1868.12" cy="1556.28" r="4.2"/><circle cx="1868.12" cy="1561.79" r="4.2"/><circle cx="1868.12" cy="1567.3" r="4.2"/><circle cx="1868.12" cy="1572.82" r="4.2"/><circle cx="1868.12" cy="1578.12" r="4.2"/><circle cx="1868.12" cy="1592.75" r="4.2"/><circle cx="1868.12" cy="1611.2" r="4.2"/><circle cx="1868.12" cy="1618.41" r="4.2"/><circle cx="1868.12" cy="1627.53" r="4.2"/><circle cx="1899.61" cy="1558.18" r="4.2"/><circle cx="1899.61" cy="1563.49" r="4.2"/><circle cx="1899.61" cy="1570.91" r="4.2"/><circle cx="1899.61" cy="1584.69" r="4.2"/><circle cx="1899.61" cy="1596.57" r="4.2"/><circle cx="1899.61" cy="1602.93" r="4.2"/><circle cx="1899.61" cy="1642.16" r="4.2"/><circle cx="1899.61" cy="1650.43" r="4.2"/><circle cx="1920.71" cy="1569" r="4.2"/><circle cx="1920.71" cy="1576.42" r="4.2"/><circle cx="1920.71" cy="1583.63" r="4.2"/><circle cx="1920.71" cy="1591.05" r="4.2"/><circle cx="1920.71" cy="1597.42" r="4.2"/><circle cx="1920.71" cy="1603.78" r="4.2"/><circle cx="1920.71" cy="1649.58" r="4.2"/><circle cx="1952.31" cy="1581.94" r="4.2"/><circle cx="1952.31" cy="1589.15" r="4.2"/><circle cx="1952.31" cy="1601.87" r="4.2"/><circle cx="1952.31" cy="1607.38" r="4.2"/><circle cx="1952.31" cy="1612.9" r="4.2"/><circle cx="1952.31" cy="1618.41" r="4.2"/><circle cx="1952.31" cy="1623.92" r="4.2"/><circle cx="1952.31" cy="1629.44" r="4.2"/><circle cx="1975.36" cy="1583.63" r="4.2"/><circle cx="1975.36" cy="1591.9" r="4.2"/><circle cx="1975.36" cy="1603.78" r="4.2"/><circle cx="1975.36" cy="1609.29" r="4.2"/><circle cx="1975.36" cy="1614.81" r="4.2"/><circle cx="1975.36" cy="1619.26" r="4.2"/><circle cx="1975.36" cy="1637.71" r="4.2"/><circle cx="1975.36" cy="1647.68" r="4.2"/><circle cx="2000.89" cy="1624.77" r="4.2"/><circle cx="2000.89" cy="1631.13" r="4.2"/><circle cx="2000.89" cy="1638.56" r="4.2"/><circle cx="2000.89" cy="1649.58" r="4.2"/><circle cx="2000.89" cy="1667.82" r="4.2"/><circle cx="2000.89" cy="1691.57" r="4.2"/><circle cx="2000.89" cy="1718.93" r="4.2"/></g></g>
<circle cx="48.2" cy="1960.1" r="10.3" fill="#000000" stroke="#000000" stroke-width="1"/>
<text x="110.4" y="1974.3" font-size="36.6">Control mRNA series</text>
<circle cx="554.8" cy="1959.8" r="10.3" fill="#ff0000" stroke="#b80008" stroke-width="1"/>
<text x="616.7" y="1974.3" font-size="36.6">mRNA-1273 series + PBS</text>
<circle cx="1135" cy="1960.3" r="10.3" fill="#0000ff" stroke="#0000a8" stroke-width="1"/>
<text x="1197.7" y="1974.3" font-size="36.6">mRNA-1273 series + mRNA-1273 (Wuhan-1)</text>
<circle cx="48.4" cy="2025.6" r="10.3" fill="#ff8000" stroke="#c86a08" stroke-width="1"/>
<text x="110.2" y="2039.4" font-size="36.6">mRNA-1273 series + mRNA-1273.214 (Wuhan-1/BA.1)</text>
<circle cx="1135" cy="2025.8" r="10.3" fill="#8000ff" stroke="#5a00b8" stroke-width="1"/>
<text x="1197.7" y="2039.4" font-size="36.6">mRNA-1273 series + mRNA-1273.222 (Wuhan-1/BA.4/5)</text>
</svg></body></html>
